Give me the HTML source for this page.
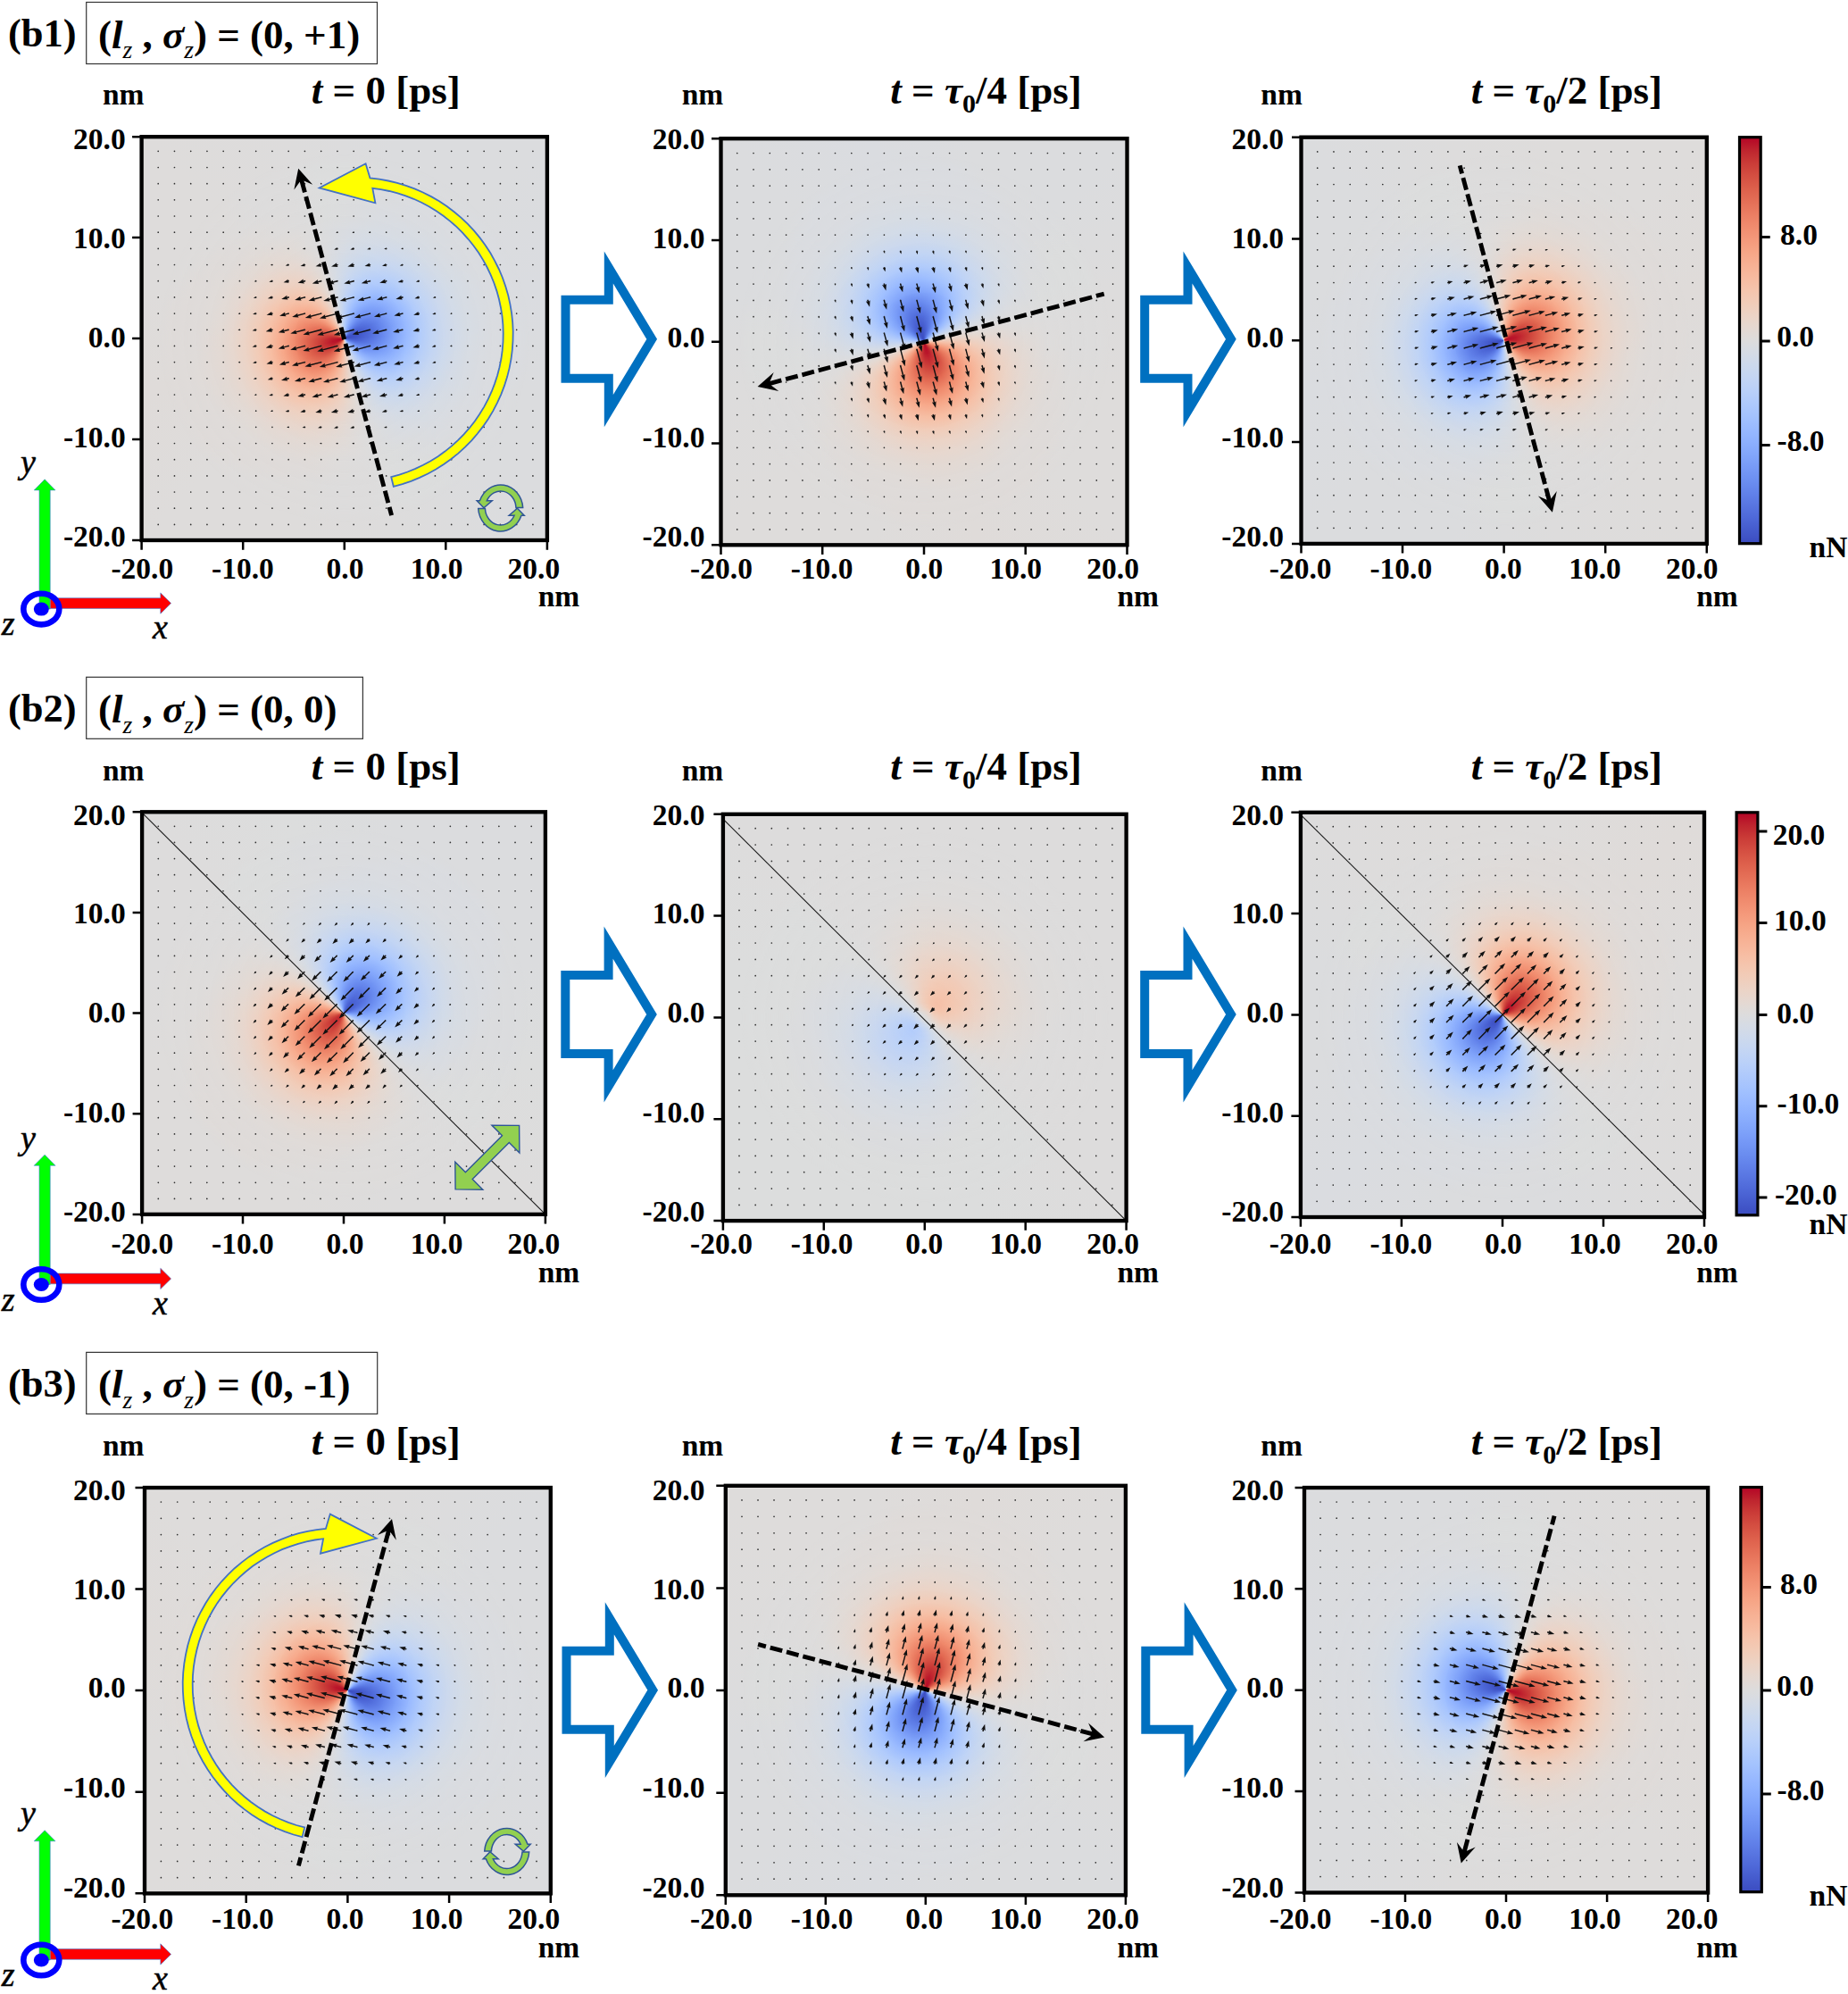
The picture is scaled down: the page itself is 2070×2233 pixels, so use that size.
<!DOCTYPE html>
<html><head><meta charset="utf-8"><title>figure</title>
<style>
html,body{margin:0;padding:0;background:#fff}
body{width:2070px;height:2233px;position:relative;overflow:hidden}
.hm{position:absolute;overflow:hidden;background:#dddcdc}
.hm i{position:absolute;display:block;border-radius:50%}
svg{position:absolute;left:0;top:0}
svg text{font-family:"Liberation Serif", "Times New Roman", serif;font-weight:bold;font-size:33.5px;fill:#000}
</style></head><body>
<div class="hm" style="left:158.6px;top:153.2px;width:454.3px;height:451.8px;background:conic-gradient(from 255deg,#dfdbd9 0deg,#dedcdb 30deg,#dedcdb 60deg,#dddcdc 90deg,#dbdcde 120deg,#dbdcde 150deg,#dadce0 180deg,#dbdcde 210deg,#dbdcde 240deg,#dddcdc 270deg,#dedcdb 300deg,#dedcdb 330deg,#dfdbd9 360deg)"><i style="left:20px;top:19.9px;width:414.4px;height:412.1px;background:conic-gradient(from 255deg,#dfdbd9 0deg,#dfdbd9 12deg,#dfdbd9 24deg,#dedcdb 36deg,#dedcdb 48deg,#dedcdb 60deg,#dddcdc 72deg,#dddcdc 84deg,#dcdddd 96deg,#dcdddd 108deg,#dbdcde 120deg,#dbdcde 132deg,#dbdcde 144deg,#dadce0 156deg,#dadce0 168deg,#dadce0 180deg,#dadce0 192deg,#dadce0 204deg,#dbdcde 216deg,#dbdcde 228deg,#dbdcde 240deg,#dcdddd 252deg,#dcdddd 264deg,#dddcdc 276deg,#dddcdc 288deg,#dedcdb 300deg,#dedcdb 312deg,#dedcdb 324deg,#dfdbd9 336deg,#dfdbd9 348deg,#dfdbd9 360deg);-webkit-mask-image:radial-gradient(closest-side,#000 93.33%,transparent 100%);mask-image:radial-gradient(closest-side,#000 93.33%,transparent 100%)"></i><i style="left:33.8px;top:33.6px;width:386.7px;height:384.6px;background:conic-gradient(from 255deg,#dfdbd9 0deg,#dfdbd9 12deg,#dfdbd9 24deg,#dfdbd9 36deg,#dedcdb 48deg,#dedcdb 60deg,#dddcdc 72deg,#dddcdc 84deg,#dcdddd 96deg,#dcdddd 108deg,#dbdcde 120deg,#dbdcde 132deg,#dadce0 144deg,#dadce0 156deg,#dadce0 168deg,#dadce0 180deg,#dadce0 192deg,#dadce0 204deg,#dadce0 216deg,#dbdcde 228deg,#dbdcde 240deg,#dcdddd 252deg,#dcdddd 264deg,#dddcdc 276deg,#dddcdc 288deg,#dedcdb 300deg,#dedcdb 312deg,#dfdbd9 324deg,#dfdbd9 336deg,#dfdbd9 348deg,#dfdbd9 360deg);-webkit-mask-image:radial-gradient(closest-side,#000 92.86%,transparent 100%);mask-image:radial-gradient(closest-side,#000 92.86%,transparent 100%)"></i><i style="left:47.6px;top:47.3px;width:359.1px;height:357.1px;background:conic-gradient(from 255deg,#e0dbd8 0deg,#dfdbd9 12deg,#dfdbd9 24deg,#dfdbd9 36deg,#dfdbd9 48deg,#dedcdb 60deg,#dddcdc 72deg,#dddcdc 84deg,#dcdddd 96deg,#dcdddd 108deg,#dbdcde 120deg,#dadce0 132deg,#dadce0 144deg,#dadce0 156deg,#dadce0 168deg,#d9dce1 180deg,#dadce0 192deg,#dadce0 204deg,#dadce0 216deg,#dadce0 228deg,#dbdcde 240deg,#dcdddd 252deg,#dcdddd 264deg,#dddcdc 276deg,#dddcdc 288deg,#dedcdb 300deg,#dfdbd9 312deg,#dfdbd9 324deg,#dfdbd9 336deg,#dfdbd9 348deg,#e0dbd8 360deg);-webkit-mask-image:radial-gradient(closest-side,#000 92.31%,transparent 100%);mask-image:radial-gradient(closest-side,#000 92.31%,transparent 100%)"></i><i style="left:61.4px;top:61.1px;width:331.5px;height:329.7px;background:conic-gradient(from 255deg,#e1dad6 0deg,#e1dad6 12deg,#e0dbd8 24deg,#e0dbd8 36deg,#dfdbd9 48deg,#dfdbd9 60deg,#dedcdb 72deg,#dddcdc 84deg,#dcdddd 96deg,#dbdcde 108deg,#dadce0 120deg,#dadce0 132deg,#d9dce1 144deg,#d9dce1 156deg,#d8dce2 168deg,#d8dce2 180deg,#d8dce2 192deg,#d9dce1 204deg,#d9dce1 216deg,#dadce0 228deg,#dadce0 240deg,#dbdcde 252deg,#dcdddd 264deg,#dddcdc 276deg,#dedcdb 288deg,#dfdbd9 300deg,#dfdbd9 312deg,#e0dbd8 324deg,#e0dbd8 336deg,#e1dad6 348deg,#e1dad6 360deg);-webkit-mask-image:radial-gradient(closest-side,#000 91.67%,transparent 100%);mask-image:radial-gradient(closest-side,#000 91.67%,transparent 100%)"></i><i style="left:75.2px;top:74.8px;width:303.9px;height:302.2px;background:conic-gradient(from 255deg,#e3d9d3 0deg,#e3d9d3 12deg,#e2dad5 24deg,#e2dad5 36deg,#e1dad6 48deg,#e0dbd8 60deg,#dedcdb 72deg,#dddcdc 84deg,#dcdddd 96deg,#dbdcde 108deg,#d9dce1 120deg,#d8dce2 132deg,#d7dce3 144deg,#d7dce3 156deg,#d6dce4 168deg,#d6dce4 180deg,#d6dce4 192deg,#d7dce3 204deg,#d7dce3 216deg,#d8dce2 228deg,#d9dce1 240deg,#dbdcde 252deg,#dcdddd 264deg,#dddcdc 276deg,#dedcdb 288deg,#e0dbd8 300deg,#e1dad6 312deg,#e2dad5 324deg,#e2dad5 336deg,#e3d9d3 348deg,#e3d9d3 360deg);-webkit-mask-image:radial-gradient(closest-side,#000 90.91%,transparent 100%);mask-image:radial-gradient(closest-side,#000 90.91%,transparent 100%)"></i><i style="left:89px;top:88.5px;width:276.2px;height:274.7px;background:conic-gradient(from 255deg,#e7d7ce 0deg,#e7d7ce 12deg,#e6d7cf 24deg,#e5d8d1 36deg,#e3d9d3 48deg,#e2dad5 60deg,#e0dbd8 72deg,#dedcdb 84deg,#dbdcde 96deg,#d9dce1 108deg,#d7dce3 120deg,#d6dce4 132deg,#d4dbe6 144deg,#d3dbe7 156deg,#d2dbe8 168deg,#d2dbe8 180deg,#d2dbe8 192deg,#d3dbe7 204deg,#d4dbe6 216deg,#d6dce4 228deg,#d7dce3 240deg,#d9dce1 252deg,#dbdcde 264deg,#dedcdb 276deg,#e0dbd8 288deg,#e2dad5 300deg,#e3d9d3 312deg,#e5d8d1 324deg,#e6d7cf 336deg,#e7d7ce 348deg,#e7d7ce 360deg);-webkit-mask-image:radial-gradient(closest-side,#000 90.00%,transparent 100%);mask-image:radial-gradient(closest-side,#000 90.00%,transparent 100%)"></i><i style="left:102.8px;top:102.3px;width:248.6px;height:247.2px;background:conic-gradient(from 255deg,#ecd3c5 0deg,#ecd3c5 12deg,#ebd3c6 24deg,#ead5c9 36deg,#e8d6cc 48deg,#e5d8d1 60deg,#e2dad5 72deg,#dedcdb 84deg,#dbdcde 96deg,#d7dce3 108deg,#d4dbe6 120deg,#d1dae9 132deg,#cedaeb 144deg,#ccd9ed 156deg,#cbd8ee 168deg,#cbd8ee 180deg,#cbd8ee 192deg,#ccd9ed 204deg,#cedaeb 216deg,#d1dae9 228deg,#d4dbe6 240deg,#d7dce3 252deg,#dbdcde 264deg,#dedcdb 276deg,#e2dad5 288deg,#e5d8d1 300deg,#e8d6cc 312deg,#ead5c9 324deg,#ebd3c6 336deg,#ecd3c5 348deg,#ecd3c5 360deg);-webkit-mask-image:radial-gradient(closest-side,#000 88.89%,transparent 100%);mask-image:radial-gradient(closest-side,#000 88.89%,transparent 100%)"></i><i style="left:116.7px;top:116px;width:221px;height:219.8px;background:conic-gradient(from 255deg,#f2cab5 0deg,#f2cbb7 12deg,#f1ccb8 24deg,#efcebd 36deg,#edd2c3 48deg,#ead5c9 60deg,#e5d8d1 72deg,#dfdbd9 84deg,#dadce0 96deg,#d4dbe6 108deg,#cedaeb 120deg,#cad8ef 132deg,#c5d6f2 144deg,#c1d4f4 156deg,#c0d4f5 168deg,#bfd3f6 180deg,#c0d4f5 192deg,#c1d4f4 204deg,#c5d6f2 216deg,#cad8ef 228deg,#cedaeb 240deg,#d4dbe6 252deg,#dadce0 264deg,#dfdbd9 276deg,#e5d8d1 288deg,#ead5c9 300deg,#edd2c3 312deg,#efcebd 324deg,#f1ccb8 336deg,#f2cbb7 348deg,#f2cab5 360deg);-webkit-mask-image:radial-gradient(closest-side,#000 87.50%,transparent 100%);mask-image:radial-gradient(closest-side,#000 87.50%,transparent 100%)"></i><i style="left:130.5px;top:129.7px;width:193.4px;height:192.3px;background:conic-gradient(from 255deg,#f7bca1 0deg,#f6bda2 12deg,#f6bfa6 24deg,#f5c4ac 36deg,#f2cab5 48deg,#eed0c0 60deg,#e9d5cb 72deg,#e1dad6 84deg,#d8dce2 96deg,#cfdaea 108deg,#c7d7f0 120deg,#bfd3f6 132deg,#b7cff9 144deg,#b2ccfb 156deg,#afcafc 168deg,#aec9fc 180deg,#afcafc 192deg,#b2ccfb 204deg,#b7cff9 216deg,#bfd3f6 228deg,#c7d7f0 240deg,#cfdaea 252deg,#d8dce2 264deg,#e1dad6 276deg,#e9d5cb 288deg,#eed0c0 300deg,#f2cab5 312deg,#f5c4ac 324deg,#f6bfa6 336deg,#f6bda2 348deg,#f7bca1 360deg);-webkit-mask-image:radial-gradient(closest-side,#000 85.71%,transparent 100%);mask-image:radial-gradient(closest-side,#000 85.71%,transparent 100%)"></i><i style="left:144.3px;top:143.5px;width:165.7px;height:164.8px;background:conic-gradient(from 255deg,#f6a586 0deg,#f7a688 12deg,#f7ac8e 24deg,#f7b497 36deg,#f6bea4 48deg,#f3c8b2 60deg,#edd2c3 72deg,#e2dad5 84deg,#d7dce3 96deg,#cad8ef 108deg,#bcd2f7 120deg,#b1cbfc 132deg,#a6c4fe 144deg,#9ebeff 156deg,#98b9ff 168deg,#97b8ff 180deg,#98b9ff 192deg,#9ebeff 204deg,#a6c4fe 216deg,#b1cbfc 228deg,#bcd2f7 240deg,#cad8ef 252deg,#d7dce3 264deg,#e2dad5 276deg,#edd2c3 288deg,#f3c8b2 300deg,#f6bea4 312deg,#f7b497 324deg,#f7ac8e 336deg,#f7a688 348deg,#f6a586 360deg);-webkit-mask-image:radial-gradient(closest-side,#000 83.33%,transparent 100%);mask-image:radial-gradient(closest-side,#000 83.33%,transparent 100%)"></i><i style="left:158.1px;top:157.2px;width:138.1px;height:137.4px;background:conic-gradient(from 255deg,#ee8669 0deg,#f08a6c 12deg,#f29072 24deg,#f59d7e 36deg,#f7ad90 48deg,#f6bea4 60deg,#f1cdba 72deg,#e4d9d2 84deg,#d5dbe5 96deg,#c3d5f4 108deg,#b1cbfc 120deg,#9fbfff 132deg,#90b2fe 144deg,#85a8fc 156deg,#80a3fa 168deg,#7da0f9 180deg,#80a3fa 192deg,#85a8fc 204deg,#90b2fe 216deg,#9fbfff 228deg,#b1cbfc 240deg,#c3d5f4 252deg,#d5dbe5 264deg,#e4d9d2 276deg,#f1cdba 288deg,#f6bea4 300deg,#f7ad90 312deg,#f59d7e 324deg,#f29072 336deg,#f08a6c 348deg,#ee8669 360deg);-webkit-mask-image:radial-gradient(closest-side,#000 80.00%,transparent 100%);mask-image:radial-gradient(closest-side,#000 80.00%,transparent 100%)"></i><i style="left:171.9px;top:171px;width:110.5px;height:109.9px;background:conic-gradient(from 255deg,#de614d 0deg,#e0654f 12deg,#e67259 24deg,#ee8468 36deg,#f49a7b 48deg,#f7b194 60deg,#f3c7b1 72deg,#e6d7cf 84deg,#d3dbe7 96deg,#bbd1f8 108deg,#a3c2fe 120deg,#8db0fe 132deg,#7b9ff9 144deg,#6e90f2 156deg,#6485ec 168deg,#6282ea 180deg,#6485ec 192deg,#6e90f2 204deg,#7b9ff9 216deg,#8db0fe 228deg,#a3c2fe 240deg,#bbd1f8 252deg,#d3dbe7 264deg,#e6d7cf 276deg,#f3c7b1 288deg,#f7b194 300deg,#f49a7b 312deg,#ee8468 324deg,#e67259 336deg,#e0654f 348deg,#de614d 360deg);-webkit-mask-image:radial-gradient(closest-side,#000 75.00%,transparent 100%);mask-image:radial-gradient(closest-side,#000 75.00%,transparent 100%)"></i><i style="left:185.7px;top:184.7px;width:82.9px;height:82.4px;background:conic-gradient(from 255deg,#ca3b37 0deg,#cd423b 12deg,#d65244 24deg,#e36b54 36deg,#ee8669 48deg,#f6a586 60deg,#f5c1a9 72deg,#e8d6cc 84deg,#d1dae9 96deg,#b5cdfa 108deg,#97b8ff 120deg,#7da0f9 132deg,#688aef 144deg,#5977e3 156deg,#506bda 168deg,#4c66d6 180deg,#506bda 192deg,#5977e3 204deg,#688aef 216deg,#7da0f9 228deg,#97b8ff 240deg,#b5cdfa 252deg,#d1dae9 264deg,#e8d6cc 276deg,#f5c1a9 288deg,#f6a586 300deg,#ee8669 312deg,#e36b54 324deg,#d65244 336deg,#cd423b 348deg,#ca3b37 360deg);-webkit-mask-image:radial-gradient(closest-side,#000 66.67%,transparent 100%);mask-image:radial-gradient(closest-side,#000 66.67%,transparent 100%)"></i><i style="left:199.5px;top:198.4px;width:55.2px;height:54.9px;background:conic-gradient(from 255deg,#ba162b 0deg,#bd1f2d 12deg,#c83836 24deg,#d85646 36deg,#e97a5f 48deg,#f59d7e 60deg,#f6bda2 72deg,#e9d5cb 84deg,#cfdaea 96deg,#afcafc 108deg,#90b2fe 120deg,#7396f5 132deg,#5b7ae5 144deg,#4b64d5 156deg,#4257c9 168deg,#3f53c6 180deg,#4257c9 192deg,#4b64d5 204deg,#5b7ae5 216deg,#7396f5 228deg,#90b2fe 240deg,#afcafc 252deg,#cfdaea 264deg,#e9d5cb 276deg,#f6bda2 288deg,#f59d7e 300deg,#e97a5f 312deg,#d85646 324deg,#c83836 336deg,#bd1f2d 348deg,#ba162b 360deg);-webkit-mask-image:radial-gradient(closest-side,#000 50.00%,transparent 100%);mask-image:radial-gradient(closest-side,#000 50.00%,transparent 100%)"></i><i style="left:213.3px;top:212.2px;width:27.6px;height:27.5px;background:conic-gradient(from 255deg,#b40426 0deg,#b70d28 12deg,#c43032 24deg,#d55042 36deg,#e7745b 48deg,#f4987a 60deg,#f7bca1 72deg,#ead5c9 84deg,#cedaeb 96deg,#aec9fc 108deg,#8db0fe 120deg,#6f92f3 132deg,#5875e1 144deg,#485fd1 156deg,#3d50c3 168deg,#3b4cc0 180deg,#3d50c3 192deg,#485fd1 204deg,#5875e1 216deg,#6f92f3 228deg,#8caffe 240deg,#aec9fc 252deg,#cedaeb 264deg,#ead5c9 276deg,#f7bca1 288deg,#f4987a 300deg,#e7745b 312deg,#d55042 324deg,#c43032 336deg,#b70d28 348deg,#b40426 360deg);-webkit-mask-image:radial-gradient(closest-side,#000 0.00%,transparent 100%);mask-image:radial-gradient(closest-side,#000 0.00%,transparent 100%)"></i></div>
<div class="hm" style="left:807.5px;top:155.2px;width:455px;height:455.1px;background:conic-gradient(from 165deg,#dfdbd9 0deg,#dedcdb 30deg,#dedcdb 60deg,#dddcdc 90deg,#dbdcde 120deg,#dbdcde 150deg,#dadce0 180deg,#dbdcde 210deg,#dbdcde 240deg,#dddcdc 270deg,#dedcdb 300deg,#dedcdb 330deg,#dfdbd9 360deg)"><i style="left:20px;top:20px;width:415px;height:415.1px;background:conic-gradient(from 165deg,#dfdbd9 0deg,#dfdbd9 12deg,#dfdbd9 24deg,#dedcdb 36deg,#dedcdb 48deg,#dedcdb 60deg,#dddcdc 72deg,#dddcdc 84deg,#dcdddd 96deg,#dcdddd 108deg,#dbdcde 120deg,#dbdcde 132deg,#dbdcde 144deg,#dadce0 156deg,#dadce0 168deg,#dadce0 180deg,#dadce0 192deg,#dadce0 204deg,#dbdcde 216deg,#dbdcde 228deg,#dbdcde 240deg,#dcdddd 252deg,#dcdddd 264deg,#dddcdc 276deg,#dddcdc 288deg,#dedcdb 300deg,#dedcdb 312deg,#dedcdb 324deg,#dfdbd9 336deg,#dfdbd9 348deg,#dfdbd9 360deg);-webkit-mask-image:radial-gradient(closest-side,#000 93.33%,transparent 100%);mask-image:radial-gradient(closest-side,#000 93.33%,transparent 100%)"></i><i style="left:33.8px;top:33.8px;width:387.3px;height:387.4px;background:conic-gradient(from 165deg,#dfdbd9 0deg,#dfdbd9 12deg,#dfdbd9 24deg,#dfdbd9 36deg,#dedcdb 48deg,#dedcdb 60deg,#dddcdc 72deg,#dddcdc 84deg,#dcdddd 96deg,#dcdddd 108deg,#dbdcde 120deg,#dbdcde 132deg,#dadce0 144deg,#dadce0 156deg,#dadce0 168deg,#dadce0 180deg,#dadce0 192deg,#dadce0 204deg,#dadce0 216deg,#dbdcde 228deg,#dbdcde 240deg,#dcdddd 252deg,#dcdddd 264deg,#dddcdc 276deg,#dddcdc 288deg,#dedcdb 300deg,#dedcdb 312deg,#dfdbd9 324deg,#dfdbd9 336deg,#dfdbd9 348deg,#dfdbd9 360deg);-webkit-mask-image:radial-gradient(closest-side,#000 92.86%,transparent 100%);mask-image:radial-gradient(closest-side,#000 92.86%,transparent 100%)"></i><i style="left:47.7px;top:47.7px;width:359.7px;height:359.7px;background:conic-gradient(from 165deg,#e0dbd8 0deg,#dfdbd9 12deg,#dfdbd9 24deg,#dfdbd9 36deg,#dfdbd9 48deg,#dedcdb 60deg,#dddcdc 72deg,#dddcdc 84deg,#dcdddd 96deg,#dcdddd 108deg,#dbdcde 120deg,#dadce0 132deg,#dadce0 144deg,#dadce0 156deg,#dadce0 168deg,#d9dce1 180deg,#dadce0 192deg,#dadce0 204deg,#dadce0 216deg,#dadce0 228deg,#dbdcde 240deg,#dcdddd 252deg,#dcdddd 264deg,#dddcdc 276deg,#dddcdc 288deg,#dedcdb 300deg,#dfdbd9 312deg,#dfdbd9 324deg,#dfdbd9 336deg,#dfdbd9 348deg,#e0dbd8 360deg);-webkit-mask-image:radial-gradient(closest-side,#000 92.31%,transparent 100%);mask-image:radial-gradient(closest-side,#000 92.31%,transparent 100%)"></i><i style="left:61.5px;top:61.5px;width:332px;height:332.1px;background:conic-gradient(from 165deg,#e1dad6 0deg,#e1dad6 12deg,#e0dbd8 24deg,#e0dbd8 36deg,#dfdbd9 48deg,#dfdbd9 60deg,#dedcdb 72deg,#dddcdc 84deg,#dcdddd 96deg,#dbdcde 108deg,#dadce0 120deg,#dadce0 132deg,#d9dce1 144deg,#d9dce1 156deg,#d8dce2 168deg,#d8dce2 180deg,#d8dce2 192deg,#d9dce1 204deg,#d9dce1 216deg,#dadce0 228deg,#dadce0 240deg,#dbdcde 252deg,#dcdddd 264deg,#dddcdc 276deg,#dedcdb 288deg,#dfdbd9 300deg,#dfdbd9 312deg,#e0dbd8 324deg,#e0dbd8 336deg,#e1dad6 348deg,#e1dad6 360deg);-webkit-mask-image:radial-gradient(closest-side,#000 91.67%,transparent 100%);mask-image:radial-gradient(closest-side,#000 91.67%,transparent 100%)"></i><i style="left:75.3px;top:75.4px;width:304.3px;height:304.4px;background:conic-gradient(from 165deg,#e3d9d3 0deg,#e3d9d3 12deg,#e2dad5 24deg,#e2dad5 36deg,#e1dad6 48deg,#e0dbd8 60deg,#dedcdb 72deg,#dddcdc 84deg,#dcdddd 96deg,#dbdcde 108deg,#d9dce1 120deg,#d8dce2 132deg,#d7dce3 144deg,#d7dce3 156deg,#d6dce4 168deg,#d6dce4 180deg,#d6dce4 192deg,#d7dce3 204deg,#d7dce3 216deg,#d8dce2 228deg,#d9dce1 240deg,#dbdcde 252deg,#dcdddd 264deg,#dddcdc 276deg,#dedcdb 288deg,#e0dbd8 300deg,#e1dad6 312deg,#e2dad5 324deg,#e2dad5 336deg,#e3d9d3 348deg,#e3d9d3 360deg);-webkit-mask-image:radial-gradient(closest-side,#000 90.91%,transparent 100%);mask-image:radial-gradient(closest-side,#000 90.91%,transparent 100%)"></i><i style="left:89.2px;top:89.2px;width:276.7px;height:276.7px;background:conic-gradient(from 165deg,#e7d7ce 0deg,#e7d7ce 12deg,#e6d7cf 24deg,#e5d8d1 36deg,#e3d9d3 48deg,#e2dad5 60deg,#e0dbd8 72deg,#dedcdb 84deg,#dbdcde 96deg,#d9dce1 108deg,#d7dce3 120deg,#d6dce4 132deg,#d4dbe6 144deg,#d3dbe7 156deg,#d2dbe8 168deg,#d2dbe8 180deg,#d2dbe8 192deg,#d3dbe7 204deg,#d4dbe6 216deg,#d6dce4 228deg,#d7dce3 240deg,#d9dce1 252deg,#dbdcde 264deg,#dedcdb 276deg,#e0dbd8 288deg,#e2dad5 300deg,#e3d9d3 312deg,#e5d8d1 324deg,#e6d7cf 336deg,#e7d7ce 348deg,#e7d7ce 360deg);-webkit-mask-image:radial-gradient(closest-side,#000 90.00%,transparent 100%);mask-image:radial-gradient(closest-side,#000 90.00%,transparent 100%)"></i><i style="left:103px;top:103px;width:249px;height:249.1px;background:conic-gradient(from 165deg,#ecd3c5 0deg,#ecd3c5 12deg,#ebd3c6 24deg,#ead5c9 36deg,#e8d6cc 48deg,#e5d8d1 60deg,#e2dad5 72deg,#dedcdb 84deg,#dbdcde 96deg,#d7dce3 108deg,#d4dbe6 120deg,#d1dae9 132deg,#cedaeb 144deg,#ccd9ed 156deg,#cbd8ee 168deg,#cbd8ee 180deg,#cbd8ee 192deg,#ccd9ed 204deg,#cedaeb 216deg,#d1dae9 228deg,#d4dbe6 240deg,#d7dce3 252deg,#dbdcde 264deg,#dedcdb 276deg,#e2dad5 288deg,#e5d8d1 300deg,#e8d6cc 312deg,#ead5c9 324deg,#ebd3c6 336deg,#ecd3c5 348deg,#ecd3c5 360deg);-webkit-mask-image:radial-gradient(closest-side,#000 88.89%,transparent 100%);mask-image:radial-gradient(closest-side,#000 88.89%,transparent 100%)"></i><i style="left:116.8px;top:116.9px;width:221.3px;height:221.4px;background:conic-gradient(from 165deg,#f2cab5 0deg,#f2cbb7 12deg,#f1ccb8 24deg,#efcebd 36deg,#edd2c3 48deg,#ead5c9 60deg,#e5d8d1 72deg,#dfdbd9 84deg,#dadce0 96deg,#d4dbe6 108deg,#cedaeb 120deg,#cad8ef 132deg,#c5d6f2 144deg,#c1d4f4 156deg,#c0d4f5 168deg,#bfd3f6 180deg,#c0d4f5 192deg,#c1d4f4 204deg,#c5d6f2 216deg,#cad8ef 228deg,#cedaeb 240deg,#d4dbe6 252deg,#dadce0 264deg,#dfdbd9 276deg,#e5d8d1 288deg,#ead5c9 300deg,#edd2c3 312deg,#efcebd 324deg,#f1ccb8 336deg,#f2cbb7 348deg,#f2cab5 360deg);-webkit-mask-image:radial-gradient(closest-side,#000 87.50%,transparent 100%);mask-image:radial-gradient(closest-side,#000 87.50%,transparent 100%)"></i><i style="left:130.7px;top:130.7px;width:193.7px;height:193.7px;background:conic-gradient(from 165deg,#f7bca1 0deg,#f6bda2 12deg,#f6bfa6 24deg,#f5c4ac 36deg,#f2cab5 48deg,#eed0c0 60deg,#e9d5cb 72deg,#e1dad6 84deg,#d8dce2 96deg,#cfdaea 108deg,#c7d7f0 120deg,#bfd3f6 132deg,#b7cff9 144deg,#b2ccfb 156deg,#afcafc 168deg,#aec9fc 180deg,#afcafc 192deg,#b2ccfb 204deg,#b7cff9 216deg,#bfd3f6 228deg,#c7d7f0 240deg,#cfdaea 252deg,#d8dce2 264deg,#e1dad6 276deg,#e9d5cb 288deg,#eed0c0 300deg,#f2cab5 312deg,#f5c4ac 324deg,#f6bfa6 336deg,#f6bda2 348deg,#f7bca1 360deg);-webkit-mask-image:radial-gradient(closest-side,#000 85.71%,transparent 100%);mask-image:radial-gradient(closest-side,#000 85.71%,transparent 100%)"></i><i style="left:144.5px;top:144.5px;width:166px;height:166px;background:conic-gradient(from 165deg,#f6a586 0deg,#f7a688 12deg,#f7ac8e 24deg,#f7b497 36deg,#f6bea4 48deg,#f3c8b2 60deg,#edd2c3 72deg,#e2dad5 84deg,#d7dce3 96deg,#cad8ef 108deg,#bcd2f7 120deg,#b1cbfc 132deg,#a6c4fe 144deg,#9ebeff 156deg,#98b9ff 168deg,#97b8ff 180deg,#98b9ff 192deg,#9ebeff 204deg,#a6c4fe 216deg,#b1cbfc 228deg,#bcd2f7 240deg,#cad8ef 252deg,#d7dce3 264deg,#e2dad5 276deg,#edd2c3 288deg,#f3c8b2 300deg,#f6bea4 312deg,#f7b497 324deg,#f7ac8e 336deg,#f7a688 348deg,#f6a586 360deg);-webkit-mask-image:radial-gradient(closest-side,#000 83.33%,transparent 100%);mask-image:radial-gradient(closest-side,#000 83.33%,transparent 100%)"></i><i style="left:158.3px;top:158.4px;width:138.3px;height:138.4px;background:conic-gradient(from 165deg,#ee8669 0deg,#f08a6c 12deg,#f29072 24deg,#f59d7e 36deg,#f7ad90 48deg,#f6bea4 60deg,#f1cdba 72deg,#e4d9d2 84deg,#d5dbe5 96deg,#c3d5f4 108deg,#b1cbfc 120deg,#9fbfff 132deg,#90b2fe 144deg,#85a8fc 156deg,#80a3fa 168deg,#7da0f9 180deg,#80a3fa 192deg,#85a8fc 204deg,#90b2fe 216deg,#9fbfff 228deg,#b1cbfc 240deg,#c3d5f4 252deg,#d5dbe5 264deg,#e4d9d2 276deg,#f1cdba 288deg,#f6bea4 300deg,#f7ad90 312deg,#f59d7e 324deg,#f29072 336deg,#f08a6c 348deg,#ee8669 360deg);-webkit-mask-image:radial-gradient(closest-side,#000 80.00%,transparent 100%);mask-image:radial-gradient(closest-side,#000 80.00%,transparent 100%)"></i><i style="left:172.2px;top:172.2px;width:110.7px;height:110.7px;background:conic-gradient(from 165deg,#de614d 0deg,#e0654f 12deg,#e67259 24deg,#ee8468 36deg,#f49a7b 48deg,#f7b194 60deg,#f3c7b1 72deg,#e6d7cf 84deg,#d3dbe7 96deg,#bbd1f8 108deg,#a3c2fe 120deg,#8db0fe 132deg,#7b9ff9 144deg,#6e90f2 156deg,#6485ec 168deg,#6282ea 180deg,#6485ec 192deg,#6e90f2 204deg,#7b9ff9 216deg,#8db0fe 228deg,#a3c2fe 240deg,#bbd1f8 252deg,#d3dbe7 264deg,#e6d7cf 276deg,#f3c7b1 288deg,#f7b194 300deg,#f49a7b 312deg,#ee8468 324deg,#e67259 336deg,#e0654f 348deg,#de614d 360deg);-webkit-mask-image:radial-gradient(closest-side,#000 75.00%,transparent 100%);mask-image:radial-gradient(closest-side,#000 75.00%,transparent 100%)"></i><i style="left:186px;top:186px;width:83px;height:83px;background:conic-gradient(from 165deg,#ca3b37 0deg,#cd423b 12deg,#d65244 24deg,#e36b54 36deg,#ee8669 48deg,#f6a586 60deg,#f5c1a9 72deg,#e8d6cc 84deg,#d1dae9 96deg,#b5cdfa 108deg,#97b8ff 120deg,#7da0f9 132deg,#688aef 144deg,#5977e3 156deg,#506bda 168deg,#4c66d6 180deg,#506bda 192deg,#5977e3 204deg,#688aef 216deg,#7da0f9 228deg,#97b8ff 240deg,#b5cdfa 252deg,#d1dae9 264deg,#e8d6cc 276deg,#f5c1a9 288deg,#f6a586 300deg,#ee8669 312deg,#e36b54 324deg,#d65244 336deg,#cd423b 348deg,#ca3b37 360deg);-webkit-mask-image:radial-gradient(closest-side,#000 66.67%,transparent 100%);mask-image:radial-gradient(closest-side,#000 66.67%,transparent 100%)"></i><i style="left:199.8px;top:199.9px;width:55.3px;height:55.3px;background:conic-gradient(from 165deg,#ba162b 0deg,#bd1f2d 12deg,#c83836 24deg,#d85646 36deg,#e97a5f 48deg,#f59d7e 60deg,#f6bda2 72deg,#e9d5cb 84deg,#cfdaea 96deg,#afcafc 108deg,#90b2fe 120deg,#7396f5 132deg,#5b7ae5 144deg,#4b64d5 156deg,#4257c9 168deg,#3f53c6 180deg,#4257c9 192deg,#4b64d5 204deg,#5b7ae5 216deg,#7396f5 228deg,#90b2fe 240deg,#afcafc 252deg,#cfdaea 264deg,#e9d5cb 276deg,#f6bda2 288deg,#f59d7e 300deg,#e97a5f 312deg,#d85646 324deg,#c83836 336deg,#bd1f2d 348deg,#ba162b 360deg);-webkit-mask-image:radial-gradient(closest-side,#000 50.00%,transparent 100%);mask-image:radial-gradient(closest-side,#000 50.00%,transparent 100%)"></i><i style="left:213.7px;top:213.7px;width:27.7px;height:27.7px;background:conic-gradient(from 165deg,#b40426 0deg,#b70d28 12deg,#c43032 24deg,#d55042 36deg,#e7745b 48deg,#f4987a 60deg,#f7bca1 72deg,#ead5c9 84deg,#cedaeb 96deg,#aec9fc 108deg,#8db0fe 120deg,#6f92f3 132deg,#5875e1 144deg,#485fd1 156deg,#3d50c3 168deg,#3b4cc0 180deg,#3d50c3 192deg,#485fd1 204deg,#5875e1 216deg,#6f92f3 228deg,#8caffe 240deg,#aec9fc 252deg,#cedaeb 264deg,#ead5c9 276deg,#f7bca1 288deg,#f4987a 300deg,#e7745b 312deg,#d55042 324deg,#c43032 336deg,#b70d28 348deg,#b40426 360deg);-webkit-mask-image:radial-gradient(closest-side,#000 0.00%,transparent 100%);mask-image:radial-gradient(closest-side,#000 0.00%,transparent 100%)"></i></div>
<div class="hm" style="left:1457.5px;top:153.7px;width:454.3px;height:455.2px;background:conic-gradient(from 75deg,#dfdbd9 0deg,#dedcdb 30deg,#dedcdb 60deg,#dddcdc 90deg,#dbdcde 120deg,#dbdcde 150deg,#dadce0 180deg,#dbdcde 210deg,#dbdcde 240deg,#dddcdc 270deg,#dedcdb 300deg,#dedcdb 330deg,#dfdbd9 360deg)"><i style="left:20px;top:20px;width:414.4px;height:415.2px;background:conic-gradient(from 75deg,#dfdbd9 0deg,#dfdbd9 12deg,#dfdbd9 24deg,#dedcdb 36deg,#dedcdb 48deg,#dedcdb 60deg,#dddcdc 72deg,#dddcdc 84deg,#dcdddd 96deg,#dcdddd 108deg,#dbdcde 120deg,#dbdcde 132deg,#dbdcde 144deg,#dadce0 156deg,#dadce0 168deg,#dadce0 180deg,#dadce0 192deg,#dadce0 204deg,#dbdcde 216deg,#dbdcde 228deg,#dbdcde 240deg,#dcdddd 252deg,#dcdddd 264deg,#dddcdc 276deg,#dddcdc 288deg,#dedcdb 300deg,#dedcdb 312deg,#dedcdb 324deg,#dfdbd9 336deg,#dfdbd9 348deg,#dfdbd9 360deg);-webkit-mask-image:radial-gradient(closest-side,#000 93.33%,transparent 100%);mask-image:radial-gradient(closest-side,#000 93.33%,transparent 100%)"></i><i style="left:33.8px;top:33.9px;width:386.8px;height:387.5px;background:conic-gradient(from 75deg,#dfdbd9 0deg,#dfdbd9 12deg,#dfdbd9 24deg,#dfdbd9 36deg,#dedcdb 48deg,#dedcdb 60deg,#dddcdc 72deg,#dddcdc 84deg,#dcdddd 96deg,#dcdddd 108deg,#dbdcde 120deg,#dbdcde 132deg,#dadce0 144deg,#dadce0 156deg,#dadce0 168deg,#dadce0 180deg,#dadce0 192deg,#dadce0 204deg,#dadce0 216deg,#dbdcde 228deg,#dbdcde 240deg,#dcdddd 252deg,#dcdddd 264deg,#dddcdc 276deg,#dddcdc 288deg,#dedcdb 300deg,#dedcdb 312deg,#dfdbd9 324deg,#dfdbd9 336deg,#dfdbd9 348deg,#dfdbd9 360deg);-webkit-mask-image:radial-gradient(closest-side,#000 92.86%,transparent 100%);mask-image:radial-gradient(closest-side,#000 92.86%,transparent 100%)"></i><i style="left:47.6px;top:47.7px;width:359.1px;height:359.8px;background:conic-gradient(from 75deg,#e0dbd8 0deg,#dfdbd9 12deg,#dfdbd9 24deg,#dfdbd9 36deg,#dfdbd9 48deg,#dedcdb 60deg,#dddcdc 72deg,#dddcdc 84deg,#dcdddd 96deg,#dcdddd 108deg,#dbdcde 120deg,#dadce0 132deg,#dadce0 144deg,#dadce0 156deg,#dadce0 168deg,#d9dce1 180deg,#dadce0 192deg,#dadce0 204deg,#dadce0 216deg,#dadce0 228deg,#dbdcde 240deg,#dcdddd 252deg,#dcdddd 264deg,#dddcdc 276deg,#dddcdc 288deg,#dedcdb 300deg,#dfdbd9 312deg,#dfdbd9 324deg,#dfdbd9 336deg,#dfdbd9 348deg,#e0dbd8 360deg);-webkit-mask-image:radial-gradient(closest-side,#000 92.31%,transparent 100%);mask-image:radial-gradient(closest-side,#000 92.31%,transparent 100%)"></i><i style="left:61.4px;top:61.5px;width:331.5px;height:332.1px;background:conic-gradient(from 75deg,#e1dad6 0deg,#e1dad6 12deg,#e0dbd8 24deg,#e0dbd8 36deg,#dfdbd9 48deg,#dfdbd9 60deg,#dedcdb 72deg,#dddcdc 84deg,#dcdddd 96deg,#dbdcde 108deg,#dadce0 120deg,#dadce0 132deg,#d9dce1 144deg,#d9dce1 156deg,#d8dce2 168deg,#d8dce2 180deg,#d8dce2 192deg,#d9dce1 204deg,#d9dce1 216deg,#dadce0 228deg,#dadce0 240deg,#dbdcde 252deg,#dcdddd 264deg,#dddcdc 276deg,#dedcdb 288deg,#dfdbd9 300deg,#dfdbd9 312deg,#e0dbd8 324deg,#e0dbd8 336deg,#e1dad6 348deg,#e1dad6 360deg);-webkit-mask-image:radial-gradient(closest-side,#000 91.67%,transparent 100%);mask-image:radial-gradient(closest-side,#000 91.67%,transparent 100%)"></i><i style="left:75.2px;top:75.4px;width:303.9px;height:304.5px;background:conic-gradient(from 75deg,#e3d9d3 0deg,#e3d9d3 12deg,#e2dad5 24deg,#e2dad5 36deg,#e1dad6 48deg,#e0dbd8 60deg,#dedcdb 72deg,#dddcdc 84deg,#dcdddd 96deg,#dbdcde 108deg,#d9dce1 120deg,#d8dce2 132deg,#d7dce3 144deg,#d7dce3 156deg,#d6dce4 168deg,#d6dce4 180deg,#d6dce4 192deg,#d7dce3 204deg,#d7dce3 216deg,#d8dce2 228deg,#d9dce1 240deg,#dbdcde 252deg,#dcdddd 264deg,#dddcdc 276deg,#dedcdb 288deg,#e0dbd8 300deg,#e1dad6 312deg,#e2dad5 324deg,#e2dad5 336deg,#e3d9d3 348deg,#e3d9d3 360deg);-webkit-mask-image:radial-gradient(closest-side,#000 90.91%,transparent 100%);mask-image:radial-gradient(closest-side,#000 90.91%,transparent 100%)"></i><i style="left:89px;top:89.2px;width:276.3px;height:276.8px;background:conic-gradient(from 75deg,#e7d7ce 0deg,#e7d7ce 12deg,#e6d7cf 24deg,#e5d8d1 36deg,#e3d9d3 48deg,#e2dad5 60deg,#e0dbd8 72deg,#dedcdb 84deg,#dbdcde 96deg,#d9dce1 108deg,#d7dce3 120deg,#d6dce4 132deg,#d4dbe6 144deg,#d3dbe7 156deg,#d2dbe8 168deg,#d2dbe8 180deg,#d2dbe8 192deg,#d3dbe7 204deg,#d4dbe6 216deg,#d6dce4 228deg,#d7dce3 240deg,#d9dce1 252deg,#dbdcde 264deg,#dedcdb 276deg,#e0dbd8 288deg,#e2dad5 300deg,#e3d9d3 312deg,#e5d8d1 324deg,#e6d7cf 336deg,#e7d7ce 348deg,#e7d7ce 360deg);-webkit-mask-image:radial-gradient(closest-side,#000 90.00%,transparent 100%);mask-image:radial-gradient(closest-side,#000 90.00%,transparent 100%)"></i><i style="left:102.9px;top:103px;width:248.6px;height:249.1px;background:conic-gradient(from 75deg,#ecd3c5 0deg,#ecd3c5 12deg,#ebd3c6 24deg,#ead5c9 36deg,#e8d6cc 48deg,#e5d8d1 60deg,#e2dad5 72deg,#dedcdb 84deg,#dbdcde 96deg,#d7dce3 108deg,#d4dbe6 120deg,#d1dae9 132deg,#cedaeb 144deg,#ccd9ed 156deg,#cbd8ee 168deg,#cbd8ee 180deg,#cbd8ee 192deg,#ccd9ed 204deg,#cedaeb 216deg,#d1dae9 228deg,#d4dbe6 240deg,#d7dce3 252deg,#dbdcde 264deg,#dedcdb 276deg,#e2dad5 288deg,#e5d8d1 300deg,#e8d6cc 312deg,#ead5c9 324deg,#ebd3c6 336deg,#ecd3c5 348deg,#ecd3c5 360deg);-webkit-mask-image:radial-gradient(closest-side,#000 88.89%,transparent 100%);mask-image:radial-gradient(closest-side,#000 88.89%,transparent 100%)"></i><i style="left:116.7px;top:116.9px;width:221px;height:221.4px;background:conic-gradient(from 75deg,#f2cab5 0deg,#f2cbb7 12deg,#f1ccb8 24deg,#efcebd 36deg,#edd2c3 48deg,#ead5c9 60deg,#e5d8d1 72deg,#dfdbd9 84deg,#dadce0 96deg,#d4dbe6 108deg,#cedaeb 120deg,#cad8ef 132deg,#c5d6f2 144deg,#c1d4f4 156deg,#c0d4f5 168deg,#bfd3f6 180deg,#c0d4f5 192deg,#c1d4f4 204deg,#c5d6f2 216deg,#cad8ef 228deg,#cedaeb 240deg,#d4dbe6 252deg,#dadce0 264deg,#dfdbd9 276deg,#e5d8d1 288deg,#ead5c9 300deg,#edd2c3 312deg,#efcebd 324deg,#f1ccb8 336deg,#f2cbb7 348deg,#f2cab5 360deg);-webkit-mask-image:radial-gradient(closest-side,#000 87.50%,transparent 100%);mask-image:radial-gradient(closest-side,#000 87.50%,transparent 100%)"></i><i style="left:130.5px;top:130.7px;width:193.4px;height:193.7px;background:conic-gradient(from 75deg,#f7bca1 0deg,#f6bda2 12deg,#f6bfa6 24deg,#f5c4ac 36deg,#f2cab5 48deg,#eed0c0 60deg,#e9d5cb 72deg,#e1dad6 84deg,#d8dce2 96deg,#cfdaea 108deg,#c7d7f0 120deg,#bfd3f6 132deg,#b7cff9 144deg,#b2ccfb 156deg,#afcafc 168deg,#aec9fc 180deg,#afcafc 192deg,#b2ccfb 204deg,#b7cff9 216deg,#bfd3f6 228deg,#c7d7f0 240deg,#cfdaea 252deg,#d8dce2 264deg,#e1dad6 276deg,#e9d5cb 288deg,#eed0c0 300deg,#f2cab5 312deg,#f5c4ac 324deg,#f6bfa6 336deg,#f6bda2 348deg,#f7bca1 360deg);-webkit-mask-image:radial-gradient(closest-side,#000 85.71%,transparent 100%);mask-image:radial-gradient(closest-side,#000 85.71%,transparent 100%)"></i><i style="left:144.3px;top:144.6px;width:165.8px;height:166.1px;background:conic-gradient(from 75deg,#f6a586 0deg,#f7a688 12deg,#f7ac8e 24deg,#f7b497 36deg,#f6bea4 48deg,#f3c8b2 60deg,#edd2c3 72deg,#e2dad5 84deg,#d7dce3 96deg,#cad8ef 108deg,#bcd2f7 120deg,#b1cbfc 132deg,#a6c4fe 144deg,#9ebeff 156deg,#98b9ff 168deg,#97b8ff 180deg,#98b9ff 192deg,#9ebeff 204deg,#a6c4fe 216deg,#b1cbfc 228deg,#bcd2f7 240deg,#cad8ef 252deg,#d7dce3 264deg,#e2dad5 276deg,#edd2c3 288deg,#f3c8b2 300deg,#f6bea4 312deg,#f7b497 324deg,#f7ac8e 336deg,#f7a688 348deg,#f6a586 360deg);-webkit-mask-image:radial-gradient(closest-side,#000 83.33%,transparent 100%);mask-image:radial-gradient(closest-side,#000 83.33%,transparent 100%)"></i><i style="left:158.1px;top:158.4px;width:138.1px;height:138.4px;background:conic-gradient(from 75deg,#ee8669 0deg,#f08a6c 12deg,#f29072 24deg,#f59d7e 36deg,#f7ad90 48deg,#f6bea4 60deg,#f1cdba 72deg,#e4d9d2 84deg,#d5dbe5 96deg,#c3d5f4 108deg,#b1cbfc 120deg,#9fbfff 132deg,#90b2fe 144deg,#85a8fc 156deg,#80a3fa 168deg,#7da0f9 180deg,#80a3fa 192deg,#85a8fc 204deg,#90b2fe 216deg,#9fbfff 228deg,#b1cbfc 240deg,#c3d5f4 252deg,#d5dbe5 264deg,#e4d9d2 276deg,#f1cdba 288deg,#f6bea4 300deg,#f7ad90 312deg,#f59d7e 324deg,#f29072 336deg,#f08a6c 348deg,#ee8669 360deg);-webkit-mask-image:radial-gradient(closest-side,#000 80.00%,transparent 100%);mask-image:radial-gradient(closest-side,#000 80.00%,transparent 100%)"></i><i style="left:171.9px;top:172.2px;width:110.5px;height:110.7px;background:conic-gradient(from 75deg,#de614d 0deg,#e0654f 12deg,#e67259 24deg,#ee8468 36deg,#f49a7b 48deg,#f7b194 60deg,#f3c7b1 72deg,#e6d7cf 84deg,#d3dbe7 96deg,#bbd1f8 108deg,#a3c2fe 120deg,#8db0fe 132deg,#7b9ff9 144deg,#6e90f2 156deg,#6485ec 168deg,#6282ea 180deg,#6485ec 192deg,#6e90f2 204deg,#7b9ff9 216deg,#8db0fe 228deg,#a3c2fe 240deg,#bbd1f8 252deg,#d3dbe7 264deg,#e6d7cf 276deg,#f3c7b1 288deg,#f7b194 300deg,#f49a7b 312deg,#ee8468 324deg,#e67259 336deg,#e0654f 348deg,#de614d 360deg);-webkit-mask-image:radial-gradient(closest-side,#000 75.00%,transparent 100%);mask-image:radial-gradient(closest-side,#000 75.00%,transparent 100%)"></i><i style="left:185.7px;top:186.1px;width:82.9px;height:83px;background:conic-gradient(from 75deg,#ca3b37 0deg,#cd423b 12deg,#d65244 24deg,#e36b54 36deg,#ee8669 48deg,#f6a586 60deg,#f5c1a9 72deg,#e8d6cc 84deg,#d1dae9 96deg,#b5cdfa 108deg,#97b8ff 120deg,#7da0f9 132deg,#688aef 144deg,#5977e3 156deg,#506bda 168deg,#4c66d6 180deg,#506bda 192deg,#5977e3 204deg,#688aef 216deg,#7da0f9 228deg,#97b8ff 240deg,#b5cdfa 252deg,#d1dae9 264deg,#e8d6cc 276deg,#f5c1a9 288deg,#f6a586 300deg,#ee8669 312deg,#e36b54 324deg,#d65244 336deg,#cd423b 348deg,#ca3b37 360deg);-webkit-mask-image:radial-gradient(closest-side,#000 66.67%,transparent 100%);mask-image:radial-gradient(closest-side,#000 66.67%,transparent 100%)"></i><i style="left:199.5px;top:199.9px;width:55.3px;height:55.4px;background:conic-gradient(from 75deg,#ba162b 0deg,#bd1f2d 12deg,#c83836 24deg,#d85646 36deg,#e97a5f 48deg,#f59d7e 60deg,#f6bda2 72deg,#e9d5cb 84deg,#cfdaea 96deg,#afcafc 108deg,#90b2fe 120deg,#7396f5 132deg,#5b7ae5 144deg,#4b64d5 156deg,#4257c9 168deg,#3f53c6 180deg,#4257c9 192deg,#4b64d5 204deg,#5b7ae5 216deg,#7396f5 228deg,#90b2fe 240deg,#afcafc 252deg,#cfdaea 264deg,#e9d5cb 276deg,#f6bda2 288deg,#f59d7e 300deg,#e97a5f 312deg,#d85646 324deg,#c83836 336deg,#bd1f2d 348deg,#ba162b 360deg);-webkit-mask-image:radial-gradient(closest-side,#000 50.00%,transparent 100%);mask-image:radial-gradient(closest-side,#000 50.00%,transparent 100%)"></i><i style="left:213.4px;top:213.8px;width:27.6px;height:27.7px;background:conic-gradient(from 75deg,#b40426 0deg,#b70d28 12deg,#c43032 24deg,#d55042 36deg,#e7745b 48deg,#f4987a 60deg,#f7bca1 72deg,#ead5c9 84deg,#cedaeb 96deg,#aec9fc 108deg,#8db0fe 120deg,#6f92f3 132deg,#5875e1 144deg,#485fd1 156deg,#3d50c3 168deg,#3b4cc0 180deg,#3d50c3 192deg,#485fd1 204deg,#5875e1 216deg,#6f92f3 228deg,#8caffe 240deg,#aec9fc 252deg,#cedaeb 264deg,#ead5c9 276deg,#f7bca1 288deg,#f4987a 300deg,#e7745b 312deg,#d55042 324deg,#c43032 336deg,#b70d28 348deg,#b40426 360deg);-webkit-mask-image:radial-gradient(closest-side,#000 0.00%,transparent 100%);mask-image:radial-gradient(closest-side,#000 0.00%,transparent 100%)"></i></div>
<div class="hm" style="left:159.1px;top:909.3px;width:451.8px;height:450.6px;background:conic-gradient(from 225deg,#dedcdb 0deg,#dedcdb 30deg,#dddcdc 60deg,#dddcdc 90deg,#dcdddd 120deg,#dbdcde 150deg,#dbdcde 180deg,#dbdcde 210deg,#dcdddd 240deg,#dddcdc 270deg,#dddcdc 300deg,#dedcdb 330deg,#dedcdb 360deg)"><i style="left:19.9px;top:19.8px;width:412.1px;height:411px;background:conic-gradient(from 225deg,#dfdbd9 0deg,#dfdbd9 12deg,#dedcdb 24deg,#dedcdb 36deg,#dedcdb 48deg,#dedcdb 60deg,#dddcdc 72deg,#dddcdc 84deg,#dcdddd 96deg,#dcdddd 108deg,#dbdcde 120deg,#dbdcde 132deg,#dbdcde 144deg,#dbdcde 156deg,#dadce0 168deg,#dadce0 180deg,#dadce0 192deg,#dbdcde 204deg,#dbdcde 216deg,#dbdcde 228deg,#dbdcde 240deg,#dcdddd 252deg,#dcdddd 264deg,#dddcdc 276deg,#dddcdc 288deg,#dedcdb 300deg,#dedcdb 312deg,#dedcdb 324deg,#dedcdb 336deg,#dfdbd9 348deg,#dfdbd9 360deg);-webkit-mask-image:radial-gradient(closest-side,#000 93.33%,transparent 100%);mask-image:radial-gradient(closest-side,#000 93.33%,transparent 100%)"></i><i style="left:33.6px;top:33.5px;width:384.6px;height:383.6px;background:conic-gradient(from 225deg,#dfdbd9 0deg,#dfdbd9 12deg,#dfdbd9 24deg,#dedcdb 36deg,#dedcdb 48deg,#dedcdb 60deg,#dddcdc 72deg,#dddcdc 84deg,#dcdddd 96deg,#dcdddd 108deg,#dbdcde 120deg,#dbdcde 132deg,#dbdcde 144deg,#dadce0 156deg,#dadce0 168deg,#dadce0 180deg,#dadce0 192deg,#dadce0 204deg,#dbdcde 216deg,#dbdcde 228deg,#dbdcde 240deg,#dcdddd 252deg,#dcdddd 264deg,#dddcdc 276deg,#dddcdc 288deg,#dedcdb 300deg,#dedcdb 312deg,#dedcdb 324deg,#dfdbd9 336deg,#dfdbd9 348deg,#dfdbd9 360deg);-webkit-mask-image:radial-gradient(closest-side,#000 92.86%,transparent 100%);mask-image:radial-gradient(closest-side,#000 92.86%,transparent 100%)"></i><i style="left:47.3px;top:47.2px;width:357.1px;height:356.2px;background:conic-gradient(from 225deg,#dfdbd9 0deg,#dfdbd9 12deg,#dfdbd9 24deg,#dfdbd9 36deg,#dedcdb 48deg,#dedcdb 60deg,#dddcdc 72deg,#dddcdc 84deg,#dcdddd 96deg,#dcdddd 108deg,#dbdcde 120deg,#dbdcde 132deg,#dadce0 144deg,#dadce0 156deg,#dadce0 168deg,#dadce0 180deg,#dadce0 192deg,#dadce0 204deg,#dadce0 216deg,#dbdcde 228deg,#dbdcde 240deg,#dcdddd 252deg,#dcdddd 264deg,#dddcdc 276deg,#dddcdc 288deg,#dedcdb 300deg,#dedcdb 312deg,#dfdbd9 324deg,#dfdbd9 336deg,#dfdbd9 348deg,#dfdbd9 360deg);-webkit-mask-image:radial-gradient(closest-side,#000 92.31%,transparent 100%);mask-image:radial-gradient(closest-side,#000 92.31%,transparent 100%)"></i><i style="left:61.1px;top:60.9px;width:329.7px;height:328.8px;background:conic-gradient(from 225deg,#e0dbd8 0deg,#e0dbd8 12deg,#e0dbd8 24deg,#e0dbd8 36deg,#dfdbd9 48deg,#dedcdb 60deg,#dedcdb 72deg,#dddcdc 84deg,#dcdddd 96deg,#dbdcde 108deg,#dbdcde 120deg,#dadce0 132deg,#d9dce1 144deg,#d9dce1 156deg,#d9dce1 168deg,#d9dce1 180deg,#d9dce1 192deg,#d9dce1 204deg,#d9dce1 216deg,#dadce0 228deg,#dbdcde 240deg,#dbdcde 252deg,#dcdddd 264deg,#dddcdc 276deg,#dedcdb 288deg,#dedcdb 300deg,#dfdbd9 312deg,#e0dbd8 324deg,#e0dbd8 336deg,#e0dbd8 348deg,#e0dbd8 360deg);-webkit-mask-image:radial-gradient(closest-side,#000 91.67%,transparent 100%);mask-image:radial-gradient(closest-side,#000 91.67%,transparent 100%)"></i><i style="left:74.8px;top:74.6px;width:302.2px;height:301.4px;background:conic-gradient(from 225deg,#e3d9d3 0deg,#e2dad5 12deg,#e2dad5 24deg,#e1dad6 36deg,#e1dad6 48deg,#e0dbd8 60deg,#dedcdb 72deg,#dddcdc 84deg,#dcdddd 96deg,#dbdcde 108deg,#d9dce1 120deg,#d8dce2 132deg,#d8dce2 144deg,#d7dce3 156deg,#d7dce3 168deg,#d6dce4 180deg,#d7dce3 192deg,#d7dce3 204deg,#d8dce2 216deg,#d8dce2 228deg,#d9dce1 240deg,#dbdcde 252deg,#dcdddd 264deg,#dddcdc 276deg,#dedcdb 288deg,#e0dbd8 300deg,#e1dad6 312deg,#e1dad6 324deg,#e2dad5 336deg,#e2dad5 348deg,#e3d9d3 360deg);-webkit-mask-image:radial-gradient(closest-side,#000 90.91%,transparent 100%);mask-image:radial-gradient(closest-side,#000 90.91%,transparent 100%)"></i><i style="left:88.5px;top:88.3px;width:274.7px;height:274px;background:conic-gradient(from 225deg,#e6d7cf 0deg,#e6d7cf 12deg,#e5d8d1 24deg,#e4d9d2 36deg,#e3d9d3 48deg,#e1dad6 60deg,#e0dbd8 72deg,#dedcdb 84deg,#dbdcde 96deg,#d9dce1 108deg,#d8dce2 120deg,#d6dce4 132deg,#d5dbe5 144deg,#d4dbe6 156deg,#d3dbe7 168deg,#d3dbe7 180deg,#d3dbe7 192deg,#d4dbe6 204deg,#d5dbe5 216deg,#d6dce4 228deg,#d8dce2 240deg,#d9dce1 252deg,#dbdcde 264deg,#dedcdb 276deg,#e0dbd8 288deg,#e1dad6 300deg,#e3d9d3 312deg,#e4d9d2 324deg,#e5d8d1 336deg,#e6d7cf 348deg,#e6d7cf 360deg);-webkit-mask-image:radial-gradient(closest-side,#000 90.00%,transparent 100%);mask-image:radial-gradient(closest-side,#000 90.00%,transparent 100%)"></i><i style="left:102.3px;top:102px;width:247.2px;height:246.6px;background:conic-gradient(from 225deg,#ebd3c6 0deg,#ebd3c6 12deg,#ead4c8 24deg,#e9d5cb 36deg,#e7d7ce 48deg,#e4d9d2 60deg,#e1dad6 72deg,#dedcdb 84deg,#dbdcde 96deg,#d8dce2 108deg,#d5dbe5 120deg,#d2dbe8 132deg,#cfdaea 144deg,#cdd9ec 156deg,#ccd9ed 168deg,#ccd9ed 180deg,#ccd9ed 192deg,#cdd9ec 204deg,#cfdaea 216deg,#d2dbe8 228deg,#d5dbe5 240deg,#d8dce2 252deg,#dbdcde 264deg,#dedcdb 276deg,#e1dad6 288deg,#e4d9d2 300deg,#e7d7ce 312deg,#e9d5cb 324deg,#ead4c8 336deg,#ebd3c6 348deg,#ebd3c6 360deg);-webkit-mask-image:radial-gradient(closest-side,#000 88.89%,transparent 100%);mask-image:radial-gradient(closest-side,#000 88.89%,transparent 100%)"></i><i style="left:116px;top:115.7px;width:219.8px;height:219.2px;background:conic-gradient(from 225deg,#f1ccb8 0deg,#f1ccb8 12deg,#f0cdbb 24deg,#efcfbf 36deg,#ecd3c5 48deg,#e9d5cb 60deg,#e4d9d2 72deg,#dfdbd9 84deg,#dadce0 96deg,#d5dbe5 108deg,#cfdaea 120deg,#cbd8ee 132deg,#c6d6f1 144deg,#c4d5f3 156deg,#c1d4f4 168deg,#c1d4f4 180deg,#c1d4f4 192deg,#c4d5f3 204deg,#c6d6f1 216deg,#cbd8ee 228deg,#cfdaea 240deg,#d5dbe5 252deg,#dadce0 264deg,#dfdbd9 276deg,#e4d9d2 288deg,#e9d5cb 300deg,#ecd3c5 312deg,#efcfbf 324deg,#f0cdbb 336deg,#f1ccb8 348deg,#f1ccb8 360deg);-webkit-mask-image:radial-gradient(closest-side,#000 87.50%,transparent 100%);mask-image:radial-gradient(closest-side,#000 87.50%,transparent 100%)"></i><i style="left:129.7px;top:129.4px;width:192.3px;height:191.8px;background:conic-gradient(from 225deg,#f6bea4 0deg,#f6bfa6 12deg,#f5c1a9 24deg,#f4c6af 36deg,#f2cbb7 48deg,#edd1c2 60deg,#e8d6cc 72deg,#e0dbd8 84deg,#d9dce1 96deg,#d1dae9 108deg,#c9d7f0 120deg,#c0d4f5 132deg,#bad0f8 144deg,#b5cdfa 156deg,#b2ccfb 168deg,#b1cbfc 180deg,#b2ccfb 192deg,#b5cdfa 204deg,#bad0f8 216deg,#c0d4f5 228deg,#c9d7f0 240deg,#d1dae9 252deg,#d9dce1 264deg,#e0dbd8 276deg,#e8d6cc 288deg,#edd1c2 300deg,#f2cbb7 312deg,#f4c6af 324deg,#f5c1a9 336deg,#f6bfa6 348deg,#f6bea4 360deg);-webkit-mask-image:radial-gradient(closest-side,#000 85.71%,transparent 100%);mask-image:radial-gradient(closest-side,#000 85.71%,transparent 100%)"></i><i style="left:143.5px;top:143.1px;width:164.8px;height:164.4px;background:conic-gradient(from 225deg,#f7a98b 0deg,#f7aa8c 12deg,#f7b093 24deg,#f7b79b 36deg,#f5c0a7 48deg,#f2cab5 60deg,#ecd3c5 72deg,#e2dad5 84deg,#d7dce3 96deg,#cbd8ee 108deg,#bfd3f6 120deg,#b3cdfb 132deg,#a9c6fd 144deg,#a2c1ff 156deg,#9dbdff 168deg,#9bbcff 180deg,#9dbdff 192deg,#a2c1ff 204deg,#a9c6fd 216deg,#b3cdfb 228deg,#bfd3f6 240deg,#cbd8ee 252deg,#d7dce3 264deg,#e2dad5 276deg,#ecd3c5 288deg,#f2cab5 300deg,#f5c0a7 312deg,#f7b79b 324deg,#f7b093 336deg,#f7aa8c 348deg,#f7a98b 360deg);-webkit-mask-image:radial-gradient(closest-side,#000 83.33%,transparent 100%);mask-image:radial-gradient(closest-side,#000 83.33%,transparent 100%)"></i><i style="left:157.2px;top:156.8px;width:137.4px;height:137px;background:conic-gradient(from 225deg,#f18d6f 0deg,#f18f71 12deg,#f39778 24deg,#f6a283 36deg,#f7b093 48deg,#f5c0a7 60deg,#f0cdbb 72deg,#e4d9d2 84deg,#d5dbe5 96deg,#c4d5f3 108deg,#b3cdfb 120deg,#a2c1ff 132deg,#94b6ff 144deg,#8badfd 156deg,#84a7fc 168deg,#82a6fb 180deg,#84a7fc 192deg,#8badfd 204deg,#94b6ff 216deg,#a2c1ff 228deg,#b3cdfb 240deg,#c4d5f3 252deg,#d5dbe5 264deg,#e4d9d2 276deg,#f0cdbb 288deg,#f5c0a7 300deg,#f7b093 312deg,#f6a283 324deg,#f39778 336deg,#f18f71 348deg,#f18d6f 360deg);-webkit-mask-image:radial-gradient(closest-side,#000 80.00%,transparent 100%);mask-image:radial-gradient(closest-side,#000 80.00%,transparent 100%)"></i><i style="left:171px;top:170.5px;width:109.9px;height:109.6px;background:conic-gradient(from 225deg,#e36b54 0deg,#e46e56 12deg,#e97a5f 24deg,#f08a6c 36deg,#f59f80 48deg,#f7b497 60deg,#f2c9b4 72deg,#e6d7cf 84deg,#d3dbe7 96deg,#bed2f6 108deg,#a6c4fe 120deg,#92b4fe 132deg,#80a3fa 144deg,#7396f5 156deg,#6b8df0 168deg,#688aef 180deg,#6b8df0 192deg,#7396f5 204deg,#80a3fa 216deg,#92b4fe 228deg,#a6c4fe 240deg,#bed2f6 252deg,#d3dbe7 264deg,#e6d7cf 276deg,#f2c9b4 288deg,#f7b497 300deg,#f59f80 312deg,#f08a6c 324deg,#e97a5f 336deg,#e46e56 348deg,#e36b54 360deg);-webkit-mask-image:radial-gradient(closest-side,#000 75.00%,transparent 100%);mask-image:radial-gradient(closest-side,#000 75.00%,transparent 100%)"></i><i style="left:184.7px;top:184.2px;width:82.4px;height:82.2px;background:conic-gradient(from 225deg,#d1493f 0deg,#d44e41 12deg,#dc5d4a 24deg,#e67259 36deg,#f18d6f 48deg,#f7a98b 60deg,#f5c4ac 72deg,#e8d6cc 84deg,#d1dae9 96deg,#b7cff9 108deg,#9bbcff 120deg,#82a6fb 132deg,#6e90f2 144deg,#5f7fe8 156deg,#5673e0 168deg,#5470de 180deg,#5673e0 192deg,#5f7fe8 204deg,#6e90f2 216deg,#82a6fb 228deg,#9bbcff 240deg,#b7cff9 252deg,#d1dae9 264deg,#e8d6cc 276deg,#f5c4ac 288deg,#f7a98b 300deg,#f18d6f 312deg,#e67259 324deg,#dc5d4a 336deg,#d44e41 348deg,#d1493f 360deg);-webkit-mask-image:radial-gradient(closest-side,#000 66.67%,transparent 100%);mask-image:radial-gradient(closest-side,#000 66.67%,transparent 100%)"></i><i style="left:198.4px;top:197.9px;width:54.9px;height:54.8px;background:conic-gradient(from 225deg,#c32e31 0deg,#c53334 12deg,#d0473d 24deg,#de614d 36deg,#ec8165 48deg,#f6a283 60deg,#f6bfa6 72deg,#e9d5cb 84deg,#cfdaea 96deg,#b2ccfb 108deg,#94b6ff 120deg,#799cf8 132deg,#6282ea 144deg,#536edd 156deg,#4961d2 168deg,#465ecf 180deg,#4961d2 192deg,#536edd 204deg,#6282ea 216deg,#799cf8 228deg,#94b6ff 240deg,#b2ccfb 252deg,#cfdaea 264deg,#e9d5cb 276deg,#f6bfa6 288deg,#f6a283 300deg,#ec8165 312deg,#de614d 324deg,#d0473d 336deg,#c53334 348deg,#c32e31 360deg);-webkit-mask-image:radial-gradient(closest-side,#000 50.00%,transparent 100%);mask-image:radial-gradient(closest-side,#000 50.00%,transparent 100%)"></i><i style="left:212.2px;top:211.6px;width:27.5px;height:27.4px;background:conic-gradient(from 225deg,#bd1f2d 0deg,#c12b30 12deg,#cb3e38 24deg,#da5a49 36deg,#ea7b60 48deg,#f59f80 60deg,#f6bea4 72deg,#e9d5cb 84deg,#cfdaea 96deg,#b1cbfc 108deg,#92b4fe 120deg,#7597f6 132deg,#5e7de7 144deg,#4e68d8 156deg,#455cce 168deg,#4257c9 180deg,#455cce 192deg,#4e68d8 204deg,#5e7de7 216deg,#7597f6 228deg,#92b4fe 240deg,#b1cbfc 252deg,#cfdaea 264deg,#e9d5cb 276deg,#f6bea4 288deg,#f59f80 300deg,#ea7b60 312deg,#da5a49 324deg,#cb3e38 336deg,#c12b30 348deg,#bd1f2d 360deg);-webkit-mask-image:radial-gradient(closest-side,#000 0.00%,transparent 100%);mask-image:radial-gradient(closest-side,#000 0.00%,transparent 100%)"></i></div>
<div class="hm" style="left:809.9px;top:911.8px;width:451.7px;height:455.3px;background:conic-gradient(from 45deg,#dddcdc 0deg,#dddcdc 30deg,#dddcdc 60deg,#dddcdc 90deg,#dcdddd 120deg,#dcdddd 150deg,#dcdddd 180deg,#dcdddd 210deg,#dcdddd 240deg,#dddcdc 270deg,#dddcdc 300deg,#dddcdc 330deg,#dddcdc 360deg)"><i style="left:19.9px;top:20px;width:412px;height:415.3px;background:conic-gradient(from 45deg,#dddcdc 0deg,#dddcdc 12deg,#dddcdc 24deg,#dddcdc 36deg,#dddcdc 48deg,#dddcdc 60deg,#dddcdc 72deg,#dddcdc 84deg,#dcdddd 96deg,#dcdddd 108deg,#dcdddd 120deg,#dcdddd 132deg,#dcdddd 144deg,#dcdddd 156deg,#dcdddd 168deg,#dcdddd 180deg,#dcdddd 192deg,#dcdddd 204deg,#dcdddd 216deg,#dcdddd 228deg,#dcdddd 240deg,#dcdddd 252deg,#dcdddd 264deg,#dddcdc 276deg,#dddcdc 288deg,#dddcdc 300deg,#dddcdc 312deg,#dddcdc 324deg,#dddcdc 336deg,#dddcdc 348deg,#dddcdc 360deg);-webkit-mask-image:radial-gradient(closest-side,#000 93.33%,transparent 100%);mask-image:radial-gradient(closest-side,#000 93.33%,transparent 100%)"></i><i style="left:33.6px;top:33.9px;width:384.5px;height:387.6px;background:conic-gradient(from 45deg,#dddcdc 0deg,#dddcdc 12deg,#dddcdc 24deg,#dddcdc 36deg,#dddcdc 48deg,#dddcdc 60deg,#dddcdc 72deg,#dddcdc 84deg,#dcdddd 96deg,#dcdddd 108deg,#dcdddd 120deg,#dcdddd 132deg,#dcdddd 144deg,#dcdddd 156deg,#dcdddd 168deg,#dcdddd 180deg,#dcdddd 192deg,#dcdddd 204deg,#dcdddd 216deg,#dcdddd 228deg,#dcdddd 240deg,#dcdddd 252deg,#dcdddd 264deg,#dddcdc 276deg,#dddcdc 288deg,#dddcdc 300deg,#dddcdc 312deg,#dddcdc 324deg,#dddcdc 336deg,#dddcdc 348deg,#dddcdc 360deg);-webkit-mask-image:radial-gradient(closest-side,#000 92.86%,transparent 100%);mask-image:radial-gradient(closest-side,#000 92.86%,transparent 100%)"></i><i style="left:47.3px;top:47.7px;width:357.1px;height:359.9px;background:conic-gradient(from 45deg,#dddcdc 0deg,#dddcdc 12deg,#dddcdc 24deg,#dddcdc 36deg,#dddcdc 48deg,#dddcdc 60deg,#dddcdc 72deg,#dddcdc 84deg,#dcdddd 96deg,#dcdddd 108deg,#dcdddd 120deg,#dcdddd 132deg,#dcdddd 144deg,#dcdddd 156deg,#dcdddd 168deg,#dcdddd 180deg,#dcdddd 192deg,#dcdddd 204deg,#dcdddd 216deg,#dcdddd 228deg,#dcdddd 240deg,#dcdddd 252deg,#dcdddd 264deg,#dddcdc 276deg,#dddcdc 288deg,#dddcdc 300deg,#dddcdc 312deg,#dddcdc 324deg,#dddcdc 336deg,#dddcdc 348deg,#dddcdc 360deg);-webkit-mask-image:radial-gradient(closest-side,#000 92.31%,transparent 100%);mask-image:radial-gradient(closest-side,#000 92.31%,transparent 100%)"></i><i style="left:61.1px;top:61.5px;width:329.6px;height:332.2px;background:conic-gradient(from 45deg,#dedcdb 0deg,#dedcdb 12deg,#dedcdb 24deg,#dedcdb 36deg,#dddcdc 48deg,#dddcdc 60deg,#dddcdc 72deg,#dddcdc 84deg,#dcdddd 96deg,#dcdddd 108deg,#dcdddd 120deg,#dcdddd 132deg,#dbdcde 144deg,#dbdcde 156deg,#dbdcde 168deg,#dbdcde 180deg,#dbdcde 192deg,#dbdcde 204deg,#dbdcde 216deg,#dcdddd 228deg,#dcdddd 240deg,#dcdddd 252deg,#dcdddd 264deg,#dddcdc 276deg,#dddcdc 288deg,#dddcdc 300deg,#dddcdc 312deg,#dedcdb 324deg,#dedcdb 336deg,#dedcdb 348deg,#dedcdb 360deg);-webkit-mask-image:radial-gradient(closest-side,#000 91.67%,transparent 100%);mask-image:radial-gradient(closest-side,#000 91.67%,transparent 100%)"></i><i style="left:74.8px;top:75.4px;width:302.1px;height:304.5px;background:conic-gradient(from 45deg,#dedcdb 0deg,#dedcdb 12deg,#dedcdb 24deg,#dedcdb 36deg,#dedcdb 48deg,#dddcdc 60deg,#dddcdc 72deg,#dddcdc 84deg,#dcdddd 96deg,#dcdddd 108deg,#dcdddd 120deg,#dbdcde 132deg,#dbdcde 144deg,#dbdcde 156deg,#dbdcde 168deg,#dbdcde 180deg,#dbdcde 192deg,#dbdcde 204deg,#dbdcde 216deg,#dbdcde 228deg,#dcdddd 240deg,#dcdddd 252deg,#dcdddd 264deg,#dddcdc 276deg,#dddcdc 288deg,#dddcdc 300deg,#dedcdb 312deg,#dedcdb 324deg,#dedcdb 336deg,#dedcdb 348deg,#dedcdb 360deg);-webkit-mask-image:radial-gradient(closest-side,#000 90.91%,transparent 100%);mask-image:radial-gradient(closest-side,#000 90.91%,transparent 100%)"></i><i style="left:88.5px;top:89.2px;width:274.7px;height:276.8px;background:conic-gradient(from 45deg,#e0dbd8 0deg,#e0dbd8 12deg,#dfdbd9 24deg,#dfdbd9 36deg,#dfdbd9 48deg,#dedcdb 60deg,#dddcdc 72deg,#dddcdc 84deg,#dcdddd 96deg,#dcdddd 108deg,#dbdcde 120deg,#dadce0 132deg,#dadce0 144deg,#dadce0 156deg,#d9dce1 168deg,#d9dce1 180deg,#d9dce1 192deg,#dadce0 204deg,#dadce0 216deg,#dadce0 228deg,#dbdcde 240deg,#dcdddd 252deg,#dcdddd 264deg,#dddcdc 276deg,#dddcdc 288deg,#dedcdb 300deg,#dfdbd9 312deg,#dfdbd9 324deg,#dfdbd9 336deg,#e0dbd8 348deg,#e0dbd8 360deg);-webkit-mask-image:radial-gradient(closest-side,#000 90.00%,transparent 100%);mask-image:radial-gradient(closest-side,#000 90.00%,transparent 100%)"></i><i style="left:102.3px;top:103.1px;width:247.2px;height:249.2px;background:conic-gradient(from 45deg,#e2dad5 0deg,#e1dad6 12deg,#e1dad6 24deg,#e1dad6 36deg,#e0dbd8 48deg,#dfdbd9 60deg,#dedcdb 72deg,#dddcdc 84deg,#dcdddd 96deg,#dbdcde 108deg,#dadce0 120deg,#d9dce1 132deg,#d8dce2 144deg,#d8dce2 156deg,#d8dce2 168deg,#d7dce3 180deg,#d8dce2 192deg,#d8dce2 204deg,#d8dce2 216deg,#d9dce1 228deg,#dadce0 240deg,#dbdcde 252deg,#dcdddd 264deg,#dddcdc 276deg,#dedcdb 288deg,#dfdbd9 300deg,#e0dbd8 312deg,#e1dad6 324deg,#e1dad6 336deg,#e1dad6 348deg,#e2dad5 360deg);-webkit-mask-image:radial-gradient(closest-side,#000 88.89%,transparent 100%);mask-image:radial-gradient(closest-side,#000 88.89%,transparent 100%)"></i><i style="left:116px;top:116.9px;width:219.7px;height:221.5px;background:conic-gradient(from 45deg,#e4d9d2 0deg,#e4d9d2 12deg,#e4d9d2 24deg,#e3d9d3 36deg,#e2dad5 48deg,#e0dbd8 60deg,#dfdbd9 72deg,#dddcdc 84deg,#dcdddd 96deg,#dadce0 108deg,#d9dce1 120deg,#d7dce3 132deg,#d6dce4 144deg,#d5dbe5 156deg,#d5dbe5 168deg,#d5dbe5 180deg,#d5dbe5 192deg,#d5dbe5 204deg,#d6dce4 216deg,#d7dce3 228deg,#d9dce1 240deg,#dadce0 252deg,#dcdddd 264deg,#dddcdc 276deg,#dfdbd9 288deg,#e0dbd8 300deg,#e2dad5 312deg,#e3d9d3 324deg,#e4d9d2 336deg,#e4d9d2 348deg,#e4d9d2 360deg);-webkit-mask-image:radial-gradient(closest-side,#000 87.50%,transparent 100%);mask-image:radial-gradient(closest-side,#000 87.50%,transparent 100%)"></i><i style="left:129.7px;top:130.8px;width:192.3px;height:193.8px;background:conic-gradient(from 45deg,#e8d6cc 0deg,#e8d6cc 12deg,#e7d7ce 24deg,#e6d7cf 36deg,#e4d9d2 48deg,#e2dad5 60deg,#e0dbd8 72deg,#dedcdb 84deg,#dbdcde 96deg,#d9dce1 108deg,#d7dce3 120deg,#d5dbe5 132deg,#d3dbe7 144deg,#d2dbe8 156deg,#d1dae9 168deg,#d1dae9 180deg,#d1dae9 192deg,#d2dbe8 204deg,#d3dbe7 216deg,#d5dbe5 228deg,#d7dce3 240deg,#d9dce1 252deg,#dbdcde 264deg,#dedcdb 276deg,#e0dbd8 288deg,#e2dad5 300deg,#e4d9d2 312deg,#e6d7cf 324deg,#e7d7ce 336deg,#e8d6cc 348deg,#e8d6cc 360deg);-webkit-mask-image:radial-gradient(closest-side,#000 85.71%,transparent 100%);mask-image:radial-gradient(closest-side,#000 85.71%,transparent 100%)"></i><i style="left:143.5px;top:144.6px;width:164.8px;height:166.1px;background:conic-gradient(from 45deg,#ecd3c5 0deg,#ecd3c5 12deg,#ebd3c6 24deg,#ead5c9 36deg,#e8d6cc 48deg,#e5d8d1 60deg,#e2dad5 72deg,#dedcdb 84deg,#dbdcde 96deg,#d7dce3 108deg,#d4dbe6 120deg,#d1dae9 132deg,#cedaeb 144deg,#ccd9ed 156deg,#cbd8ee 168deg,#cbd8ee 180deg,#cbd8ee 192deg,#ccd9ed 204deg,#cedaeb 216deg,#d1dae9 228deg,#d4dbe6 240deg,#d7dce3 252deg,#dbdcde 264deg,#dedcdb 276deg,#e2dad5 288deg,#e5d8d1 300deg,#e8d6cc 312deg,#ead5c9 324deg,#ebd3c6 336deg,#ecd3c5 348deg,#ecd3c5 360deg);-webkit-mask-image:radial-gradient(closest-side,#000 83.33%,transparent 100%);mask-image:radial-gradient(closest-side,#000 83.33%,transparent 100%)"></i><i style="left:157.2px;top:158.4px;width:137.3px;height:138.4px;background:conic-gradient(from 45deg,#f0cdbb 0deg,#f0cdbb 12deg,#efcfbf 24deg,#edd1c2 36deg,#ebd3c6 48deg,#e8d6cc 60deg,#e4d9d2 72deg,#dfdbd9 84deg,#dadce0 96deg,#d5dbe5 108deg,#d1dae9 120deg,#ccd9ed 132deg,#c9d7f0 144deg,#c6d6f1 156deg,#c4d5f3 168deg,#c4d5f3 180deg,#c4d5f3 192deg,#c6d6f1 204deg,#c9d7f0 216deg,#ccd9ed 228deg,#d1dae9 240deg,#d5dbe5 252deg,#dadce0 264deg,#dfdbd9 276deg,#e4d9d2 288deg,#e8d6cc 300deg,#ebd3c6 312deg,#edd1c2 324deg,#efcfbf 336deg,#f0cdbb 348deg,#f0cdbb 360deg);-webkit-mask-image:radial-gradient(closest-side,#000 80.00%,transparent 100%);mask-image:radial-gradient(closest-side,#000 80.00%,transparent 100%)"></i><i style="left:170.9px;top:172.3px;width:109.9px;height:110.7px;background:conic-gradient(from 45deg,#f3c8b2 0deg,#f2c9b4 12deg,#f2cab5 24deg,#f1cdba 36deg,#eed0c0 48deg,#ead4c8 60deg,#e5d8d1 72deg,#dfdbd9 84deg,#dadce0 96deg,#d4dbe6 108deg,#cdd9ec 120deg,#c7d7f0 132deg,#c3d5f4 144deg,#bfd3f6 156deg,#bed2f6 168deg,#bcd2f7 180deg,#bed2f6 192deg,#bfd3f6 204deg,#c3d5f4 216deg,#c7d7f0 228deg,#cdd9ec 240deg,#d4dbe6 252deg,#dadce0 264deg,#dfdbd9 276deg,#e5d8d1 288deg,#ead4c8 300deg,#eed0c0 312deg,#f1cdba 324deg,#f2cab5 336deg,#f2c9b4 348deg,#f3c8b2 360deg);-webkit-mask-image:radial-gradient(closest-side,#000 75.00%,transparent 100%);mask-image:radial-gradient(closest-side,#000 75.00%,transparent 100%)"></i><i style="left:184.7px;top:186.1px;width:82.4px;height:83.1px;background:conic-gradient(from 45deg,#f4c5ad 0deg,#f4c6af 12deg,#f3c8b2 24deg,#f2cbb7 36deg,#efcebd 48deg,#ebd3c6 60deg,#e6d7cf 72deg,#e0dbd8 84deg,#d9dce1 96deg,#d3dbe7 108deg,#ccd9ed 120deg,#c5d6f2 132deg,#c0d4f5 144deg,#bcd2f7 156deg,#bad0f8 168deg,#b9d0f9 180deg,#bad0f8 192deg,#bcd2f7 204deg,#c0d4f5 216deg,#c5d6f2 228deg,#ccd9ed 240deg,#d3dbe7 252deg,#d9dce1 264deg,#e0dbd8 276deg,#e6d7cf 288deg,#ebd3c6 300deg,#efcebd 312deg,#f2cbb7 324deg,#f3c8b2 336deg,#f4c6af 348deg,#f4c5ad 360deg);-webkit-mask-image:radial-gradient(closest-side,#000 82.23%,transparent 100%);mask-image:radial-gradient(closest-side,#000 82.23%,transparent 100%)"></i><i style="left:192px;top:193.5px;width:67.8px;height:68.3px;background:conic-gradient(from 45deg,#f5c2aa 0deg,#f5c4ac 12deg,#f4c6af 24deg,#f2c9b4 36deg,#f0cdbb 48deg,#ecd3c5 60deg,#e7d7ce 72deg,#e0dbd8 84deg,#d9dce1 96deg,#d2dbe8 108deg,#cbd8ee 120deg,#c4d5f3 132deg,#bed2f6 144deg,#bad0f8 156deg,#b7cff9 168deg,#b6cefa 180deg,#b7cff9 192deg,#bad0f8 204deg,#bed2f6 216deg,#c4d5f3 228deg,#cbd8ee 240deg,#d2dbe8 252deg,#d9dce1 264deg,#e0dbd8 276deg,#e7d7ce 288deg,#ecd3c5 300deg,#f0cdbb 312deg,#f2c9b4 324deg,#f4c6af 336deg,#f5c4ac 348deg,#f5c2aa 360deg);-webkit-mask-image:radial-gradient(closest-side,#000 80.00%,transparent 100%);mask-image:radial-gradient(closest-side,#000 80.00%,transparent 100%)"></i><i style="left:198.7px;top:200.3px;width:54.2px;height:54.6px;background:conic-gradient(from 45deg,#f5c0a7 0deg,#f5c1a9 12deg,#f4c5ad 24deg,#f3c8b2 36deg,#f1cdba 48deg,#edd2c3 60deg,#e7d7ce 72deg,#e0dbd8 84deg,#d9dce1 96deg,#d2dbe8 108deg,#cad8ef 120deg,#c3d5f4 132deg,#bcd2f7 144deg,#b9d0f9 156deg,#b5cdfa 168deg,#b3cdfb 180deg,#b5cdfa 192deg,#b9d0f9 204deg,#bcd2f7 216deg,#c3d5f4 228deg,#cad8ef 240deg,#d2dbe8 252deg,#d9dce1 264deg,#e0dbd8 276deg,#e7d7ce 288deg,#edd2c3 300deg,#f1cdba 312deg,#f3c8b2 324deg,#f4c5ad 336deg,#f5c1a9 348deg,#f5c0a7 360deg);-webkit-mask-image:radial-gradient(closest-side,#000 79.17%,transparent 100%);mask-image:radial-gradient(closest-side,#000 79.17%,transparent 100%)"></i><i style="left:204.4px;top:206px;width:42.9px;height:43.3px;background:conic-gradient(from 45deg,#f5c1a9 0deg,#f5c2aa 12deg,#f4c5ad 24deg,#f2c9b4 36deg,#f0cdbb 48deg,#edd2c3 60deg,#e7d7ce 72deg,#e0dbd8 84deg,#d9dce1 96deg,#d2dbe8 108deg,#cad8ef 120deg,#c4d5f3 132deg,#bed2f6 144deg,#b9d0f9 156deg,#b6cefa 168deg,#b5cdfa 180deg,#b6cefa 192deg,#b9d0f9 204deg,#bed2f6 216deg,#c4d5f3 228deg,#cad8ef 240deg,#d2dbe8 252deg,#d9dce1 264deg,#e0dbd8 276deg,#e7d7ce 288deg,#edd2c3 300deg,#f0cdbb 312deg,#f2c9b4 324deg,#f4c5ad 336deg,#f5c2aa 348deg,#f5c1a9 360deg);-webkit-mask-image:radial-gradient(closest-side,#000 78.95%,transparent 100%);mask-image:radial-gradient(closest-side,#000 78.95%,transparent 100%)"></i><i style="left:208.9px;top:210.6px;width:33.9px;height:34.1px;background:conic-gradient(from 45deg,#f3c8b2 0deg,#f3c8b2 12deg,#f2cab5 24deg,#f1cdba 36deg,#eed0c0 48deg,#ead4c8 60deg,#e5d8d1 72deg,#e0dbd8 84deg,#d9dce1 96deg,#d4dbe6 108deg,#cdd9ec 120deg,#c7d7f0 132deg,#c3d5f4 144deg,#bfd3f6 156deg,#bcd2f7 168deg,#bcd2f7 180deg,#bcd2f7 192deg,#bfd3f6 204deg,#c3d5f4 216deg,#c7d7f0 228deg,#cdd9ec 240deg,#d4dbe6 252deg,#d9dce1 264deg,#e0dbd8 276deg,#e5d8d1 288deg,#ead4c8 300deg,#eed0c0 312deg,#f1cdba 324deg,#f2cab5 336deg,#f3c8b2 348deg,#f3c8b2 360deg);-webkit-mask-image:radial-gradient(closest-side,#000 73.33%,transparent 100%);mask-image:radial-gradient(closest-side,#000 73.33%,transparent 100%)"></i><i style="left:213.4px;top:215.1px;width:24.8px;height:25px;background:conic-gradient(from 45deg,#efcfbf 0deg,#efcfbf 12deg,#edd1c2 24deg,#ecd3c5 36deg,#ead5c9 48deg,#e7d7ce 60deg,#e3d9d3 72deg,#dfdbd9 84deg,#dadce0 96deg,#d6dce4 108deg,#d2dbe8 120deg,#cedaeb 132deg,#cbd8ee 144deg,#c9d7f0 156deg,#c6d6f1 168deg,#c6d6f1 180deg,#c6d6f1 192deg,#c9d7f0 204deg,#cbd8ee 216deg,#cedaeb 228deg,#d2dbe8 240deg,#d6dce4 252deg,#dadce0 264deg,#dfdbd9 276deg,#e3d9d3 288deg,#e7d7ce 300deg,#ead5c9 312deg,#ecd3c5 324deg,#edd1c2 336deg,#efcfbf 348deg,#efcfbf 360deg);-webkit-mask-image:radial-gradient(closest-side,#000 72.73%,transparent 100%);mask-image:radial-gradient(closest-side,#000 72.73%,transparent 100%)"></i><i style="left:216.8px;top:218.5px;width:18.1px;height:18.2px;background:conic-gradient(from 45deg,#e7d7ce 0deg,#e6d7cf 12deg,#e6d7cf 24deg,#e5d8d1 36deg,#e3d9d3 48deg,#e2dad5 60deg,#e0dbd8 72deg,#dedcdb 84deg,#dbdcde 96deg,#d9dce1 108deg,#d7dce3 120deg,#d6dce4 132deg,#d4dbe6 144deg,#d3dbe7 156deg,#d3dbe7 168deg,#d2dbe8 180deg,#d3dbe7 192deg,#d3dbe7 204deg,#d4dbe6 216deg,#d6dce4 228deg,#d7dce3 240deg,#d9dce1 252deg,#dbdcde 264deg,#dedcdb 276deg,#e0dbd8 288deg,#e2dad5 300deg,#e3d9d3 312deg,#e5d8d1 324deg,#e6d7cf 336deg,#e6d7cf 348deg,#e7d7ce 360deg);-webkit-mask-image:radial-gradient(closest-side,#000 62.50%,transparent 100%);mask-image:radial-gradient(closest-side,#000 62.50%,transparent 100%)"></i><i style="left:220.2px;top:222px;width:11.3px;height:11.4px;background:conic-gradient(from 45deg,#dfdbd9 0deg,#dfdbd9 12deg,#dfdbd9 24deg,#dfdbd9 36deg,#dedcdb 48deg,#dedcdb 60deg,#dddcdc 72deg,#dddcdc 84deg,#dcdddd 96deg,#dcdddd 108deg,#dbdcde 120deg,#dbdcde 132deg,#dadce0 144deg,#dadce0 156deg,#dadce0 168deg,#dadce0 180deg,#dadce0 192deg,#dadce0 204deg,#dadce0 216deg,#dbdcde 228deg,#dbdcde 240deg,#dcdddd 252deg,#dcdddd 264deg,#dddcdc 276deg,#dddcdc 288deg,#dedcdb 300deg,#dedcdb 312deg,#dfdbd9 324deg,#dfdbd9 336deg,#dfdbd9 348deg,#dfdbd9 360deg);-webkit-mask-image:radial-gradient(closest-side,#000 50.00%,transparent 100%);mask-image:radial-gradient(closest-side,#000 50.00%,transparent 100%)"></i><i style="left:223px;top:224.8px;width:5.6px;height:5.7px;background:conic-gradient(from 45deg,#dddcdc 0deg,#dddcdc 12deg,#dddcdc 24deg,#dddcdc 36deg,#dddcdc 48deg,#dddcdc 60deg,#dddcdc 72deg,#dddcdc 84deg,#dddcdc 96deg,#dddcdc 108deg,#dddcdc 120deg,#dddcdc 132deg,#dddcdc 144deg,#dddcdc 156deg,#dddcdc 168deg,#dddcdc 180deg,#dddcdc 192deg,#dddcdc 204deg,#dddcdc 216deg,#dddcdc 228deg,#dddcdc 240deg,#dddcdc 252deg,#dddcdc 264deg,#dddcdc 276deg,#dddcdc 288deg,#dddcdc 300deg,#dddcdc 312deg,#dddcdc 324deg,#dddcdc 336deg,#dddcdc 348deg,#dddcdc 360deg);-webkit-mask-image:radial-gradient(closest-side,#000 0.00%,transparent 100%);mask-image:radial-gradient(closest-side,#000 0.00%,transparent 100%)"></i></div>
<div class="hm" style="left:1456.9px;top:909.8px;width:452.1px;height:453.2px;background:conic-gradient(from 45deg,#dfdbd9 0deg,#dedcdb 30deg,#dedcdb 60deg,#dddcdc 90deg,#dbdcde 120deg,#dbdcde 150deg,#dadce0 180deg,#dbdcde 210deg,#dbdcde 240deg,#dddcdc 270deg,#dedcdb 300deg,#dedcdb 330deg,#dfdbd9 360deg)"><i style="left:19.9px;top:19.9px;width:412.3px;height:413.4px;background:conic-gradient(from 45deg,#dfdbd9 0deg,#dfdbd9 12deg,#dfdbd9 24deg,#dedcdb 36deg,#dedcdb 48deg,#dedcdb 60deg,#dddcdc 72deg,#dddcdc 84deg,#dcdddd 96deg,#dcdddd 108deg,#dbdcde 120deg,#dbdcde 132deg,#dbdcde 144deg,#dadce0 156deg,#dadce0 168deg,#dadce0 180deg,#dadce0 192deg,#dadce0 204deg,#dbdcde 216deg,#dbdcde 228deg,#dbdcde 240deg,#dcdddd 252deg,#dcdddd 264deg,#dddcdc 276deg,#dddcdc 288deg,#dedcdb 300deg,#dedcdb 312deg,#dedcdb 324deg,#dfdbd9 336deg,#dfdbd9 348deg,#dfdbd9 360deg);-webkit-mask-image:radial-gradient(closest-side,#000 93.33%,transparent 100%);mask-image:radial-gradient(closest-side,#000 93.33%,transparent 100%)"></i><i style="left:33.6px;top:33.7px;width:384.9px;height:385.8px;background:conic-gradient(from 45deg,#dfdbd9 0deg,#dfdbd9 12deg,#dfdbd9 24deg,#dfdbd9 36deg,#dedcdb 48deg,#dedcdb 60deg,#dddcdc 72deg,#dddcdc 84deg,#dcdddd 96deg,#dcdddd 108deg,#dbdcde 120deg,#dbdcde 132deg,#dadce0 144deg,#dadce0 156deg,#dadce0 168deg,#dadce0 180deg,#dadce0 192deg,#dadce0 204deg,#dadce0 216deg,#dbdcde 228deg,#dbdcde 240deg,#dcdddd 252deg,#dcdddd 264deg,#dddcdc 276deg,#dddcdc 288deg,#dedcdb 300deg,#dedcdb 312deg,#dfdbd9 324deg,#dfdbd9 336deg,#dfdbd9 348deg,#dfdbd9 360deg);-webkit-mask-image:radial-gradient(closest-side,#000 92.86%,transparent 100%);mask-image:radial-gradient(closest-side,#000 92.86%,transparent 100%)"></i><i style="left:47.4px;top:47.5px;width:357.4px;height:358.2px;background:conic-gradient(from 45deg,#e0dbd8 0deg,#dfdbd9 12deg,#dfdbd9 24deg,#dfdbd9 36deg,#dfdbd9 48deg,#dedcdb 60deg,#dddcdc 72deg,#dddcdc 84deg,#dcdddd 96deg,#dcdddd 108deg,#dbdcde 120deg,#dadce0 132deg,#dadce0 144deg,#dadce0 156deg,#dadce0 168deg,#d9dce1 180deg,#dadce0 192deg,#dadce0 204deg,#dadce0 216deg,#dadce0 228deg,#dbdcde 240deg,#dcdddd 252deg,#dcdddd 264deg,#dddcdc 276deg,#dddcdc 288deg,#dedcdb 300deg,#dfdbd9 312deg,#dfdbd9 324deg,#dfdbd9 336deg,#dfdbd9 348deg,#e0dbd8 360deg);-webkit-mask-image:radial-gradient(closest-side,#000 92.31%,transparent 100%);mask-image:radial-gradient(closest-side,#000 92.31%,transparent 100%)"></i><i style="left:61.1px;top:61.3px;width:329.9px;height:330.7px;background:conic-gradient(from 45deg,#e1dad6 0deg,#e1dad6 12deg,#e0dbd8 24deg,#e0dbd8 36deg,#dfdbd9 48deg,#dfdbd9 60deg,#dedcdb 72deg,#dddcdc 84deg,#dcdddd 96deg,#dbdcde 108deg,#dadce0 120deg,#dadce0 132deg,#d9dce1 144deg,#d9dce1 156deg,#d8dce2 168deg,#d8dce2 180deg,#d8dce2 192deg,#d9dce1 204deg,#d9dce1 216deg,#dadce0 228deg,#dadce0 240deg,#dbdcde 252deg,#dcdddd 264deg,#dddcdc 276deg,#dedcdb 288deg,#dfdbd9 300deg,#dfdbd9 312deg,#e0dbd8 324deg,#e0dbd8 336deg,#e1dad6 348deg,#e1dad6 360deg);-webkit-mask-image:radial-gradient(closest-side,#000 91.67%,transparent 100%);mask-image:radial-gradient(closest-side,#000 91.67%,transparent 100%)"></i><i style="left:74.9px;top:75px;width:302.4px;height:303.1px;background:conic-gradient(from 45deg,#e3d9d3 0deg,#e3d9d3 12deg,#e2dad5 24deg,#e2dad5 36deg,#e1dad6 48deg,#e0dbd8 60deg,#dedcdb 72deg,#dddcdc 84deg,#dcdddd 96deg,#dbdcde 108deg,#d9dce1 120deg,#d8dce2 132deg,#d7dce3 144deg,#d7dce3 156deg,#d6dce4 168deg,#d6dce4 180deg,#d6dce4 192deg,#d7dce3 204deg,#d7dce3 216deg,#d8dce2 228deg,#d9dce1 240deg,#dbdcde 252deg,#dcdddd 264deg,#dddcdc 276deg,#dedcdb 288deg,#e0dbd8 300deg,#e1dad6 312deg,#e2dad5 324deg,#e2dad5 336deg,#e3d9d3 348deg,#e3d9d3 360deg);-webkit-mask-image:radial-gradient(closest-side,#000 90.91%,transparent 100%);mask-image:radial-gradient(closest-side,#000 90.91%,transparent 100%)"></i><i style="left:88.6px;top:88.8px;width:274.9px;height:275.6px;background:conic-gradient(from 45deg,#e7d7ce 0deg,#e7d7ce 12deg,#e6d7cf 24deg,#e5d8d1 36deg,#e3d9d3 48deg,#e2dad5 60deg,#e0dbd8 72deg,#dedcdb 84deg,#dbdcde 96deg,#d9dce1 108deg,#d7dce3 120deg,#d6dce4 132deg,#d4dbe6 144deg,#d3dbe7 156deg,#d2dbe8 168deg,#d2dbe8 180deg,#d2dbe8 192deg,#d3dbe7 204deg,#d4dbe6 216deg,#d6dce4 228deg,#d7dce3 240deg,#d9dce1 252deg,#dbdcde 264deg,#dedcdb 276deg,#e0dbd8 288deg,#e2dad5 300deg,#e3d9d3 312deg,#e5d8d1 324deg,#e6d7cf 336deg,#e7d7ce 348deg,#e7d7ce 360deg);-webkit-mask-image:radial-gradient(closest-side,#000 90.00%,transparent 100%);mask-image:radial-gradient(closest-side,#000 90.00%,transparent 100%)"></i><i style="left:102.3px;top:102.6px;width:247.4px;height:248px;background:conic-gradient(from 45deg,#ecd3c5 0deg,#ecd3c5 12deg,#ebd3c6 24deg,#ead5c9 36deg,#e8d6cc 48deg,#e5d8d1 60deg,#e2dad5 72deg,#dedcdb 84deg,#dbdcde 96deg,#d7dce3 108deg,#d4dbe6 120deg,#d1dae9 132deg,#cedaeb 144deg,#ccd9ed 156deg,#cbd8ee 168deg,#cbd8ee 180deg,#cbd8ee 192deg,#ccd9ed 204deg,#cedaeb 216deg,#d1dae9 228deg,#d4dbe6 240deg,#d7dce3 252deg,#dbdcde 264deg,#dedcdb 276deg,#e2dad5 288deg,#e5d8d1 300deg,#e8d6cc 312deg,#ead5c9 324deg,#ebd3c6 336deg,#ecd3c5 348deg,#ecd3c5 360deg);-webkit-mask-image:radial-gradient(closest-side,#000 88.89%,transparent 100%);mask-image:radial-gradient(closest-side,#000 88.89%,transparent 100%)"></i><i style="left:116.1px;top:116.4px;width:219.9px;height:220.5px;background:conic-gradient(from 45deg,#f2cab5 0deg,#f2cbb7 12deg,#f1ccb8 24deg,#efcebd 36deg,#edd2c3 48deg,#ead5c9 60deg,#e5d8d1 72deg,#dfdbd9 84deg,#dadce0 96deg,#d4dbe6 108deg,#cedaeb 120deg,#cad8ef 132deg,#c5d6f2 144deg,#c1d4f4 156deg,#c0d4f5 168deg,#bfd3f6 180deg,#c0d4f5 192deg,#c1d4f4 204deg,#c5d6f2 216deg,#cad8ef 228deg,#cedaeb 240deg,#d4dbe6 252deg,#dadce0 264deg,#dfdbd9 276deg,#e5d8d1 288deg,#ead5c9 300deg,#edd2c3 312deg,#efcebd 324deg,#f1ccb8 336deg,#f2cbb7 348deg,#f2cab5 360deg);-webkit-mask-image:radial-gradient(closest-side,#000 87.50%,transparent 100%);mask-image:radial-gradient(closest-side,#000 87.50%,transparent 100%)"></i><i style="left:129.8px;top:130.2px;width:192.4px;height:192.9px;background:conic-gradient(from 45deg,#f7bca1 0deg,#f6bda2 12deg,#f6bfa6 24deg,#f5c4ac 36deg,#f2cab5 48deg,#eed0c0 60deg,#e9d5cb 72deg,#e1dad6 84deg,#d8dce2 96deg,#cfdaea 108deg,#c7d7f0 120deg,#bfd3f6 132deg,#b7cff9 144deg,#b2ccfb 156deg,#afcafc 168deg,#aec9fc 180deg,#afcafc 192deg,#b2ccfb 204deg,#b7cff9 216deg,#bfd3f6 228deg,#c7d7f0 240deg,#cfdaea 252deg,#d8dce2 264deg,#e1dad6 276deg,#e9d5cb 288deg,#eed0c0 300deg,#f2cab5 312deg,#f5c4ac 324deg,#f6bfa6 336deg,#f6bda2 348deg,#f7bca1 360deg);-webkit-mask-image:radial-gradient(closest-side,#000 85.71%,transparent 100%);mask-image:radial-gradient(closest-side,#000 85.71%,transparent 100%)"></i><i style="left:143.6px;top:143.9px;width:164.9px;height:165.3px;background:conic-gradient(from 45deg,#f6a586 0deg,#f7a688 12deg,#f7ac8e 24deg,#f7b497 36deg,#f6bea4 48deg,#f3c8b2 60deg,#edd2c3 72deg,#e2dad5 84deg,#d7dce3 96deg,#cad8ef 108deg,#bcd2f7 120deg,#b1cbfc 132deg,#a6c4fe 144deg,#9ebeff 156deg,#98b9ff 168deg,#97b8ff 180deg,#98b9ff 192deg,#9ebeff 204deg,#a6c4fe 216deg,#b1cbfc 228deg,#bcd2f7 240deg,#cad8ef 252deg,#d7dce3 264deg,#e2dad5 276deg,#edd2c3 288deg,#f3c8b2 300deg,#f6bea4 312deg,#f7b497 324deg,#f7ac8e 336deg,#f7a688 348deg,#f6a586 360deg);-webkit-mask-image:radial-gradient(closest-side,#000 83.33%,transparent 100%);mask-image:radial-gradient(closest-side,#000 83.33%,transparent 100%)"></i><i style="left:157.3px;top:157.7px;width:137.4px;height:137.8px;background:conic-gradient(from 45deg,#ee8669 0deg,#f08a6c 12deg,#f29072 24deg,#f59d7e 36deg,#f7ad90 48deg,#f6bea4 60deg,#f1cdba 72deg,#e4d9d2 84deg,#d5dbe5 96deg,#c3d5f4 108deg,#b1cbfc 120deg,#9fbfff 132deg,#90b2fe 144deg,#85a8fc 156deg,#80a3fa 168deg,#7da0f9 180deg,#80a3fa 192deg,#85a8fc 204deg,#90b2fe 216deg,#9fbfff 228deg,#b1cbfc 240deg,#c3d5f4 252deg,#d5dbe5 264deg,#e4d9d2 276deg,#f1cdba 288deg,#f6bea4 300deg,#f7ad90 312deg,#f59d7e 324deg,#f29072 336deg,#f08a6c 348deg,#ee8669 360deg);-webkit-mask-image:radial-gradient(closest-side,#000 80.00%,transparent 100%);mask-image:radial-gradient(closest-side,#000 80.00%,transparent 100%)"></i><i style="left:171.1px;top:171.5px;width:110px;height:110.2px;background:conic-gradient(from 45deg,#de614d 0deg,#e0654f 12deg,#e67259 24deg,#ee8468 36deg,#f49a7b 48deg,#f7b194 60deg,#f3c7b1 72deg,#e6d7cf 84deg,#d3dbe7 96deg,#bbd1f8 108deg,#a3c2fe 120deg,#8db0fe 132deg,#7b9ff9 144deg,#6e90f2 156deg,#6485ec 168deg,#6282ea 180deg,#6485ec 192deg,#6e90f2 204deg,#7b9ff9 216deg,#8db0fe 228deg,#a3c2fe 240deg,#bbd1f8 252deg,#d3dbe7 264deg,#e6d7cf 276deg,#f3c7b1 288deg,#f7b194 300deg,#f49a7b 312deg,#ee8468 324deg,#e67259 336deg,#e0654f 348deg,#de614d 360deg);-webkit-mask-image:radial-gradient(closest-side,#000 75.00%,transparent 100%);mask-image:radial-gradient(closest-side,#000 75.00%,transparent 100%)"></i><i style="left:184.8px;top:185.3px;width:82.5px;height:82.7px;background:conic-gradient(from 45deg,#ca3b37 0deg,#cd423b 12deg,#d65244 24deg,#e36b54 36deg,#ee8669 48deg,#f6a586 60deg,#f5c1a9 72deg,#e8d6cc 84deg,#d1dae9 96deg,#b5cdfa 108deg,#97b8ff 120deg,#7da0f9 132deg,#688aef 144deg,#5977e3 156deg,#506bda 168deg,#4c66d6 180deg,#506bda 192deg,#5977e3 204deg,#688aef 216deg,#7da0f9 228deg,#97b8ff 240deg,#b5cdfa 252deg,#d1dae9 264deg,#e8d6cc 276deg,#f5c1a9 288deg,#f6a586 300deg,#ee8669 312deg,#e36b54 324deg,#d65244 336deg,#cd423b 348deg,#ca3b37 360deg);-webkit-mask-image:radial-gradient(closest-side,#000 66.67%,transparent 100%);mask-image:radial-gradient(closest-side,#000 66.67%,transparent 100%)"></i><i style="left:198.6px;top:199px;width:55px;height:55.1px;background:conic-gradient(from 45deg,#ba162b 0deg,#bd1f2d 12deg,#c83836 24deg,#d85646 36deg,#e97a5f 48deg,#f59d7e 60deg,#f6bda2 72deg,#e9d5cb 84deg,#cfdaea 96deg,#afcafc 108deg,#90b2fe 120deg,#7396f5 132deg,#5b7ae5 144deg,#4b64d5 156deg,#4257c9 168deg,#3f53c6 180deg,#4257c9 192deg,#4b64d5 204deg,#5b7ae5 216deg,#7396f5 228deg,#90b2fe 240deg,#afcafc 252deg,#cfdaea 264deg,#e9d5cb 276deg,#f6bda2 288deg,#f59d7e 300deg,#e97a5f 312deg,#d85646 324deg,#c83836 336deg,#bd1f2d 348deg,#ba162b 360deg);-webkit-mask-image:radial-gradient(closest-side,#000 50.00%,transparent 100%);mask-image:radial-gradient(closest-side,#000 50.00%,transparent 100%)"></i><i style="left:212.3px;top:212.8px;width:27.5px;height:27.6px;background:conic-gradient(from 45deg,#b40426 0deg,#b70d28 12deg,#c43032 24deg,#d55042 36deg,#e7745b 48deg,#f4987a 60deg,#f7bca1 72deg,#ead5c9 84deg,#cedaeb 96deg,#aec9fc 108deg,#8db0fe 120deg,#6f92f3 132deg,#5875e1 144deg,#485fd1 156deg,#3d50c3 168deg,#3b4cc0 180deg,#3d50c3 192deg,#485fd1 204deg,#5875e1 216deg,#6f92f3 228deg,#8caffe 240deg,#aec9fc 252deg,#cedaeb 264deg,#ead5c9 276deg,#f7bca1 288deg,#f4987a 300deg,#e7745b 312deg,#d55042 324deg,#c43032 336deg,#b70d28 348deg,#b40426 360deg);-webkit-mask-image:radial-gradient(closest-side,#000 0.00%,transparent 100%);mask-image:radial-gradient(closest-side,#000 0.00%,transparent 100%)"></i></div>
<div class="hm" style="left:162px;top:1666px;width:454.8px;height:454.4px;background:conic-gradient(from 285deg,#dfdbd9 0deg,#dedcdb 30deg,#dedcdb 60deg,#dddcdc 90deg,#dbdcde 120deg,#dbdcde 150deg,#dadce0 180deg,#dbdcde 210deg,#dbdcde 240deg,#dddcdc 270deg,#dedcdb 300deg,#dedcdb 330deg,#dfdbd9 360deg)"><i style="left:20px;top:20px;width:414.8px;height:414.4px;background:conic-gradient(from 285deg,#dfdbd9 0deg,#dfdbd9 12deg,#dfdbd9 24deg,#dedcdb 36deg,#dedcdb 48deg,#dedcdb 60deg,#dddcdc 72deg,#dddcdc 84deg,#dcdddd 96deg,#dcdddd 108deg,#dbdcde 120deg,#dbdcde 132deg,#dbdcde 144deg,#dadce0 156deg,#dadce0 168deg,#dadce0 180deg,#dadce0 192deg,#dadce0 204deg,#dbdcde 216deg,#dbdcde 228deg,#dbdcde 240deg,#dcdddd 252deg,#dcdddd 264deg,#dddcdc 276deg,#dddcdc 288deg,#dedcdb 300deg,#dedcdb 312deg,#dedcdb 324deg,#dfdbd9 336deg,#dfdbd9 348deg,#dfdbd9 360deg);-webkit-mask-image:radial-gradient(closest-side,#000 93.33%,transparent 100%);mask-image:radial-gradient(closest-side,#000 93.33%,transparent 100%)"></i><i style="left:33.8px;top:33.8px;width:387.2px;height:386.8px;background:conic-gradient(from 285deg,#dfdbd9 0deg,#dfdbd9 12deg,#dfdbd9 24deg,#dfdbd9 36deg,#dedcdb 48deg,#dedcdb 60deg,#dddcdc 72deg,#dddcdc 84deg,#dcdddd 96deg,#dcdddd 108deg,#dbdcde 120deg,#dbdcde 132deg,#dadce0 144deg,#dadce0 156deg,#dadce0 168deg,#dadce0 180deg,#dadce0 192deg,#dadce0 204deg,#dadce0 216deg,#dbdcde 228deg,#dbdcde 240deg,#dcdddd 252deg,#dcdddd 264deg,#dddcdc 276deg,#dddcdc 288deg,#dedcdb 300deg,#dedcdb 312deg,#dfdbd9 324deg,#dfdbd9 336deg,#dfdbd9 348deg,#dfdbd9 360deg);-webkit-mask-image:radial-gradient(closest-side,#000 92.86%,transparent 100%);mask-image:radial-gradient(closest-side,#000 92.86%,transparent 100%)"></i><i style="left:47.6px;top:47.6px;width:359.5px;height:359.1px;background:conic-gradient(from 285deg,#e0dbd8 0deg,#dfdbd9 12deg,#dfdbd9 24deg,#dfdbd9 36deg,#dfdbd9 48deg,#dedcdb 60deg,#dddcdc 72deg,#dddcdc 84deg,#dcdddd 96deg,#dcdddd 108deg,#dbdcde 120deg,#dadce0 132deg,#dadce0 144deg,#dadce0 156deg,#dadce0 168deg,#d9dce1 180deg,#dadce0 192deg,#dadce0 204deg,#dadce0 216deg,#dadce0 228deg,#dbdcde 240deg,#dcdddd 252deg,#dcdddd 264deg,#dddcdc 276deg,#dddcdc 288deg,#dedcdb 300deg,#dfdbd9 312deg,#dfdbd9 324deg,#dfdbd9 336deg,#dfdbd9 348deg,#e0dbd8 360deg);-webkit-mask-image:radial-gradient(closest-side,#000 92.31%,transparent 100%);mask-image:radial-gradient(closest-side,#000 92.31%,transparent 100%)"></i><i style="left:61.5px;top:61.4px;width:331.8px;height:331.5px;background:conic-gradient(from 285deg,#e1dad6 0deg,#e1dad6 12deg,#e0dbd8 24deg,#e0dbd8 36deg,#dfdbd9 48deg,#dfdbd9 60deg,#dedcdb 72deg,#dddcdc 84deg,#dcdddd 96deg,#dbdcde 108deg,#dadce0 120deg,#dadce0 132deg,#d9dce1 144deg,#d9dce1 156deg,#d8dce2 168deg,#d8dce2 180deg,#d8dce2 192deg,#d9dce1 204deg,#d9dce1 216deg,#dadce0 228deg,#dadce0 240deg,#dbdcde 252deg,#dcdddd 264deg,#dddcdc 276deg,#dedcdb 288deg,#dfdbd9 300deg,#dfdbd9 312deg,#e0dbd8 324deg,#e0dbd8 336deg,#e1dad6 348deg,#e1dad6 360deg);-webkit-mask-image:radial-gradient(closest-side,#000 91.67%,transparent 100%);mask-image:radial-gradient(closest-side,#000 91.67%,transparent 100%)"></i><i style="left:75.3px;top:75.2px;width:304.2px;height:303.9px;background:conic-gradient(from 285deg,#e3d9d3 0deg,#e3d9d3 12deg,#e2dad5 24deg,#e2dad5 36deg,#e1dad6 48deg,#e0dbd8 60deg,#dedcdb 72deg,#dddcdc 84deg,#dcdddd 96deg,#dbdcde 108deg,#d9dce1 120deg,#d8dce2 132deg,#d7dce3 144deg,#d7dce3 156deg,#d6dce4 168deg,#d6dce4 180deg,#d6dce4 192deg,#d7dce3 204deg,#d7dce3 216deg,#d8dce2 228deg,#d9dce1 240deg,#dbdcde 252deg,#dcdddd 264deg,#dddcdc 276deg,#dedcdb 288deg,#e0dbd8 300deg,#e1dad6 312deg,#e2dad5 324deg,#e2dad5 336deg,#e3d9d3 348deg,#e3d9d3 360deg);-webkit-mask-image:radial-gradient(closest-side,#000 90.91%,transparent 100%);mask-image:radial-gradient(closest-side,#000 90.91%,transparent 100%)"></i><i style="left:89.1px;top:89px;width:276.5px;height:276.3px;background:conic-gradient(from 285deg,#e7d7ce 0deg,#e7d7ce 12deg,#e6d7cf 24deg,#e5d8d1 36deg,#e3d9d3 48deg,#e2dad5 60deg,#e0dbd8 72deg,#dedcdb 84deg,#dbdcde 96deg,#d9dce1 108deg,#d7dce3 120deg,#d6dce4 132deg,#d4dbe6 144deg,#d3dbe7 156deg,#d2dbe8 168deg,#d2dbe8 180deg,#d2dbe8 192deg,#d3dbe7 204deg,#d4dbe6 216deg,#d6dce4 228deg,#d7dce3 240deg,#d9dce1 252deg,#dbdcde 264deg,#dedcdb 276deg,#e0dbd8 288deg,#e2dad5 300deg,#e3d9d3 312deg,#e5d8d1 324deg,#e6d7cf 336deg,#e7d7ce 348deg,#e7d7ce 360deg);-webkit-mask-image:radial-gradient(closest-side,#000 90.00%,transparent 100%);mask-image:radial-gradient(closest-side,#000 90.00%,transparent 100%)"></i><i style="left:103px;top:102.9px;width:248.9px;height:248.6px;background:conic-gradient(from 285deg,#ecd3c5 0deg,#ecd3c5 12deg,#ebd3c6 24deg,#ead5c9 36deg,#e8d6cc 48deg,#e5d8d1 60deg,#e2dad5 72deg,#dedcdb 84deg,#dbdcde 96deg,#d7dce3 108deg,#d4dbe6 120deg,#d1dae9 132deg,#cedaeb 144deg,#ccd9ed 156deg,#cbd8ee 168deg,#cbd8ee 180deg,#cbd8ee 192deg,#ccd9ed 204deg,#cedaeb 216deg,#d1dae9 228deg,#d4dbe6 240deg,#d7dce3 252deg,#dbdcde 264deg,#dedcdb 276deg,#e2dad5 288deg,#e5d8d1 300deg,#e8d6cc 312deg,#ead5c9 324deg,#ebd3c6 336deg,#ecd3c5 348deg,#ecd3c5 360deg);-webkit-mask-image:radial-gradient(closest-side,#000 88.89%,transparent 100%);mask-image:radial-gradient(closest-side,#000 88.89%,transparent 100%)"></i><i style="left:116.8px;top:116.7px;width:221.2px;height:221px;background:conic-gradient(from 285deg,#f2cab5 0deg,#f2cbb7 12deg,#f1ccb8 24deg,#efcebd 36deg,#edd2c3 48deg,#ead5c9 60deg,#e5d8d1 72deg,#dfdbd9 84deg,#dadce0 96deg,#d4dbe6 108deg,#cedaeb 120deg,#cad8ef 132deg,#c5d6f2 144deg,#c1d4f4 156deg,#c0d4f5 168deg,#bfd3f6 180deg,#c0d4f5 192deg,#c1d4f4 204deg,#c5d6f2 216deg,#cad8ef 228deg,#cedaeb 240deg,#d4dbe6 252deg,#dadce0 264deg,#dfdbd9 276deg,#e5d8d1 288deg,#ead5c9 300deg,#edd2c3 312deg,#efcebd 324deg,#f1ccb8 336deg,#f2cbb7 348deg,#f2cab5 360deg);-webkit-mask-image:radial-gradient(closest-side,#000 87.50%,transparent 100%);mask-image:radial-gradient(closest-side,#000 87.50%,transparent 100%)"></i><i style="left:130.6px;top:130.5px;width:193.6px;height:193.4px;background:conic-gradient(from 285deg,#f7bca1 0deg,#f6bda2 12deg,#f6bfa6 24deg,#f5c4ac 36deg,#f2cab5 48deg,#eed0c0 60deg,#e9d5cb 72deg,#e1dad6 84deg,#d8dce2 96deg,#cfdaea 108deg,#c7d7f0 120deg,#bfd3f6 132deg,#b7cff9 144deg,#b2ccfb 156deg,#afcafc 168deg,#aec9fc 180deg,#afcafc 192deg,#b2ccfb 204deg,#b7cff9 216deg,#bfd3f6 228deg,#c7d7f0 240deg,#cfdaea 252deg,#d8dce2 264deg,#e1dad6 276deg,#e9d5cb 288deg,#eed0c0 300deg,#f2cab5 312deg,#f5c4ac 324deg,#f6bfa6 336deg,#f6bda2 348deg,#f7bca1 360deg);-webkit-mask-image:radial-gradient(closest-side,#000 85.71%,transparent 100%);mask-image:radial-gradient(closest-side,#000 85.71%,transparent 100%)"></i><i style="left:144.4px;top:144.3px;width:165.9px;height:165.8px;background:conic-gradient(from 285deg,#f6a586 0deg,#f7a688 12deg,#f7ac8e 24deg,#f7b497 36deg,#f6bea4 48deg,#f3c8b2 60deg,#edd2c3 72deg,#e2dad5 84deg,#d7dce3 96deg,#cad8ef 108deg,#bcd2f7 120deg,#b1cbfc 132deg,#a6c4fe 144deg,#9ebeff 156deg,#98b9ff 168deg,#97b8ff 180deg,#98b9ff 192deg,#9ebeff 204deg,#a6c4fe 216deg,#b1cbfc 228deg,#bcd2f7 240deg,#cad8ef 252deg,#d7dce3 264deg,#e2dad5 276deg,#edd2c3 288deg,#f3c8b2 300deg,#f6bea4 312deg,#f7b497 324deg,#f7ac8e 336deg,#f7a688 348deg,#f6a586 360deg);-webkit-mask-image:radial-gradient(closest-side,#000 83.33%,transparent 100%);mask-image:radial-gradient(closest-side,#000 83.33%,transparent 100%)"></i><i style="left:158.3px;top:158.1px;width:138.3px;height:138.1px;background:conic-gradient(from 285deg,#ee8669 0deg,#f08a6c 12deg,#f29072 24deg,#f59d7e 36deg,#f7ad90 48deg,#f6bea4 60deg,#f1cdba 72deg,#e4d9d2 84deg,#d5dbe5 96deg,#c3d5f4 108deg,#b1cbfc 120deg,#9fbfff 132deg,#90b2fe 144deg,#85a8fc 156deg,#80a3fa 168deg,#7da0f9 180deg,#80a3fa 192deg,#85a8fc 204deg,#90b2fe 216deg,#9fbfff 228deg,#b1cbfc 240deg,#c3d5f4 252deg,#d5dbe5 264deg,#e4d9d2 276deg,#f1cdba 288deg,#f6bea4 300deg,#f7ad90 312deg,#f59d7e 324deg,#f29072 336deg,#f08a6c 348deg,#ee8669 360deg);-webkit-mask-image:radial-gradient(closest-side,#000 80.00%,transparent 100%);mask-image:radial-gradient(closest-side,#000 80.00%,transparent 100%)"></i><i style="left:172.1px;top:171.9px;width:110.6px;height:110.5px;background:conic-gradient(from 285deg,#de614d 0deg,#e0654f 12deg,#e67259 24deg,#ee8468 36deg,#f49a7b 48deg,#f7b194 60deg,#f3c7b1 72deg,#e6d7cf 84deg,#d3dbe7 96deg,#bbd1f8 108deg,#a3c2fe 120deg,#8db0fe 132deg,#7b9ff9 144deg,#6e90f2 156deg,#6485ec 168deg,#6282ea 180deg,#6485ec 192deg,#6e90f2 204deg,#7b9ff9 216deg,#8db0fe 228deg,#a3c2fe 240deg,#bbd1f8 252deg,#d3dbe7 264deg,#e6d7cf 276deg,#f3c7b1 288deg,#f7b194 300deg,#f49a7b 312deg,#ee8468 324deg,#e67259 336deg,#e0654f 348deg,#de614d 360deg);-webkit-mask-image:radial-gradient(closest-side,#000 75.00%,transparent 100%);mask-image:radial-gradient(closest-side,#000 75.00%,transparent 100%)"></i><i style="left:185.9px;top:185.7px;width:83px;height:82.9px;background:conic-gradient(from 285deg,#ca3b37 0deg,#cd423b 12deg,#d65244 24deg,#e36b54 36deg,#ee8669 48deg,#f6a586 60deg,#f5c1a9 72deg,#e8d6cc 84deg,#d1dae9 96deg,#b5cdfa 108deg,#97b8ff 120deg,#7da0f9 132deg,#688aef 144deg,#5977e3 156deg,#506bda 168deg,#4c66d6 180deg,#506bda 192deg,#5977e3 204deg,#688aef 216deg,#7da0f9 228deg,#97b8ff 240deg,#b5cdfa 252deg,#d1dae9 264deg,#e8d6cc 276deg,#f5c1a9 288deg,#f6a586 300deg,#ee8669 312deg,#e36b54 324deg,#d65244 336deg,#cd423b 348deg,#ca3b37 360deg);-webkit-mask-image:radial-gradient(closest-side,#000 66.67%,transparent 100%);mask-image:radial-gradient(closest-side,#000 66.67%,transparent 100%)"></i><i style="left:199.7px;top:199.5px;width:55.3px;height:55.3px;background:conic-gradient(from 285deg,#ba162b 0deg,#bd1f2d 12deg,#c83836 24deg,#d85646 36deg,#e97a5f 48deg,#f59d7e 60deg,#f6bda2 72deg,#e9d5cb 84deg,#cfdaea 96deg,#afcafc 108deg,#90b2fe 120deg,#7396f5 132deg,#5b7ae5 144deg,#4b64d5 156deg,#4257c9 168deg,#3f53c6 180deg,#4257c9 192deg,#4b64d5 204deg,#5b7ae5 216deg,#7396f5 228deg,#90b2fe 240deg,#afcafc 252deg,#cfdaea 264deg,#e9d5cb 276deg,#f6bda2 288deg,#f59d7e 300deg,#e97a5f 312deg,#d85646 324deg,#c83836 336deg,#bd1f2d 348deg,#ba162b 360deg);-webkit-mask-image:radial-gradient(closest-side,#000 50.00%,transparent 100%);mask-image:radial-gradient(closest-side,#000 50.00%,transparent 100%)"></i><i style="left:213.6px;top:213.4px;width:27.7px;height:27.6px;background:conic-gradient(from 285deg,#b40426 0deg,#b70d28 12deg,#c43032 24deg,#d55042 36deg,#e7745b 48deg,#f4987a 60deg,#f7bca1 72deg,#ead5c9 84deg,#cedaeb 96deg,#aec9fc 108deg,#8db0fe 120deg,#6f92f3 132deg,#5875e1 144deg,#485fd1 156deg,#3d50c3 168deg,#3b4cc0 180deg,#3d50c3 192deg,#485fd1 204deg,#5875e1 216deg,#6f92f3 228deg,#8caffe 240deg,#aec9fc 252deg,#cedaeb 264deg,#ead5c9 276deg,#f7bca1 288deg,#f4987a 300deg,#e7745b 312deg,#d55042 324deg,#c43032 336deg,#b70d28 348deg,#b40426 360deg);-webkit-mask-image:radial-gradient(closest-side,#000 0.00%,transparent 100%);mask-image:radial-gradient(closest-side,#000 0.00%,transparent 100%)"></i></div>
<div class="hm" style="left:812.8px;top:1663.8px;width:448.1px;height:458.5px;background:conic-gradient(from 15deg,#dfdbd9 0deg,#dedcdb 30deg,#dedcdb 60deg,#dddcdc 90deg,#dbdcde 120deg,#dbdcde 150deg,#dadce0 180deg,#dbdcde 210deg,#dbdcde 240deg,#dddcdc 270deg,#dedcdb 300deg,#dedcdb 330deg,#dfdbd9 360deg)"><i style="left:19.7px;top:20.2px;width:408.7px;height:418.2px;background:conic-gradient(from 15deg,#dfdbd9 0deg,#dfdbd9 12deg,#dfdbd9 24deg,#dedcdb 36deg,#dedcdb 48deg,#dedcdb 60deg,#dddcdc 72deg,#dddcdc 84deg,#dcdddd 96deg,#dcdddd 108deg,#dbdcde 120deg,#dbdcde 132deg,#dbdcde 144deg,#dadce0 156deg,#dadce0 168deg,#dadce0 180deg,#dadce0 192deg,#dadce0 204deg,#dbdcde 216deg,#dbdcde 228deg,#dbdcde 240deg,#dcdddd 252deg,#dcdddd 264deg,#dddcdc 276deg,#dddcdc 288deg,#dedcdb 300deg,#dedcdb 312deg,#dedcdb 324deg,#dfdbd9 336deg,#dfdbd9 348deg,#dfdbd9 360deg);-webkit-mask-image:radial-gradient(closest-side,#000 93.33%,transparent 100%);mask-image:radial-gradient(closest-side,#000 93.33%,transparent 100%)"></i><i style="left:33.3px;top:34.1px;width:381.5px;height:390.3px;background:conic-gradient(from 15deg,#dfdbd9 0deg,#dfdbd9 12deg,#dfdbd9 24deg,#dfdbd9 36deg,#dedcdb 48deg,#dedcdb 60deg,#dddcdc 72deg,#dddcdc 84deg,#dcdddd 96deg,#dcdddd 108deg,#dbdcde 120deg,#dbdcde 132deg,#dadce0 144deg,#dadce0 156deg,#dadce0 168deg,#dadce0 180deg,#dadce0 192deg,#dadce0 204deg,#dadce0 216deg,#dbdcde 228deg,#dbdcde 240deg,#dcdddd 252deg,#dcdddd 264deg,#dddcdc 276deg,#dddcdc 288deg,#dedcdb 300deg,#dedcdb 312deg,#dfdbd9 324deg,#dfdbd9 336deg,#dfdbd9 348deg,#dfdbd9 360deg);-webkit-mask-image:radial-gradient(closest-side,#000 92.86%,transparent 100%);mask-image:radial-gradient(closest-side,#000 92.86%,transparent 100%)"></i><i style="left:46.9px;top:48px;width:354.2px;height:362.4px;background:conic-gradient(from 15deg,#e0dbd8 0deg,#dfdbd9 12deg,#dfdbd9 24deg,#dfdbd9 36deg,#dfdbd9 48deg,#dedcdb 60deg,#dddcdc 72deg,#dddcdc 84deg,#dcdddd 96deg,#dcdddd 108deg,#dbdcde 120deg,#dadce0 132deg,#dadce0 144deg,#dadce0 156deg,#dadce0 168deg,#d9dce1 180deg,#dadce0 192deg,#dadce0 204deg,#dadce0 216deg,#dadce0 228deg,#dbdcde 240deg,#dcdddd 252deg,#dcdddd 264deg,#dddcdc 276deg,#dddcdc 288deg,#dedcdb 300deg,#dfdbd9 312deg,#dfdbd9 324deg,#dfdbd9 336deg,#dfdbd9 348deg,#e0dbd8 360deg);-webkit-mask-image:radial-gradient(closest-side,#000 92.31%,transparent 100%);mask-image:radial-gradient(closest-side,#000 92.31%,transparent 100%)"></i><i style="left:60.6px;top:62px;width:327px;height:334.5px;background:conic-gradient(from 15deg,#e1dad6 0deg,#e1dad6 12deg,#e0dbd8 24deg,#e0dbd8 36deg,#dfdbd9 48deg,#dfdbd9 60deg,#dedcdb 72deg,#dddcdc 84deg,#dcdddd 96deg,#dbdcde 108deg,#dadce0 120deg,#dadce0 132deg,#d9dce1 144deg,#d9dce1 156deg,#d8dce2 168deg,#d8dce2 180deg,#d8dce2 192deg,#d9dce1 204deg,#d9dce1 216deg,#dadce0 228deg,#dadce0 240deg,#dbdcde 252deg,#dcdddd 264deg,#dddcdc 276deg,#dedcdb 288deg,#dfdbd9 300deg,#dfdbd9 312deg,#e0dbd8 324deg,#e0dbd8 336deg,#e1dad6 348deg,#e1dad6 360deg);-webkit-mask-image:radial-gradient(closest-side,#000 91.67%,transparent 100%);mask-image:radial-gradient(closest-side,#000 91.67%,transparent 100%)"></i><i style="left:74.2px;top:75.9px;width:299.7px;height:306.7px;background:conic-gradient(from 15deg,#e3d9d3 0deg,#e3d9d3 12deg,#e2dad5 24deg,#e2dad5 36deg,#e1dad6 48deg,#e0dbd8 60deg,#dedcdb 72deg,#dddcdc 84deg,#dcdddd 96deg,#dbdcde 108deg,#d9dce1 120deg,#d8dce2 132deg,#d7dce3 144deg,#d7dce3 156deg,#d6dce4 168deg,#d6dce4 180deg,#d6dce4 192deg,#d7dce3 204deg,#d7dce3 216deg,#d8dce2 228deg,#d9dce1 240deg,#dbdcde 252deg,#dcdddd 264deg,#dddcdc 276deg,#dedcdb 288deg,#e0dbd8 300deg,#e1dad6 312deg,#e2dad5 324deg,#e2dad5 336deg,#e3d9d3 348deg,#e3d9d3 360deg);-webkit-mask-image:radial-gradient(closest-side,#000 90.91%,transparent 100%);mask-image:radial-gradient(closest-side,#000 90.91%,transparent 100%)"></i><i style="left:87.8px;top:89.9px;width:272.5px;height:278.8px;background:conic-gradient(from 15deg,#e7d7ce 0deg,#e7d7ce 12deg,#e6d7cf 24deg,#e5d8d1 36deg,#e3d9d3 48deg,#e2dad5 60deg,#e0dbd8 72deg,#dedcdb 84deg,#dbdcde 96deg,#d9dce1 108deg,#d7dce3 120deg,#d6dce4 132deg,#d4dbe6 144deg,#d3dbe7 156deg,#d2dbe8 168deg,#d2dbe8 180deg,#d2dbe8 192deg,#d3dbe7 204deg,#d4dbe6 216deg,#d6dce4 228deg,#d7dce3 240deg,#d9dce1 252deg,#dbdcde 264deg,#dedcdb 276deg,#e0dbd8 288deg,#e2dad5 300deg,#e3d9d3 312deg,#e5d8d1 324deg,#e6d7cf 336deg,#e7d7ce 348deg,#e7d7ce 360deg);-webkit-mask-image:radial-gradient(closest-side,#000 90.00%,transparent 100%);mask-image:radial-gradient(closest-side,#000 90.00%,transparent 100%)"></i><i style="left:101.4px;top:103.8px;width:245.2px;height:250.9px;background:conic-gradient(from 15deg,#ecd3c5 0deg,#ecd3c5 12deg,#ebd3c6 24deg,#ead5c9 36deg,#e8d6cc 48deg,#e5d8d1 60deg,#e2dad5 72deg,#dedcdb 84deg,#dbdcde 96deg,#d7dce3 108deg,#d4dbe6 120deg,#d1dae9 132deg,#cedaeb 144deg,#ccd9ed 156deg,#cbd8ee 168deg,#cbd8ee 180deg,#cbd8ee 192deg,#ccd9ed 204deg,#cedaeb 216deg,#d1dae9 228deg,#d4dbe6 240deg,#d7dce3 252deg,#dbdcde 264deg,#dedcdb 276deg,#e2dad5 288deg,#e5d8d1 300deg,#e8d6cc 312deg,#ead5c9 324deg,#ebd3c6 336deg,#ecd3c5 348deg,#ecd3c5 360deg);-webkit-mask-image:radial-gradient(closest-side,#000 88.89%,transparent 100%);mask-image:radial-gradient(closest-side,#000 88.89%,transparent 100%)"></i><i style="left:115.1px;top:117.7px;width:218px;height:223px;background:conic-gradient(from 15deg,#f2cab5 0deg,#f2cbb7 12deg,#f1ccb8 24deg,#efcebd 36deg,#edd2c3 48deg,#ead5c9 60deg,#e5d8d1 72deg,#dfdbd9 84deg,#dadce0 96deg,#d4dbe6 108deg,#cedaeb 120deg,#cad8ef 132deg,#c5d6f2 144deg,#c1d4f4 156deg,#c0d4f5 168deg,#bfd3f6 180deg,#c0d4f5 192deg,#c1d4f4 204deg,#c5d6f2 216deg,#cad8ef 228deg,#cedaeb 240deg,#d4dbe6 252deg,#dadce0 264deg,#dfdbd9 276deg,#e5d8d1 288deg,#ead5c9 300deg,#edd2c3 312deg,#efcebd 324deg,#f1ccb8 336deg,#f2cbb7 348deg,#f2cab5 360deg);-webkit-mask-image:radial-gradient(closest-side,#000 87.50%,transparent 100%);mask-image:radial-gradient(closest-side,#000 87.50%,transparent 100%)"></i><i style="left:128.7px;top:131.7px;width:190.7px;height:195.2px;background:conic-gradient(from 15deg,#f7bca1 0deg,#f6bda2 12deg,#f6bfa6 24deg,#f5c4ac 36deg,#f2cab5 48deg,#eed0c0 60deg,#e9d5cb 72deg,#e1dad6 84deg,#d8dce2 96deg,#cfdaea 108deg,#c7d7f0 120deg,#bfd3f6 132deg,#b7cff9 144deg,#b2ccfb 156deg,#afcafc 168deg,#aec9fc 180deg,#afcafc 192deg,#b2ccfb 204deg,#b7cff9 216deg,#bfd3f6 228deg,#c7d7f0 240deg,#cfdaea 252deg,#d8dce2 264deg,#e1dad6 276deg,#e9d5cb 288deg,#eed0c0 300deg,#f2cab5 312deg,#f5c4ac 324deg,#f6bfa6 336deg,#f6bda2 348deg,#f7bca1 360deg);-webkit-mask-image:radial-gradient(closest-side,#000 85.71%,transparent 100%);mask-image:radial-gradient(closest-side,#000 85.71%,transparent 100%)"></i><i style="left:142.3px;top:145.6px;width:163.5px;height:167.3px;background:conic-gradient(from 15deg,#f6a586 0deg,#f7a688 12deg,#f7ac8e 24deg,#f7b497 36deg,#f6bea4 48deg,#f3c8b2 60deg,#edd2c3 72deg,#e2dad5 84deg,#d7dce3 96deg,#cad8ef 108deg,#bcd2f7 120deg,#b1cbfc 132deg,#a6c4fe 144deg,#9ebeff 156deg,#98b9ff 168deg,#97b8ff 180deg,#98b9ff 192deg,#9ebeff 204deg,#a6c4fe 216deg,#b1cbfc 228deg,#bcd2f7 240deg,#cad8ef 252deg,#d7dce3 264deg,#e2dad5 276deg,#edd2c3 288deg,#f3c8b2 300deg,#f6bea4 312deg,#f7b497 324deg,#f7ac8e 336deg,#f7a688 348deg,#f6a586 360deg);-webkit-mask-image:radial-gradient(closest-side,#000 83.33%,transparent 100%);mask-image:radial-gradient(closest-side,#000 83.33%,transparent 100%)"></i><i style="left:155.9px;top:159.6px;width:136.2px;height:139.4px;background:conic-gradient(from 15deg,#ee8669 0deg,#f08a6c 12deg,#f29072 24deg,#f59d7e 36deg,#f7ad90 48deg,#f6bea4 60deg,#f1cdba 72deg,#e4d9d2 84deg,#d5dbe5 96deg,#c3d5f4 108deg,#b1cbfc 120deg,#9fbfff 132deg,#90b2fe 144deg,#85a8fc 156deg,#80a3fa 168deg,#7da0f9 180deg,#80a3fa 192deg,#85a8fc 204deg,#90b2fe 216deg,#9fbfff 228deg,#b1cbfc 240deg,#c3d5f4 252deg,#d5dbe5 264deg,#e4d9d2 276deg,#f1cdba 288deg,#f6bea4 300deg,#f7ad90 312deg,#f59d7e 324deg,#f29072 336deg,#f08a6c 348deg,#ee8669 360deg);-webkit-mask-image:radial-gradient(closest-side,#000 80.00%,transparent 100%);mask-image:radial-gradient(closest-side,#000 80.00%,transparent 100%)"></i><i style="left:169.6px;top:173.5px;width:109px;height:111.5px;background:conic-gradient(from 15deg,#de614d 0deg,#e0654f 12deg,#e67259 24deg,#ee8468 36deg,#f49a7b 48deg,#f7b194 60deg,#f3c7b1 72deg,#e6d7cf 84deg,#d3dbe7 96deg,#bbd1f8 108deg,#a3c2fe 120deg,#8db0fe 132deg,#7b9ff9 144deg,#6e90f2 156deg,#6485ec 168deg,#6282ea 180deg,#6485ec 192deg,#6e90f2 204deg,#7b9ff9 216deg,#8db0fe 228deg,#a3c2fe 240deg,#bbd1f8 252deg,#d3dbe7 264deg,#e6d7cf 276deg,#f3c7b1 288deg,#f7b194 300deg,#f49a7b 312deg,#ee8468 324deg,#e67259 336deg,#e0654f 348deg,#de614d 360deg);-webkit-mask-image:radial-gradient(closest-side,#000 75.00%,transparent 100%);mask-image:radial-gradient(closest-side,#000 75.00%,transparent 100%)"></i><i style="left:183.2px;top:187.4px;width:81.7px;height:83.6px;background:conic-gradient(from 15deg,#ca3b37 0deg,#cd423b 12deg,#d65244 24deg,#e36b54 36deg,#ee8669 48deg,#f6a586 60deg,#f5c1a9 72deg,#e8d6cc 84deg,#d1dae9 96deg,#b5cdfa 108deg,#97b8ff 120deg,#7da0f9 132deg,#688aef 144deg,#5977e3 156deg,#506bda 168deg,#4c66d6 180deg,#506bda 192deg,#5977e3 204deg,#688aef 216deg,#7da0f9 228deg,#97b8ff 240deg,#b5cdfa 252deg,#d1dae9 264deg,#e8d6cc 276deg,#f5c1a9 288deg,#f6a586 300deg,#ee8669 312deg,#e36b54 324deg,#d65244 336deg,#cd423b 348deg,#ca3b37 360deg);-webkit-mask-image:radial-gradient(closest-side,#000 66.67%,transparent 100%);mask-image:radial-gradient(closest-side,#000 66.67%,transparent 100%)"></i><i style="left:196.8px;top:201.4px;width:54.5px;height:55.8px;background:conic-gradient(from 15deg,#ba162b 0deg,#bd1f2d 12deg,#c83836 24deg,#d85646 36deg,#e97a5f 48deg,#f59d7e 60deg,#f6bda2 72deg,#e9d5cb 84deg,#cfdaea 96deg,#afcafc 108deg,#90b2fe 120deg,#7396f5 132deg,#5b7ae5 144deg,#4b64d5 156deg,#4257c9 168deg,#3f53c6 180deg,#4257c9 192deg,#4b64d5 204deg,#5b7ae5 216deg,#7396f5 228deg,#90b2fe 240deg,#afcafc 252deg,#cfdaea 264deg,#e9d5cb 276deg,#f6bda2 288deg,#f59d7e 300deg,#e97a5f 312deg,#d85646 324deg,#c83836 336deg,#bd1f2d 348deg,#ba162b 360deg);-webkit-mask-image:radial-gradient(closest-side,#000 50.00%,transparent 100%);mask-image:radial-gradient(closest-side,#000 50.00%,transparent 100%)"></i><i style="left:210.4px;top:215.3px;width:27.2px;height:27.9px;background:conic-gradient(from 15deg,#b40426 0deg,#b70d28 12deg,#c43032 24deg,#d55042 36deg,#e7745b 48deg,#f4987a 60deg,#f7bca1 72deg,#ead5c9 84deg,#cedaeb 96deg,#aec9fc 108deg,#8db0fe 120deg,#6f92f3 132deg,#5875e1 144deg,#485fd1 156deg,#3d50c3 168deg,#3b4cc0 180deg,#3d50c3 192deg,#485fd1 204deg,#5875e1 216deg,#6f92f3 228deg,#8caffe 240deg,#aec9fc 252deg,#cedaeb 264deg,#ead5c9 276deg,#f7bca1 288deg,#f4987a 300deg,#e7745b 312deg,#d55042 324deg,#c43032 336deg,#b70d28 348deg,#b40426 360deg);-webkit-mask-image:radial-gradient(closest-side,#000 0.00%,transparent 100%);mask-image:radial-gradient(closest-side,#000 0.00%,transparent 100%)"></i></div>
<div class="hm" style="left:1461px;top:1666px;width:452.1px;height:453.5px;background:conic-gradient(from 105deg,#dfdbd9 0deg,#dedcdb 30deg,#dedcdb 60deg,#dddcdc 90deg,#dbdcde 120deg,#dbdcde 150deg,#dadce0 180deg,#dbdcde 210deg,#dbdcde 240deg,#dddcdc 270deg,#dedcdb 300deg,#dedcdb 330deg,#dfdbd9 360deg)"><i style="left:19.9px;top:19.9px;width:412.4px;height:413.6px;background:conic-gradient(from 105deg,#dfdbd9 0deg,#dfdbd9 12deg,#dfdbd9 24deg,#dedcdb 36deg,#dedcdb 48deg,#dedcdb 60deg,#dddcdc 72deg,#dddcdc 84deg,#dcdddd 96deg,#dcdddd 108deg,#dbdcde 120deg,#dbdcde 132deg,#dbdcde 144deg,#dadce0 156deg,#dadce0 168deg,#dadce0 180deg,#dadce0 192deg,#dadce0 204deg,#dbdcde 216deg,#dbdcde 228deg,#dbdcde 240deg,#dcdddd 252deg,#dcdddd 264deg,#dddcdc 276deg,#dddcdc 288deg,#dedcdb 300deg,#dedcdb 312deg,#dedcdb 324deg,#dfdbd9 336deg,#dfdbd9 348deg,#dfdbd9 360deg);-webkit-mask-image:radial-gradient(closest-side,#000 93.33%,transparent 100%);mask-image:radial-gradient(closest-side,#000 93.33%,transparent 100%)"></i><i style="left:33.6px;top:33.7px;width:384.9px;height:386px;background:conic-gradient(from 105deg,#dfdbd9 0deg,#dfdbd9 12deg,#dfdbd9 24deg,#dfdbd9 36deg,#dedcdb 48deg,#dedcdb 60deg,#dddcdc 72deg,#dddcdc 84deg,#dcdddd 96deg,#dcdddd 108deg,#dbdcde 120deg,#dbdcde 132deg,#dadce0 144deg,#dadce0 156deg,#dadce0 168deg,#dadce0 180deg,#dadce0 192deg,#dadce0 204deg,#dadce0 216deg,#dbdcde 228deg,#dbdcde 240deg,#dcdddd 252deg,#dcdddd 264deg,#dddcdc 276deg,#dddcdc 288deg,#dedcdb 300deg,#dedcdb 312deg,#dfdbd9 324deg,#dfdbd9 336deg,#dfdbd9 348deg,#dfdbd9 360deg);-webkit-mask-image:radial-gradient(closest-side,#000 92.86%,transparent 100%);mask-image:radial-gradient(closest-side,#000 92.86%,transparent 100%)"></i><i style="left:47.4px;top:47.5px;width:357.4px;height:358.4px;background:conic-gradient(from 105deg,#e0dbd8 0deg,#dfdbd9 12deg,#dfdbd9 24deg,#dfdbd9 36deg,#dfdbd9 48deg,#dedcdb 60deg,#dddcdc 72deg,#dddcdc 84deg,#dcdddd 96deg,#dcdddd 108deg,#dbdcde 120deg,#dadce0 132deg,#dadce0 144deg,#dadce0 156deg,#dadce0 168deg,#d9dce1 180deg,#dadce0 192deg,#dadce0 204deg,#dadce0 216deg,#dadce0 228deg,#dbdcde 240deg,#dcdddd 252deg,#dcdddd 264deg,#dddcdc 276deg,#dddcdc 288deg,#dedcdb 300deg,#dfdbd9 312deg,#dfdbd9 324deg,#dfdbd9 336deg,#dfdbd9 348deg,#e0dbd8 360deg);-webkit-mask-image:radial-gradient(closest-side,#000 92.31%,transparent 100%);mask-image:radial-gradient(closest-side,#000 92.31%,transparent 100%)"></i><i style="left:61.1px;top:61.3px;width:329.9px;height:330.9px;background:conic-gradient(from 105deg,#e1dad6 0deg,#e1dad6 12deg,#e0dbd8 24deg,#e0dbd8 36deg,#dfdbd9 48deg,#dfdbd9 60deg,#dedcdb 72deg,#dddcdc 84deg,#dcdddd 96deg,#dbdcde 108deg,#dadce0 120deg,#dadce0 132deg,#d9dce1 144deg,#d9dce1 156deg,#d8dce2 168deg,#d8dce2 180deg,#d8dce2 192deg,#d9dce1 204deg,#d9dce1 216deg,#dadce0 228deg,#dadce0 240deg,#dbdcde 252deg,#dcdddd 264deg,#dddcdc 276deg,#dedcdb 288deg,#dfdbd9 300deg,#dfdbd9 312deg,#e0dbd8 324deg,#e0dbd8 336deg,#e1dad6 348deg,#e1dad6 360deg);-webkit-mask-image:radial-gradient(closest-side,#000 91.67%,transparent 100%);mask-image:radial-gradient(closest-side,#000 91.67%,transparent 100%)"></i><i style="left:74.9px;top:75.1px;width:302.4px;height:303.3px;background:conic-gradient(from 105deg,#e3d9d3 0deg,#e3d9d3 12deg,#e2dad5 24deg,#e2dad5 36deg,#e1dad6 48deg,#e0dbd8 60deg,#dedcdb 72deg,#dddcdc 84deg,#dcdddd 96deg,#dbdcde 108deg,#d9dce1 120deg,#d8dce2 132deg,#d7dce3 144deg,#d7dce3 156deg,#d6dce4 168deg,#d6dce4 180deg,#d6dce4 192deg,#d7dce3 204deg,#d7dce3 216deg,#d8dce2 228deg,#d9dce1 240deg,#dbdcde 252deg,#dcdddd 264deg,#dddcdc 276deg,#dedcdb 288deg,#e0dbd8 300deg,#e1dad6 312deg,#e2dad5 324deg,#e2dad5 336deg,#e3d9d3 348deg,#e3d9d3 360deg);-webkit-mask-image:radial-gradient(closest-side,#000 90.91%,transparent 100%);mask-image:radial-gradient(closest-side,#000 90.91%,transparent 100%)"></i><i style="left:88.6px;top:88.9px;width:274.9px;height:275.7px;background:conic-gradient(from 105deg,#e7d7ce 0deg,#e7d7ce 12deg,#e6d7cf 24deg,#e5d8d1 36deg,#e3d9d3 48deg,#e2dad5 60deg,#e0dbd8 72deg,#dedcdb 84deg,#dbdcde 96deg,#d9dce1 108deg,#d7dce3 120deg,#d6dce4 132deg,#d4dbe6 144deg,#d3dbe7 156deg,#d2dbe8 168deg,#d2dbe8 180deg,#d2dbe8 192deg,#d3dbe7 204deg,#d4dbe6 216deg,#d6dce4 228deg,#d7dce3 240deg,#d9dce1 252deg,#dbdcde 264deg,#dedcdb 276deg,#e0dbd8 288deg,#e2dad5 300deg,#e3d9d3 312deg,#e5d8d1 324deg,#e6d7cf 336deg,#e7d7ce 348deg,#e7d7ce 360deg);-webkit-mask-image:radial-gradient(closest-side,#000 90.00%,transparent 100%);mask-image:radial-gradient(closest-side,#000 90.00%,transparent 100%)"></i><i style="left:102.4px;top:102.7px;width:247.4px;height:248.1px;background:conic-gradient(from 105deg,#ecd3c5 0deg,#ecd3c5 12deg,#ebd3c6 24deg,#ead5c9 36deg,#e8d6cc 48deg,#e5d8d1 60deg,#e2dad5 72deg,#dedcdb 84deg,#dbdcde 96deg,#d7dce3 108deg,#d4dbe6 120deg,#d1dae9 132deg,#cedaeb 144deg,#ccd9ed 156deg,#cbd8ee 168deg,#cbd8ee 180deg,#cbd8ee 192deg,#ccd9ed 204deg,#cedaeb 216deg,#d1dae9 228deg,#d4dbe6 240deg,#d7dce3 252deg,#dbdcde 264deg,#dedcdb 276deg,#e2dad5 288deg,#e5d8d1 300deg,#e8d6cc 312deg,#ead5c9 324deg,#ebd3c6 336deg,#ecd3c5 348deg,#ecd3c5 360deg);-webkit-mask-image:radial-gradient(closest-side,#000 88.89%,transparent 100%);mask-image:radial-gradient(closest-side,#000 88.89%,transparent 100%)"></i><i style="left:116.1px;top:116.4px;width:219.9px;height:220.6px;background:conic-gradient(from 105deg,#f2cab5 0deg,#f2cbb7 12deg,#f1ccb8 24deg,#efcebd 36deg,#edd2c3 48deg,#ead5c9 60deg,#e5d8d1 72deg,#dfdbd9 84deg,#dadce0 96deg,#d4dbe6 108deg,#cedaeb 120deg,#cad8ef 132deg,#c5d6f2 144deg,#c1d4f4 156deg,#c0d4f5 168deg,#bfd3f6 180deg,#c0d4f5 192deg,#c1d4f4 204deg,#c5d6f2 216deg,#cad8ef 228deg,#cedaeb 240deg,#d4dbe6 252deg,#dadce0 264deg,#dfdbd9 276deg,#e5d8d1 288deg,#ead5c9 300deg,#edd2c3 312deg,#efcebd 324deg,#f1ccb8 336deg,#f2cbb7 348deg,#f2cab5 360deg);-webkit-mask-image:radial-gradient(closest-side,#000 87.50%,transparent 100%);mask-image:radial-gradient(closest-side,#000 87.50%,transparent 100%)"></i><i style="left:129.8px;top:130.2px;width:192.5px;height:193px;background:conic-gradient(from 105deg,#f7bca1 0deg,#f6bda2 12deg,#f6bfa6 24deg,#f5c4ac 36deg,#f2cab5 48deg,#eed0c0 60deg,#e9d5cb 72deg,#e1dad6 84deg,#d8dce2 96deg,#cfdaea 108deg,#c7d7f0 120deg,#bfd3f6 132deg,#b7cff9 144deg,#b2ccfb 156deg,#afcafc 168deg,#aec9fc 180deg,#afcafc 192deg,#b2ccfb 204deg,#b7cff9 216deg,#bfd3f6 228deg,#c7d7f0 240deg,#cfdaea 252deg,#d8dce2 264deg,#e1dad6 276deg,#e9d5cb 288deg,#eed0c0 300deg,#f2cab5 312deg,#f5c4ac 324deg,#f6bfa6 336deg,#f6bda2 348deg,#f7bca1 360deg);-webkit-mask-image:radial-gradient(closest-side,#000 85.71%,transparent 100%);mask-image:radial-gradient(closest-side,#000 85.71%,transparent 100%)"></i><i style="left:143.6px;top:144px;width:165px;height:165.4px;background:conic-gradient(from 105deg,#f6a586 0deg,#f7a688 12deg,#f7ac8e 24deg,#f7b497 36deg,#f6bea4 48deg,#f3c8b2 60deg,#edd2c3 72deg,#e2dad5 84deg,#d7dce3 96deg,#cad8ef 108deg,#bcd2f7 120deg,#b1cbfc 132deg,#a6c4fe 144deg,#9ebeff 156deg,#98b9ff 168deg,#97b8ff 180deg,#98b9ff 192deg,#9ebeff 204deg,#a6c4fe 216deg,#b1cbfc 228deg,#bcd2f7 240deg,#cad8ef 252deg,#d7dce3 264deg,#e2dad5 276deg,#edd2c3 288deg,#f3c8b2 300deg,#f6bea4 312deg,#f7b497 324deg,#f7ac8e 336deg,#f7a688 348deg,#f6a586 360deg);-webkit-mask-image:radial-gradient(closest-side,#000 83.33%,transparent 100%);mask-image:radial-gradient(closest-side,#000 83.33%,transparent 100%)"></i><i style="left:157.3px;top:157.8px;width:137.5px;height:137.9px;background:conic-gradient(from 105deg,#ee8669 0deg,#f08a6c 12deg,#f29072 24deg,#f59d7e 36deg,#f7ad90 48deg,#f6bea4 60deg,#f1cdba 72deg,#e4d9d2 84deg,#d5dbe5 96deg,#c3d5f4 108deg,#b1cbfc 120deg,#9fbfff 132deg,#90b2fe 144deg,#85a8fc 156deg,#80a3fa 168deg,#7da0f9 180deg,#80a3fa 192deg,#85a8fc 204deg,#90b2fe 216deg,#9fbfff 228deg,#b1cbfc 240deg,#c3d5f4 252deg,#d5dbe5 264deg,#e4d9d2 276deg,#f1cdba 288deg,#f6bea4 300deg,#f7ad90 312deg,#f59d7e 324deg,#f29072 336deg,#f08a6c 348deg,#ee8669 360deg);-webkit-mask-image:radial-gradient(closest-side,#000 80.00%,transparent 100%);mask-image:radial-gradient(closest-side,#000 80.00%,transparent 100%)"></i><i style="left:171.1px;top:171.6px;width:110px;height:110.3px;background:conic-gradient(from 105deg,#de614d 0deg,#e0654f 12deg,#e67259 24deg,#ee8468 36deg,#f49a7b 48deg,#f7b194 60deg,#f3c7b1 72deg,#e6d7cf 84deg,#d3dbe7 96deg,#bbd1f8 108deg,#a3c2fe 120deg,#8db0fe 132deg,#7b9ff9 144deg,#6e90f2 156deg,#6485ec 168deg,#6282ea 180deg,#6485ec 192deg,#6e90f2 204deg,#7b9ff9 216deg,#8db0fe 228deg,#a3c2fe 240deg,#bbd1f8 252deg,#d3dbe7 264deg,#e6d7cf 276deg,#f3c7b1 288deg,#f7b194 300deg,#f49a7b 312deg,#ee8468 324deg,#e67259 336deg,#e0654f 348deg,#de614d 360deg);-webkit-mask-image:radial-gradient(closest-side,#000 75.00%,transparent 100%);mask-image:radial-gradient(closest-side,#000 75.00%,transparent 100%)"></i><i style="left:184.8px;top:185.4px;width:82.5px;height:82.7px;background:conic-gradient(from 105deg,#ca3b37 0deg,#cd423b 12deg,#d65244 24deg,#e36b54 36deg,#ee8669 48deg,#f6a586 60deg,#f5c1a9 72deg,#e8d6cc 84deg,#d1dae9 96deg,#b5cdfa 108deg,#97b8ff 120deg,#7da0f9 132deg,#688aef 144deg,#5977e3 156deg,#506bda 168deg,#4c66d6 180deg,#506bda 192deg,#5977e3 204deg,#688aef 216deg,#7da0f9 228deg,#97b8ff 240deg,#b5cdfa 252deg,#d1dae9 264deg,#e8d6cc 276deg,#f5c1a9 288deg,#f6a586 300deg,#ee8669 312deg,#e36b54 324deg,#d65244 336deg,#cd423b 348deg,#ca3b37 360deg);-webkit-mask-image:radial-gradient(closest-side,#000 66.67%,transparent 100%);mask-image:radial-gradient(closest-side,#000 66.67%,transparent 100%)"></i><i style="left:198.6px;top:199.2px;width:55px;height:55.1px;background:conic-gradient(from 105deg,#ba162b 0deg,#bd1f2d 12deg,#c83836 24deg,#d85646 36deg,#e97a5f 48deg,#f59d7e 60deg,#f6bda2 72deg,#e9d5cb 84deg,#cfdaea 96deg,#afcafc 108deg,#90b2fe 120deg,#7396f5 132deg,#5b7ae5 144deg,#4b64d5 156deg,#4257c9 168deg,#3f53c6 180deg,#4257c9 192deg,#4b64d5 204deg,#5b7ae5 216deg,#7396f5 228deg,#90b2fe 240deg,#afcafc 252deg,#cfdaea 264deg,#e9d5cb 276deg,#f6bda2 288deg,#f59d7e 300deg,#e97a5f 312deg,#d85646 324deg,#c83836 336deg,#bd1f2d 348deg,#ba162b 360deg);-webkit-mask-image:radial-gradient(closest-side,#000 50.00%,transparent 100%);mask-image:radial-gradient(closest-side,#000 50.00%,transparent 100%)"></i><i style="left:212.3px;top:212.9px;width:27.5px;height:27.6px;background:conic-gradient(from 105deg,#b40426 0deg,#b70d28 12deg,#c43032 24deg,#d55042 36deg,#e7745b 48deg,#f4987a 60deg,#f7bca1 72deg,#ead5c9 84deg,#cedaeb 96deg,#aec9fc 108deg,#8db0fe 120deg,#6f92f3 132deg,#5875e1 144deg,#485fd1 156deg,#3d50c3 168deg,#3b4cc0 180deg,#3d50c3 192deg,#485fd1 204deg,#5875e1 216deg,#6f92f3 228deg,#8caffe 240deg,#aec9fc 252deg,#cedaeb 264deg,#ead5c9 276deg,#f7bca1 288deg,#f4987a 300deg,#e7745b 312deg,#d55042 324deg,#c43032 336deg,#b70d28 348deg,#b40426 360deg);-webkit-mask-image:radial-gradient(closest-side,#000 0.00%,transparent 100%);mask-image:radial-gradient(closest-side,#000 0.00%,transparent 100%)"></i></div>
<svg width="2070" height="2233" viewBox="0 0 2070 2233">
<defs></defs>
<path d="M177.2 169.3h420.2M177.2 187.5h420.2M177.2 205.7h420.2M177.2 223.8h420.2M177.2 242.0h420.2M177.2 260.2h420.2M177.2 278.4h420.2M177.2 296.5h420.2M177.2 314.7h420.2M177.2 332.9h420.2M177.2 351.1h420.2M177.2 369.3h420.2M177.2 387.4h420.2M177.2 405.6h420.2M177.2 423.8h420.2M177.2 442.0h420.2M177.2 460.2h420.2M177.2 478.3h420.2M177.2 496.5h420.2M177.2 514.7h420.2M177.2 532.9h420.2M177.2 551.0h420.2M177.2 569.2h420.2M177.2 587.4h420.2" stroke="#303030" stroke-width="1.7" stroke-linecap="round" stroke-dasharray="0 18.248" fill="none"/><path d="M359.7 260.4L359.6 260.4L359.8 260.8L358.0 260.6L359.5 259.6L359.5 260.1L359.6 260.0ZM378.0 260.4L377.8 260.4L378.1 260.8L376.1 260.7L377.8 259.6L377.7 260.1L377.9 260.0ZM396.2 260.4L396.0 260.4L396.3 260.8L394.3 260.7L396.0 259.6L395.9 260.1L396.1 260.0ZM414.5 260.4L414.3 260.4L414.6 260.8L412.8 260.6L414.3 259.6L414.2 260.1L414.4 260.0ZM323.2 278.6L323.0 278.6L323.4 279.0L321.3 278.9L323.0 277.7L322.9 278.2L323.1 278.2ZM341.5 278.6L341.2 278.7L341.7 279.3L338.7 279.1L341.2 277.4L341.1 278.2L341.4 278.1ZM359.8 278.7L359.4 278.8L360.0 279.5L356.3 279.3L359.4 277.2L359.2 278.1L359.6 278.0ZM378.0 278.8L377.6 278.9L378.3 279.7L374.2 279.4L377.6 277.1L377.4 278.1L377.8 278.0ZM396.3 278.8L395.9 278.9L396.5 279.7L392.4 279.4L395.8 277.1L395.7 278.1L396.1 278.0ZM414.5 278.7L414.2 278.8L414.7 279.5L411.1 279.3L414.1 277.2L414.0 278.1L414.3 278.0ZM432.7 278.6L432.5 278.7L432.9 279.3L430.1 279.1L432.4 277.5L432.3 278.2L432.6 278.1ZM451.0 278.6L450.8 278.6L451.1 279.0L449.1 278.9L450.8 277.7L450.7 278.2L450.9 278.2ZM305.0 296.8L304.8 296.8L305.1 297.3L302.8 297.1L304.7 295.8L304.7 296.4L304.9 296.3ZM323.3 296.9L322.9 297.0L323.5 297.7L319.7 297.5L322.9 295.3L322.7 296.3L323.1 296.2ZM341.6 297.0L341.1 297.2L341.9 298.2L336.6 297.9L341.0 294.9L340.8 296.2L341.3 296.1ZM359.8 297.2L359.2 297.3L360.2 298.7L353.6 298.2L359.1 294.4L358.9 296.1L359.5 295.9ZM378.1 297.2L377.4 297.4L378.6 298.9L371.1 298.4L377.3 294.2L377.0 296.0L377.7 295.9ZM396.4 297.2L395.7 297.4L396.8 298.9L389.4 298.4L395.5 294.2L395.3 296.0L396.0 295.9ZM414.6 297.2L414.0 297.3L415.0 298.6L408.5 298.1L413.9 294.5L413.7 296.1L414.3 295.9ZM432.8 297.0L432.3 297.2L433.1 298.2L428.0 297.8L432.2 294.9L432.1 296.2L432.5 296.1ZM451.0 296.9L450.7 297.0L451.2 297.7L447.7 297.4L450.6 295.4L450.5 296.3L450.8 296.2ZM469.2 296.8L469.0 296.8L469.4 297.2L467.1 297.1L469.0 295.8L468.9 296.4L469.1 296.3ZM286.7 314.9L286.5 315.0L286.9 315.4L284.7 315.3L286.5 314.0L286.4 314.6L286.6 314.5ZM305.0 315.1L304.7 315.2L305.3 315.9L301.4 315.7L304.6 313.5L304.5 314.5L304.8 314.4ZM323.3 315.3L322.8 315.4L323.7 316.7L317.6 316.2L322.7 312.8L322.5 314.3L323.0 314.2ZM341.6 315.4L339.9 315.9L341.1 317.4L333.6 316.8L339.8 312.6L339.6 314.5L341.2 314.0ZM359.9 315.4L356.2 316.4L357.3 317.9L349.8 317.4L356.1 313.1L355.8 315.0L359.5 314.0ZM378.1 315.4L373.3 316.7L374.5 318.2L367.0 317.7L373.2 313.4L372.9 315.3L377.7 314.0ZM396.4 315.4L391.7 316.7L392.8 318.2L385.3 317.6L391.5 313.4L391.3 315.3L396.0 314.0ZM414.6 315.4L411.2 316.3L412.3 317.8L404.8 317.3L411.1 313.1L410.8 314.9L414.2 314.0ZM432.9 315.4L431.5 315.8L432.7 317.3L425.2 316.7L431.4 312.5L431.1 314.4L432.5 314.0ZM451.1 315.3L450.5 315.4L451.4 316.5L445.7 316.1L450.4 312.9L450.2 314.3L450.8 314.2ZM469.3 315.1L468.9 315.1L469.5 315.9L465.9 315.6L468.9 313.6L468.7 314.5L469.1 314.4ZM487.5 314.9L487.3 315.0L487.6 315.3L485.6 315.2L487.2 314.1L487.2 314.6L487.4 314.5ZM268.5 333.0L268.3 333.1L268.6 333.4L267.0 333.3L268.3 332.4L268.3 332.8L268.4 332.8ZM286.8 333.2L286.5 333.3L286.9 333.9L283.9 333.7L286.4 331.9L286.3 332.7L286.6 332.6ZM305.1 333.4L304.6 333.6L305.4 334.6L299.9 334.2L304.5 331.2L304.3 332.5L304.8 332.4ZM323.4 333.6L321.6 334.1L322.7 335.6L315.2 335.0L321.5 330.8L321.2 332.7L323.0 332.2ZM341.6 333.6L336.6 335.0L337.7 336.5L330.2 335.9L336.4 331.7L336.2 333.6L341.2 332.2ZM359.9 333.6L352.0 335.7L353.1 337.2L345.6 336.7L351.8 332.5L351.6 334.3L359.5 332.2ZM378.1 333.6L368.6 336.2L369.7 337.6L362.2 337.1L368.5 332.9L368.2 334.8L377.7 332.2ZM396.4 333.6L387.0 336.1L388.1 337.6L380.6 337.1L386.8 332.9L386.6 334.7L396.0 332.2ZM414.6 333.6L407.1 335.6L408.2 337.1L400.7 336.6L406.9 332.4L406.7 334.2L414.2 332.2ZM432.9 333.6L428.3 334.8L429.4 336.3L421.9 335.8L428.1 331.6L427.9 333.4L432.5 332.2ZM451.1 333.6L449.8 334.0L450.9 335.5L443.4 334.9L449.6 330.7L449.4 332.6L450.7 332.2ZM469.3 333.4L468.8 333.5L469.6 334.5L464.5 334.2L468.7 331.3L468.6 332.6L469.0 332.4ZM487.5 333.2L487.2 333.2L487.7 333.8L484.8 333.6L487.2 332.0L487.1 332.7L487.3 332.6ZM268.5 351.3L268.3 351.3L268.6 351.7L266.7 351.6L268.3 350.5L268.2 350.9L268.4 350.9ZM286.8 351.4L286.4 351.5L287.0 352.3L283.1 352.0L286.4 349.8L286.2 350.8L286.6 350.7ZM305.1 351.7L304.5 351.9L305.5 353.3L298.6 352.8L304.3 348.9L304.1 350.6L304.8 350.4ZM323.4 351.8L319.4 352.8L320.6 354.3L313.1 353.8L319.3 349.6L319.0 351.4L323.0 350.4ZM341.6 351.8L333.5 354.0L334.7 355.4L327.2 354.9L333.4 350.7L333.1 352.6L341.2 350.4ZM359.9 351.8L348.1 354.9L349.3 356.4L341.8 355.9L348.0 351.7L347.8 353.5L359.5 350.4ZM378.1 351.8L364.3 355.5L365.5 357.0L358.0 356.4L364.2 352.2L364.0 354.1L377.7 350.4ZM396.4 351.8L382.7 355.4L383.9 356.9L376.4 356.4L382.6 352.2L382.4 354.0L396.0 350.4ZM414.6 351.8L403.3 354.8L404.5 356.3L397.0 355.8L403.2 351.5L403.0 353.4L414.2 350.4ZM432.9 351.8L425.3 353.8L426.5 355.3L419.0 354.7L425.2 350.5L425.0 352.4L432.5 350.4ZM451.1 351.8L447.7 352.7L448.9 354.2L441.4 353.6L447.6 349.4L447.4 351.3L450.7 350.4ZM469.3 351.7L468.7 351.8L469.7 353.1L463.2 352.7L468.6 349.0L468.4 350.6L469.0 350.5ZM487.5 351.4L487.2 351.5L487.7 352.2L484.2 352.0L487.1 350.0L487.0 350.8L487.3 350.7ZM505.7 351.2L505.5 351.3L505.8 351.6L504.1 351.5L505.5 350.5L505.5 351.0L505.6 350.9ZM268.5 369.5L268.3 369.5L268.6 370.0L266.4 369.8L268.3 368.6L268.2 369.1L268.4 369.1ZM286.8 369.7L286.4 369.8L287.1 370.7L282.6 370.3L286.3 367.9L286.2 369.0L286.6 368.8ZM305.1 370.0L304.1 370.2L305.2 371.7L297.7 371.2L304.0 367.0L303.7 368.8L304.7 368.6ZM323.4 370.0L318.1 371.4L319.3 372.9L311.8 372.3L318.0 368.1L317.7 370.0L323.0 368.6ZM341.6 370.0L331.7 372.6L332.8 374.1L325.3 373.6L331.5 369.4L331.3 371.2L341.2 368.6ZM359.9 370.0L345.8 373.7L347.0 375.2L339.5 374.7L345.7 370.5L345.4 372.3L359.5 368.6ZM378.1 370.0L361.7 374.3L362.9 375.8L355.4 375.3L361.6 371.1L361.4 372.9L377.7 368.6ZM396.4 370.0L380.2 374.3L381.3 375.8L373.8 375.3L380.0 371.0L379.8 372.9L396.0 368.6ZM414.6 370.0L401.1 373.6L402.2 375.1L394.7 374.5L400.9 370.3L400.7 372.2L414.2 368.6ZM432.9 370.0L423.6 372.5L424.7 373.9L417.2 373.4L423.4 369.2L423.2 371.1L432.5 368.6ZM451.1 370.0L446.5 371.2L447.6 372.7L440.1 372.1L446.4 367.9L446.1 369.8L450.7 368.6ZM469.3 369.9L468.7 370.1L469.8 371.6L462.5 371.1L468.5 366.9L468.3 368.8L469.0 368.6ZM487.5 369.6L487.1 369.7L487.8 370.5L483.7 370.2L487.1 368.0L486.9 369.0L487.3 368.9ZM505.7 369.4L505.5 369.5L505.8 369.9L503.9 369.7L505.5 368.6L505.4 369.1L505.6 369.1ZM268.5 387.6L268.3 387.7L268.6 388.1L266.4 388.0L268.3 386.7L268.2 387.3L268.4 387.2ZM286.8 387.9L286.4 388.0L287.1 388.8L282.6 388.5L286.3 386.0L286.2 387.1L286.6 387.0ZM305.1 388.1L304.0 388.4L305.2 389.9L297.7 389.4L303.9 385.2L303.7 387.0L304.7 386.7ZM323.4 388.1L318.0 389.6L319.2 391.1L311.7 390.5L317.9 386.3L317.7 388.2L323.0 386.7ZM341.6 388.1L331.6 390.8L332.7 392.3L325.2 391.8L331.5 387.6L331.2 389.4L341.2 386.7ZM359.9 388.1L345.7 391.9L346.9 393.4L339.4 392.9L345.6 388.7L345.3 390.5L359.5 386.7ZM378.1 388.1L361.6 392.6L362.8 394.1L355.3 393.5L361.5 389.3L361.2 391.2L377.7 386.7ZM396.4 388.1L380.1 392.5L381.2 394.0L373.7 393.5L379.9 389.2L379.7 391.1L396.0 386.7ZM414.6 388.1L401.0 391.8L402.1 393.3L394.6 392.7L400.8 388.5L400.6 390.4L414.2 386.7ZM432.9 388.1L423.5 390.7L424.6 392.1L417.1 391.6L423.4 387.4L423.1 389.3L432.5 386.7ZM451.1 388.1L446.4 389.4L447.6 390.9L440.1 390.3L446.3 386.1L446.1 388.0L450.7 386.7ZM469.3 388.1L468.7 388.3L469.8 389.8L462.4 389.2L468.5 385.1L468.3 386.9L469.0 386.8ZM487.5 387.8L487.1 387.9L487.8 388.7L483.7 388.4L487.1 386.2L486.9 387.2L487.3 387.1ZM505.7 387.6L505.5 387.7L505.8 388.1L503.8 387.9L505.5 386.8L505.4 387.3L505.6 387.3ZM268.5 405.8L268.3 405.9L268.6 406.2L266.6 406.1L268.3 405.0L268.2 405.5L268.4 405.4ZM286.8 406.0L286.4 406.1L287.0 406.9L283.1 406.6L286.3 404.4L286.2 405.3L286.6 405.2ZM305.1 406.3L304.5 406.5L305.5 407.9L298.5 407.4L304.3 403.4L304.1 405.1L304.8 405.0ZM323.4 406.3L319.3 407.4L320.4 408.9L312.9 408.4L319.1 404.1L318.9 406.0L323.0 404.9ZM341.6 406.3L333.3 408.5L334.5 410.0L327.0 409.5L333.2 405.3L332.9 407.1L341.2 404.9ZM359.9 406.3L347.9 409.5L349.0 411.0L341.5 410.5L347.8 406.3L347.5 408.1L359.5 404.9ZM378.1 406.3L364.0 410.1L365.2 411.6L357.7 411.0L363.9 406.8L363.7 408.7L377.7 404.9ZM396.4 406.3L382.5 410.0L383.6 411.5L376.1 411.0L382.3 406.8L382.1 408.6L396.0 404.9ZM414.6 406.3L403.1 409.4L404.2 410.9L396.7 410.4L403.0 406.1L402.7 408.0L414.2 404.9ZM432.9 406.3L425.1 408.4L426.3 409.9L418.8 409.3L425.0 405.1L424.8 407.0L432.5 404.9ZM451.1 406.3L447.6 407.3L448.7 408.8L441.2 408.2L447.5 404.0L447.2 405.9L450.7 404.9ZM469.3 406.2L468.7 406.4L469.7 407.7L463.2 407.2L468.6 403.5L468.4 405.2L469.0 405.0ZM487.5 406.0L487.2 406.0L487.7 406.8L484.1 406.5L487.1 404.5L487.0 405.4L487.3 405.3ZM505.7 405.8L505.5 405.8L505.8 406.2L504.0 406.1L505.5 405.1L505.5 405.5L505.6 405.5ZM268.5 423.9L268.3 424.0L268.6 424.3L267.0 424.2L268.3 423.3L268.3 423.7L268.4 423.6ZM286.8 424.1L286.5 424.2L287.0 424.8L283.8 424.6L286.4 422.8L286.3 423.6L286.6 423.5ZM305.1 424.3L304.6 424.5L305.4 425.6L299.8 425.2L304.5 422.0L304.3 423.4L304.8 423.3ZM323.4 424.5L321.4 425.0L322.5 426.5L315.0 426.0L321.3 421.8L321.0 423.6L323.0 423.1ZM341.6 424.5L336.3 425.9L337.4 427.4L329.9 426.9L336.2 422.7L335.9 424.5L341.2 423.1ZM359.9 424.5L351.6 426.7L352.8 428.2L345.3 427.7L351.5 423.4L351.2 425.3L359.5 423.1ZM378.1 424.5L368.2 427.1L369.4 428.6L361.9 428.1L368.1 423.9L367.8 425.7L377.7 423.1ZM396.4 424.5L386.6 427.1L387.7 428.6L380.2 428.1L386.5 423.8L386.2 425.7L396.0 423.1ZM414.6 424.5L406.7 426.6L407.9 428.1L400.4 427.6L406.6 423.3L406.3 425.2L414.2 423.1ZM432.9 424.5L428.0 425.8L429.2 427.3L421.7 426.7L427.9 422.5L427.6 424.4L432.5 423.1ZM451.1 424.5L449.6 424.9L450.7 426.4L443.2 425.9L449.5 421.6L449.2 423.5L450.7 423.1ZM469.3 424.3L468.8 424.4L469.6 425.4L464.4 425.1L468.7 422.1L468.5 423.4L469.0 423.3ZM487.5 424.1L487.2 424.1L487.7 424.7L484.8 424.5L487.2 422.9L487.1 423.6L487.3 423.5ZM286.7 442.2L286.5 442.2L286.9 442.7L284.7 442.5L286.5 441.3L286.4 441.8L286.6 441.8ZM305.0 442.3L304.7 442.4L305.3 443.2L301.3 442.9L304.6 440.7L304.5 441.7L304.8 441.6ZM323.3 442.6L322.8 442.7L323.7 444.0L317.4 443.5L322.6 440.0L322.4 441.5L323.0 441.4ZM341.6 442.7L339.7 443.2L340.8 444.7L333.3 444.1L339.5 439.9L339.3 441.8L341.2 441.3ZM359.9 442.7L355.9 443.7L357.0 445.2L349.5 444.7L355.7 440.5L355.5 442.3L359.5 441.3ZM378.1 442.7L372.9 444.1L374.1 445.6L366.6 445.0L372.8 440.8L372.6 442.7L377.7 441.3ZM396.4 442.7L391.3 444.0L392.4 445.5L384.9 445.0L391.2 440.8L390.9 442.6L396.0 441.3ZM414.6 442.7L410.9 443.7L412.0 445.2L404.5 444.6L410.7 440.4L410.5 442.3L414.2 441.3ZM432.9 442.7L431.2 443.1L432.4 444.6L424.9 444.1L431.1 439.8L430.9 441.7L432.5 441.3ZM451.1 442.5L450.5 442.7L451.4 443.9L445.5 443.4L450.4 440.1L450.2 441.6L450.8 441.4ZM469.3 442.3L468.9 442.4L469.5 443.1L465.8 442.9L468.9 440.8L468.7 441.7L469.1 441.6ZM487.5 442.2L487.3 442.2L487.6 442.6L485.6 442.5L487.2 441.3L487.2 441.8L487.4 441.8ZM305.0 460.4L304.8 460.4L305.1 460.9L302.7 460.8L304.7 459.4L304.6 460.0L304.9 459.9ZM323.3 460.5L322.9 460.6L323.5 461.4L319.6 461.1L322.8 458.9L322.7 459.9L323.1 459.8ZM341.6 460.7L341.1 460.8L341.9 461.9L336.3 461.5L341.0 458.4L340.8 459.8L341.3 459.6ZM359.9 460.8L359.2 461.0L360.3 462.4L353.3 461.9L359.1 457.9L358.9 459.7L359.5 459.5ZM378.1 460.9L377.2 461.1L378.3 462.6L370.8 462.1L377.0 457.8L376.8 459.7L377.7 459.5ZM396.4 460.9L395.5 461.1L396.6 462.6L389.1 462.0L395.3 457.8L395.1 459.7L396.0 459.5ZM414.6 460.8L414.0 461.0L415.0 462.3L408.2 461.8L413.8 458.0L413.6 459.7L414.3 459.5ZM432.8 460.7L432.3 460.8L433.1 461.8L427.8 461.5L432.2 458.5L432.0 459.8L432.5 459.7ZM451.0 460.5L450.7 460.6L451.2 461.3L447.5 461.1L450.6 459.0L450.5 459.9L450.8 459.8ZM469.2 460.4L469.0 460.4L469.4 460.9L467.1 460.7L469.0 459.4L468.9 460.0L469.1 459.9ZM323.2 478.5L323.0 478.6L323.4 479.0L321.2 478.9L323.0 477.6L322.9 478.2L323.1 478.1ZM341.5 478.6L341.2 478.7L341.7 479.3L338.6 479.1L341.2 477.3L341.1 478.1L341.4 478.0ZM359.8 478.7L359.4 478.8L360.0 479.6L356.1 479.3L359.3 477.1L359.2 478.1L359.6 478.0ZM378.0 478.7L377.6 478.8L378.3 479.7L374.0 479.4L377.6 477.0L377.4 478.0L377.8 477.9ZM396.3 478.7L395.9 478.8L396.5 479.7L392.2 479.4L395.8 477.0L395.7 478.0L396.1 477.9ZM414.5 478.7L414.2 478.8L414.7 479.5L411.0 479.3L414.1 477.1L414.0 478.1L414.3 478.0ZM432.7 478.6L432.5 478.7L432.9 479.3L429.9 479.1L432.4 477.4L432.3 478.1L432.6 478.1ZM451.0 478.5L450.8 478.6L451.1 479.0L449.0 478.8L450.7 477.7L450.7 478.2L450.9 478.1ZM341.5 496.7L341.3 496.7L341.6 497.0L340.0 496.9L341.3 496.0L341.2 496.4L341.4 496.4ZM359.7 496.7L359.5 496.7L359.8 497.1L357.9 497.0L359.5 495.9L359.4 496.4L359.6 496.3ZM378.0 496.7L377.8 496.8L378.1 497.2L376.0 497.0L377.7 495.8L377.7 496.4L377.9 496.3ZM396.2 496.7L396.0 496.8L396.4 497.2L394.2 497.0L396.0 495.8L395.9 496.4L396.1 496.3ZM414.5 496.7L414.3 496.7L414.6 497.1L412.7 497.0L414.3 495.9L414.2 496.4L414.4 496.3Z" fill="#111"/>
<path d="M825.7 171.5h421.4M825.7 189.8h421.4M825.7 208.1h421.4M825.7 226.5h421.4M825.7 244.8h421.4M825.7 263.1h421.4M825.7 281.4h421.4M825.7 299.8h421.4M825.7 318.1h421.4M825.7 336.4h421.4M825.7 354.7h421.4M825.7 373.0h421.4M825.7 391.4h421.4M825.7 409.7h421.4M825.7 428.0h421.4M825.7 446.3h421.4M825.7 464.6h421.4M825.7 483.0h421.4M825.7 501.3h421.4M825.7 519.6h421.4M825.7 537.9h421.4M825.7 556.3h421.4M825.7 574.6h421.4M825.7 592.9h421.4" stroke="#303030" stroke-width="1.7" stroke-linecap="round" stroke-dasharray="0 18.300" fill="none"/><path d="M1008.9 263.1L1008.9 263.2L1009.2 263.0L1009.1 264.7L1008.2 263.3L1008.6 263.3L1008.5 263.2ZM1027.2 263.1L1027.2 263.2L1027.6 262.9L1027.5 264.8L1026.4 263.3L1026.9 263.3L1026.8 263.2ZM1045.5 263.1L1045.5 263.2L1045.9 262.9L1045.8 264.8L1044.7 263.3L1045.2 263.3L1045.1 263.2ZM1063.8 263.1L1063.8 263.2L1064.1 263.0L1064.0 264.6L1063.1 263.2L1063.5 263.3L1063.4 263.2ZM972.3 281.4L972.3 281.6L972.7 281.3L972.6 283.2L971.5 281.6L972.0 281.7L971.9 281.5ZM990.7 281.4L990.7 281.6L991.3 281.2L991.1 283.9L989.5 281.7L990.2 281.8L990.1 281.5ZM1009.0 281.3L1009.1 281.7L1009.8 281.1L1009.5 284.6L1007.6 281.7L1008.5 281.8L1008.4 281.5ZM1027.4 281.3L1027.5 281.7L1028.2 281.1L1027.9 284.9L1025.8 281.8L1026.7 281.9L1026.6 281.5ZM1045.7 281.3L1045.8 281.7L1046.5 281.1L1046.2 284.9L1044.1 281.8L1045.0 281.9L1044.9 281.5ZM1063.9 281.3L1064.0 281.7L1064.7 281.1L1064.4 284.5L1062.5 281.7L1063.4 281.8L1063.3 281.5ZM1082.1 281.4L1082.2 281.6L1082.7 281.2L1082.5 283.8L1081.1 281.7L1081.7 281.7L1081.7 281.5ZM1100.4 281.4L1100.4 281.6L1100.8 281.3L1100.7 283.1L1099.6 281.6L1100.1 281.6L1100.0 281.5ZM954.0 299.7L954.1 299.9L954.5 299.6L954.3 301.8L953.1 299.9L953.6 300.0L953.6 299.8ZM972.4 299.7L972.5 300.0L973.2 299.5L973.0 303.0L971.0 300.1L971.9 300.2L971.8 299.8ZM990.9 299.6L991.0 300.1L992.0 299.3L991.6 304.3L988.8 300.2L990.1 300.3L989.9 299.9ZM1009.3 299.6L1009.4 300.2L1010.7 299.2L1010.2 305.4L1006.7 300.3L1008.3 300.5L1008.1 299.9ZM1027.6 299.6L1027.8 300.2L1029.2 299.2L1028.7 306.1L1024.8 300.3L1026.5 300.6L1026.4 299.9ZM1045.9 299.6L1046.1 300.2L1047.5 299.2L1047.0 306.1L1043.1 300.3L1044.8 300.6L1044.7 299.9ZM1064.2 299.6L1064.3 300.2L1065.5 299.2L1065.1 305.3L1061.7 300.3L1063.2 300.5L1063.0 299.9ZM1082.3 299.6L1082.5 300.1L1083.4 299.3L1083.1 304.1L1080.4 300.2L1081.6 300.3L1081.5 299.9ZM1100.5 299.7L1100.6 300.0L1101.3 299.5L1101.0 302.8L1099.1 300.0L1100.0 300.1L1099.9 299.8ZM1118.7 299.7L1118.7 299.9L1119.2 299.6L1119.0 301.6L1117.8 299.9L1118.4 300.0L1118.3 299.8ZM935.7 318.0L935.7 318.2L936.1 317.9L936.0 319.9L934.9 318.2L935.4 318.3L935.3 318.1ZM954.1 318.0L954.2 318.3L954.9 317.8L954.7 321.3L952.7 318.4L953.6 318.5L953.5 318.2ZM972.6 317.9L972.8 318.5L973.9 317.6L973.5 323.2L970.3 318.6L971.7 318.7L971.6 318.2ZM991.1 317.9L991.4 319.0L992.9 317.9L992.4 325.4L988.1 319.1L990.0 319.4L989.7 318.3ZM1009.4 317.9L1010.2 320.9L1011.7 319.7L1011.2 327.2L1006.9 321.0L1008.8 321.3L1008.0 318.3ZM1027.7 317.9L1028.8 321.9L1030.3 320.8L1029.7 328.3L1025.5 322.1L1027.4 322.3L1026.3 318.3ZM1046.0 317.9L1047.1 321.9L1048.6 320.7L1048.0 328.2L1043.8 322.0L1045.7 322.2L1044.6 318.3ZM1064.3 317.9L1065.0 320.7L1066.5 319.5L1066.0 327.0L1061.8 320.8L1063.6 321.0L1062.9 318.3ZM1082.6 317.9L1082.8 318.7L1084.3 317.6L1083.8 325.1L1079.6 318.9L1081.4 319.1L1081.2 318.3ZM1100.7 317.9L1100.8 318.4L1101.9 317.6L1101.5 323.0L1098.5 318.5L1099.8 318.7L1099.7 318.2ZM1118.8 318.0L1118.9 318.3L1119.6 317.8L1119.3 321.1L1117.4 318.4L1118.3 318.5L1118.2 318.2ZM1137.0 318.0L1137.0 318.2L1137.4 317.9L1137.2 319.7L1136.2 318.2L1136.7 318.3L1136.6 318.1ZM935.8 336.3L935.8 336.6L936.4 336.2L936.2 339.0L934.6 336.6L935.3 336.7L935.2 336.5ZM954.3 336.3L954.4 336.7L955.4 336.0L955.0 341.0L952.2 336.8L953.5 337.0L953.3 336.5ZM972.8 336.2L973.1 337.4L974.6 336.3L974.1 343.8L969.9 337.6L971.7 337.8L971.4 336.6ZM991.1 336.2L992.2 340.5L993.7 339.3L993.2 346.8L989.0 340.6L990.8 340.8L989.7 336.6ZM1009.4 336.2L1011.3 343.1L1012.7 342.0L1012.2 349.5L1008.0 343.3L1009.9 343.5L1008.0 336.6ZM1027.7 336.2L1030.0 344.7L1031.5 343.5L1030.9 351.0L1026.7 344.8L1028.6 345.0L1026.3 336.6ZM1046.0 336.2L1048.2 344.5L1049.7 343.4L1049.2 350.9L1045.0 344.7L1046.8 344.9L1044.6 336.6ZM1064.3 336.2L1066.1 342.8L1067.6 341.7L1067.0 349.2L1062.8 343.0L1064.7 343.2L1062.9 336.6ZM1082.6 336.2L1083.6 340.1L1085.1 338.9L1084.6 346.4L1080.4 340.2L1082.2 340.4L1081.2 336.6ZM1100.9 336.2L1101.1 337.0L1102.6 335.9L1102.1 343.4L1097.9 337.2L1099.7 337.4L1099.5 336.6ZM1118.9 336.3L1119.1 336.7L1120.0 336.0L1119.7 340.7L1117.0 336.8L1118.2 337.0L1118.1 336.5ZM1137.0 336.3L1137.1 336.6L1137.6 336.2L1137.4 338.8L1136.0 336.6L1136.6 336.7L1136.6 336.5ZM917.4 354.7L917.4 354.8L917.8 354.6L917.6 356.4L916.6 354.9L917.1 354.9L917.0 354.8ZM935.8 354.6L935.9 355.0L936.6 354.4L936.4 358.0L934.4 355.0L935.3 355.1L935.2 354.8ZM954.4 354.6L954.6 355.2L955.8 354.2L955.4 360.6L951.8 355.3L953.4 355.5L953.2 354.9ZM972.8 354.5L973.7 357.7L975.2 356.6L974.6 364.1L970.4 357.9L972.3 358.1L971.4 354.9ZM991.1 354.5L993.0 361.6L994.5 360.5L993.9 368.0L989.7 361.7L991.6 362.0L989.7 354.9ZM1009.4 354.5L1012.2 365.0L1013.7 363.8L1013.2 371.3L1008.9 365.1L1010.8 365.4L1008.0 354.9ZM1027.7 354.5L1031.0 366.9L1032.5 365.8L1032.0 373.3L1027.8 367.0L1029.6 367.3L1026.3 354.9ZM1046.0 354.5L1049.3 366.8L1050.8 365.6L1050.2 373.1L1046.0 366.9L1047.9 367.2L1044.6 354.9ZM1064.3 354.5L1067.0 364.6L1068.5 363.5L1068.0 371.0L1063.7 364.7L1065.6 365.0L1062.9 354.9ZM1082.6 354.5L1084.4 361.1L1085.9 360.0L1085.3 367.5L1081.1 361.2L1083.0 361.5L1081.2 354.9ZM1100.9 354.5L1101.6 357.2L1103.1 356.1L1102.6 363.6L1098.4 357.4L1100.2 357.6L1099.5 354.9ZM1119.1 354.6L1119.2 355.1L1120.4 354.2L1120.0 360.2L1116.6 355.2L1118.1 355.4L1117.9 354.9ZM1137.1 354.6L1137.2 354.9L1137.9 354.4L1137.6 357.8L1135.7 355.0L1136.6 355.1L1136.5 354.8ZM1155.3 354.7L1155.3 354.8L1155.6 354.6L1155.5 356.2L1154.6 354.9L1155.0 354.9L1154.9 354.8ZM917.4 373.0L917.4 373.2L917.8 372.9L917.7 374.9L916.6 373.2L917.1 373.3L917.0 373.1ZM935.9 372.9L936.0 373.3L936.8 372.7L936.5 376.8L934.2 373.4L935.2 373.5L935.1 373.1ZM954.5 372.9L954.7 373.5L956.1 372.4L955.6 379.7L951.5 373.7L953.3 373.9L953.1 373.2ZM972.8 372.9L974.0 377.3L975.5 376.1L974.9 383.6L970.7 377.4L972.6 377.7L971.4 373.2ZM991.1 372.9L993.5 381.6L994.9 380.5L994.4 388.0L990.2 381.8L992.1 382.0L989.7 373.2ZM1009.4 372.9L1012.8 385.5L1014.3 384.3L1013.7 391.8L1009.5 385.6L1011.4 385.8L1008.0 373.2ZM1027.7 372.9L1031.7 387.6L1033.2 386.5L1032.6 394.0L1028.4 387.8L1030.3 388.0L1026.3 373.2ZM1046.0 372.9L1049.9 387.5L1051.4 386.3L1050.9 393.8L1046.7 387.6L1048.5 387.9L1044.6 373.2ZM1064.3 372.9L1067.6 385.0L1069.1 383.9L1068.5 391.4L1064.3 385.2L1066.2 385.4L1062.9 373.2ZM1082.6 372.9L1084.8 381.1L1086.3 379.9L1085.8 387.4L1081.5 381.2L1083.4 381.4L1081.2 373.2ZM1100.9 372.9L1101.9 376.7L1103.4 375.6L1102.9 383.1L1098.7 376.8L1100.5 377.1L1099.5 373.2ZM1119.1 372.9L1119.3 373.5L1120.7 372.5L1120.2 379.3L1116.3 373.6L1118.0 373.8L1117.9 373.2ZM1137.1 372.9L1137.2 373.3L1138.0 372.7L1137.7 376.5L1135.6 373.4L1136.5 373.5L1136.5 373.1ZM1155.3 373.0L1155.3 373.2L1155.7 372.9L1155.5 374.7L1154.5 373.2L1155.0 373.3L1154.9 373.1ZM917.4 391.3L917.4 391.5L917.8 391.2L917.7 393.2L916.6 391.5L917.1 391.6L917.0 391.4ZM935.9 391.3L936.0 391.6L936.8 391.0L936.5 395.1L934.2 391.7L935.2 391.8L935.1 391.5ZM954.5 391.2L954.7 391.9L956.1 390.7L955.6 398.0L951.5 392.0L953.3 392.2L953.1 391.5ZM972.8 391.2L974.0 395.6L975.5 394.5L974.9 402.0L970.7 395.8L972.6 396.0L971.4 391.5ZM991.1 391.2L993.5 400.0L995.0 398.9L994.4 406.4L990.2 400.1L992.1 400.4L989.7 391.5ZM1009.4 391.2L1012.8 403.8L1014.3 402.7L1013.7 410.2L1009.5 404.0L1011.4 404.2L1008.0 391.5ZM1027.7 391.2L1031.7 406.0L1033.2 404.9L1032.6 412.4L1028.4 406.2L1030.3 406.4L1026.3 391.5ZM1046.0 391.2L1049.9 405.9L1051.4 404.7L1050.9 412.2L1046.7 406.0L1048.5 406.3L1044.6 391.5ZM1064.3 391.2L1067.6 403.4L1069.1 402.3L1068.5 409.8L1064.3 403.5L1066.2 403.8L1062.9 391.5ZM1082.6 391.2L1084.8 399.4L1086.3 398.3L1085.8 405.8L1081.5 399.6L1083.4 399.8L1081.2 391.5ZM1100.9 391.2L1101.9 395.1L1103.4 393.9L1102.9 401.4L1098.7 395.2L1100.5 395.5L1099.5 391.5ZM1119.1 391.2L1119.3 391.8L1120.7 390.8L1120.2 397.6L1116.3 391.9L1118.0 392.2L1117.9 391.5ZM1137.2 391.3L1137.2 391.6L1138.0 391.0L1137.7 394.8L1135.6 391.7L1136.5 391.8L1136.4 391.5ZM1155.3 391.3L1155.3 391.5L1155.7 391.2L1155.6 393.0L1154.5 391.5L1155.0 391.6L1154.9 391.4ZM917.4 409.6L917.4 409.8L917.8 409.5L917.6 411.3L916.6 409.8L917.1 409.9L917.0 409.7ZM935.8 409.6L935.9 409.9L936.7 409.4L936.4 413.0L934.3 410.0L935.3 410.1L935.2 409.8ZM954.4 409.5L954.6 410.1L955.9 409.1L955.4 415.6L951.7 410.2L953.4 410.5L953.2 409.8ZM972.8 409.5L973.7 412.8L975.2 411.7L974.6 419.2L970.4 412.9L972.3 413.2L971.4 409.9ZM991.1 409.5L993.0 416.7L994.5 415.6L994.0 423.1L989.8 416.8L991.6 417.1L989.7 409.9ZM1009.4 409.5L1012.3 420.1L1013.7 419.0L1013.2 426.5L1009.0 420.3L1010.9 420.5L1008.0 409.9ZM1027.7 409.5L1031.1 422.1L1032.6 420.9L1032.0 428.4L1027.8 422.2L1029.7 422.5L1026.3 409.9ZM1046.0 409.5L1049.3 421.9L1050.8 420.8L1050.3 428.3L1046.1 422.1L1047.9 422.3L1044.6 409.9ZM1064.3 409.5L1067.0 419.8L1068.5 418.6L1068.0 426.1L1063.8 419.9L1065.6 420.1L1062.9 409.9ZM1082.6 409.5L1084.4 416.2L1085.9 415.1L1085.4 422.6L1081.1 416.3L1083.0 416.6L1081.2 409.9ZM1100.9 409.5L1101.7 412.3L1103.1 411.2L1102.6 418.7L1098.4 412.4L1100.3 412.7L1099.5 409.9ZM1119.1 409.5L1119.2 410.1L1120.4 409.2L1120.0 415.2L1116.6 410.2L1118.1 410.4L1117.9 409.8ZM1137.1 409.6L1137.2 409.9L1137.9 409.4L1137.6 412.7L1135.7 410.0L1136.6 410.1L1136.5 409.8ZM1155.3 409.6L1155.3 409.8L1155.6 409.5L1155.5 411.2L1154.6 409.8L1155.0 409.9L1154.9 409.7ZM935.8 427.9L935.8 428.2L936.4 427.8L936.2 430.7L934.6 428.3L935.3 428.3L935.2 428.1ZM954.3 427.9L954.4 428.4L955.4 427.6L955.1 432.7L952.2 428.4L953.4 428.6L953.3 428.1ZM972.8 427.8L973.2 429.2L974.7 428.0L974.1 435.5L969.9 429.3L971.8 429.5L971.4 428.2ZM991.1 427.8L992.3 432.3L993.8 431.1L993.2 438.6L989.0 432.4L990.9 432.6L989.7 428.2ZM1009.4 427.8L1011.3 435.0L1012.8 433.8L1012.3 441.3L1008.0 435.1L1009.9 435.4L1008.0 428.2ZM1027.7 427.8L1030.0 436.5L1031.5 435.4L1031.0 442.9L1026.8 436.6L1028.6 436.9L1026.3 428.2ZM1046.0 427.8L1048.3 436.4L1049.8 435.3L1049.3 442.8L1045.0 436.5L1046.9 436.8L1044.6 428.2ZM1064.3 427.8L1066.1 434.7L1067.6 433.5L1067.1 441.0L1062.9 434.8L1064.7 435.0L1062.9 428.2ZM1082.6 427.8L1083.7 431.9L1085.2 430.7L1084.6 438.2L1080.4 432.0L1082.3 432.2L1081.2 428.2ZM1100.9 427.8L1101.2 428.8L1102.6 427.6L1102.1 435.1L1097.9 428.9L1099.8 429.1L1099.5 428.2ZM1119.0 427.9L1119.1 428.3L1120.0 427.6L1119.7 432.4L1117.0 428.4L1118.2 428.6L1118.0 428.1ZM1137.0 427.9L1137.1 428.2L1137.6 427.8L1137.5 430.4L1136.0 428.2L1136.6 428.3L1136.6 428.1ZM935.7 446.3L935.7 446.5L936.1 446.2L936.0 448.2L934.9 446.5L935.4 446.6L935.3 446.4ZM954.1 446.2L954.2 446.6L955.0 446.0L954.7 449.7L952.6 446.6L953.6 446.8L953.5 446.4ZM972.6 446.2L972.8 446.7L973.9 445.8L973.5 451.6L970.3 446.8L971.7 447.0L971.6 446.5ZM991.1 446.1L991.5 447.5L992.9 446.3L992.4 453.8L988.2 447.6L990.1 447.8L989.7 446.5ZM1009.4 446.1L1010.3 449.4L1011.8 448.2L1011.2 455.7L1007.0 449.5L1008.9 449.7L1008.0 446.5ZM1027.7 446.1L1028.9 450.5L1030.3 449.3L1029.8 456.8L1025.6 450.6L1027.5 450.8L1026.3 446.5ZM1046.0 446.1L1047.1 450.4L1048.6 449.2L1048.1 456.7L1043.9 450.5L1045.7 450.7L1044.6 446.5ZM1064.3 446.1L1065.1 449.1L1066.6 448.0L1066.1 455.5L1061.8 449.3L1063.7 449.5L1062.9 446.5ZM1082.6 446.1L1082.9 447.2L1084.4 446.0L1083.8 453.5L1079.6 447.3L1081.5 447.5L1081.2 446.5ZM1100.7 446.2L1100.8 446.7L1101.9 445.9L1101.5 451.3L1098.5 446.8L1099.8 447.0L1099.7 446.5ZM1118.8 446.2L1118.9 446.6L1119.6 446.0L1119.3 449.4L1117.4 446.6L1118.3 446.7L1118.2 446.4ZM1137.0 446.3L1137.0 446.5L1137.4 446.2L1137.3 448.0L1136.2 446.5L1136.7 446.5L1136.6 446.4ZM954.0 464.6L954.1 464.8L954.5 464.5L954.4 466.7L953.1 464.8L953.6 464.9L953.6 464.7ZM972.4 464.6L972.5 464.9L973.3 464.3L973.0 468.0L970.9 465.0L971.9 465.1L971.8 464.7ZM990.9 464.5L991.0 465.0L992.0 464.2L991.7 469.3L988.8 465.1L990.1 465.3L989.9 464.8ZM1009.3 464.5L1009.5 465.1L1010.7 464.1L1010.3 470.5L1006.7 465.2L1008.3 465.4L1008.1 464.8ZM1027.7 464.5L1027.8 465.1L1029.3 464.0L1028.8 471.2L1024.7 465.3L1026.5 465.5L1026.3 464.8ZM1046.0 464.5L1046.1 465.1L1047.6 464.0L1047.0 471.2L1043.0 465.3L1044.8 465.5L1044.6 464.8ZM1064.2 464.5L1064.3 465.1L1065.6 464.1L1065.1 470.4L1061.6 465.2L1063.2 465.4L1063.0 464.8ZM1082.4 464.5L1082.5 465.0L1083.5 464.2L1083.1 469.2L1080.3 465.1L1081.6 465.2L1081.4 464.8ZM1100.5 464.6L1100.6 464.9L1101.3 464.4L1101.0 467.8L1099.1 464.9L1100.0 465.1L1099.9 464.7ZM1118.7 464.6L1118.8 464.8L1119.2 464.5L1119.0 466.6L1117.8 464.8L1118.4 464.9L1118.3 464.7ZM972.3 482.9L972.3 483.1L972.7 482.8L972.6 484.8L971.5 483.1L972.0 483.2L971.9 483.0ZM990.7 482.9L990.7 483.2L991.3 482.7L991.1 485.6L989.5 483.2L990.2 483.3L990.1 483.0ZM1009.0 482.9L1009.1 483.2L1009.8 482.7L1009.6 486.2L1007.6 483.3L1008.5 483.4L1008.4 483.1ZM1027.4 482.9L1027.5 483.2L1028.3 482.6L1028.0 486.6L1025.7 483.3L1026.7 483.4L1026.6 483.1ZM1045.7 482.9L1045.8 483.2L1046.6 482.6L1046.3 486.6L1044.0 483.3L1045.0 483.4L1044.9 483.1ZM1063.9 482.9L1064.0 483.2L1064.7 482.7L1064.5 486.2L1062.5 483.3L1063.4 483.4L1063.3 483.1ZM1082.2 482.9L1082.2 483.2L1082.8 482.7L1082.6 485.5L1081.0 483.2L1081.7 483.3L1081.6 483.0ZM1100.4 482.9L1100.4 483.1L1100.8 482.8L1100.7 484.7L1099.6 483.1L1100.1 483.2L1100.0 483.0ZM1008.9 501.2L1008.9 501.4L1009.3 501.1L1009.1 502.9L1008.1 501.4L1008.6 501.5L1008.5 501.3ZM1027.2 501.2L1027.2 501.4L1027.6 501.1L1027.5 503.1L1026.4 501.5L1026.9 501.5L1026.8 501.3ZM1045.5 501.2L1045.5 501.4L1045.9 501.1L1045.8 503.1L1044.7 501.5L1045.2 501.5L1045.1 501.3ZM1063.8 501.2L1063.8 501.4L1064.1 501.1L1064.0 502.9L1063.1 501.4L1063.5 501.5L1063.4 501.3Z" fill="#111"/>
<path d="M1475.7 169.9h420.8M1475.7 188.2h420.8M1475.7 206.5h420.8M1475.7 224.9h420.8M1475.7 243.2h420.8M1475.7 261.5h420.8M1475.7 279.8h420.8M1475.7 298.2h420.8M1475.7 316.5h420.8M1475.7 334.8h420.8M1475.7 353.1h420.8M1475.7 371.4h420.8M1475.7 389.8h420.8M1475.7 408.1h420.8M1475.7 426.4h420.8M1475.7 444.7h420.8M1475.7 463.0h420.8M1475.7 481.4h420.8M1475.7 499.7h420.8M1475.7 518.0h420.8M1475.7 536.3h420.8M1475.7 554.7h420.8M1475.7 573.0h420.8M1475.7 591.3h420.8" stroke="#303030" stroke-width="1.7" stroke-linecap="round" stroke-dasharray="0 18.274" fill="none"/><path d="M1658.4 261.3L1658.6 261.3L1658.3 260.9L1660.1 261.1L1658.6 262.1L1658.7 261.6L1658.5 261.7ZM1676.7 261.3L1676.9 261.3L1676.5 260.9L1678.6 261.0L1676.9 262.1L1677.0 261.6L1676.8 261.7ZM1694.9 261.3L1695.1 261.3L1694.8 260.9L1696.8 261.0L1695.2 262.1L1695.2 261.6L1695.0 261.7ZM1713.2 261.3L1713.4 261.3L1713.1 260.9L1714.9 261.1L1713.4 262.1L1713.5 261.6L1713.3 261.7ZM1621.8 279.6L1622.0 279.6L1621.7 279.2L1623.8 279.3L1622.1 280.5L1622.1 280.0L1621.9 280.0ZM1640.1 279.6L1640.4 279.5L1639.9 278.9L1642.9 279.1L1640.4 280.8L1640.5 280.0L1640.2 280.1ZM1658.3 279.5L1658.7 279.4L1658.1 278.7L1661.8 278.9L1658.8 281.0L1658.9 280.1L1658.5 280.2ZM1676.6 279.4L1677.0 279.3L1676.4 278.5L1680.5 278.8L1677.1 281.1L1677.2 280.1L1676.8 280.2ZM1694.9 279.4L1695.3 279.3L1694.6 278.5L1698.7 278.8L1695.3 281.1L1695.5 280.1L1695.1 280.2ZM1713.2 279.5L1713.5 279.4L1713.0 278.7L1716.6 278.9L1713.6 281.0L1713.7 280.1L1713.4 280.2ZM1731.5 279.6L1731.7 279.5L1731.3 278.9L1734.1 279.1L1731.8 280.7L1731.9 280.0L1731.6 280.1ZM1749.8 279.6L1749.9 279.6L1749.6 279.2L1751.6 279.3L1750.0 280.5L1750.0 280.0L1749.9 280.0ZM1603.6 297.9L1603.8 297.9L1603.4 297.4L1605.8 297.6L1603.8 298.9L1603.9 298.3L1603.7 298.4ZM1621.8 297.8L1622.1 297.7L1621.6 297.0L1625.3 297.2L1622.2 299.3L1622.3 298.4L1622.0 298.5ZM1640.0 297.7L1640.5 297.5L1639.7 296.5L1645.0 296.8L1640.6 299.8L1640.8 298.5L1640.3 298.6ZM1658.3 297.5L1658.9 297.4L1657.9 296.0L1664.5 296.5L1659.0 300.3L1659.2 298.6L1658.6 298.8ZM1676.5 297.5L1677.2 297.3L1676.1 295.8L1683.5 296.3L1677.3 300.5L1677.6 298.7L1676.9 298.8ZM1694.8 297.5L1695.5 297.3L1694.4 295.8L1701.7 296.3L1695.6 300.5L1695.9 298.7L1695.2 298.8ZM1713.1 297.5L1713.7 297.4L1712.7 296.1L1719.2 296.6L1713.8 300.2L1714.0 298.6L1713.4 298.8ZM1731.4 297.7L1731.9 297.5L1731.1 296.5L1736.2 296.9L1732.0 299.8L1732.1 298.5L1731.7 298.6ZM1749.7 297.8L1750.1 297.7L1749.5 297.0L1753.1 297.3L1750.1 299.3L1750.2 298.4L1749.9 298.5ZM1768.0 297.9L1768.2 297.9L1767.9 297.5L1770.1 297.6L1768.3 298.9L1768.3 298.3L1768.1 298.4ZM1585.3 316.3L1585.5 316.2L1585.2 315.8L1587.3 316.0L1585.5 317.2L1585.6 316.6L1585.4 316.7ZM1603.5 316.1L1603.9 316.0L1603.3 315.3L1607.1 315.5L1603.9 317.7L1604.1 316.7L1603.7 316.8ZM1621.7 315.9L1622.3 315.8L1621.4 314.6L1627.4 315.0L1622.4 318.4L1622.6 316.9L1622.0 317.0ZM1640.0 315.8L1641.6 315.3L1640.5 313.8L1648.0 314.4L1641.8 318.6L1642.0 316.7L1640.4 317.2ZM1658.3 315.8L1661.9 314.8L1660.8 313.3L1668.3 313.8L1662.0 318.1L1662.3 316.2L1658.6 317.2ZM1676.5 315.8L1681.3 314.5L1680.2 313.0L1687.7 313.5L1681.5 317.8L1681.7 315.9L1676.9 317.2ZM1694.8 315.8L1699.5 314.5L1698.4 313.0L1705.9 313.6L1699.6 317.8L1699.9 315.9L1695.2 317.2ZM1713.1 315.8L1716.5 314.9L1715.4 313.4L1722.9 313.9L1716.6 318.1L1716.9 316.3L1713.4 317.2ZM1731.3 315.8L1732.7 315.4L1731.6 313.9L1739.1 314.5L1732.8 318.7L1733.1 316.8L1731.7 317.2ZM1749.7 315.9L1750.2 315.8L1749.3 314.7L1755.1 315.1L1750.3 318.3L1750.5 316.9L1750.0 317.0ZM1768.0 316.1L1768.3 316.1L1767.8 315.3L1771.3 315.6L1768.4 317.6L1768.5 316.7L1768.2 316.8ZM1786.3 316.3L1786.5 316.2L1786.2 315.9L1788.1 316.0L1786.5 317.1L1786.6 316.6L1786.4 316.7ZM1585.3 334.5L1585.6 334.4L1585.1 333.8L1588.1 334.0L1585.6 335.8L1585.7 335.0L1585.4 335.1ZM1603.5 334.3L1604.0 334.1L1603.2 333.1L1608.6 333.5L1604.1 336.5L1604.3 335.2L1603.8 335.3ZM1621.7 334.1L1623.5 333.6L1622.3 332.1L1629.8 332.7L1623.6 336.9L1623.8 335.0L1622.1 335.5ZM1640.0 334.1L1645.0 332.7L1643.9 331.3L1651.4 331.8L1645.1 336.0L1645.4 334.1L1640.4 335.5ZM1658.3 334.1L1666.1 332.0L1665.0 330.5L1672.5 331.0L1666.3 335.2L1666.5 333.4L1658.6 335.5ZM1676.5 334.1L1686.0 331.5L1684.9 330.1L1692.4 330.6L1686.2 334.8L1686.4 332.9L1676.9 335.5ZM1694.8 334.1L1704.2 331.6L1703.0 330.1L1710.6 330.6L1704.3 334.8L1704.6 333.0L1695.2 335.5ZM1713.1 334.1L1720.6 332.1L1719.5 330.6L1727.0 331.1L1720.8 335.3L1721.0 333.5L1713.4 335.5ZM1731.3 334.1L1735.9 332.9L1734.8 331.4L1742.3 331.9L1736.1 336.1L1736.3 334.3L1731.7 335.5ZM1749.6 334.1L1751.0 333.7L1749.8 332.2L1757.3 332.8L1751.1 337.0L1751.3 335.1L1750.0 335.5ZM1768.0 334.3L1768.4 334.2L1767.7 333.2L1772.7 333.5L1768.5 336.4L1768.7 335.1L1768.2 335.3ZM1786.3 334.5L1786.5 334.5L1786.1 333.9L1788.9 334.1L1786.6 335.7L1786.7 335.0L1786.4 335.1ZM1567.0 352.9L1567.2 352.9L1566.9 352.5L1568.8 352.6L1567.2 353.7L1567.3 353.2L1567.1 353.3ZM1585.2 352.8L1585.6 352.7L1585.0 351.9L1588.9 352.2L1585.7 354.3L1585.8 353.4L1585.4 353.5ZM1603.4 352.5L1604.1 352.3L1603.0 350.9L1610.0 351.4L1604.2 355.3L1604.4 353.6L1603.8 353.8ZM1621.7 352.4L1625.6 351.4L1624.5 349.9L1632.0 350.4L1625.7 354.6L1626.0 352.8L1622.1 353.8ZM1640.0 352.4L1648.1 350.3L1646.9 348.8L1654.4 349.3L1648.2 353.5L1648.4 351.7L1640.4 353.8ZM1658.3 352.4L1670.0 349.3L1668.8 347.8L1676.3 348.3L1670.1 352.5L1670.3 350.7L1658.6 353.8ZM1676.5 352.4L1690.3 348.7L1689.2 347.2L1696.7 347.8L1690.4 352.0L1690.7 350.1L1676.9 353.8ZM1694.8 352.4L1708.4 348.8L1707.3 347.3L1714.8 347.8L1708.6 352.0L1708.8 350.2L1695.2 353.8ZM1713.1 352.4L1724.4 349.4L1723.2 347.9L1730.7 348.4L1724.5 352.7L1724.7 350.8L1713.4 353.8ZM1731.3 352.4L1738.9 350.4L1737.7 348.9L1745.2 349.5L1739.0 353.7L1739.2 351.8L1731.7 353.8ZM1749.6 352.4L1753.0 351.5L1751.8 350.0L1759.3 350.6L1753.1 354.8L1753.4 352.9L1750.0 353.8ZM1767.9 352.5L1768.5 352.4L1767.5 351.1L1774.0 351.5L1768.6 355.2L1768.8 353.6L1768.2 353.7ZM1786.3 352.8L1786.6 352.7L1786.1 352.0L1789.6 352.2L1786.7 354.2L1786.8 353.4L1786.4 353.4ZM1804.6 353.0L1804.7 352.9L1804.5 352.6L1806.2 352.7L1804.8 353.7L1804.8 353.2L1804.7 353.3ZM1567.0 371.2L1567.2 371.2L1566.9 370.7L1569.1 370.9L1567.3 372.1L1567.3 371.6L1567.1 371.6ZM1585.2 371.0L1585.6 370.9L1585.0 370.0L1589.4 370.4L1585.7 372.8L1585.9 371.7L1585.5 371.8ZM1603.4 370.7L1604.4 370.5L1603.3 369.0L1610.8 369.5L1604.6 373.7L1604.8 371.9L1603.8 372.1ZM1621.7 370.7L1626.9 369.3L1625.8 367.8L1633.3 368.4L1627.1 372.6L1627.3 370.7L1622.1 372.1ZM1640.0 370.7L1649.9 368.1L1648.8 366.6L1656.3 367.1L1650.0 371.3L1650.3 369.5L1640.4 372.1ZM1658.3 370.7L1672.3 367.0L1671.1 365.5L1678.6 366.0L1672.4 370.2L1672.7 368.4L1658.6 372.1ZM1676.5 370.7L1692.9 366.4L1691.8 364.9L1699.3 365.4L1693.0 369.6L1693.3 367.8L1676.9 372.1ZM1694.8 370.7L1711.0 366.4L1709.8 364.9L1717.3 365.4L1711.1 369.7L1711.4 367.8L1695.2 372.1ZM1713.1 370.7L1726.6 367.1L1725.5 365.6L1733.0 366.2L1726.8 370.4L1727.0 368.5L1713.4 372.1ZM1731.3 370.7L1740.7 368.2L1739.5 366.8L1747.0 367.3L1740.8 371.5L1741.0 369.6L1731.7 372.1ZM1749.6 370.7L1754.2 369.5L1753.1 368.0L1760.6 368.6L1754.4 372.8L1754.6 370.9L1750.0 372.1ZM1767.9 370.8L1768.6 370.6L1767.5 369.1L1774.8 369.6L1768.7 373.8L1768.9 371.9L1768.3 372.1ZM1786.3 371.1L1786.6 371.0L1786.0 370.2L1790.0 370.5L1786.7 372.7L1786.8 371.7L1786.5 371.8ZM1804.6 371.3L1804.8 371.2L1804.5 370.8L1806.4 371.0L1804.8 372.1L1804.9 371.6L1804.7 371.6ZM1567.0 389.6L1567.2 389.5L1566.9 389.1L1569.1 389.2L1567.3 390.5L1567.3 389.9L1567.1 390.0ZM1585.2 389.3L1585.6 389.2L1585.0 388.4L1589.4 388.7L1585.7 391.2L1585.9 390.1L1585.5 390.2ZM1603.4 389.1L1604.5 388.8L1603.3 387.3L1610.8 387.8L1604.6 392.1L1604.8 390.2L1603.8 390.5ZM1621.7 389.1L1627.0 387.6L1625.8 386.2L1633.3 386.7L1627.1 390.9L1627.4 389.0L1622.1 390.5ZM1640.0 389.1L1650.0 386.4L1648.8 384.9L1656.3 385.4L1650.1 389.7L1650.4 387.8L1640.4 390.5ZM1658.3 389.1L1672.4 385.3L1671.2 383.8L1678.7 384.3L1672.5 388.5L1672.8 386.7L1658.6 390.5ZM1676.5 389.1L1693.0 384.6L1691.9 383.2L1699.4 383.7L1693.1 387.9L1693.4 386.0L1676.9 390.5ZM1694.8 389.1L1711.1 384.7L1709.9 383.2L1717.5 383.7L1711.2 388.0L1711.5 386.1L1695.2 390.5ZM1713.1 389.1L1726.7 385.4L1725.6 383.9L1733.1 384.5L1726.8 388.7L1727.1 386.8L1713.4 390.5ZM1731.3 389.1L1740.7 386.5L1739.6 385.1L1747.1 385.6L1740.8 389.8L1741.1 387.9L1731.7 390.5ZM1749.6 389.1L1754.3 387.8L1753.1 386.3L1760.6 386.9L1754.4 391.1L1754.7 389.2L1750.0 390.5ZM1767.9 389.1L1768.6 388.9L1767.5 387.4L1774.8 388.0L1768.7 392.1L1769.0 390.3L1768.3 390.4ZM1786.3 389.4L1786.6 389.3L1786.0 388.5L1790.1 388.8L1786.7 391.0L1786.8 390.0L1786.5 390.1ZM1804.6 389.6L1804.8 389.5L1804.5 389.1L1806.4 389.3L1804.8 390.4L1804.9 389.9L1804.7 389.9ZM1567.0 407.9L1567.2 407.9L1566.9 407.5L1568.9 407.6L1567.2 408.7L1567.3 408.2L1567.1 408.3ZM1585.2 407.7L1585.6 407.6L1585.0 406.8L1588.9 407.1L1585.7 409.3L1585.8 408.4L1585.4 408.5ZM1603.4 407.4L1604.1 407.3L1603.0 405.9L1610.1 406.4L1604.2 410.3L1604.4 408.6L1603.8 408.7ZM1621.7 407.4L1625.8 406.3L1624.6 404.8L1632.1 405.3L1625.9 409.6L1626.1 407.7L1622.1 408.8ZM1640.0 407.4L1648.2 405.2L1647.1 403.7L1654.6 404.2L1648.4 408.4L1648.6 406.6L1640.4 408.8ZM1658.3 407.4L1670.2 404.2L1669.1 402.7L1676.6 403.2L1670.3 407.4L1670.6 405.6L1658.6 408.8ZM1676.5 407.4L1690.6 403.6L1689.4 402.1L1696.9 402.7L1690.7 406.9L1691.0 405.0L1676.9 408.8ZM1694.8 407.4L1708.7 403.7L1707.5 402.2L1715.0 402.7L1708.8 406.9L1709.1 405.1L1695.2 408.8ZM1713.1 407.4L1724.6 404.3L1723.5 402.8L1731.0 403.3L1724.7 407.6L1725.0 405.7L1713.4 408.8ZM1731.3 407.4L1739.1 405.3L1737.9 403.8L1745.4 404.4L1739.2 408.6L1739.4 406.7L1731.7 408.8ZM1749.6 407.4L1753.1 406.4L1752.0 404.9L1759.5 405.5L1753.3 409.7L1753.5 407.8L1750.0 408.8ZM1767.9 407.5L1768.5 407.3L1767.5 406.0L1774.1 406.5L1768.6 410.2L1768.9 408.5L1768.2 408.7ZM1786.3 407.7L1786.6 407.7L1786.0 406.9L1789.7 407.2L1786.7 409.2L1786.8 408.3L1786.4 408.4ZM1804.6 407.9L1804.8 407.9L1804.5 407.5L1806.2 407.6L1804.8 408.6L1804.8 408.2L1804.7 408.2ZM1567.0 426.3L1567.2 426.2L1566.9 425.9L1568.5 426.0L1567.2 426.9L1567.3 426.5L1567.1 426.5ZM1585.3 426.1L1585.6 426.0L1585.1 425.4L1588.2 425.6L1585.6 427.4L1585.7 426.6L1585.4 426.7ZM1603.5 425.9L1604.0 425.7L1603.1 424.6L1608.7 425.0L1604.1 428.2L1604.3 426.8L1603.8 426.9ZM1621.7 425.7L1623.7 425.2L1622.5 423.7L1630.0 424.2L1623.8 428.5L1624.0 426.6L1622.1 427.1ZM1640.0 425.7L1645.3 424.3L1644.1 422.8L1651.6 423.3L1645.4 427.6L1645.6 425.7L1640.4 427.1ZM1658.3 425.7L1666.5 423.5L1665.3 422.0L1672.8 422.6L1666.6 426.8L1666.8 424.9L1658.6 427.1ZM1676.5 425.7L1686.4 423.1L1685.3 421.6L1692.8 422.1L1686.5 426.3L1686.8 424.5L1676.9 427.1ZM1694.8 425.7L1704.6 423.1L1703.4 421.6L1710.9 422.1L1704.7 426.4L1704.9 424.5L1695.2 427.1ZM1713.1 425.7L1721.0 423.6L1719.8 422.1L1727.3 422.6L1721.1 426.9L1721.3 425.0L1713.4 427.1ZM1731.3 425.7L1736.2 424.4L1735.0 422.9L1742.5 423.5L1736.3 427.7L1736.6 425.8L1731.7 427.1ZM1749.6 425.7L1751.1 425.3L1750.0 423.8L1757.5 424.3L1751.3 428.6L1751.5 426.7L1750.0 427.1ZM1768.0 425.9L1768.4 425.8L1767.6 424.8L1772.8 425.1L1768.5 428.1L1768.7 426.8L1768.2 426.9ZM1786.3 426.1L1786.6 426.1L1786.1 425.5L1789.0 425.7L1786.6 427.3L1786.7 426.6L1786.4 426.7ZM1585.3 444.5L1585.5 444.5L1585.2 444.0L1587.4 444.2L1585.5 445.4L1585.6 444.9L1585.4 444.9ZM1603.5 444.4L1603.9 444.3L1603.3 443.5L1607.2 443.8L1604.0 446.0L1604.1 445.0L1603.7 445.1ZM1621.7 444.1L1622.3 444.0L1621.4 442.7L1627.6 443.2L1622.4 446.7L1622.6 445.2L1622.0 445.3ZM1640.0 444.0L1641.9 443.5L1640.7 442.0L1648.2 442.6L1642.0 446.8L1642.3 444.9L1640.4 445.4ZM1658.3 444.0L1662.2 443.0L1661.1 441.5L1668.6 442.0L1662.4 446.2L1662.6 444.4L1658.6 445.4ZM1676.5 444.0L1681.7 442.6L1680.5 441.2L1688.0 441.7L1681.8 445.9L1682.1 444.0L1676.9 445.4ZM1694.8 444.0L1699.9 442.7L1698.7 441.2L1706.2 441.7L1700.0 445.9L1700.2 444.1L1695.2 445.4ZM1713.1 444.0L1716.8 443.0L1715.7 441.5L1723.2 442.1L1716.9 446.3L1717.2 444.4L1713.4 445.4ZM1731.3 444.0L1733.0 443.6L1731.8 442.1L1739.3 442.6L1733.1 446.9L1733.3 445.0L1731.7 445.4ZM1749.7 444.2L1750.2 444.0L1749.3 442.8L1755.2 443.3L1750.3 446.6L1750.5 445.1L1750.0 445.3ZM1768.0 444.4L1768.3 444.3L1767.8 443.6L1771.4 443.8L1768.4 445.9L1768.5 445.0L1768.2 445.1ZM1786.3 444.5L1786.5 444.5L1786.2 444.1L1788.2 444.2L1786.5 445.4L1786.6 444.9L1786.4 444.9ZM1603.6 462.8L1603.8 462.8L1603.4 462.3L1605.9 462.4L1603.8 463.8L1603.9 463.2L1603.7 463.3ZM1621.8 462.7L1622.2 462.6L1621.6 461.8L1625.5 462.1L1622.2 464.3L1622.4 463.3L1622.0 463.4ZM1640.0 462.5L1640.5 462.4L1639.7 461.3L1645.2 461.7L1640.6 464.8L1640.8 463.4L1640.3 463.6ZM1658.3 462.4L1658.9 462.2L1657.8 460.8L1664.8 461.3L1659.0 465.3L1659.3 463.5L1658.6 463.7ZM1676.5 462.3L1677.5 462.1L1676.3 460.6L1683.8 461.1L1677.6 465.4L1677.8 463.5L1676.9 463.7ZM1694.8 462.3L1695.7 462.1L1694.5 460.6L1702.0 461.2L1695.8 465.4L1696.1 463.5L1695.2 463.7ZM1713.1 462.4L1713.7 462.2L1712.7 460.9L1719.5 461.4L1713.8 465.2L1714.1 463.5L1713.4 463.7ZM1731.4 462.6L1731.9 462.4L1731.1 461.4L1736.4 461.7L1732.0 464.7L1732.2 463.4L1731.7 463.5ZM1749.7 462.7L1750.1 462.6L1749.5 461.9L1753.2 462.1L1750.1 464.2L1750.2 463.3L1749.9 463.4ZM1768.0 462.8L1768.2 462.8L1767.9 462.3L1770.2 462.5L1768.3 463.8L1768.4 463.2L1768.1 463.3ZM1621.8 481.2L1622.0 481.1L1621.7 480.7L1623.9 480.8L1622.1 482.1L1622.1 481.5L1621.9 481.6ZM1640.1 481.1L1640.4 481.0L1639.9 480.4L1643.0 480.6L1640.4 482.3L1640.5 481.6L1640.2 481.7ZM1658.3 481.0L1658.7 480.9L1658.1 480.1L1662.0 480.4L1658.8 482.6L1658.9 481.6L1658.5 481.7ZM1676.6 481.0L1677.0 480.9L1676.3 480.0L1680.7 480.3L1677.1 482.7L1677.2 481.7L1676.8 481.8ZM1694.9 481.0L1695.3 480.9L1694.6 480.0L1698.9 480.3L1695.4 482.7L1695.5 481.7L1695.1 481.8ZM1713.2 481.0L1713.5 480.9L1712.9 480.2L1716.7 480.4L1713.6 482.6L1713.7 481.6L1713.4 481.7ZM1731.5 481.1L1731.7 481.0L1731.3 480.4L1734.2 480.6L1731.8 482.3L1731.9 481.6L1731.6 481.6ZM1749.8 481.2L1750.0 481.1L1749.6 480.7L1751.7 480.9L1750.0 482.0L1750.1 481.5L1749.9 481.6ZM1658.4 499.5L1658.6 499.5L1658.3 499.1L1660.2 499.2L1658.6 500.3L1658.7 499.8L1658.5 499.9ZM1676.7 499.5L1676.9 499.4L1676.5 499.0L1678.7 499.2L1676.9 500.4L1677.0 499.8L1676.8 499.9ZM1694.9 499.5L1695.1 499.4L1694.8 499.0L1696.9 499.2L1695.2 500.4L1695.2 499.8L1695.0 499.9ZM1713.2 499.5L1713.4 499.5L1713.1 499.1L1715.0 499.2L1713.4 500.3L1713.5 499.8L1713.3 499.9Z" fill="#111"/>
<path d="M177.3 925.3h418.4M177.3 943.4h418.4M177.3 961.6h418.4M177.3 979.7h418.4M177.3 997.8h418.4M177.3 1016.0h418.4M177.3 1034.1h418.4M177.3 1052.2h418.4M177.3 1070.4h418.4M177.3 1088.5h418.4M177.3 1106.6h418.4M177.3 1124.8h418.4M177.3 1142.9h418.4M177.3 1161.1h418.4M177.3 1179.2h418.4M177.3 1197.3h418.4M177.3 1215.5h418.4M177.3 1233.6h418.4M177.3 1251.7h418.4M177.3 1269.9h418.4M177.3 1288.0h418.4M177.3 1306.1h418.4M177.3 1324.3h418.4M177.3 1342.4h418.4" stroke="#303030" stroke-width="1.7" stroke-linecap="round" stroke-dasharray="0 18.170" fill="none"/><path d="M359.1 1016.1L359.0 1016.2L359.4 1016.4L357.8 1017.1L358.6 1015.6L358.8 1016.0L358.9 1015.9ZM377.3 1016.1L377.2 1016.2L377.6 1016.4L375.9 1017.3L376.7 1015.5L376.9 1016.0L377.0 1015.8ZM395.5 1016.1L395.3 1016.2L395.8 1016.4L394.1 1017.3L394.9 1015.5L395.1 1016.0L395.2 1015.8ZM413.6 1016.1L413.5 1016.2L413.9 1016.4L412.4 1017.1L413.1 1015.6L413.3 1016.0L413.4 1015.9ZM322.8 1034.2L322.7 1034.4L323.1 1034.6L321.3 1035.4L322.2 1033.6L322.4 1034.1L322.5 1034.0ZM341.0 1034.3L340.8 1034.5L341.5 1034.8L338.9 1036.0L340.2 1033.5L340.4 1034.1L340.6 1033.9ZM359.2 1034.3L359.0 1034.6L359.8 1034.9L356.6 1036.5L358.2 1033.3L358.5 1034.1L358.8 1033.9ZM377.4 1034.4L377.2 1034.6L378.1 1035.0L374.5 1036.7L376.3 1033.2L376.6 1034.1L376.9 1033.8ZM395.6 1034.4L395.3 1034.6L396.2 1035.0L392.7 1036.7L394.4 1033.2L394.8 1034.1L395.1 1033.8ZM413.7 1034.3L413.5 1034.6L414.3 1034.9L411.2 1036.4L412.7 1033.3L413.0 1034.1L413.3 1033.9ZM431.9 1034.3L431.7 1034.5L432.3 1034.7L429.9 1035.9L431.0 1033.5L431.3 1034.1L431.5 1033.9ZM450.0 1034.2L449.8 1034.4L450.3 1034.5L448.6 1035.4L449.4 1033.7L449.6 1034.1L449.7 1034.0ZM304.6 1052.4L304.5 1052.6L305.0 1052.8L303.0 1053.8L304.0 1051.7L304.2 1052.2L304.3 1052.1ZM322.9 1052.5L322.7 1052.7L323.5 1053.1L320.2 1054.7L321.8 1051.4L322.2 1052.2L322.4 1052.0ZM341.2 1052.6L340.8 1052.9L342.0 1053.4L337.4 1055.7L339.6 1051.1L340.1 1052.2L340.5 1051.9ZM359.4 1052.7L359.0 1053.1L360.5 1053.7L354.7 1056.5L357.5 1050.8L358.1 1052.2L358.6 1051.8ZM377.7 1052.7L377.2 1053.2L378.8 1053.9L372.4 1057.0L375.5 1050.6L376.2 1052.2L376.7 1051.8ZM395.8 1052.7L395.3 1053.2L397.0 1053.9L390.6 1057.0L393.7 1050.6L394.4 1052.2L394.9 1051.8ZM413.9 1052.7L413.5 1053.1L415.0 1053.7L409.3 1056.4L412.1 1050.8L412.7 1052.2L413.1 1051.8ZM432.0 1052.6L431.7 1052.9L432.8 1053.4L428.4 1055.5L430.5 1051.1L431.0 1052.2L431.3 1051.9ZM450.1 1052.5L449.8 1052.7L450.6 1053.0L447.6 1054.5L449.1 1051.5L449.4 1052.2L449.6 1052.0ZM468.2 1052.4L468.0 1052.5L468.5 1052.7L466.6 1053.7L467.5 1051.8L467.7 1052.2L467.9 1052.1ZM286.5 1070.5L286.3 1070.7L286.8 1070.9L284.9 1071.7L285.8 1069.9L286.0 1070.4L286.2 1070.2ZM304.7 1070.6L304.5 1070.9L305.3 1071.2L302.0 1072.8L303.6 1069.5L304.0 1070.4L304.2 1070.1ZM323.1 1070.8L322.7 1071.2L324.0 1071.7L318.8 1074.3L321.3 1069.0L321.9 1070.4L322.3 1070.0ZM341.3 1070.9L340.4 1071.9L342.1 1072.6L335.3 1075.9L338.6 1069.1L339.3 1070.8L340.3 1069.9ZM359.5 1070.9L357.1 1073.3L358.9 1074.0L352.1 1077.3L355.4 1070.5L356.1 1072.2L358.5 1069.9ZM377.7 1070.9L374.5 1074.1L376.2 1074.8L369.5 1078.1L372.8 1071.3L373.5 1073.0L376.7 1069.9ZM395.8 1070.9L392.7 1074.0L394.5 1074.7L387.7 1078.0L391.0 1071.2L391.7 1073.0L394.8 1069.9ZM414.0 1070.9L411.8 1073.1L413.5 1073.8L406.8 1077.1L410.1 1070.3L410.8 1072.1L413.0 1069.9ZM432.2 1070.9L431.4 1071.7L433.2 1072.4L426.4 1075.6L429.7 1068.9L430.4 1070.6L431.2 1069.9ZM450.2 1070.8L449.8 1071.1L451.1 1071.7L446.2 1074.1L448.6 1069.1L449.1 1070.4L449.5 1070.0ZM468.2 1070.6L468.0 1070.8L468.8 1071.2L465.7 1072.7L467.2 1069.6L467.5 1070.4L467.8 1070.1ZM486.3 1070.5L486.2 1070.6L486.6 1070.8L484.9 1071.6L485.7 1069.9L485.9 1070.4L486.1 1070.3ZM286.5 1088.7L286.3 1088.9L287.0 1089.2L284.4 1090.5L285.6 1087.8L285.9 1088.5L286.1 1088.3ZM304.8 1088.9L304.5 1089.2L305.7 1089.7L301.0 1092.0L303.3 1087.3L303.8 1088.5L304.1 1088.2ZM323.2 1089.0L322.1 1090.1L323.9 1090.8L317.1 1094.1L320.4 1087.3L321.1 1089.1L322.1 1088.0ZM341.3 1089.0L338.0 1092.4L339.7 1093.1L333.0 1096.4L336.3 1089.6L337.0 1091.3L340.3 1088.0ZM359.5 1089.0L354.2 1094.4L355.9 1095.1L349.1 1098.4L352.4 1091.6L353.1 1093.3L358.5 1088.0ZM377.7 1089.0L371.2 1095.5L372.9 1096.2L366.2 1099.5L369.4 1092.7L370.2 1094.5L376.7 1088.0ZM395.8 1089.0L389.5 1095.4L391.2 1096.1L384.4 1099.4L387.7 1092.7L388.4 1094.4L394.8 1088.0ZM414.0 1089.0L408.9 1094.1L410.7 1094.9L403.9 1098.1L407.2 1091.4L407.9 1093.1L413.0 1088.0ZM432.2 1089.0L429.2 1092.1L430.9 1092.8L424.1 1096.1L427.4 1089.3L428.1 1091.0L431.2 1088.0ZM450.4 1089.0L449.6 1089.8L451.4 1090.5L444.6 1093.8L447.9 1087.0L448.6 1088.7L449.3 1088.0ZM468.3 1088.8L468.0 1089.2L469.1 1089.6L464.8 1091.8L466.9 1087.4L467.3 1088.5L467.7 1088.2ZM486.4 1088.7L486.2 1088.9L486.8 1089.1L484.4 1090.3L485.6 1087.9L485.8 1088.5L486.0 1088.3ZM268.3 1106.8L268.1 1106.9L268.6 1107.1L266.9 1107.9L267.7 1106.2L267.9 1106.6L268.0 1106.5ZM286.6 1106.9L286.3 1107.2L287.2 1107.5L283.8 1109.1L285.5 1105.8L285.8 1106.6L286.1 1106.4ZM304.9 1107.1L304.5 1107.6L306.0 1108.2L300.0 1111.1L302.9 1105.1L303.6 1106.6L304.0 1106.2ZM323.2 1107.2L320.6 1109.7L322.3 1110.4L315.6 1113.7L318.9 1107.0L319.6 1108.7L322.1 1106.1ZM341.3 1107.2L335.9 1112.6L337.6 1113.4L330.8 1116.6L334.1 1109.9L334.8 1111.6L340.3 1106.1ZM359.5 1107.2L351.5 1115.2L353.2 1115.9L346.5 1119.2L349.7 1112.4L350.5 1114.2L358.5 1106.1ZM377.7 1107.2L368.2 1116.6L369.9 1117.4L363.2 1120.6L366.5 1113.9L367.2 1115.6L376.7 1106.1ZM395.8 1107.2L386.5 1116.5L388.2 1117.2L381.5 1120.5L384.7 1113.8L385.5 1115.5L394.8 1106.1ZM414.0 1107.2L406.3 1114.9L408.0 1115.6L401.3 1118.9L404.6 1112.1L405.3 1113.9L413.0 1106.1ZM432.2 1107.2L427.1 1112.2L428.8 1113.0L422.1 1116.2L425.4 1109.5L426.1 1111.2L431.2 1106.1ZM450.4 1107.2L448.2 1109.3L449.9 1110.1L443.2 1113.3L446.4 1106.6L447.2 1108.3L449.3 1106.1ZM468.4 1107.1L468.0 1107.5L469.5 1108.1L463.9 1110.8L466.6 1105.2L467.2 1106.6L467.6 1106.2ZM486.4 1106.9L486.2 1107.1L487.0 1107.4L483.9 1108.9L485.4 1105.9L485.7 1106.6L485.9 1106.4ZM504.5 1106.8L504.4 1106.9L504.7 1107.0L503.2 1107.8L504.0 1106.3L504.1 1106.6L504.2 1106.5ZM268.3 1124.9L268.1 1125.1L268.6 1125.3L266.7 1126.2L267.7 1124.3L267.9 1124.8L268.0 1124.6ZM286.6 1125.1L286.3 1125.4L287.3 1125.8L283.5 1127.6L285.3 1123.8L285.7 1124.8L286.0 1124.5ZM305.0 1125.3L304.5 1125.8L306.2 1126.5L299.4 1129.8L302.7 1123.1L303.4 1124.8L304.0 1124.3ZM323.2 1125.3L319.7 1128.8L321.4 1129.5L314.7 1132.8L317.9 1126.0L318.7 1127.8L322.1 1124.3ZM341.3 1125.3L334.6 1132.1L336.3 1132.8L329.5 1136.1L332.8 1129.3L333.5 1131.0L340.3 1124.3ZM359.5 1125.3L349.8 1135.0L351.6 1135.7L344.8 1139.0L348.1 1132.2L348.8 1133.9L358.5 1124.3ZM377.7 1125.3L366.4 1136.6L368.1 1137.3L361.4 1140.6L364.6 1133.8L365.4 1135.6L376.7 1124.3ZM395.8 1125.3L384.7 1136.5L386.4 1137.2L379.7 1140.5L382.9 1133.7L383.6 1135.4L394.8 1124.3ZM414.0 1125.3L404.7 1134.6L406.4 1135.3L399.7 1138.6L403.0 1131.8L403.7 1133.6L413.0 1124.3ZM432.2 1125.3L425.9 1131.6L427.6 1132.3L420.8 1135.6L424.1 1128.9L424.8 1130.6L431.2 1124.3ZM450.4 1125.3L447.3 1128.3L449.1 1129.1L442.3 1132.3L445.6 1125.6L446.3 1127.3L449.3 1124.3ZM468.5 1125.3L468.0 1125.7L469.6 1126.4L463.3 1129.5L466.4 1123.2L467.1 1124.8L467.5 1124.3ZM486.4 1125.0L486.2 1125.3L487.1 1125.7L483.6 1127.4L485.3 1123.9L485.7 1124.8L485.9 1124.5ZM504.5 1124.9L504.4 1125.0L504.8 1125.2L503.1 1126.0L503.9 1124.3L504.1 1124.8L504.2 1124.7ZM268.3 1143.1L268.1 1143.2L268.6 1143.4L266.7 1144.3L267.7 1142.4L267.9 1142.9L268.0 1142.8ZM286.6 1143.2L286.3 1143.5L287.3 1143.9L283.5 1145.8L285.3 1141.9L285.7 1142.9L286.0 1142.6ZM305.0 1143.4L304.4 1144.0L306.2 1144.7L299.4 1148.0L302.7 1141.2L303.4 1143.0L304.0 1142.4ZM323.2 1143.4L319.6 1147.0L321.4 1147.7L314.6 1151.0L317.9 1144.2L318.6 1145.9L322.1 1142.4ZM341.3 1143.4L334.5 1150.3L336.2 1151.0L329.5 1154.3L332.8 1147.5L333.5 1149.2L340.3 1142.4ZM359.5 1143.4L349.8 1153.2L351.5 1153.9L344.8 1157.2L348.0 1150.4L348.8 1152.1L358.5 1142.4ZM377.7 1143.4L366.3 1154.8L368.0 1155.5L361.3 1158.8L364.6 1152.0L365.3 1153.8L376.7 1142.4ZM395.8 1143.4L384.6 1154.7L386.3 1155.4L379.6 1158.7L382.9 1151.9L383.6 1153.7L394.8 1142.4ZM414.0 1143.4L404.6 1152.8L406.4 1153.5L399.6 1156.8L402.9 1150.0L403.6 1151.8L413.0 1142.4ZM432.2 1143.4L425.8 1149.8L427.5 1150.5L420.8 1153.8L424.1 1147.0L424.8 1148.8L431.2 1142.4ZM450.4 1143.4L447.3 1146.5L449.0 1147.2L442.2 1150.5L445.5 1143.7L446.2 1145.5L449.3 1142.4ZM468.5 1143.4L468.0 1143.9L469.6 1144.6L463.3 1147.6L466.4 1141.3L467.1 1142.9L467.5 1142.4ZM486.4 1143.2L486.2 1143.4L487.1 1143.8L483.6 1145.5L485.3 1142.0L485.7 1142.9L485.9 1142.7ZM504.5 1143.0L504.4 1143.2L504.8 1143.4L503.1 1144.2L503.9 1142.5L504.1 1142.9L504.2 1142.8ZM268.3 1161.2L268.1 1161.3L268.6 1161.5L266.9 1162.3L267.7 1160.6L267.9 1161.1L268.0 1160.9ZM286.6 1161.3L286.3 1161.6L287.2 1161.9L283.8 1163.6L285.4 1160.2L285.8 1161.1L286.1 1160.8ZM304.9 1161.5L304.5 1162.0L306.1 1162.6L300.0 1165.6L302.9 1159.5L303.6 1161.1L304.0 1160.6ZM323.2 1161.6L320.5 1164.2L322.2 1165.0L315.5 1168.2L318.8 1161.5L319.5 1163.2L322.1 1160.5ZM341.3 1161.6L335.7 1167.2L337.5 1167.9L330.7 1171.2L334.0 1164.4L334.7 1166.2L340.3 1160.5ZM359.5 1161.6L351.3 1169.8L353.0 1170.5L346.3 1173.8L349.6 1167.0L350.3 1168.7L358.5 1160.5ZM377.7 1161.6L368.0 1171.2L369.7 1172.0L363.0 1175.2L366.3 1168.5L367.0 1170.2L376.7 1160.5ZM395.8 1161.6L386.3 1171.1L388.0 1171.8L381.3 1175.1L384.5 1168.4L385.3 1170.1L394.8 1160.5ZM414.0 1161.6L406.1 1169.5L407.9 1170.2L401.1 1173.5L404.4 1166.7L405.1 1168.4L413.0 1160.5ZM432.2 1161.6L427.0 1166.8L428.7 1167.5L421.9 1170.8L425.2 1164.0L425.9 1165.8L431.2 1160.5ZM450.4 1161.6L448.1 1163.8L449.8 1164.6L443.1 1167.8L446.3 1161.1L447.1 1162.8L449.3 1160.5ZM468.4 1161.5L468.0 1161.9L469.5 1162.5L463.8 1165.3L466.6 1159.6L467.2 1161.1L467.6 1160.6ZM486.4 1161.3L486.2 1161.5L487.0 1161.9L483.9 1163.4L485.4 1160.2L485.7 1161.1L485.9 1160.8ZM504.5 1161.2L504.4 1161.3L504.7 1161.4L503.2 1162.2L504.0 1160.7L504.1 1161.1L504.2 1160.9ZM286.5 1179.4L286.3 1179.6L287.0 1179.9L284.3 1181.2L285.6 1178.5L285.9 1179.2L286.1 1179.0ZM304.9 1179.6L304.5 1179.9L305.7 1180.4L300.9 1182.8L303.2 1177.9L303.8 1179.2L304.1 1178.8ZM323.2 1179.7L322.0 1180.9L323.7 1181.6L317.0 1184.9L320.2 1178.1L321.0 1179.9L322.1 1178.7ZM341.3 1179.7L337.8 1183.2L339.5 1184.0L332.8 1187.2L336.1 1180.5L336.8 1182.2L340.3 1178.7ZM359.5 1179.7L353.9 1185.3L355.7 1186.0L348.9 1189.3L352.2 1182.5L352.9 1184.3L358.5 1178.7ZM377.7 1179.7L370.9 1186.5L372.7 1187.2L365.9 1190.5L369.2 1183.7L369.9 1185.4L376.7 1178.7ZM395.8 1179.7L389.2 1186.4L390.9 1187.1L384.2 1190.4L387.4 1183.6L388.2 1185.3L394.8 1178.7ZM414.0 1179.7L408.7 1185.0L410.4 1185.8L403.6 1189.0L406.9 1182.3L407.6 1184.0L413.0 1178.7ZM432.2 1179.7L429.0 1182.9L430.7 1183.6L423.9 1186.9L427.2 1180.1L427.9 1181.9L431.2 1178.7ZM450.4 1179.7L449.5 1180.6L451.2 1181.3L444.5 1184.6L447.7 1177.8L448.5 1179.5L449.3 1178.7ZM468.4 1179.5L468.0 1179.9L469.2 1180.3L464.7 1182.5L466.9 1178.0L467.3 1179.2L467.7 1178.8ZM486.4 1179.4L486.2 1179.6L486.8 1179.8L484.3 1181.0L485.5 1178.5L485.8 1179.2L486.0 1179.0ZM286.5 1197.5L286.3 1197.6L286.8 1197.8L284.9 1198.7L285.8 1196.8L286.0 1197.3L286.2 1197.2ZM304.7 1197.6L304.5 1197.8L305.4 1198.2L302.0 1199.9L303.6 1196.4L304.0 1197.3L304.2 1197.1ZM323.1 1197.7L322.7 1198.1L324.1 1198.7L318.6 1201.3L321.3 1195.9L321.8 1197.3L322.2 1196.9ZM341.3 1197.8L340.2 1199.0L341.9 1199.7L335.1 1203.0L338.4 1196.2L339.1 1198.0L340.3 1196.8ZM359.5 1197.8L356.9 1200.5L358.6 1201.2L351.9 1204.4L355.1 1197.7L355.9 1199.4L358.5 1196.8ZM377.7 1197.8L374.2 1201.3L376.0 1202.0L369.2 1205.3L372.5 1198.5L373.2 1200.2L376.7 1196.8ZM395.8 1197.8L392.5 1201.2L394.2 1201.9L387.4 1205.2L390.7 1198.4L391.4 1200.2L394.8 1196.8ZM414.0 1197.8L411.6 1200.3L413.3 1201.0L406.5 1204.3L409.8 1197.5L410.5 1199.3L413.0 1196.8ZM432.2 1197.8L431.2 1198.8L433.0 1199.5L426.2 1202.8L429.5 1196.0L430.2 1197.8L431.2 1196.8ZM450.2 1197.7L449.8 1198.1L451.2 1198.6L446.0 1201.1L448.5 1196.0L449.1 1197.3L449.5 1196.9ZM468.3 1197.6L468.0 1197.8L468.8 1198.1L465.7 1199.7L467.2 1196.5L467.5 1197.3L467.8 1197.1ZM486.3 1197.5L486.2 1197.6L486.6 1197.8L484.9 1198.6L485.7 1196.9L485.9 1197.3L486.1 1197.2ZM304.6 1215.6L304.5 1215.8L305.0 1216.0L302.9 1217.0L303.9 1214.9L304.2 1215.5L304.3 1215.3ZM322.9 1215.7L322.7 1216.0L323.5 1216.3L320.1 1218.0L321.8 1214.6L322.1 1215.5L322.4 1215.2ZM341.2 1215.8L340.8 1216.2L342.1 1216.7L337.3 1219.0L339.6 1214.2L340.1 1215.5L340.5 1215.1ZM359.5 1215.9L359.0 1216.4L360.5 1217.0L354.5 1219.9L357.4 1213.9L358.1 1215.5L358.5 1215.0ZM377.7 1216.0L377.2 1216.5L378.9 1217.2L372.2 1220.4L375.4 1213.7L376.1 1215.5L376.7 1214.9ZM395.8 1216.0L395.3 1216.5L397.1 1217.2L390.4 1220.4L393.6 1213.7L394.3 1215.5L394.8 1215.0ZM413.9 1215.9L413.5 1216.3L415.0 1217.0L409.1 1219.8L412.0 1213.9L412.6 1215.5L413.1 1215.0ZM432.0 1215.8L431.7 1216.2L432.9 1216.6L428.3 1218.9L430.5 1214.3L431.0 1215.5L431.3 1215.1ZM450.1 1215.7L449.8 1215.9L450.7 1216.3L447.5 1217.8L449.0 1214.6L449.4 1215.5L449.6 1215.2ZM468.2 1215.6L468.0 1215.8L468.5 1216.0L466.5 1216.9L467.5 1214.9L467.7 1215.5L467.9 1215.3ZM322.8 1233.7L322.7 1233.9L323.1 1234.1L321.2 1235.0L322.2 1233.1L322.4 1233.6L322.5 1233.4ZM341.0 1233.8L340.8 1234.0L341.5 1234.3L338.8 1235.6L340.1 1232.9L340.4 1233.6L340.6 1233.4ZM359.3 1233.8L359.0 1234.1L359.9 1234.5L356.5 1236.1L358.1 1232.7L358.5 1233.6L358.7 1233.3ZM377.4 1233.9L377.2 1234.2L378.1 1234.6L374.4 1236.4L376.2 1232.6L376.6 1233.6L376.9 1233.3ZM395.6 1233.9L395.3 1234.2L396.3 1234.5L392.6 1236.4L394.4 1232.6L394.8 1233.6L395.1 1233.3ZM413.8 1233.8L413.5 1234.1L414.3 1234.4L411.1 1236.0L412.7 1232.7L413.0 1233.6L413.3 1233.3ZM431.9 1233.8L431.7 1234.0L432.3 1234.3L429.8 1235.5L431.0 1232.9L431.3 1233.6L431.5 1233.4ZM450.0 1233.7L449.8 1233.9L450.3 1234.1L448.5 1234.9L449.4 1233.1L449.6 1233.6L449.7 1233.5ZM359.1 1251.9L359.0 1252.0L359.4 1252.2L357.8 1253.0L358.6 1251.3L358.7 1251.7L358.9 1251.6ZM377.3 1251.9L377.2 1252.0L377.6 1252.2L375.8 1253.1L376.7 1251.2L376.9 1251.7L377.0 1251.6ZM395.5 1251.9L395.3 1252.0L395.8 1252.2L394.0 1253.1L394.9 1251.3L395.1 1251.7L395.2 1251.6ZM413.6 1251.8L413.5 1252.0L413.9 1252.1L412.3 1252.9L413.1 1251.3L413.3 1251.7L413.4 1251.6Z" fill="#111"/>
<path d="M828.0 927.7h418.4M828.0 946.0h418.4M828.0 964.4h418.4M828.0 982.7h418.4M828.0 1001.0h418.4M828.0 1019.4h418.4M828.0 1037.7h418.4M828.0 1056.0h418.4M828.0 1074.4h418.4M828.0 1092.7h418.4M828.0 1111.0h418.4M828.0 1129.4h418.4M828.0 1147.7h418.4M828.0 1166.1h418.4M828.0 1184.4h418.4M828.0 1202.7h418.4M828.0 1221.1h418.4M828.0 1239.4h418.4M828.0 1257.7h418.4M828.0 1276.1h418.4M828.0 1294.4h418.4M828.0 1312.7h418.4M828.0 1331.1h418.4M828.0 1349.4h418.4" stroke="#303030" stroke-width="1.7" stroke-linecap="round" stroke-dasharray="0 18.170" fill="none"/><path d="M1009.8 1056.2L1009.7 1056.3L1010.1 1056.5L1008.4 1057.3L1009.3 1055.6L1009.4 1056.0L1009.6 1055.9ZM1028.0 1056.2L1027.9 1056.3L1028.4 1056.5L1026.5 1057.4L1027.4 1055.6L1027.6 1056.0L1027.7 1055.9ZM1046.2 1056.2L1046.0 1056.3L1046.5 1056.5L1044.6 1057.4L1045.6 1055.6L1045.8 1056.0L1045.9 1055.9ZM1064.3 1056.2L1064.2 1056.3L1064.6 1056.5L1063.0 1057.3L1063.8 1055.6L1064.0 1056.0L1064.1 1055.9ZM973.5 1074.5L973.4 1074.6L973.8 1074.8L972.2 1075.5L973.0 1074.0L973.1 1074.4L973.2 1074.3ZM991.7 1074.5L991.5 1074.7L992.1 1074.9L989.9 1076.0L991.0 1073.8L991.2 1074.4L991.4 1074.2ZM1009.9 1074.6L1009.7 1074.8L1010.4 1075.1L1007.7 1076.4L1009.0 1073.7L1009.3 1074.4L1009.5 1074.2ZM1028.1 1074.6L1027.9 1074.8L1028.7 1075.2L1025.6 1076.6L1027.1 1073.6L1027.4 1074.4L1027.6 1074.1ZM1046.3 1074.6L1046.0 1074.8L1046.8 1075.2L1043.8 1076.6L1045.3 1073.6L1045.6 1074.4L1045.8 1074.1ZM1064.4 1074.6L1064.2 1074.8L1064.9 1075.1L1062.2 1076.4L1063.5 1073.7L1063.8 1074.4L1064.0 1074.2ZM1082.5 1074.5L1082.4 1074.7L1082.9 1074.9L1080.8 1075.9L1081.8 1073.8L1082.1 1074.4L1082.2 1074.2ZM1100.7 1074.5L1100.5 1074.6L1100.9 1074.8L1099.5 1075.5L1100.2 1074.0L1100.3 1074.4L1100.4 1074.3ZM955.3 1092.8L955.2 1092.9L955.5 1093.1L954.2 1093.7L954.8 1092.4L955.0 1092.7L955.1 1092.6ZM973.5 1092.9L973.4 1093.0L973.9 1093.3L971.7 1094.4L972.8 1092.1L973.0 1092.7L973.2 1092.5ZM991.8 1092.9L991.5 1093.2L992.3 1093.5L989.2 1095.0L990.7 1091.9L991.1 1092.7L991.3 1092.5ZM1010.0 1093.0L1009.7 1093.3L1010.7 1093.7L1006.8 1095.6L1008.7 1091.7L1009.1 1092.7L1009.4 1092.4ZM1028.2 1093.0L1027.9 1093.4L1029.0 1093.8L1024.6 1096.0L1026.7 1091.6L1027.2 1092.7L1027.5 1092.4ZM1046.4 1093.0L1046.0 1093.4L1047.2 1093.8L1042.8 1095.9L1044.9 1091.6L1045.4 1092.7L1045.7 1092.4ZM1064.5 1093.0L1064.2 1093.3L1065.2 1093.7L1061.4 1095.6L1063.2 1091.7L1063.6 1092.7L1063.9 1092.4ZM1082.6 1092.9L1082.4 1093.2L1083.1 1093.5L1080.1 1094.9L1081.6 1091.9L1081.9 1092.7L1082.1 1092.5ZM1100.7 1092.9L1100.5 1093.0L1101.1 1093.3L1099.0 1094.3L1100.0 1092.2L1100.2 1092.7L1100.4 1092.6ZM955.3 1111.2L955.2 1111.3L955.6 1111.5L953.9 1112.4L954.7 1110.6L954.9 1111.0L955.1 1110.9ZM973.6 1111.3L973.4 1111.5L974.1 1111.8L971.3 1113.1L972.6 1110.3L972.9 1111.0L973.1 1110.8ZM991.8 1111.3L991.5 1111.6L992.5 1112.1L988.6 1114.0L990.5 1110.0L990.9 1111.0L991.2 1110.7ZM1010.1 1111.4L1009.7 1111.8L1011.0 1112.3L1006.0 1114.7L1008.4 1109.8L1008.9 1111.0L1009.3 1110.7ZM1028.3 1111.5L1027.9 1111.9L1029.3 1112.5L1023.7 1115.2L1026.4 1109.6L1027.0 1111.0L1027.4 1110.6ZM1046.5 1111.5L1046.0 1111.9L1047.5 1112.5L1041.9 1115.1L1044.6 1109.6L1045.2 1111.0L1045.6 1110.6ZM1064.6 1111.4L1064.2 1111.8L1065.5 1112.3L1060.6 1114.7L1063.0 1109.8L1063.5 1111.0L1063.8 1110.7ZM1082.7 1111.3L1082.4 1111.6L1083.4 1112.0L1079.5 1113.9L1081.4 1110.1L1081.8 1111.0L1082.1 1110.8ZM1100.7 1111.2L1100.5 1111.5L1101.2 1111.7L1098.6 1113.0L1099.9 1110.4L1100.1 1111.0L1100.3 1110.8ZM1118.8 1111.2L1118.7 1111.3L1119.1 1111.5L1117.5 1112.3L1118.3 1110.6L1118.5 1111.0L1118.6 1110.9ZM955.3 1129.5L955.2 1129.7L955.7 1129.9L953.7 1130.9L954.7 1128.9L954.9 1129.4L955.0 1129.2ZM973.6 1129.6L973.4 1129.9L974.2 1130.2L971.0 1131.7L972.5 1128.6L972.9 1129.4L973.1 1129.1ZM991.9 1129.7L991.5 1130.1L992.7 1130.5L988.2 1132.7L990.4 1128.2L990.8 1129.4L991.2 1129.0ZM1010.1 1129.8L1009.7 1130.2L1011.1 1130.8L1005.5 1133.6L1008.2 1127.9L1008.8 1129.4L1009.3 1129.0ZM1028.3 1129.9L1027.9 1130.3L1029.5 1131.0L1023.2 1134.1L1026.2 1127.8L1026.9 1129.4L1027.4 1128.9ZM1046.5 1129.9L1046.0 1130.3L1047.6 1131.0L1041.4 1134.0L1044.4 1127.8L1045.1 1129.4L1045.6 1128.9ZM1064.6 1129.8L1064.2 1130.2L1065.6 1130.8L1060.1 1133.5L1062.8 1128.0L1063.4 1129.4L1063.8 1129.0ZM1082.7 1129.7L1082.4 1130.0L1083.5 1130.5L1079.2 1132.6L1081.3 1128.3L1081.7 1129.4L1082.0 1129.1ZM1100.8 1129.6L1100.5 1129.8L1101.3 1130.2L1098.3 1131.6L1099.8 1128.6L1100.1 1129.4L1100.3 1129.2ZM1118.9 1129.5L1118.7 1129.7L1119.2 1129.9L1117.3 1130.8L1118.2 1128.9L1118.4 1129.4L1118.6 1129.2ZM955.3 1147.9L955.2 1148.0L955.7 1148.2L953.7 1149.2L954.7 1147.2L954.9 1147.7L955.0 1147.6ZM973.6 1148.0L973.4 1148.2L974.2 1148.5L971.0 1150.1L972.5 1146.9L972.9 1147.7L973.1 1147.5ZM991.9 1148.1L991.5 1148.4L992.7 1148.9L988.2 1151.1L990.4 1146.6L990.8 1147.7L991.2 1147.4ZM1010.1 1148.1L1009.7 1148.6L1011.2 1149.2L1005.5 1151.9L1008.2 1146.3L1008.8 1147.7L1009.3 1147.3ZM1028.3 1148.2L1027.9 1148.7L1029.5 1149.3L1023.2 1152.4L1026.2 1146.1L1026.9 1147.7L1027.4 1147.2ZM1046.5 1148.2L1046.0 1148.7L1047.7 1149.3L1041.4 1152.4L1044.4 1146.1L1045.1 1147.7L1045.6 1147.2ZM1064.6 1148.1L1064.2 1148.6L1065.6 1149.1L1060.1 1151.8L1062.8 1146.3L1063.4 1147.7L1063.8 1147.3ZM1082.7 1148.0L1082.4 1148.4L1083.5 1148.8L1079.1 1150.9L1081.3 1146.6L1081.7 1147.7L1082.0 1147.4ZM1100.8 1147.9L1100.5 1148.2L1101.3 1148.5L1098.3 1150.0L1099.8 1146.9L1100.1 1147.7L1100.3 1147.5ZM1118.9 1147.9L1118.7 1148.0L1119.2 1148.2L1117.3 1149.1L1118.2 1147.2L1118.4 1147.7L1118.6 1147.6ZM955.3 1166.2L955.2 1166.3L955.7 1166.5L953.9 1167.4L954.7 1165.6L954.9 1166.1L955.1 1165.9ZM973.6 1166.3L973.4 1166.5L974.1 1166.8L971.2 1168.2L972.6 1165.3L972.9 1166.1L973.1 1165.8ZM991.8 1166.4L991.5 1166.7L992.6 1167.1L988.5 1169.0L990.5 1165.0L990.9 1166.1L991.2 1165.7ZM1010.1 1166.4L1009.7 1166.8L1011.0 1167.4L1005.9 1169.8L1008.4 1164.7L1008.9 1166.1L1009.3 1165.7ZM1028.3 1166.5L1027.9 1166.9L1029.3 1167.5L1023.7 1170.3L1026.4 1164.6L1027.0 1166.1L1027.4 1165.6ZM1046.5 1166.5L1046.0 1166.9L1047.5 1167.5L1041.9 1170.2L1044.6 1164.6L1045.2 1166.1L1045.6 1165.6ZM1064.6 1166.4L1064.2 1166.8L1065.5 1167.3L1060.5 1169.7L1062.9 1164.8L1063.5 1166.1L1063.8 1165.7ZM1082.7 1166.3L1082.4 1166.6L1083.4 1167.1L1079.5 1168.9L1081.4 1165.1L1081.8 1166.1L1082.1 1165.8ZM1100.7 1166.3L1100.5 1166.5L1101.2 1166.7L1098.5 1168.1L1099.8 1165.4L1100.1 1166.1L1100.3 1165.8ZM1118.8 1166.2L1118.7 1166.3L1119.1 1166.5L1117.5 1167.3L1118.3 1165.6L1118.5 1166.1L1118.6 1165.9ZM955.3 1184.5L955.2 1184.6L955.6 1184.8L954.1 1185.4L954.8 1184.0L955.0 1184.4L955.1 1184.3ZM973.5 1184.6L973.4 1184.7L973.9 1185.0L971.7 1186.1L972.8 1183.8L973.0 1184.4L973.2 1184.2ZM991.8 1184.6L991.5 1184.9L992.4 1185.2L989.1 1186.8L990.7 1183.6L991.0 1184.4L991.3 1184.1ZM1010.0 1184.7L1009.7 1185.0L1010.7 1185.4L1006.7 1187.4L1008.7 1183.3L1009.1 1184.4L1009.4 1184.1ZM1028.2 1184.7L1027.9 1185.1L1029.0 1185.5L1024.5 1187.7L1026.7 1183.2L1027.2 1184.4L1027.5 1184.0ZM1046.4 1184.7L1046.0 1185.1L1047.2 1185.5L1042.7 1187.7L1044.9 1183.2L1045.4 1184.4L1045.7 1184.0ZM1064.5 1184.7L1064.2 1185.0L1065.2 1185.4L1061.3 1187.3L1063.2 1183.4L1063.6 1184.4L1063.9 1184.1ZM1082.6 1184.6L1082.4 1184.9L1083.2 1185.2L1080.1 1186.7L1081.6 1183.6L1081.9 1184.4L1082.1 1184.2ZM1100.7 1184.5L1100.5 1184.7L1101.1 1184.9L1098.9 1186.0L1100.0 1183.8L1100.2 1184.4L1100.4 1184.2ZM973.5 1202.8L973.4 1203.0L973.8 1203.1L972.2 1203.9L972.9 1202.3L973.1 1202.7L973.2 1202.6ZM991.7 1202.9L991.5 1203.1L992.1 1203.3L989.8 1204.4L990.9 1202.1L991.2 1202.7L991.4 1202.6ZM1009.9 1202.9L1009.7 1203.2L1010.4 1203.5L1007.6 1204.8L1009.0 1202.0L1009.3 1202.7L1009.5 1202.5ZM1028.1 1203.0L1027.9 1203.2L1028.7 1203.5L1025.5 1205.1L1027.0 1201.9L1027.4 1202.7L1027.6 1202.5ZM1046.3 1203.0L1046.0 1203.2L1046.8 1203.5L1043.7 1205.1L1045.2 1201.9L1045.6 1202.7L1045.8 1202.5ZM1064.4 1202.9L1064.2 1203.1L1064.9 1203.4L1062.1 1204.8L1063.5 1202.0L1063.8 1202.7L1064.0 1202.5ZM1082.5 1202.9L1082.4 1203.1L1082.9 1203.3L1080.8 1204.3L1081.8 1202.2L1082.0 1202.7L1082.2 1202.6ZM1100.7 1202.8L1100.5 1203.0L1100.9 1203.1L1099.4 1203.8L1100.2 1202.3L1100.3 1202.7L1100.4 1202.6ZM991.6 1221.2L991.5 1221.3L991.9 1221.4L990.5 1222.1L991.2 1220.7L991.3 1221.1L991.4 1220.9ZM1009.8 1221.2L1009.7 1221.3L1010.2 1221.5L1008.4 1222.4L1009.2 1220.6L1009.4 1221.1L1009.6 1220.9ZM1028.0 1221.2L1027.9 1221.4L1028.4 1221.6L1026.4 1222.5L1027.4 1220.5L1027.6 1221.1L1027.7 1220.9ZM1046.2 1221.2L1046.0 1221.4L1046.5 1221.6L1044.6 1222.5L1045.5 1220.5L1045.7 1221.1L1045.9 1220.9ZM1064.3 1221.2L1064.2 1221.3L1064.7 1221.5L1062.9 1222.4L1063.8 1220.6L1063.9 1221.1L1064.1 1220.9Z" fill="#111"/>
<path d="M1475.1 925.7h418.6M1475.1 943.9h418.6M1475.1 962.2h418.6M1475.1 980.4h418.6M1475.1 998.7h418.6M1475.1 1016.9h418.6M1475.1 1035.2h418.6M1475.1 1053.4h418.6M1475.1 1071.6h418.6M1475.1 1089.9h418.6M1475.1 1108.1h418.6M1475.1 1126.4h418.6M1475.1 1144.6h418.6M1475.1 1162.9h418.6M1475.1 1181.1h418.6M1475.1 1199.4h418.6M1475.1 1217.6h418.6M1475.1 1235.8h418.6M1475.1 1254.1h418.6M1475.1 1272.3h418.6M1475.1 1290.6h418.6M1475.1 1308.8h418.6M1475.1 1327.1h418.6M1475.1 1345.3h418.6" stroke="#303030" stroke-width="1.7" stroke-linecap="round" stroke-dasharray="0 18.178" fill="none"/><path d="M1656.8 1016.8L1656.9 1016.7L1656.5 1016.5L1658.0 1015.8L1657.3 1017.3L1657.1 1016.9L1657.0 1017.0ZM1674.9 1016.8L1675.1 1016.7L1674.6 1016.5L1676.4 1015.6L1675.5 1017.4L1675.3 1016.9L1675.2 1017.0ZM1693.1 1016.8L1693.2 1016.7L1692.8 1016.5L1694.5 1015.6L1693.7 1017.4L1693.5 1016.9L1693.4 1017.0ZM1711.3 1016.8L1711.4 1016.7L1711.0 1016.5L1712.6 1015.8L1711.8 1017.3L1711.6 1016.9L1711.5 1017.0ZM1620.4 1035.0L1620.5 1034.9L1620.1 1034.7L1621.9 1033.8L1621.0 1035.6L1620.8 1035.2L1620.7 1035.3ZM1638.5 1035.0L1638.7 1034.8L1638.0 1034.5L1640.6 1033.3L1639.4 1035.8L1639.1 1035.2L1638.9 1035.4ZM1656.6 1034.9L1656.9 1034.7L1656.1 1034.3L1659.3 1032.8L1657.7 1036.0L1657.4 1035.2L1657.1 1035.4ZM1674.8 1034.9L1675.1 1034.6L1674.1 1034.2L1677.7 1032.5L1676.0 1036.1L1675.6 1035.2L1675.3 1035.4ZM1693.0 1034.9L1693.2 1034.6L1692.3 1034.3L1695.9 1032.5L1694.1 1036.1L1693.8 1035.2L1693.5 1035.4ZM1711.2 1034.9L1711.4 1034.7L1710.6 1034.4L1713.7 1032.8L1712.2 1036.0L1711.9 1035.2L1711.7 1035.4ZM1729.4 1035.0L1729.6 1034.8L1729.0 1034.5L1731.4 1033.3L1730.2 1035.8L1730.0 1035.2L1729.8 1035.3ZM1747.6 1035.0L1747.8 1034.9L1747.3 1034.7L1749.0 1033.9L1748.2 1035.6L1748.0 1035.2L1747.9 1035.3ZM1602.2 1053.2L1602.3 1053.1L1601.8 1052.9L1603.9 1051.9L1602.9 1053.9L1602.7 1053.4L1602.5 1053.6ZM1620.3 1053.2L1620.5 1052.9L1619.7 1052.6L1622.9 1051.0L1621.4 1054.2L1621.0 1053.4L1620.8 1053.7ZM1638.4 1053.1L1638.7 1052.7L1637.5 1052.2L1642.1 1050.0L1639.9 1054.6L1639.4 1053.4L1639.1 1053.8ZM1656.4 1053.0L1656.9 1052.5L1655.4 1051.9L1661.2 1049.1L1658.4 1054.9L1657.8 1053.4L1657.3 1053.8ZM1674.6 1052.9L1675.1 1052.4L1673.4 1051.7L1679.9 1048.6L1676.7 1055.1L1676.0 1053.4L1675.5 1053.9ZM1692.8 1052.9L1693.2 1052.4L1691.6 1051.8L1698.0 1048.6L1694.9 1055.1L1694.2 1053.4L1693.7 1053.9ZM1711.0 1053.0L1711.4 1052.5L1710.0 1051.9L1715.6 1049.2L1712.9 1054.9L1712.3 1053.4L1711.8 1053.8ZM1729.3 1053.1L1729.6 1052.7L1728.5 1052.3L1732.9 1050.1L1730.7 1054.5L1730.3 1053.4L1729.9 1053.7ZM1747.5 1053.2L1747.8 1052.9L1747.0 1052.6L1750.1 1051.1L1748.6 1054.2L1748.2 1053.4L1748.0 1053.6ZM1765.8 1053.3L1766.0 1053.1L1765.5 1052.9L1767.4 1052.0L1766.4 1053.9L1766.2 1053.4L1766.1 1053.5ZM1584.0 1071.5L1584.2 1071.4L1583.7 1071.2L1585.5 1070.3L1584.6 1072.1L1584.5 1071.6L1584.3 1071.8ZM1602.1 1071.4L1602.3 1071.1L1601.5 1070.8L1604.8 1069.2L1603.2 1072.5L1602.8 1071.6L1602.6 1071.9ZM1620.1 1071.2L1620.5 1070.9L1619.2 1070.3L1624.4 1067.7L1621.9 1073.0L1621.3 1071.6L1620.9 1072.0ZM1638.2 1071.1L1639.2 1070.1L1637.4 1069.4L1644.2 1066.1L1640.9 1072.9L1640.2 1071.2L1639.2 1072.2ZM1656.4 1071.1L1658.8 1068.7L1657.0 1068.0L1663.8 1064.7L1660.5 1071.5L1659.8 1069.8L1657.4 1072.2ZM1674.5 1071.1L1677.8 1067.9L1676.0 1067.2L1682.8 1063.9L1679.5 1070.7L1678.8 1068.9L1675.6 1072.2ZM1692.7 1071.1L1695.9 1068.0L1694.1 1067.3L1700.9 1064.0L1697.6 1070.8L1696.9 1069.0L1693.8 1072.2ZM1710.9 1071.1L1713.2 1068.9L1711.4 1068.2L1718.2 1064.9L1714.9 1071.7L1714.2 1069.9L1711.9 1072.2ZM1729.1 1071.1L1729.9 1070.3L1728.1 1069.6L1734.9 1066.3L1731.6 1073.1L1730.9 1071.4L1730.1 1072.2ZM1747.4 1071.3L1747.8 1070.9L1746.5 1070.4L1751.5 1068.0L1749.1 1072.9L1748.5 1071.6L1748.2 1072.0ZM1765.7 1071.4L1766.0 1071.2L1765.2 1070.9L1768.2 1069.4L1766.7 1072.4L1766.4 1071.6L1766.2 1071.9ZM1784.0 1071.5L1784.1 1071.4L1783.7 1071.2L1785.4 1070.4L1784.6 1072.1L1784.4 1071.6L1784.3 1071.8ZM1584.0 1089.7L1584.2 1089.5L1583.5 1089.2L1586.1 1087.9L1584.9 1090.6L1584.6 1089.9L1584.4 1090.1ZM1602.0 1089.5L1602.3 1089.2L1601.1 1088.7L1605.9 1086.4L1603.6 1091.1L1603.1 1089.9L1602.7 1090.3ZM1620.0 1089.4L1621.1 1088.3L1619.4 1087.6L1626.1 1084.3L1622.8 1091.1L1622.1 1089.3L1621.0 1090.4ZM1638.2 1089.4L1641.6 1086.0L1639.8 1085.3L1646.6 1082.0L1643.3 1088.8L1642.6 1087.0L1639.2 1090.4ZM1656.4 1089.4L1661.8 1084.0L1660.0 1083.3L1666.8 1080.0L1663.5 1086.7L1662.8 1085.0L1657.4 1090.4ZM1674.5 1089.4L1681.1 1082.8L1679.4 1082.1L1686.1 1078.8L1682.8 1085.6L1682.1 1083.9L1675.6 1090.4ZM1692.7 1089.4L1699.2 1082.9L1697.4 1082.2L1704.2 1078.9L1700.9 1085.7L1700.2 1083.9L1693.8 1090.4ZM1710.9 1089.4L1716.1 1084.2L1714.3 1083.5L1721.1 1080.2L1717.8 1087.0L1717.1 1085.2L1711.9 1090.4ZM1729.1 1089.4L1732.2 1086.3L1730.4 1085.6L1737.2 1082.3L1733.9 1089.1L1733.2 1087.3L1730.1 1090.4ZM1747.3 1089.4L1748.0 1088.6L1746.3 1087.9L1753.1 1084.6L1749.8 1091.4L1749.1 1089.6L1748.3 1090.4ZM1765.6 1089.6L1766.0 1089.2L1764.8 1088.8L1769.2 1086.6L1767.1 1091.0L1766.6 1089.9L1766.3 1090.2ZM1783.9 1089.7L1784.1 1089.5L1783.5 1089.3L1785.9 1088.1L1784.8 1090.5L1784.5 1089.9L1784.3 1090.1ZM1565.9 1108.0L1566.0 1107.9L1565.6 1107.7L1567.2 1106.9L1566.4 1108.6L1566.2 1108.1L1566.1 1108.3ZM1583.9 1107.9L1584.2 1107.6L1583.3 1107.3L1586.7 1105.6L1585.0 1109.0L1584.7 1108.1L1584.4 1108.4ZM1601.9 1107.7L1602.3 1107.2L1600.8 1106.6L1606.8 1103.7L1603.9 1109.7L1603.3 1108.1L1602.8 1108.6ZM1620.0 1107.6L1622.6 1105.0L1620.9 1104.3L1627.6 1101.0L1624.4 1107.8L1623.6 1106.0L1621.0 1108.6ZM1638.2 1107.6L1643.7 1102.1L1642.0 1101.4L1648.8 1098.1L1645.5 1104.8L1644.8 1103.1L1639.2 1108.6ZM1656.4 1107.6L1664.5 1099.5L1662.7 1098.8L1669.5 1095.5L1666.2 1102.3L1665.5 1100.5L1657.4 1108.6ZM1674.5 1107.6L1684.1 1098.0L1682.4 1097.3L1689.1 1094.1L1685.9 1100.8L1685.1 1099.1L1675.6 1108.6ZM1692.7 1107.6L1702.2 1098.2L1700.4 1097.4L1707.2 1094.2L1703.9 1100.9L1703.2 1099.2L1693.8 1108.6ZM1710.9 1107.6L1718.7 1099.8L1717.0 1099.1L1723.7 1095.8L1720.5 1102.6L1719.7 1100.8L1711.9 1108.6ZM1729.1 1107.6L1734.2 1102.5L1732.5 1101.7L1739.3 1098.5L1736.0 1105.2L1735.3 1103.5L1730.1 1108.6ZM1747.3 1107.6L1749.5 1105.4L1747.8 1104.7L1754.5 1101.4L1751.2 1108.2L1750.5 1106.4L1748.3 1108.6ZM1765.5 1107.7L1766.0 1107.3L1764.5 1106.7L1770.1 1104.0L1767.4 1109.6L1766.8 1108.1L1766.4 1108.6ZM1783.9 1107.9L1784.1 1107.7L1783.3 1107.3L1786.4 1105.8L1784.9 1108.9L1784.6 1108.1L1784.4 1108.4ZM1802.2 1108.0L1802.3 1107.9L1801.9 1107.7L1803.4 1107.0L1802.7 1108.5L1802.5 1108.1L1802.4 1108.3ZM1565.8 1126.2L1566.0 1126.1L1565.5 1125.9L1567.4 1125.0L1566.5 1126.9L1566.3 1126.4L1566.1 1126.5ZM1583.9 1126.1L1584.2 1125.8L1583.2 1125.4L1587.0 1123.5L1585.2 1127.4L1584.7 1126.4L1584.5 1126.7ZM1601.8 1125.9L1602.4 1125.3L1600.7 1124.6L1607.4 1121.3L1604.1 1128.1L1603.4 1126.3L1602.9 1126.9ZM1620.0 1125.9L1623.6 1122.3L1621.8 1121.6L1628.6 1118.3L1625.3 1125.1L1624.6 1123.3L1621.0 1126.9ZM1638.2 1125.9L1645.1 1119.0L1643.3 1118.3L1650.1 1115.0L1646.8 1121.8L1646.1 1120.0L1639.2 1126.9ZM1656.4 1125.9L1666.1 1116.1L1664.4 1115.4L1671.2 1112.1L1667.9 1118.9L1667.2 1117.1L1657.4 1126.9ZM1674.5 1125.9L1686.0 1114.4L1684.2 1113.7L1691.0 1110.4L1687.7 1117.2L1687.0 1115.5L1675.6 1126.9ZM1692.7 1125.9L1704.0 1114.6L1702.3 1113.8L1709.1 1110.6L1705.8 1117.3L1705.1 1115.6L1693.8 1126.9ZM1710.9 1125.9L1720.3 1116.4L1718.6 1115.7L1725.4 1112.4L1722.1 1119.2L1721.4 1117.5L1711.9 1126.9ZM1729.1 1125.9L1735.5 1119.4L1733.8 1118.7L1740.5 1115.4L1737.3 1122.2L1736.5 1120.5L1730.1 1126.9ZM1747.3 1125.9L1750.4 1122.7L1748.6 1122.0L1755.4 1118.7L1752.1 1125.5L1751.4 1123.8L1748.3 1126.9ZM1765.5 1125.9L1766.0 1125.4L1764.3 1124.7L1770.7 1121.6L1767.6 1128.0L1766.9 1126.4L1766.4 1126.9ZM1783.9 1126.1L1784.1 1125.8L1783.2 1125.5L1786.7 1123.8L1785.0 1127.3L1784.7 1126.4L1784.4 1126.6ZM1802.2 1126.2L1802.3 1126.1L1801.9 1125.9L1803.6 1125.1L1802.8 1126.8L1802.6 1126.4L1802.4 1126.5ZM1565.8 1144.5L1566.0 1144.3L1565.5 1144.1L1567.4 1143.2L1566.5 1145.1L1566.3 1144.6L1566.1 1144.8ZM1583.9 1144.3L1584.2 1144.0L1583.2 1143.6L1587.0 1141.8L1585.2 1145.6L1584.8 1144.6L1584.5 1144.9ZM1601.8 1144.1L1602.4 1143.5L1600.7 1142.8L1607.5 1139.5L1604.2 1146.3L1603.5 1144.5L1602.9 1145.1ZM1620.0 1144.1L1623.6 1140.5L1621.9 1139.8L1628.6 1136.5L1625.3 1143.3L1624.6 1141.5L1621.0 1145.1ZM1638.2 1144.1L1645.1 1137.2L1643.4 1136.5L1650.1 1133.2L1646.9 1139.9L1646.1 1138.2L1639.2 1145.1ZM1656.4 1144.1L1666.2 1134.3L1664.5 1133.5L1671.2 1130.3L1668.0 1137.0L1667.2 1135.3L1657.4 1145.1ZM1674.5 1144.1L1686.1 1132.6L1684.3 1131.9L1691.1 1128.6L1687.8 1135.4L1687.1 1133.6L1675.6 1145.1ZM1692.7 1144.1L1704.1 1132.7L1702.4 1132.0L1709.1 1128.7L1705.9 1135.5L1705.1 1133.7L1693.8 1145.1ZM1710.9 1144.1L1720.4 1134.6L1718.7 1133.9L1725.5 1130.6L1722.2 1137.4L1721.5 1135.6L1711.9 1145.1ZM1729.1 1144.1L1735.6 1137.6L1733.8 1136.9L1740.6 1133.6L1737.3 1140.4L1736.6 1138.6L1730.1 1145.1ZM1747.3 1144.1L1750.4 1140.9L1748.7 1140.2L1755.4 1136.9L1752.2 1143.7L1751.5 1142.0L1748.3 1145.1ZM1765.5 1144.1L1766.0 1143.7L1764.3 1143.0L1770.7 1139.9L1767.6 1146.3L1766.9 1144.6L1766.4 1145.1ZM1783.9 1144.4L1784.1 1144.1L1783.2 1143.7L1786.8 1142.0L1785.0 1145.5L1784.7 1144.6L1784.4 1144.9ZM1802.2 1144.5L1802.3 1144.4L1801.9 1144.2L1803.6 1143.3L1802.8 1145.1L1802.6 1144.6L1802.4 1144.8ZM1565.9 1162.7L1566.0 1162.6L1565.6 1162.4L1567.3 1161.6L1566.4 1163.3L1566.3 1162.9L1566.1 1163.0ZM1583.9 1162.6L1584.2 1162.3L1583.3 1162.0L1586.7 1160.3L1585.1 1163.8L1584.7 1162.9L1584.4 1163.1ZM1601.9 1162.4L1602.3 1161.9L1600.8 1161.3L1606.9 1158.3L1603.9 1164.4L1603.3 1162.9L1602.8 1163.3ZM1620.0 1162.4L1622.7 1159.6L1621.0 1158.9L1627.8 1155.6L1624.5 1162.4L1623.8 1160.6L1621.0 1163.4ZM1638.2 1162.4L1643.9 1156.6L1642.2 1155.9L1648.9 1152.6L1645.7 1159.4L1644.9 1157.7L1639.2 1163.4ZM1656.4 1162.4L1664.7 1154.0L1663.0 1153.3L1669.7 1150.0L1666.4 1156.8L1665.7 1155.0L1657.4 1163.4ZM1674.5 1162.4L1684.4 1152.5L1682.6 1151.8L1689.4 1148.5L1686.1 1155.3L1685.4 1153.6L1675.6 1163.4ZM1692.7 1162.4L1702.4 1152.6L1700.7 1151.9L1707.5 1148.6L1704.2 1155.4L1703.5 1153.7L1693.8 1163.4ZM1710.9 1162.4L1718.9 1154.3L1717.2 1153.6L1724.0 1150.3L1720.7 1157.1L1720.0 1155.3L1711.9 1163.4ZM1729.1 1162.4L1734.4 1157.0L1732.7 1156.3L1739.4 1153.0L1736.2 1159.8L1735.4 1158.0L1730.1 1163.4ZM1747.3 1162.4L1749.6 1160.0L1747.9 1159.3L1754.6 1156.0L1751.4 1162.8L1750.6 1161.0L1748.3 1163.4ZM1765.5 1162.4L1766.0 1162.0L1764.5 1161.4L1770.2 1158.6L1767.4 1164.3L1766.8 1162.9L1766.4 1163.3ZM1783.9 1162.6L1784.1 1162.4L1783.3 1162.1L1786.5 1160.5L1784.9 1163.7L1784.6 1162.9L1784.4 1163.1ZM1802.2 1162.7L1802.3 1162.6L1801.9 1162.5L1803.5 1161.7L1802.7 1163.3L1802.5 1162.9L1802.4 1163.0ZM1584.0 1180.9L1584.2 1180.7L1583.5 1180.4L1586.2 1179.1L1584.9 1181.8L1584.6 1181.1L1584.4 1181.3ZM1602.0 1180.7L1602.3 1180.4L1601.1 1179.9L1606.0 1177.5L1603.6 1182.4L1603.1 1181.1L1602.7 1181.5ZM1620.0 1180.6L1621.3 1179.4L1619.5 1178.6L1626.3 1175.4L1623.0 1182.1L1622.3 1180.4L1621.0 1181.6ZM1638.2 1180.6L1641.8 1177.0L1640.1 1176.3L1646.8 1173.0L1643.6 1179.7L1642.8 1178.0L1639.2 1181.6ZM1656.4 1180.6L1662.1 1174.9L1660.3 1174.2L1667.1 1170.9L1663.8 1177.7L1663.1 1175.9L1657.4 1181.6ZM1674.5 1180.6L1681.4 1173.7L1679.7 1173.0L1686.4 1169.7L1683.2 1176.5L1682.5 1174.7L1675.6 1181.6ZM1692.7 1180.6L1699.5 1173.8L1697.8 1173.1L1704.5 1169.8L1701.3 1176.6L1700.5 1174.8L1693.8 1181.6ZM1710.9 1180.6L1716.4 1175.1L1714.6 1174.4L1721.4 1171.1L1718.1 1177.9L1717.4 1176.2L1711.9 1181.6ZM1729.1 1180.6L1732.4 1177.3L1730.6 1176.6L1737.4 1173.3L1734.1 1180.1L1733.4 1178.3L1730.1 1181.6ZM1747.3 1180.6L1748.2 1179.7L1746.5 1178.9L1753.2 1175.7L1749.9 1182.4L1749.2 1180.7L1748.3 1181.6ZM1765.6 1180.8L1766.0 1180.4L1764.8 1179.9L1769.3 1177.7L1767.1 1182.3L1766.6 1181.1L1766.3 1181.5ZM1783.9 1180.9L1784.1 1180.7L1783.5 1180.5L1786.0 1179.2L1784.8 1181.8L1784.5 1181.1L1784.3 1181.3ZM1584.0 1199.2L1584.2 1199.1L1583.7 1198.9L1585.6 1197.9L1584.7 1199.8L1584.5 1199.4L1584.3 1199.5ZM1602.1 1199.1L1602.3 1198.8L1601.5 1198.5L1604.9 1196.8L1603.2 1200.2L1602.9 1199.4L1602.6 1199.6ZM1620.1 1198.9L1620.5 1198.5L1619.1 1197.9L1624.6 1195.3L1621.9 1200.8L1621.4 1199.4L1620.9 1199.8ZM1638.2 1198.8L1639.4 1197.6L1637.7 1196.9L1644.4 1193.6L1641.2 1200.4L1640.4 1198.6L1639.2 1199.9ZM1656.4 1198.8L1659.1 1196.1L1657.3 1195.4L1664.1 1192.1L1660.8 1198.9L1660.1 1197.2L1657.4 1199.9ZM1674.5 1198.8L1678.1 1195.3L1676.3 1194.6L1683.1 1191.3L1679.8 1198.1L1679.1 1196.3L1675.6 1199.9ZM1692.7 1198.8L1696.2 1195.4L1694.5 1194.7L1701.2 1191.4L1697.9 1198.1L1697.2 1196.4L1693.8 1199.9ZM1710.9 1198.8L1713.4 1196.3L1711.7 1195.6L1718.5 1192.3L1715.2 1199.1L1714.5 1197.3L1711.9 1199.9ZM1729.1 1198.8L1730.1 1197.8L1728.4 1197.1L1735.1 1193.8L1731.8 1200.6L1731.1 1198.9L1730.1 1199.9ZM1747.4 1199.0L1747.8 1198.6L1746.4 1198.0L1751.6 1195.5L1749.1 1200.7L1748.6 1199.4L1748.2 1199.7ZM1765.7 1199.1L1766.0 1198.9L1765.1 1198.5L1768.3 1197.0L1766.8 1200.2L1766.4 1199.4L1766.2 1199.6ZM1784.0 1199.2L1784.1 1199.1L1783.7 1198.9L1785.4 1198.0L1784.6 1199.8L1784.4 1199.4L1784.3 1199.5ZM1602.2 1217.4L1602.3 1217.3L1601.8 1217.0L1604.0 1216.0L1602.9 1218.2L1602.7 1217.6L1602.5 1217.8ZM1620.3 1217.3L1620.5 1217.1L1619.6 1216.7L1623.1 1215.0L1621.4 1218.5L1621.0 1217.6L1620.8 1217.9ZM1638.3 1217.2L1638.7 1216.9L1637.5 1216.3L1642.3 1214.0L1640.0 1218.8L1639.4 1217.6L1639.1 1218.0ZM1656.4 1217.1L1656.9 1216.7L1655.3 1216.0L1661.4 1213.1L1658.5 1219.2L1657.8 1217.6L1657.3 1218.1ZM1674.5 1217.1L1675.1 1216.5L1673.3 1215.8L1680.1 1212.5L1676.8 1219.3L1676.1 1217.6L1675.6 1218.1ZM1692.7 1217.1L1693.2 1216.6L1691.5 1215.9L1698.2 1212.6L1695.0 1219.3L1694.3 1217.6L1693.8 1218.1ZM1711.0 1217.1L1711.4 1216.7L1709.9 1216.1L1715.8 1213.2L1713.0 1219.1L1712.3 1217.6L1711.9 1218.0ZM1729.2 1217.2L1729.6 1216.9L1728.4 1216.4L1733.1 1214.1L1730.8 1218.8L1730.3 1217.6L1729.9 1217.9ZM1747.5 1217.3L1747.8 1217.1L1746.9 1216.8L1750.2 1215.2L1748.6 1218.4L1748.3 1217.6L1748.0 1217.8ZM1765.8 1217.4L1766.0 1217.3L1765.4 1217.1L1767.5 1216.1L1766.5 1218.1L1766.3 1217.6L1766.1 1217.7ZM1620.4 1235.7L1620.5 1235.5L1620.0 1235.3L1622.0 1234.4L1621.0 1236.3L1620.8 1235.8L1620.7 1236.0ZM1638.5 1235.6L1638.7 1235.4L1638.0 1235.1L1640.7 1233.8L1639.4 1236.5L1639.1 1235.8L1638.9 1236.0ZM1656.6 1235.6L1656.9 1235.3L1656.0 1235.0L1659.4 1233.3L1657.8 1236.7L1657.4 1235.8L1657.1 1236.1ZM1674.8 1235.6L1675.1 1235.3L1674.1 1234.9L1677.9 1233.0L1676.0 1236.8L1675.6 1235.8L1675.3 1236.1ZM1693.0 1235.6L1693.2 1235.3L1692.3 1234.9L1696.0 1233.0L1694.2 1236.8L1693.8 1235.8L1693.5 1236.1ZM1711.2 1235.6L1711.4 1235.3L1710.6 1235.0L1713.9 1233.4L1712.3 1236.7L1711.9 1235.8L1711.7 1236.1ZM1729.4 1235.6L1729.6 1235.4L1728.9 1235.2L1731.5 1233.9L1730.3 1236.5L1730.0 1235.8L1729.8 1236.0ZM1747.6 1235.7L1747.8 1235.6L1747.3 1235.4L1749.1 1234.5L1748.2 1236.3L1748.0 1235.8L1747.9 1236.0ZM1656.8 1254.0L1656.9 1253.8L1656.4 1253.6L1658.1 1252.8L1657.3 1254.5L1657.1 1254.1L1657.0 1254.2ZM1674.9 1253.9L1675.1 1253.8L1674.6 1253.6L1676.5 1252.7L1675.5 1254.6L1675.3 1254.1L1675.2 1254.2ZM1693.1 1253.9L1693.2 1253.8L1692.8 1253.6L1694.6 1252.7L1693.7 1254.6L1693.5 1254.1L1693.4 1254.2ZM1711.3 1254.0L1711.4 1253.8L1711.0 1253.7L1712.6 1252.9L1711.8 1254.5L1711.7 1254.1L1711.5 1254.2Z" fill="#111"/>
<path d="M180.4 1682.0h421.1M180.4 1700.3h421.1M180.4 1718.6h421.1M180.4 1736.9h421.1M180.4 1755.2h421.1M180.4 1773.5h421.1M180.4 1791.7h421.1M180.4 1810.0h421.1M180.4 1828.3h421.1M180.4 1846.6h421.1M180.4 1864.9h421.1M180.4 1883.2h421.1M180.4 1901.5h421.1M180.4 1919.8h421.1M180.4 1938.1h421.1M180.4 1956.4h421.1M180.4 1974.7h421.1M180.4 1993.0h421.1M180.4 2011.2h421.1M180.4 2029.5h421.1M180.4 2047.8h421.1M180.4 2066.1h421.1M180.4 2084.4h421.1M180.4 2102.7h421.1" stroke="#303030" stroke-width="1.7" stroke-linecap="round" stroke-dasharray="0 18.287" fill="none"/><path d="M363.2 1773.6L363.1 1773.6L363.1 1774.0L361.6 1773.0L363.4 1772.9L363.1 1773.2L363.3 1773.3ZM381.5 1773.6L381.3 1773.6L381.4 1774.1L379.7 1773.0L381.7 1772.8L381.4 1773.2L381.6 1773.3ZM399.8 1773.6L399.6 1773.6L399.7 1774.1L398.0 1773.0L400.0 1772.8L399.7 1773.2L399.9 1773.3ZM418.1 1773.6L417.9 1773.6L418.0 1774.0L416.5 1773.0L418.3 1772.9L418.0 1773.2L418.2 1773.3ZM326.6 1791.9L326.4 1791.9L326.5 1792.4L324.8 1791.2L326.9 1791.1L326.6 1791.5L326.7 1791.6ZM344.9 1792.0L344.6 1791.9L344.7 1792.7L342.3 1791.0L345.2 1790.8L344.8 1791.4L345.1 1791.5ZM363.2 1792.1L362.8 1792.0L363.0 1792.9L359.9 1790.8L363.6 1790.6L363.0 1791.3L363.4 1791.4ZM381.5 1792.1L381.1 1792.0L381.2 1793.0L377.8 1790.7L381.9 1790.4L381.3 1791.3L381.7 1791.4ZM399.7 1792.1L399.4 1792.0L399.5 1793.0L396.1 1790.8L400.2 1790.5L399.6 1791.3L399.9 1791.4ZM418.0 1792.1L417.7 1792.0L417.8 1792.9L414.9 1790.9L418.4 1790.6L417.9 1791.3L418.2 1791.4ZM436.3 1792.0L436.1 1791.9L436.2 1792.6L433.8 1791.1L436.7 1790.9L436.2 1791.4L436.5 1791.5ZM454.7 1791.9L454.5 1791.9L454.5 1792.4L452.9 1791.3L454.9 1791.1L454.6 1791.5L454.8 1791.6ZM308.3 1810.3L308.1 1810.2L308.2 1810.8L306.2 1809.5L308.6 1809.3L308.2 1809.8L308.5 1809.8ZM326.6 1810.4L326.3 1810.3L326.4 1811.2L323.3 1809.1L327.0 1808.8L326.4 1809.6L326.8 1809.7ZM344.8 1810.5L344.4 1810.4L344.5 1811.7L340.1 1808.7L345.4 1808.4L344.6 1809.4L345.1 1809.5ZM363.1 1810.7L362.5 1810.5L362.7 1812.2L357.2 1808.4L363.8 1807.9L362.8 1809.3L363.4 1809.4ZM381.4 1810.7L380.7 1810.5L380.9 1812.4L374.8 1808.2L382.2 1807.7L381.0 1809.2L381.7 1809.3ZM399.7 1810.7L399.0 1810.5L399.2 1812.4L393.1 1808.2L400.5 1807.7L399.3 1809.2L400.0 1809.4ZM418.0 1810.6L417.4 1810.5L417.6 1812.1L412.2 1808.4L418.7 1808.0L417.7 1809.3L418.3 1809.4ZM436.3 1810.5L435.8 1810.4L436.0 1811.7L431.8 1808.8L436.9 1808.4L436.1 1809.4L436.5 1809.6ZM454.6 1810.4L454.3 1810.3L454.4 1811.2L451.5 1809.2L455.0 1808.9L454.5 1809.6L454.8 1809.7ZM472.9 1810.2L472.7 1810.2L472.8 1810.7L471.0 1809.5L473.2 1809.3L472.8 1809.8L473.0 1809.8ZM290.1 1828.5L289.9 1828.5L289.9 1829.0L288.2 1827.8L290.3 1827.7L290.0 1828.1L290.2 1828.1ZM308.3 1828.7L308.0 1828.6L308.1 1829.5L304.9 1827.4L308.7 1827.1L308.1 1827.9L308.5 1828.0ZM326.5 1828.9L326.0 1828.7L326.2 1830.3L321.2 1826.8L327.2 1826.4L326.3 1827.6L326.8 1827.8ZM344.8 1829.0L343.1 1828.6L343.4 1830.5L337.2 1826.2L344.7 1825.7L343.5 1827.2L345.2 1827.6ZM363.1 1829.0L359.4 1828.1L359.7 1829.9L353.5 1825.7L361.0 1825.2L359.8 1826.7L363.5 1827.6ZM381.4 1829.0L376.6 1827.7L376.8 1829.6L370.6 1825.4L378.1 1824.9L377.0 1826.3L381.7 1827.6ZM399.7 1829.0L395.0 1827.8L395.2 1829.6L389.0 1825.4L396.5 1824.9L395.3 1826.4L400.0 1827.6ZM417.9 1829.0L414.5 1828.1L414.8 1830.0L408.6 1825.8L416.1 1825.2L414.9 1826.7L418.3 1827.6ZM436.2 1829.0L434.9 1828.7L435.1 1830.5L428.9 1826.3L436.4 1825.8L435.3 1827.3L436.6 1827.6ZM454.6 1828.9L454.0 1828.7L454.2 1830.1L449.5 1826.9L455.2 1826.5L454.3 1827.7L454.8 1827.8ZM472.9 1828.7L472.6 1828.6L472.7 1829.5L469.8 1827.5L473.3 1827.2L472.7 1827.9L473.1 1828.0ZM491.2 1828.5L491.0 1828.5L491.1 1828.9L489.5 1827.9L491.4 1827.7L491.1 1828.1L491.3 1828.1ZM290.0 1846.9L289.8 1846.8L289.9 1847.6L287.3 1845.9L290.4 1845.7L289.9 1846.3L290.2 1846.3ZM308.3 1847.1L307.8 1847.0L307.9 1848.4L303.4 1845.3L308.9 1844.9L308.0 1846.0L308.5 1846.1ZM326.5 1847.3L324.7 1846.8L325.0 1848.7L318.8 1844.5L326.3 1844.0L325.1 1845.4L326.9 1845.9ZM344.8 1847.3L339.8 1846.0L340.0 1847.8L333.8 1843.6L341.3 1843.1L340.1 1844.6L345.2 1845.9ZM363.1 1847.3L355.2 1845.2L355.4 1847.1L349.2 1842.9L356.7 1842.3L355.6 1843.8L363.5 1845.9ZM381.4 1847.3L371.9 1844.8L372.1 1846.6L365.9 1842.4L373.4 1841.9L372.2 1843.4L381.7 1845.9ZM399.7 1847.3L390.3 1844.8L390.5 1846.7L384.3 1842.5L391.8 1841.9L390.7 1843.4L400.0 1845.9ZM417.9 1847.3L410.4 1845.3L410.7 1847.2L404.4 1843.0L411.9 1842.4L410.8 1843.9L418.3 1845.9ZM436.2 1847.3L431.7 1846.1L431.9 1848.0L425.7 1843.7L433.2 1843.2L432.0 1844.7L436.6 1845.9ZM454.5 1847.3L453.2 1847.0L453.4 1848.8L447.2 1844.6L454.7 1844.1L453.6 1845.6L454.9 1845.9ZM472.9 1847.1L472.4 1847.0L472.6 1848.2L468.4 1845.4L473.4 1845.0L472.6 1846.0L473.1 1846.1ZM491.2 1846.9L490.9 1846.8L491.0 1847.5L488.7 1845.9L491.5 1845.7L491.1 1846.3L491.3 1846.4ZM271.8 1865.1L271.6 1865.0L271.7 1865.5L270.1 1864.4L272.0 1864.3L271.7 1864.7L271.9 1864.7ZM290.0 1865.3L289.7 1865.2L289.8 1866.1L286.6 1864.0L290.5 1863.7L289.9 1864.5L290.2 1864.5ZM308.2 1865.6L307.6 1865.4L307.8 1867.1L302.0 1863.2L309.0 1862.7L307.9 1864.1L308.6 1864.3ZM326.5 1865.6L322.6 1864.6L322.8 1866.4L316.6 1862.2L324.1 1861.7L323.0 1863.2L326.9 1864.2ZM344.8 1865.6L336.7 1863.4L337.0 1865.3L330.7 1861.1L338.2 1860.6L337.1 1862.0L345.2 1864.2ZM363.1 1865.6L351.4 1862.5L351.6 1864.3L345.4 1860.1L352.9 1859.6L351.7 1861.1L363.5 1864.2ZM381.4 1865.6L367.6 1861.9L367.8 1863.8L361.6 1859.6L369.1 1859.0L368.0 1860.5L381.7 1864.2ZM399.7 1865.6L386.1 1862.0L386.3 1863.8L380.1 1859.6L387.6 1859.1L386.4 1860.6L400.0 1864.2ZM417.9 1865.6L406.7 1862.6L406.9 1864.5L400.7 1860.2L408.2 1859.7L407.1 1861.2L418.3 1864.2ZM436.2 1865.6L428.7 1863.6L429.0 1865.5L422.8 1861.3L430.3 1860.7L429.1 1862.2L436.6 1864.2ZM454.5 1865.6L451.2 1864.7L451.4 1866.6L445.2 1862.4L452.7 1861.8L451.5 1863.3L454.9 1864.2ZM472.8 1865.5L472.2 1865.4L472.4 1867.0L467.1 1863.3L473.5 1862.9L472.6 1864.1L473.2 1864.3ZM491.2 1865.2L490.9 1865.2L491.0 1866.0L488.0 1864.0L491.6 1863.8L491.0 1864.5L491.4 1864.6ZM509.5 1865.1L509.4 1865.0L509.4 1865.5L508.0 1864.5L509.7 1864.4L509.4 1864.7L509.6 1864.8ZM271.8 1883.4L271.6 1883.4L271.6 1883.9L269.8 1882.7L272.0 1882.5L271.7 1882.9L271.9 1883.0ZM290.0 1883.6L289.6 1883.5L289.7 1884.6L286.1 1882.1L290.5 1881.8L289.8 1882.7L290.2 1882.8ZM308.2 1883.9L307.2 1883.6L307.4 1885.5L301.2 1881.3L308.7 1880.7L307.6 1882.2L308.6 1882.5ZM326.5 1883.9L321.3 1882.5L321.5 1884.4L315.3 1880.1L322.8 1879.6L321.6 1881.1L326.9 1882.5ZM344.8 1883.9L334.9 1881.2L335.1 1883.1L328.9 1878.9L336.4 1878.3L335.2 1879.8L345.2 1882.5ZM363.1 1883.9L349.0 1880.1L349.3 1882.0L343.1 1877.8L350.6 1877.2L349.4 1878.7L363.5 1882.5ZM381.4 1883.9L365.0 1879.5L365.2 1881.4L359.0 1877.2L366.5 1876.6L365.4 1878.1L381.7 1882.5ZM399.7 1883.9L383.5 1879.6L383.7 1881.4L377.5 1877.2L385.0 1876.7L383.8 1878.2L400.0 1882.5ZM417.9 1883.9L404.4 1880.3L404.6 1882.1L398.4 1877.9L405.9 1877.4L404.8 1878.9L418.3 1882.5ZM436.2 1883.9L426.9 1881.4L427.2 1883.3L421.0 1879.1L428.5 1878.5L427.3 1880.0L436.6 1882.5ZM454.5 1883.9L449.9 1882.7L450.2 1884.5L443.9 1880.3L451.4 1879.8L450.3 1881.3L454.9 1882.5ZM472.8 1883.9L472.1 1883.7L472.4 1885.5L466.3 1881.4L473.6 1880.9L472.5 1882.3L473.2 1882.5ZM491.2 1883.6L490.8 1883.5L490.9 1884.5L487.6 1882.2L491.6 1881.9L491.0 1882.7L491.4 1882.8ZM509.5 1883.4L509.3 1883.3L509.4 1883.8L507.8 1882.7L509.7 1882.6L509.4 1883.0L509.6 1883.0ZM271.8 1901.7L271.6 1901.6L271.6 1902.2L269.8 1901.0L272.0 1900.8L271.7 1901.2L271.9 1901.3ZM290.0 1901.9L289.6 1901.8L289.7 1902.9L286.1 1900.4L290.5 1900.1L289.8 1901.0L290.2 1901.1ZM308.2 1902.2L307.2 1901.9L307.4 1903.8L301.2 1899.6L308.7 1899.0L307.5 1900.5L308.6 1900.8ZM326.5 1902.2L321.2 1900.8L321.4 1902.6L315.2 1898.4L322.7 1897.9L321.6 1899.4L326.9 1900.8ZM344.8 1902.2L334.8 1899.5L335.0 1901.4L328.8 1897.2L336.3 1896.6L335.1 1898.1L345.2 1900.8ZM363.1 1902.2L348.9 1898.4L349.2 1900.3L343.0 1896.1L350.5 1895.5L349.3 1897.0L363.5 1900.8ZM381.4 1902.2L364.9 1897.8L365.1 1899.6L358.9 1895.4L366.4 1894.9L365.3 1896.4L381.7 1900.8ZM399.7 1902.2L383.4 1897.8L383.6 1899.7L377.4 1895.5L384.9 1894.9L383.7 1896.4L400.0 1900.8ZM417.9 1902.2L404.3 1898.5L404.6 1900.4L398.3 1896.2L405.8 1895.6L404.7 1897.1L418.3 1900.8ZM436.2 1902.2L426.9 1899.7L427.1 1901.6L420.9 1897.3L428.4 1896.8L427.2 1898.3L436.6 1900.8ZM454.5 1902.2L449.9 1900.9L450.1 1902.8L443.9 1898.6L451.4 1898.1L450.2 1899.5L454.9 1900.8ZM472.8 1902.2L472.1 1902.0L472.4 1903.8L466.3 1899.7L473.6 1899.2L472.5 1900.6L473.2 1900.8ZM491.2 1901.9L490.8 1901.8L490.9 1902.8L487.6 1900.5L491.6 1900.2L491.0 1901.0L491.4 1901.1ZM509.5 1901.7L509.3 1901.6L509.4 1902.1L507.8 1901.0L509.7 1900.9L509.4 1901.3L509.6 1901.3ZM271.8 1920.0L271.6 1919.9L271.7 1920.4L270.0 1919.3L272.0 1919.2L271.7 1919.6L271.9 1919.6ZM290.0 1920.2L289.7 1920.1L289.8 1921.0L286.5 1918.8L290.5 1918.5L289.9 1919.3L290.2 1919.4ZM308.2 1920.4L307.6 1920.3L307.8 1922.0L302.0 1918.1L309.0 1917.5L307.9 1919.0L308.6 1919.1ZM326.5 1920.5L322.4 1919.4L322.7 1921.3L316.4 1917.0L324.0 1916.5L322.8 1918.0L326.9 1919.1ZM344.8 1920.5L336.5 1918.3L336.7 1920.1L330.5 1915.9L338.0 1915.4L336.9 1916.9L345.2 1919.1ZM363.1 1920.5L351.1 1917.3L351.4 1919.1L345.1 1914.9L352.6 1914.4L351.5 1915.9L363.5 1919.1ZM381.4 1920.5L367.3 1916.7L367.5 1918.6L361.3 1914.4L368.8 1913.8L367.7 1915.3L381.7 1919.1ZM399.7 1920.5L385.8 1916.8L386.0 1918.6L379.8 1914.4L387.3 1913.9L386.1 1915.4L400.0 1919.1ZM417.9 1920.5L406.4 1917.4L406.7 1919.3L400.4 1915.0L407.9 1914.5L406.8 1916.0L418.3 1919.1ZM436.2 1920.5L428.5 1918.4L428.8 1920.3L422.6 1916.1L430.1 1915.5L428.9 1917.0L436.6 1919.1ZM454.5 1920.5L451.0 1919.5L451.3 1921.4L445.0 1917.2L452.5 1916.7L451.4 1918.1L454.9 1919.1ZM472.8 1920.4L472.2 1920.2L472.4 1921.9L467.0 1918.2L473.5 1917.7L472.5 1919.0L473.2 1919.2ZM491.2 1920.1L490.9 1920.0L491.0 1920.9L488.0 1918.9L491.6 1918.6L491.0 1919.4L491.4 1919.5ZM509.5 1920.0L509.4 1919.9L509.4 1920.3L507.9 1919.4L509.7 1919.2L509.4 1919.6L509.6 1919.6ZM271.8 1938.2L271.6 1938.2L271.7 1938.6L270.4 1937.7L272.0 1937.6L271.7 1937.9L271.9 1937.9ZM290.0 1938.4L289.8 1938.3L289.9 1939.1L287.3 1937.3L290.4 1937.1L289.9 1937.7L290.2 1937.8ZM308.3 1938.6L307.7 1938.5L307.9 1939.9L303.3 1936.7L308.9 1936.3L308.0 1937.4L308.5 1937.6ZM326.5 1938.8L324.5 1938.3L324.8 1940.1L318.6 1935.9L326.1 1935.4L324.9 1936.8L326.9 1937.4ZM344.8 1938.8L339.5 1937.4L339.7 1939.2L333.5 1935.0L341.0 1934.5L339.9 1936.0L345.2 1937.4ZM363.1 1938.8L354.8 1936.6L355.1 1938.4L348.9 1934.2L356.4 1933.7L355.2 1935.2L363.5 1937.4ZM381.4 1938.8L371.5 1936.1L371.7 1938.0L365.5 1933.8L373.0 1933.2L371.8 1934.7L381.7 1937.4ZM399.7 1938.8L389.9 1936.2L390.1 1938.0L383.9 1933.8L391.4 1933.3L390.3 1934.8L400.0 1937.4ZM417.9 1938.8L410.1 1936.7L410.3 1938.5L404.1 1934.3L411.6 1933.8L410.4 1935.3L418.3 1937.4ZM436.2 1938.8L431.4 1937.5L431.6 1939.3L425.4 1935.1L432.9 1934.6L431.8 1936.1L436.6 1937.4ZM454.5 1938.8L453.0 1938.4L453.3 1940.2L447.0 1936.0L454.5 1935.5L453.4 1937.0L454.9 1937.4ZM472.9 1938.6L472.4 1938.4L472.5 1939.7L468.2 1936.8L473.4 1936.4L472.6 1937.5L473.1 1937.6ZM491.2 1938.3L490.9 1938.3L491.0 1939.0L488.7 1937.4L491.5 1937.2L491.1 1937.7L491.3 1937.8ZM290.1 1956.6L289.9 1956.5L289.9 1957.1L288.1 1955.8L290.3 1955.7L290.0 1956.1L290.2 1956.2ZM308.3 1956.7L307.9 1956.6L308.1 1957.6L304.8 1955.4L308.7 1955.1L308.1 1955.9L308.5 1956.0ZM326.5 1957.0L326.0 1956.8L326.2 1958.4L321.0 1954.8L327.2 1954.4L326.3 1955.6L326.9 1955.8ZM344.8 1957.1L342.9 1956.6L343.1 1958.4L336.9 1954.2L344.4 1953.7L343.2 1955.1L345.2 1955.7ZM363.1 1957.1L359.1 1956.0L359.3 1957.9L353.1 1953.6L360.6 1953.1L359.5 1954.6L363.5 1955.7ZM381.4 1957.1L376.2 1955.7L376.4 1957.6L370.2 1953.3L377.7 1952.8L376.6 1954.3L381.7 1955.7ZM399.7 1957.1L394.6 1955.7L394.8 1957.6L388.6 1953.4L396.1 1952.8L395.0 1954.3L400.0 1955.7ZM417.9 1957.1L414.2 1956.1L414.4 1957.9L408.2 1953.7L415.7 1953.2L414.6 1954.7L418.3 1955.7ZM436.2 1957.1L434.6 1956.6L434.9 1958.5L428.6 1954.3L436.1 1953.7L435.0 1955.2L436.6 1955.7ZM454.6 1956.9L454.0 1956.8L454.2 1958.2L449.3 1954.9L455.2 1954.5L454.3 1955.7L454.9 1955.8ZM472.9 1956.7L472.6 1956.6L472.7 1957.5L469.6 1955.5L473.3 1955.2L472.7 1955.9L473.1 1956.0ZM491.2 1956.6L491.0 1956.5L491.1 1957.0L489.4 1955.9L491.5 1955.7L491.1 1956.1L491.3 1956.2ZM308.3 1974.9L308.1 1974.8L308.2 1975.4L306.1 1974.1L308.6 1973.9L308.2 1974.4L308.5 1974.4ZM326.6 1975.0L326.2 1974.9L326.4 1975.9L323.1 1973.7L327.0 1973.4L326.4 1974.2L326.8 1974.3ZM344.8 1975.2L344.3 1975.0L344.5 1976.4L339.9 1973.3L345.5 1972.9L344.6 1974.0L345.1 1974.1ZM363.1 1975.3L362.4 1975.1L362.7 1976.9L356.9 1973.0L363.9 1972.4L362.8 1973.8L363.4 1974.0ZM381.4 1975.4L380.4 1975.1L380.7 1977.0L374.4 1972.8L381.9 1972.2L380.8 1973.7L381.7 1974.0ZM399.7 1975.4L398.8 1975.1L399.0 1977.0L392.8 1972.8L400.3 1972.2L399.1 1973.7L400.0 1974.0ZM418.0 1975.3L417.3 1975.1L417.6 1976.8L411.9 1973.0L418.7 1972.5L417.7 1973.9L418.3 1974.0ZM436.3 1975.2L435.8 1975.0L436.0 1976.4L431.5 1973.4L436.9 1973.0L436.1 1974.0L436.6 1974.2ZM454.6 1975.0L454.3 1974.9L454.4 1975.8L451.3 1973.8L455.0 1973.5L454.5 1974.2L454.8 1974.3ZM472.9 1974.9L472.7 1974.8L472.8 1975.4L470.9 1974.1L473.2 1973.9L472.8 1974.4L473.0 1974.4ZM326.6 1993.2L326.4 1993.1L326.5 1993.6L324.7 1992.4L326.9 1992.3L326.5 1992.7L326.8 1992.7ZM344.9 1993.2L344.6 1993.2L344.7 1993.9L342.2 1992.2L345.2 1992.0L344.8 1992.6L345.1 1992.7ZM363.2 1993.3L362.8 1993.2L362.9 1994.2L359.7 1992.0L363.6 1991.7L363.0 1992.5L363.4 1992.6ZM381.4 1993.4L381.0 1993.2L381.2 1994.3L377.6 1991.9L381.9 1991.6L381.3 1992.4L381.7 1992.5ZM399.7 1993.4L399.3 1993.2L399.5 1994.3L395.9 1991.9L400.2 1991.6L399.5 1992.4L400.0 1992.6ZM418.0 1993.3L417.7 1993.2L417.8 1994.2L414.7 1992.0L418.5 1991.7L417.9 1992.5L418.2 1992.6ZM436.3 1993.2L436.1 1993.2L436.2 1993.9L433.7 1992.2L436.7 1992.0L436.2 1992.6L436.5 1992.7ZM454.7 1993.1L454.5 1993.1L454.5 1993.6L452.8 1992.4L454.9 1992.3L454.6 1992.7L454.8 1992.8ZM344.9 2011.4L344.8 2011.3L344.9 2011.7L343.6 2010.9L345.1 2010.8L344.9 2011.1L345.0 2011.1ZM363.2 2011.4L363.0 2011.4L363.1 2011.9L361.5 2010.8L363.4 2010.6L363.1 2011.0L363.3 2011.1ZM381.5 2011.4L381.3 2011.4L381.4 2011.9L379.6 2010.7L381.7 2010.6L381.4 2011.0L381.6 2011.0ZM399.8 2011.4L399.6 2011.4L399.7 2011.9L397.9 2010.7L400.0 2010.6L399.7 2011.0L399.9 2011.0ZM418.1 2011.4L417.9 2011.4L418.0 2011.8L416.4 2010.8L418.3 2010.6L418.0 2011.0L418.2 2011.1Z" fill="#111"/>
<path d="M831.0 1679.9h414.8M831.0 1698.3h414.8M831.0 1716.8h414.8M831.0 1735.2h414.8M831.0 1753.7h414.8M831.0 1772.1h414.8M831.0 1790.6h414.8M831.0 1809.0h414.8M831.0 1827.5h414.8M831.0 1845.9h414.8M831.0 1864.4h414.8M831.0 1882.8h414.8M831.0 1901.3h414.8M831.0 1919.7h414.8M831.0 1938.2h414.8M831.0 1956.6h414.8M831.0 1975.1h414.8M831.0 1993.5h414.8M831.0 2012.0h414.8M831.0 2030.4h414.8M831.0 2048.9h414.8M831.0 2067.3h414.8M831.0 2085.8h414.8M831.0 2104.2h414.8" stroke="#303030" stroke-width="1.7" stroke-linecap="round" stroke-dasharray="0 18.013" fill="none"/><path d="M1011.0 1772.1L1011.0 1771.9L1010.6 1772.0L1011.6 1770.5L1011.7 1772.3L1011.3 1772.0L1011.3 1772.2ZM1029.0 1772.1L1029.0 1771.9L1028.5 1772.0L1029.6 1770.4L1029.8 1772.3L1029.4 1772.0L1029.3 1772.2ZM1047.0 1772.1L1047.0 1771.9L1046.5 1772.0L1047.6 1770.4L1047.8 1772.3L1047.4 1772.0L1047.3 1772.2ZM1065.0 1772.1L1065.1 1771.9L1064.6 1772.0L1065.6 1770.6L1065.7 1772.3L1065.4 1772.0L1065.3 1772.2ZM974.9 1790.5L975.0 1790.3L974.5 1790.4L975.6 1788.7L975.7 1790.8L975.3 1790.4L975.3 1790.6ZM992.9 1790.5L992.9 1790.3L992.2 1790.3L993.8 1788.0L994.0 1790.8L993.5 1790.4L993.4 1790.7ZM1010.8 1790.5L1010.9 1790.2L1010.0 1790.3L1012.0 1787.3L1012.3 1790.9L1011.6 1790.3L1011.5 1790.7ZM1028.8 1790.5L1028.9 1790.1L1027.9 1790.2L1030.1 1786.9L1030.4 1790.9L1029.6 1790.3L1029.5 1790.7ZM1046.8 1790.5L1046.9 1790.1L1045.9 1790.3L1048.1 1787.0L1048.4 1790.9L1047.6 1790.3L1047.5 1790.7ZM1064.8 1790.5L1064.9 1790.2L1064.1 1790.3L1066.0 1787.4L1066.3 1790.9L1065.6 1790.3L1065.5 1790.7ZM1082.9 1790.5L1083.0 1790.3L1082.3 1790.4L1083.9 1788.1L1084.0 1790.8L1083.5 1790.4L1083.4 1790.7ZM1101.0 1790.5L1101.1 1790.4L1100.6 1790.4L1101.7 1788.8L1101.8 1790.7L1101.4 1790.5L1101.4 1790.6ZM956.9 1809.0L956.9 1808.8L956.4 1808.8L957.7 1806.9L957.8 1809.2L957.4 1808.9L957.3 1809.1ZM974.8 1808.9L974.9 1808.6L973.9 1808.7L976.0 1805.7L976.3 1809.3L975.5 1808.8L975.4 1809.1ZM992.6 1808.9L992.8 1808.4L991.5 1808.6L994.4 1804.3L994.8 1809.5L993.7 1808.7L993.6 1809.2ZM1010.5 1808.9L1010.7 1808.3L1009.1 1808.5L1012.7 1803.1L1013.2 1809.6L1011.9 1808.6L1011.7 1809.2ZM1028.5 1808.9L1028.7 1808.2L1026.9 1808.4L1030.9 1802.4L1031.4 1809.6L1030.0 1808.5L1029.8 1809.2ZM1046.5 1808.9L1046.7 1808.2L1044.9 1808.4L1048.9 1802.5L1049.4 1809.6L1048.0 1808.5L1047.8 1809.2ZM1064.6 1808.9L1064.7 1808.3L1063.2 1808.5L1066.7 1803.3L1067.2 1809.6L1065.9 1808.6L1065.8 1809.2ZM1082.7 1808.9L1082.8 1808.5L1081.6 1808.6L1084.4 1804.5L1084.8 1809.5L1083.8 1808.7L1083.6 1809.2ZM1100.9 1808.9L1101.0 1808.6L1100.1 1808.7L1102.0 1805.9L1102.3 1809.3L1101.6 1808.8L1101.5 1809.1ZM1119.0 1809.0L1119.1 1808.8L1118.5 1808.9L1119.7 1807.1L1119.9 1809.2L1119.5 1808.9L1119.4 1809.1ZM938.9 1827.4L938.9 1827.2L938.4 1827.3L939.6 1825.6L939.7 1827.7L939.3 1827.3L939.3 1827.5ZM956.7 1827.4L956.8 1827.0L955.9 1827.2L958.0 1824.1L958.3 1827.8L957.5 1827.2L957.4 1827.6ZM974.6 1827.3L974.7 1826.8L973.2 1827.0L976.5 1822.1L977.0 1828.0L975.8 1827.1L975.7 1827.6ZM992.4 1827.3L992.8 1825.9L990.9 1826.1L995.2 1819.9L995.7 1827.4L994.2 1826.2L993.8 1827.7ZM1010.4 1827.3L1011.3 1823.9L1009.5 1824.2L1013.7 1818.0L1014.2 1825.5L1012.7 1824.3L1011.8 1827.7ZM1028.4 1827.3L1029.6 1822.8L1027.8 1823.1L1032.0 1816.9L1032.5 1824.4L1031.0 1823.2L1029.8 1827.7ZM1046.5 1827.3L1047.6 1822.9L1045.8 1823.2L1050.0 1816.9L1050.5 1824.4L1049.0 1823.3L1047.9 1827.7ZM1064.5 1827.3L1065.3 1824.2L1063.4 1824.4L1067.7 1818.2L1068.2 1825.7L1066.7 1824.5L1065.9 1827.7ZM1082.5 1827.3L1082.8 1826.2L1080.9 1826.4L1085.1 1820.2L1085.7 1827.7L1084.2 1826.5L1083.9 1827.7ZM1100.7 1827.3L1100.8 1826.8L1099.4 1827.0L1102.6 1822.4L1103.0 1828.0L1101.9 1827.1L1101.7 1827.6ZM1118.9 1827.4L1119.0 1827.1L1118.1 1827.2L1120.1 1824.3L1120.3 1827.8L1119.6 1827.2L1119.5 1827.6ZM1137.0 1827.4L1137.1 1827.3L1136.6 1827.3L1137.7 1825.7L1137.8 1827.6L1137.4 1827.4L1137.4 1827.5ZM938.8 1845.9L938.9 1845.6L938.1 1845.7L939.8 1843.2L940.0 1846.2L939.4 1845.7L939.4 1846.0ZM956.6 1845.8L956.7 1845.3L955.4 1845.5L958.4 1841.1L958.8 1846.4L957.7 1845.6L957.6 1846.1ZM974.4 1845.7L974.8 1844.2L973.0 1844.4L977.2 1838.2L977.7 1845.7L976.2 1844.6L975.8 1846.1ZM992.4 1845.7L993.7 1841.0L991.8 1841.3L996.0 1835.0L996.6 1842.5L995.1 1841.4L993.8 1846.1ZM1010.4 1845.7L1012.4 1838.2L1010.6 1838.5L1014.8 1832.3L1015.3 1839.8L1013.8 1838.6L1011.8 1846.1ZM1028.4 1845.7L1030.9 1836.7L1029.0 1836.9L1033.2 1830.7L1033.8 1838.2L1032.3 1837.1L1029.8 1846.1ZM1046.5 1845.7L1048.9 1836.8L1047.0 1837.1L1051.2 1830.8L1051.7 1838.3L1050.3 1837.2L1047.9 1846.1ZM1064.5 1845.7L1066.4 1838.6L1064.5 1838.8L1068.7 1832.6L1069.3 1840.1L1067.8 1839.0L1065.9 1846.1ZM1082.5 1845.7L1083.6 1841.5L1081.8 1841.7L1086.0 1835.5L1086.5 1843.0L1085.0 1841.8L1083.9 1846.1ZM1100.5 1845.7L1100.8 1844.6L1098.9 1844.9L1103.1 1838.7L1103.7 1846.2L1102.2 1845.0L1101.9 1846.1ZM1118.7 1845.8L1118.9 1845.3L1117.6 1845.5L1120.4 1841.4L1120.8 1846.3L1119.8 1845.6L1119.7 1846.1ZM1137.0 1845.9L1137.0 1845.6L1136.4 1845.7L1137.9 1843.4L1138.1 1846.2L1137.5 1845.7L1137.5 1846.0ZM920.9 1864.3L920.9 1864.2L920.5 1864.2L921.5 1862.6L921.7 1864.5L921.3 1864.2L921.2 1864.4ZM938.7 1864.3L938.8 1863.9L937.9 1864.1L940.0 1860.9L940.3 1864.7L939.5 1864.1L939.4 1864.5ZM956.5 1864.2L956.6 1863.6L954.9 1863.8L958.8 1858.2L959.2 1865.0L957.9 1863.9L957.7 1864.5ZM974.4 1864.2L975.4 1860.5L973.5 1860.8L977.7 1854.5L978.3 1862.0L976.8 1860.9L975.8 1864.6ZM992.4 1864.2L994.5 1856.5L992.6 1856.7L996.8 1850.5L997.4 1858.0L995.9 1856.9L993.8 1864.6ZM1010.4 1864.2L1013.4 1853.0L1011.6 1853.2L1015.8 1847.0L1016.3 1854.5L1014.8 1853.3L1011.8 1864.6ZM1028.4 1864.2L1032.0 1851.0L1030.1 1851.2L1034.3 1845.0L1034.9 1852.5L1033.4 1851.3L1029.8 1864.6ZM1046.5 1864.2L1050.0 1851.1L1048.1 1851.4L1052.3 1845.1L1052.9 1852.6L1051.4 1851.5L1047.9 1864.6ZM1064.5 1864.2L1067.4 1853.4L1065.5 1853.6L1069.7 1847.4L1070.3 1854.9L1068.8 1853.8L1065.9 1864.6ZM1082.5 1864.2L1084.4 1857.1L1082.5 1857.3L1086.7 1851.1L1087.3 1858.6L1085.8 1857.4L1083.9 1864.6ZM1100.5 1864.2L1101.3 1861.1L1099.5 1861.3L1103.7 1855.1L1104.2 1862.6L1102.7 1861.5L1101.9 1864.6ZM1118.6 1864.2L1118.8 1863.6L1117.2 1863.8L1120.7 1858.6L1121.2 1864.9L1120.0 1863.9L1119.8 1864.5ZM1136.9 1864.3L1137.0 1864.0L1136.1 1864.1L1138.1 1861.2L1138.3 1864.7L1137.6 1864.1L1137.5 1864.5ZM1155.1 1864.3L1155.1 1864.2L1154.7 1864.2L1155.6 1862.8L1155.8 1864.5L1155.4 1864.3L1155.4 1864.4ZM920.9 1882.8L920.9 1882.6L920.4 1882.6L921.6 1880.9L921.7 1883.0L921.3 1882.7L921.3 1882.9ZM938.7 1882.7L938.8 1882.3L937.7 1882.5L940.1 1878.9L940.4 1883.2L939.6 1882.5L939.5 1882.9ZM956.4 1882.6L956.6 1881.8L954.8 1882.0L959.0 1875.8L959.5 1883.3L958.0 1882.2L957.8 1883.0ZM974.4 1882.6L975.7 1877.7L973.9 1877.9L978.1 1871.7L978.6 1879.2L977.1 1878.0L975.8 1883.0ZM992.4 1882.6L995.0 1873.1L993.1 1873.4L997.3 1867.1L997.9 1874.6L996.4 1873.5L993.8 1883.0ZM1010.4 1882.6L1014.1 1869.1L1012.2 1869.4L1016.4 1863.1L1016.9 1870.6L1015.5 1869.5L1011.8 1883.0ZM1028.4 1882.6L1032.7 1866.8L1030.8 1867.1L1035.0 1860.9L1035.6 1868.4L1034.1 1867.2L1029.8 1883.0ZM1046.5 1882.6L1050.6 1867.0L1048.8 1867.3L1053.0 1861.1L1053.5 1868.6L1052.0 1867.4L1047.9 1883.0ZM1064.5 1882.6L1068.0 1869.6L1066.1 1869.9L1070.3 1863.6L1070.9 1871.1L1069.4 1870.0L1065.9 1883.0ZM1082.5 1882.6L1084.9 1873.8L1083.0 1874.0L1087.2 1867.8L1087.8 1875.3L1086.3 1874.1L1083.9 1883.0ZM1100.5 1882.6L1101.7 1878.3L1099.8 1878.6L1104.0 1872.3L1104.5 1879.8L1103.1 1878.7L1101.9 1883.0ZM1118.5 1882.6L1118.7 1882.0L1117.0 1882.2L1121.0 1876.3L1121.5 1883.4L1120.0 1882.3L1119.9 1883.0ZM1136.9 1882.7L1137.0 1882.4L1136.0 1882.5L1138.2 1879.2L1138.5 1883.2L1137.7 1882.6L1137.6 1882.9ZM1155.1 1882.8L1155.1 1882.6L1154.6 1882.7L1155.7 1881.1L1155.8 1883.0L1155.5 1882.7L1155.4 1882.9ZM920.9 1901.2L920.9 1901.0L920.4 1901.1L921.6 1899.3L921.7 1901.5L921.3 1901.1L921.3 1901.3ZM938.7 1901.2L938.8 1900.8L937.7 1900.9L940.1 1897.3L940.5 1901.6L939.6 1901.0L939.5 1901.4ZM956.4 1901.1L956.6 1900.2L954.8 1900.4L959.0 1894.2L959.5 1901.7L958.0 1900.6L957.8 1901.5ZM974.4 1901.1L975.8 1896.0L973.9 1896.3L978.1 1890.1L978.6 1897.6L977.2 1896.4L975.8 1901.5ZM992.4 1901.1L995.0 1891.4L993.1 1891.7L997.4 1885.5L997.9 1893.0L996.4 1891.8L993.8 1901.5ZM1010.4 1901.1L1014.1 1887.4L1012.2 1887.7L1016.4 1881.5L1017.0 1889.0L1015.5 1887.8L1011.8 1901.5ZM1028.4 1901.1L1032.7 1885.1L1030.8 1885.4L1035.1 1879.2L1035.6 1886.7L1034.1 1885.5L1029.8 1901.5ZM1046.5 1901.1L1050.7 1885.3L1048.8 1885.6L1053.0 1879.4L1053.6 1886.9L1052.1 1885.7L1047.9 1901.5ZM1064.5 1901.1L1068.0 1887.9L1066.1 1888.2L1070.3 1882.0L1070.9 1889.5L1069.4 1888.3L1065.9 1901.5ZM1082.5 1901.1L1084.9 1892.1L1083.0 1892.4L1087.2 1886.1L1087.8 1893.6L1086.3 1892.5L1083.9 1901.5ZM1100.5 1901.1L1101.7 1896.7L1099.8 1896.9L1104.0 1890.7L1104.6 1898.2L1103.1 1897.1L1101.9 1901.5ZM1118.5 1901.1L1118.7 1900.4L1116.9 1900.7L1121.0 1894.7L1121.5 1901.9L1120.1 1900.8L1119.9 1901.5ZM1136.9 1901.2L1137.0 1900.8L1136.0 1900.9L1138.2 1897.7L1138.5 1901.6L1137.7 1901.0L1137.6 1901.4ZM1155.1 1901.2L1155.1 1901.0L1154.6 1901.1L1155.7 1899.5L1155.8 1901.4L1155.5 1901.1L1155.4 1901.3ZM920.9 1919.7L920.9 1919.5L920.5 1919.6L921.5 1918.0L921.7 1919.9L921.3 1919.6L921.2 1919.8ZM938.7 1919.6L938.8 1919.3L937.9 1919.4L940.0 1916.2L940.3 1920.1L939.5 1919.5L939.4 1919.8ZM956.4 1919.5L956.6 1918.9L954.9 1919.1L958.8 1913.4L959.3 1920.3L957.9 1919.2L957.7 1919.9ZM974.4 1919.5L975.4 1915.7L973.6 1915.9L977.8 1909.7L978.3 1917.2L976.8 1916.1L975.8 1919.9ZM992.4 1919.5L994.6 1911.6L992.7 1911.8L996.9 1905.6L997.4 1913.1L996.0 1911.9L993.8 1919.9ZM1010.4 1919.5L1013.5 1908.0L1011.7 1908.2L1015.9 1902.0L1016.4 1909.5L1014.9 1908.3L1011.8 1919.9ZM1028.4 1919.5L1032.1 1905.9L1030.2 1906.2L1034.4 1899.9L1035.0 1907.5L1033.5 1906.3L1029.8 1919.9ZM1046.5 1919.5L1050.1 1906.1L1048.2 1906.3L1052.4 1900.1L1053.0 1907.6L1051.5 1906.5L1047.9 1919.9ZM1064.5 1919.5L1067.4 1908.4L1065.6 1908.7L1069.8 1902.4L1070.3 1909.9L1068.8 1908.8L1065.9 1919.9ZM1082.5 1919.5L1084.5 1912.1L1082.6 1912.4L1086.8 1906.2L1087.4 1913.7L1085.9 1912.5L1083.9 1919.9ZM1100.5 1919.5L1101.4 1916.3L1099.5 1916.5L1103.7 1910.3L1104.3 1917.8L1102.8 1916.6L1101.9 1919.9ZM1118.6 1919.6L1118.8 1919.0L1117.2 1919.2L1120.8 1913.9L1121.2 1920.3L1120.0 1919.3L1119.8 1919.9ZM1136.9 1919.6L1137.0 1919.3L1136.1 1919.4L1138.1 1916.5L1138.3 1920.0L1137.6 1919.5L1137.6 1919.8ZM1155.1 1919.7L1155.1 1919.5L1154.7 1919.6L1155.7 1918.1L1155.8 1919.9L1155.4 1919.6L1155.4 1919.8ZM920.9 1938.1L921.0 1938.0L920.6 1938.0L921.4 1936.8L921.6 1938.3L921.2 1938.1L921.2 1938.2ZM938.8 1938.1L938.9 1937.8L938.1 1937.9L939.8 1935.4L940.1 1938.4L939.4 1938.0L939.4 1938.2ZM956.6 1938.0L956.7 1937.5L955.3 1937.7L958.4 1933.1L958.8 1938.6L957.7 1937.8L957.6 1938.3ZM974.4 1938.0L974.9 1936.2L973.0 1936.4L977.2 1930.2L977.8 1937.7L976.3 1936.6L975.8 1938.4ZM992.4 1938.0L993.8 1932.9L991.9 1933.2L996.1 1926.9L996.7 1934.4L995.2 1933.3L993.8 1938.4ZM1010.4 1938.0L1012.6 1930.0L1010.7 1930.3L1014.9 1924.1L1015.5 1931.6L1014.0 1930.4L1011.8 1938.4ZM1028.4 1938.0L1031.0 1928.4L1029.1 1928.7L1033.4 1922.4L1033.9 1929.9L1032.4 1928.8L1029.8 1938.4ZM1046.5 1938.0L1049.0 1928.6L1047.1 1928.8L1051.3 1922.6L1051.9 1930.1L1050.4 1928.9L1047.9 1938.4ZM1064.5 1938.0L1066.5 1930.4L1064.6 1930.6L1068.9 1924.4L1069.4 1931.9L1067.9 1930.8L1065.9 1938.4ZM1082.5 1938.0L1083.7 1933.4L1081.8 1933.6L1086.1 1927.4L1086.6 1934.9L1085.1 1933.7L1083.9 1938.4ZM1100.5 1938.0L1100.9 1936.6L1099.0 1936.9L1103.2 1930.7L1103.7 1938.2L1102.3 1937.0L1101.9 1938.4ZM1118.7 1938.0L1118.9 1937.6L1117.6 1937.7L1120.5 1933.5L1120.8 1938.6L1119.8 1937.8L1119.7 1938.3ZM1137.0 1938.1L1137.0 1937.8L1136.3 1937.9L1137.9 1935.6L1138.1 1938.4L1137.6 1938.0L1137.5 1938.2ZM938.9 1956.6L938.9 1956.4L938.4 1956.4L939.6 1954.6L939.8 1956.8L939.3 1956.5L939.3 1956.7ZM956.7 1956.5L956.8 1956.2L955.9 1956.3L958.0 1953.1L958.3 1956.9L957.6 1956.4L957.5 1956.7ZM974.5 1956.5L974.7 1955.9L973.2 1956.1L976.6 1951.0L977.1 1957.1L975.8 1956.2L975.7 1956.8ZM992.4 1956.4L992.9 1954.6L991.0 1954.9L995.2 1948.7L995.8 1956.2L994.3 1955.0L993.8 1956.8ZM1010.4 1956.4L1011.4 1952.6L1009.6 1952.9L1013.8 1946.7L1014.3 1954.2L1012.9 1953.0L1011.8 1956.8ZM1028.4 1956.4L1029.8 1951.5L1027.9 1951.7L1032.1 1945.5L1032.7 1953.0L1031.2 1951.9L1029.8 1956.8ZM1046.5 1956.4L1047.8 1951.6L1045.9 1951.8L1050.1 1945.6L1050.7 1953.1L1049.2 1951.9L1047.9 1956.8ZM1064.5 1956.4L1065.4 1952.9L1063.6 1953.1L1067.8 1946.9L1068.3 1954.4L1066.8 1953.3L1065.9 1956.8ZM1082.5 1956.4L1082.9 1955.0L1081.0 1955.2L1085.2 1949.0L1085.8 1956.5L1084.3 1955.4L1083.9 1956.8ZM1100.7 1956.5L1100.8 1955.9L1099.4 1956.1L1102.6 1951.3L1103.0 1957.1L1101.9 1956.2L1101.7 1956.8ZM1118.9 1956.5L1119.0 1956.2L1118.1 1956.3L1120.1 1953.3L1120.3 1956.9L1119.6 1956.4L1119.5 1956.7ZM1137.0 1956.6L1137.1 1956.4L1136.6 1956.4L1137.7 1954.8L1137.9 1956.8L1137.5 1956.5L1137.4 1956.7ZM956.9 1975.0L956.9 1974.8L956.3 1974.9L957.7 1972.8L957.9 1975.3L957.4 1974.9L957.3 1975.1ZM974.7 1975.0L974.8 1974.6L973.9 1974.7L976.1 1971.5L976.3 1975.4L975.6 1974.8L975.5 1975.2ZM992.6 1974.9L992.7 1974.4L991.4 1974.6L994.5 1970.1L994.8 1975.5L993.8 1974.7L993.6 1975.2ZM1010.5 1974.9L1010.7 1974.3L1009.0 1974.5L1012.8 1968.8L1013.3 1975.6L1011.9 1974.6L1011.8 1975.2ZM1028.4 1974.9L1028.7 1974.1L1026.8 1974.3L1031.0 1968.1L1031.6 1975.6L1030.1 1974.4L1029.8 1975.3ZM1046.5 1974.9L1046.7 1974.1L1044.8 1974.4L1049.0 1968.1L1049.6 1975.6L1048.1 1974.5L1047.9 1975.3ZM1064.5 1974.9L1064.7 1974.3L1063.1 1974.5L1066.8 1969.0L1067.3 1975.6L1066.0 1974.6L1065.8 1975.2ZM1082.7 1974.9L1082.8 1974.4L1081.5 1974.6L1084.5 1970.3L1084.8 1975.5L1083.8 1974.7L1083.7 1975.2ZM1100.9 1975.0L1100.9 1974.6L1100.0 1974.8L1102.1 1971.7L1102.4 1975.4L1101.6 1974.8L1101.5 1975.2ZM1119.0 1975.0L1119.1 1974.8L1118.5 1974.9L1119.8 1973.0L1119.9 1975.3L1119.5 1974.9L1119.4 1975.1ZM974.9 1993.5L975.0 1993.3L974.4 1993.3L975.6 1991.5L975.8 1993.7L975.4 1993.4L975.3 1993.6ZM992.8 1993.4L992.9 1993.2L992.1 1993.3L993.9 1990.7L994.1 1993.8L993.5 1993.3L993.4 1993.6ZM1010.8 1993.4L1010.9 1993.1L1009.9 1993.2L1012.1 1990.0L1012.3 1993.8L1011.6 1993.3L1011.5 1993.6ZM1028.7 1993.4L1028.9 1993.0L1027.8 1993.2L1030.2 1989.6L1030.5 1993.9L1029.6 1993.2L1029.5 1993.6ZM1046.8 1993.4L1046.9 1993.0L1045.8 1993.2L1048.2 1989.6L1048.5 1993.9L1047.7 1993.2L1047.6 1993.6ZM1064.8 1993.4L1064.9 1993.1L1064.0 1993.2L1066.1 1990.1L1066.4 1993.8L1065.6 1993.3L1065.5 1993.6ZM1082.9 1993.4L1083.0 1993.2L1082.3 1993.3L1083.9 1990.8L1084.1 1993.8L1083.5 1993.3L1083.5 1993.6ZM1101.0 1993.5L1101.1 1993.3L1100.5 1993.3L1101.7 1991.6L1101.8 1993.7L1101.4 1993.4L1101.4 1993.6ZM1011.0 2011.9L1011.0 2011.7L1010.5 2011.8L1011.6 2010.2L1011.7 2012.1L1011.4 2011.8L1011.3 2012.0ZM1028.9 2011.9L1029.0 2011.7L1028.5 2011.8L1029.7 2010.0L1029.8 2012.1L1029.4 2011.8L1029.3 2012.0ZM1047.0 2011.9L1047.0 2011.7L1046.5 2011.8L1047.7 2010.0L1047.8 2012.1L1047.4 2011.8L1047.4 2012.0ZM1065.0 2011.9L1065.0 2011.7L1064.6 2011.8L1065.6 2010.3L1065.8 2012.1L1065.4 2011.8L1065.3 2012.0Z" fill="#111"/>
<path d="M1479.0 1682.0h419.1M1479.0 1700.2h419.1M1479.0 1718.5h419.1M1479.0 1736.7h419.1M1479.0 1755.0h419.1M1479.0 1773.2h419.1M1479.0 1791.5h419.1M1479.0 1809.7h419.1M1479.0 1827.9h419.1M1479.0 1846.2h419.1M1479.0 1864.4h419.1M1479.0 1882.7h419.1M1479.0 1900.9h419.1M1479.0 1919.2h419.1M1479.0 1937.4h419.1M1479.0 1955.7h419.1M1479.0 1973.9h419.1M1479.0 1992.1h419.1M1479.0 2010.4h419.1M1479.0 2028.6h419.1M1479.0 2046.9h419.1M1479.0 2065.1h419.1M1479.0 2083.4h419.1M1479.0 2101.6h419.1" stroke="#303030" stroke-width="1.7" stroke-linecap="round" stroke-dasharray="0 18.200" fill="none"/><path d="M1661.0 1773.0L1661.2 1773.1L1661.2 1772.6L1662.6 1773.7L1660.8 1773.8L1661.1 1773.4L1661.0 1773.4ZM1679.3 1773.0L1679.4 1773.1L1679.4 1772.6L1681.0 1773.7L1679.0 1773.9L1679.3 1773.5L1679.1 1773.4ZM1697.4 1773.0L1697.6 1773.1L1697.6 1772.6L1699.2 1773.7L1697.2 1773.8L1697.5 1773.5L1697.4 1773.4ZM1715.6 1773.1L1715.8 1773.1L1715.7 1772.7L1717.2 1773.6L1715.5 1773.8L1715.7 1773.4L1715.6 1773.4ZM1624.7 1791.3L1624.8 1791.3L1624.8 1790.8L1626.5 1792.0L1624.4 1792.1L1624.7 1791.7L1624.5 1791.7ZM1642.9 1791.2L1643.1 1791.3L1643.0 1790.5L1645.5 1792.2L1642.6 1792.4L1643.0 1791.8L1642.7 1791.7ZM1661.1 1791.1L1661.4 1791.2L1661.3 1790.3L1664.4 1792.4L1660.7 1792.6L1661.3 1791.9L1660.9 1791.8ZM1679.3 1791.1L1679.7 1791.2L1679.5 1790.2L1682.9 1792.5L1678.9 1792.8L1679.5 1791.9L1679.1 1791.8ZM1697.5 1791.1L1697.9 1791.2L1697.7 1790.2L1701.1 1792.5L1697.1 1792.7L1697.7 1791.9L1697.3 1791.8ZM1715.7 1791.1L1716.0 1791.2L1715.9 1790.3L1718.9 1792.3L1715.3 1792.6L1715.8 1791.9L1715.5 1791.8ZM1733.9 1791.2L1734.1 1791.3L1734.0 1790.6L1736.4 1792.1L1733.6 1792.4L1734.0 1791.8L1733.7 1791.7ZM1752.0 1791.3L1752.2 1791.3L1752.2 1790.8L1753.8 1791.9L1751.8 1792.1L1752.1 1791.7L1752.0 1791.6ZM1606.5 1809.5L1606.7 1809.5L1606.6 1809.0L1608.6 1810.3L1606.2 1810.5L1606.6 1810.0L1606.3 1809.9ZM1624.7 1809.4L1625.0 1809.4L1624.9 1808.5L1628.0 1810.6L1624.3 1810.9L1624.9 1810.1L1624.5 1810.1ZM1642.9 1809.2L1643.4 1809.3L1643.3 1808.0L1647.6 1811.0L1642.3 1811.4L1643.2 1810.3L1642.7 1810.2ZM1661.2 1809.1L1661.8 1809.2L1661.6 1807.6L1667.1 1811.3L1660.4 1811.8L1661.5 1810.5L1660.8 1810.3ZM1679.4 1809.0L1680.1 1809.2L1679.8 1807.3L1686.0 1811.5L1678.6 1812.1L1679.7 1810.6L1679.0 1810.4ZM1697.6 1809.0L1698.3 1809.2L1698.0 1807.4L1704.1 1811.5L1696.8 1812.0L1697.9 1810.6L1697.2 1810.4ZM1715.8 1809.1L1716.4 1809.3L1716.2 1807.6L1721.5 1811.3L1715.0 1811.8L1716.0 1810.5L1715.4 1810.3ZM1733.9 1809.2L1734.4 1809.4L1734.2 1808.1L1738.4 1811.0L1733.4 1811.3L1734.1 1810.3L1733.7 1810.2ZM1752.1 1809.4L1752.4 1809.5L1752.3 1808.6L1755.2 1810.6L1751.7 1810.8L1752.2 1810.1L1751.9 1810.0ZM1770.3 1809.5L1770.5 1809.6L1770.4 1809.0L1772.2 1810.2L1770.0 1810.4L1770.3 1810.0L1770.1 1809.9ZM1588.3 1827.7L1588.5 1827.8L1588.4 1827.3L1590.1 1828.5L1588.0 1828.6L1588.3 1828.2L1588.1 1828.1ZM1606.5 1827.6L1606.8 1827.7L1606.7 1826.7L1609.9 1828.9L1606.1 1829.2L1606.7 1828.4L1606.3 1828.3ZM1624.8 1827.4L1625.3 1827.5L1625.1 1826.0L1630.1 1829.4L1624.1 1829.9L1625.0 1828.7L1624.4 1828.5ZM1643.0 1827.2L1644.6 1827.7L1644.4 1825.8L1650.6 1830.0L1643.1 1830.6L1644.3 1829.1L1642.6 1828.6ZM1661.2 1827.2L1664.8 1828.2L1664.6 1826.4L1670.8 1830.6L1663.3 1831.1L1664.4 1829.6L1660.8 1828.6ZM1679.4 1827.2L1684.2 1828.5L1683.9 1826.7L1690.1 1830.9L1682.6 1831.4L1683.8 1829.9L1679.0 1828.6ZM1697.6 1827.2L1702.3 1828.5L1702.0 1826.6L1708.2 1830.9L1700.7 1831.4L1701.9 1829.9L1697.2 1828.6ZM1715.8 1827.2L1719.2 1828.2L1718.9 1826.3L1725.2 1830.5L1717.7 1831.1L1718.8 1829.6L1715.4 1828.6ZM1734.0 1827.2L1735.3 1827.6L1735.1 1825.7L1741.3 1830.0L1733.8 1830.5L1734.9 1829.0L1733.6 1828.6ZM1752.1 1827.4L1752.7 1827.6L1752.5 1826.1L1757.2 1829.3L1751.5 1829.8L1752.4 1828.6L1751.9 1828.5ZM1770.3 1827.6L1770.6 1827.7L1770.5 1826.8L1773.4 1828.8L1769.9 1829.1L1770.4 1828.4L1770.1 1828.3ZM1788.4 1827.8L1788.6 1827.8L1788.6 1827.3L1790.2 1828.4L1788.2 1828.6L1788.5 1828.2L1788.4 1828.1ZM1588.3 1845.9L1588.6 1846.0L1588.5 1845.2L1591.0 1846.9L1587.9 1847.2L1588.4 1846.6L1588.1 1846.5ZM1606.5 1845.7L1607.0 1845.8L1606.9 1844.5L1611.4 1847.5L1605.9 1847.9L1606.8 1846.8L1606.3 1846.7ZM1624.8 1845.5L1626.5 1846.0L1626.3 1844.1L1632.5 1848.3L1625.0 1848.9L1626.2 1847.4L1624.4 1846.9ZM1643.0 1845.5L1648.0 1846.8L1647.7 1845.0L1654.0 1849.2L1646.5 1849.7L1647.6 1848.2L1642.6 1846.9ZM1661.2 1845.5L1669.0 1847.6L1668.8 1845.7L1675.0 1849.9L1667.5 1850.5L1668.7 1849.0L1660.8 1846.9ZM1679.4 1845.5L1688.9 1848.0L1688.6 1846.2L1694.8 1850.4L1687.3 1850.9L1688.5 1849.4L1679.0 1846.9ZM1697.6 1845.5L1706.9 1848.0L1706.7 1846.1L1712.9 1850.3L1705.4 1850.9L1706.6 1849.4L1697.2 1846.9ZM1715.8 1845.5L1723.3 1847.5L1723.1 1845.6L1729.3 1849.9L1721.8 1850.4L1722.9 1848.9L1715.4 1846.9ZM1734.0 1845.5L1738.5 1846.7L1738.3 1844.8L1744.5 1849.1L1737.0 1849.6L1738.2 1848.1L1733.6 1846.9ZM1752.2 1845.5L1753.5 1845.8L1753.2 1844.0L1759.5 1848.2L1752.0 1848.7L1753.1 1847.2L1751.8 1846.9ZM1770.3 1845.7L1770.8 1845.8L1770.6 1844.6L1774.8 1847.4L1769.8 1847.8L1770.5 1846.8L1770.1 1846.7ZM1788.5 1845.9L1788.7 1846.0L1788.6 1845.3L1790.9 1846.9L1788.2 1847.1L1788.6 1846.5L1788.3 1846.5ZM1570.0 1864.3L1570.2 1864.3L1570.2 1863.8L1571.8 1864.9L1569.8 1865.0L1570.1 1864.7L1570.0 1864.6ZM1588.3 1864.1L1588.7 1864.2L1588.5 1863.2L1591.7 1865.4L1587.9 1865.7L1588.5 1864.9L1588.1 1864.8ZM1606.6 1863.8L1607.2 1864.0L1607.0 1862.2L1612.7 1866.1L1605.8 1866.6L1606.9 1865.3L1606.2 1865.1ZM1624.8 1863.7L1628.7 1864.8L1628.4 1862.9L1634.7 1867.1L1627.2 1867.7L1628.3 1866.2L1624.4 1865.1ZM1643.0 1863.7L1651.0 1865.9L1650.8 1864.0L1657.0 1868.2L1649.5 1868.8L1650.7 1867.3L1642.6 1865.1ZM1661.2 1863.7L1672.9 1866.9L1672.6 1865.0L1678.8 1869.2L1671.3 1869.8L1672.5 1868.3L1660.8 1865.1ZM1679.4 1863.7L1693.1 1867.4L1692.9 1865.6L1699.1 1869.8L1691.6 1870.3L1692.8 1868.8L1679.0 1865.1ZM1697.6 1863.7L1711.2 1867.4L1710.9 1865.5L1717.2 1869.7L1709.7 1870.3L1710.8 1868.8L1697.2 1865.1ZM1715.8 1863.7L1727.0 1866.7L1726.8 1864.9L1733.0 1869.1L1725.5 1869.6L1726.7 1868.1L1715.4 1865.1ZM1734.0 1863.7L1741.5 1865.7L1741.2 1863.9L1747.4 1868.1L1739.9 1868.6L1741.1 1867.1L1733.6 1865.1ZM1752.2 1863.7L1755.5 1864.6L1755.3 1862.8L1761.5 1867.0L1754.0 1867.5L1755.2 1866.0L1751.8 1865.1ZM1770.4 1863.8L1771.0 1864.0L1770.7 1862.4L1776.1 1866.0L1769.7 1866.5L1770.6 1865.2L1770.0 1865.0ZM1788.5 1864.1L1788.8 1864.2L1788.7 1863.3L1791.6 1865.3L1788.1 1865.6L1788.6 1864.9L1788.3 1864.8ZM1806.6 1864.3L1806.8 1864.3L1806.7 1863.9L1808.2 1864.9L1806.5 1865.0L1806.7 1864.6L1806.6 1864.6ZM1570.1 1882.5L1570.3 1882.5L1570.2 1882.0L1572.0 1883.2L1569.8 1883.4L1570.1 1882.9L1569.9 1882.9ZM1588.3 1882.3L1588.7 1882.4L1588.6 1881.3L1592.2 1883.8L1587.8 1884.1L1588.5 1883.2L1588.1 1883.1ZM1606.6 1882.0L1607.6 1882.2L1607.3 1880.4L1613.6 1884.6L1606.1 1885.1L1607.2 1883.6L1606.2 1883.4ZM1624.8 1882.0L1630.0 1883.4L1629.8 1881.5L1636.0 1885.7L1628.5 1886.3L1629.6 1884.8L1624.4 1883.4ZM1643.0 1882.0L1652.9 1884.6L1652.7 1882.8L1658.9 1887.0L1651.4 1887.5L1652.5 1886.0L1642.6 1883.4ZM1661.2 1882.0L1675.2 1885.7L1675.0 1883.9L1681.2 1888.1L1673.7 1888.6L1674.8 1887.1L1660.8 1883.4ZM1679.4 1882.0L1695.8 1886.4L1695.5 1884.5L1701.7 1888.7L1694.2 1889.3L1695.4 1887.8L1679.0 1883.4ZM1697.6 1882.0L1713.8 1886.3L1713.5 1884.4L1719.7 1888.7L1712.2 1889.2L1713.4 1887.7L1697.2 1883.4ZM1715.8 1882.0L1729.3 1885.6L1729.1 1883.7L1735.3 1888.0L1727.8 1888.5L1728.9 1887.0L1715.4 1883.4ZM1734.0 1882.0L1743.3 1884.5L1743.0 1882.6L1749.2 1886.8L1741.7 1887.4L1742.9 1885.9L1733.6 1883.4ZM1752.2 1882.0L1756.8 1883.2L1756.5 1881.3L1762.7 1885.6L1755.2 1886.1L1756.4 1884.6L1751.8 1883.4ZM1770.4 1882.0L1771.1 1882.2L1770.8 1880.4L1776.9 1884.5L1769.6 1885.0L1770.7 1883.5L1770.0 1883.4ZM1788.5 1882.3L1788.9 1882.4L1788.7 1881.4L1792.1 1883.7L1788.1 1883.9L1788.7 1883.2L1788.3 1883.1ZM1806.6 1882.5L1806.8 1882.5L1806.8 1882.1L1808.4 1883.2L1806.4 1883.3L1806.7 1882.9L1806.6 1882.9ZM1570.1 1900.7L1570.3 1900.8L1570.2 1900.2L1572.0 1901.5L1569.8 1901.6L1570.1 1901.2L1569.9 1901.1ZM1588.3 1900.5L1588.7 1900.6L1588.6 1899.5L1592.2 1902.0L1587.8 1902.3L1588.5 1901.4L1588.1 1901.3ZM1606.6 1900.2L1607.6 1900.5L1607.4 1898.6L1613.6 1902.9L1606.1 1903.4L1607.3 1901.9L1606.2 1901.6ZM1624.8 1900.2L1630.1 1901.6L1629.8 1899.8L1636.1 1904.0L1628.6 1904.5L1629.7 1903.0L1624.4 1901.6ZM1643.0 1900.2L1653.0 1902.9L1652.8 1901.0L1659.0 1905.3L1651.5 1905.8L1652.6 1904.3L1642.6 1901.6ZM1661.2 1900.2L1675.3 1904.0L1675.1 1902.1L1681.3 1906.4L1673.8 1906.9L1675.0 1905.4L1660.8 1901.6ZM1679.4 1900.2L1695.9 1904.6L1695.6 1902.8L1701.9 1907.0L1694.4 1907.5L1695.5 1906.0L1679.0 1901.6ZM1697.6 1900.2L1713.9 1904.6L1713.6 1902.7L1719.9 1906.9L1712.4 1907.5L1713.5 1906.0L1697.2 1901.6ZM1715.8 1900.2L1729.4 1903.9L1729.2 1902.0L1735.4 1906.2L1727.9 1906.8L1729.1 1905.3L1715.4 1901.6ZM1734.0 1900.2L1743.3 1902.7L1743.1 1900.9L1749.3 1905.1L1741.8 1905.6L1743.0 1904.1L1733.6 1901.6ZM1752.2 1900.2L1756.8 1901.5L1756.6 1899.6L1762.8 1903.8L1755.3 1904.4L1756.5 1902.9L1751.8 1901.6ZM1770.4 1900.2L1771.1 1900.4L1770.8 1898.6L1776.9 1902.7L1769.6 1903.2L1770.7 1901.8L1770.0 1901.6ZM1788.5 1900.5L1788.9 1900.6L1788.7 1899.6L1792.1 1901.9L1788.1 1902.2L1788.7 1901.4L1788.3 1901.3ZM1806.6 1900.7L1806.8 1900.8L1806.8 1900.3L1808.4 1901.4L1806.4 1901.5L1806.7 1901.2L1806.6 1901.1ZM1570.0 1919.0L1570.2 1919.0L1570.2 1918.5L1571.8 1919.6L1569.8 1919.8L1570.1 1919.4L1570.0 1919.3ZM1588.3 1918.8L1588.7 1918.9L1588.5 1917.9L1591.8 1920.1L1587.9 1920.4L1588.5 1919.6L1588.1 1919.5ZM1606.6 1918.5L1607.2 1918.7L1607.0 1916.9L1612.8 1920.9L1605.8 1921.4L1606.9 1920.0L1606.2 1919.8ZM1624.8 1918.5L1628.9 1919.6L1628.6 1917.7L1634.8 1921.9L1627.3 1922.5L1628.5 1921.0L1624.4 1919.9ZM1643.0 1918.5L1651.3 1920.7L1651.0 1918.8L1657.3 1923.0L1649.8 1923.6L1650.9 1922.1L1642.6 1919.9ZM1661.2 1918.5L1673.2 1921.7L1672.9 1919.8L1679.2 1924.0L1671.7 1924.6L1672.8 1923.1L1660.8 1919.9ZM1679.4 1918.5L1693.5 1922.2L1693.2 1920.4L1699.5 1924.6L1692.0 1925.1L1693.1 1923.6L1679.0 1919.9ZM1697.6 1918.5L1711.5 1922.2L1711.3 1920.3L1717.5 1924.5L1710.0 1925.1L1711.1 1923.6L1697.2 1919.9ZM1715.8 1918.5L1727.3 1921.6L1727.1 1919.7L1733.3 1923.9L1725.8 1924.5L1727.0 1923.0L1715.4 1919.9ZM1734.0 1918.5L1741.7 1920.5L1741.5 1918.7L1747.7 1922.9L1740.2 1923.4L1741.3 1921.9L1733.6 1919.9ZM1752.2 1918.5L1755.7 1919.4L1755.4 1917.5L1761.7 1921.8L1754.2 1922.3L1755.3 1920.8L1751.8 1919.9ZM1770.4 1918.6L1771.0 1918.7L1770.8 1917.1L1776.2 1920.8L1769.6 1921.2L1770.6 1919.9L1770.0 1919.8ZM1788.5 1918.8L1788.8 1918.9L1788.7 1918.0L1791.7 1920.0L1788.1 1920.3L1788.6 1919.6L1788.3 1919.5ZM1806.6 1919.0L1806.8 1919.0L1806.7 1918.6L1808.2 1919.6L1806.5 1919.7L1806.7 1919.4L1806.6 1919.3ZM1570.0 1937.3L1570.2 1937.3L1570.1 1936.9L1571.4 1937.8L1569.9 1937.9L1570.1 1937.6L1570.0 1937.6ZM1588.3 1937.1L1588.6 1937.2L1588.5 1936.4L1591.1 1938.2L1587.9 1938.4L1588.4 1937.8L1588.1 1937.7ZM1606.5 1936.9L1607.1 1937.0L1606.9 1935.6L1611.5 1938.8L1605.9 1939.2L1606.8 1938.1L1606.3 1937.9ZM1624.8 1936.7L1626.8 1937.2L1626.5 1935.4L1632.7 1939.6L1625.2 1940.1L1626.4 1938.6L1624.4 1938.1ZM1643.0 1936.7L1648.3 1938.1L1648.1 1936.3L1654.3 1940.5L1646.8 1941.0L1647.9 1939.5L1642.6 1938.1ZM1661.2 1936.7L1669.5 1938.9L1669.2 1937.1L1675.4 1941.3L1667.9 1941.8L1669.1 1940.3L1660.8 1938.1ZM1679.4 1936.7L1689.3 1939.4L1689.1 1937.5L1695.3 1941.7L1687.8 1942.3L1688.9 1940.8L1679.0 1938.1ZM1697.6 1936.7L1707.4 1939.3L1707.1 1937.5L1713.4 1941.7L1705.9 1942.2L1707.0 1940.7L1697.2 1938.1ZM1715.8 1936.7L1723.7 1938.8L1723.4 1937.0L1729.7 1941.2L1722.2 1941.7L1723.3 1940.2L1715.4 1938.1ZM1734.0 1936.7L1738.9 1938.0L1738.6 1936.1L1744.8 1940.4L1737.3 1940.9L1738.5 1939.4L1733.6 1938.1ZM1752.2 1936.7L1753.7 1937.1L1753.5 1935.2L1759.7 1939.5L1752.2 1940.0L1753.3 1938.5L1751.8 1938.1ZM1770.3 1936.9L1770.8 1937.1L1770.6 1935.8L1775.0 1938.7L1769.8 1939.1L1770.6 1938.0L1770.1 1937.9ZM1788.5 1937.1L1788.7 1937.2L1788.6 1936.5L1791.0 1938.1L1788.2 1938.3L1788.6 1937.7L1788.3 1937.7ZM1588.3 1955.4L1588.5 1955.5L1588.4 1955.0L1590.2 1956.2L1588.0 1956.4L1588.4 1955.9L1588.1 1955.9ZM1606.5 1955.3L1606.9 1955.4L1606.7 1954.4L1610.0 1956.6L1606.1 1956.9L1606.7 1956.1L1606.3 1956.0ZM1624.8 1955.1L1625.3 1955.2L1625.1 1953.7L1630.3 1957.2L1624.1 1957.6L1625.0 1956.4L1624.4 1956.2ZM1643.0 1955.0L1644.9 1955.5L1644.7 1953.6L1650.9 1957.8L1643.4 1958.4L1644.6 1956.9L1642.6 1956.4ZM1661.2 1955.0L1665.2 1956.0L1665.0 1954.2L1671.2 1958.4L1663.7 1958.9L1664.8 1957.4L1660.8 1956.4ZM1679.4 1955.0L1684.6 1956.3L1684.3 1954.5L1690.6 1958.7L1683.1 1959.2L1684.2 1957.7L1679.0 1956.4ZM1697.6 1955.0L1702.7 1956.3L1702.5 1954.5L1708.7 1958.7L1701.2 1959.2L1702.3 1957.7L1697.2 1956.4ZM1715.8 1955.0L1719.6 1956.0L1719.3 1954.1L1725.5 1958.3L1718.0 1958.9L1719.2 1957.4L1715.4 1956.4ZM1734.0 1955.0L1735.6 1955.4L1735.4 1953.5L1741.6 1957.7L1734.1 1958.3L1735.2 1956.8L1733.6 1956.4ZM1752.1 1955.1L1752.7 1955.2L1752.5 1953.8L1757.4 1957.1L1751.5 1957.5L1752.4 1956.4L1751.9 1956.2ZM1770.3 1955.3L1770.6 1955.4L1770.5 1954.5L1773.6 1956.6L1769.9 1956.8L1770.5 1956.1L1770.1 1956.0ZM1788.5 1955.5L1788.6 1955.5L1788.6 1955.0L1790.2 1956.1L1788.2 1956.3L1788.5 1955.9L1788.3 1955.8ZM1606.5 1973.7L1606.7 1973.7L1606.6 1973.1L1608.7 1974.5L1606.2 1974.7L1606.6 1974.2L1606.3 1974.1ZM1624.7 1973.5L1625.1 1973.6L1624.9 1972.6L1628.2 1974.9L1624.3 1975.1L1624.9 1974.4L1624.5 1974.3ZM1642.9 1973.4L1643.5 1973.5L1643.3 1972.1L1647.9 1975.3L1642.3 1975.7L1643.2 1974.6L1642.7 1974.4ZM1661.2 1973.2L1661.8 1973.4L1661.6 1971.7L1667.4 1975.6L1660.4 1976.1L1661.5 1974.7L1660.8 1974.5ZM1679.4 1973.2L1680.4 1973.5L1680.1 1971.6L1686.3 1975.8L1678.8 1976.4L1680.0 1974.9L1679.0 1974.6ZM1697.6 1973.2L1698.5 1973.4L1698.3 1971.6L1704.5 1975.8L1697.0 1976.3L1698.1 1974.8L1697.2 1974.6ZM1715.8 1973.3L1716.4 1973.4L1716.2 1971.7L1721.8 1975.6L1715.0 1976.1L1716.1 1974.7L1715.4 1974.5ZM1733.9 1973.4L1734.4 1973.5L1734.3 1972.2L1738.7 1975.2L1733.3 1975.6L1734.2 1974.5L1733.7 1974.4ZM1752.1 1973.5L1752.4 1973.6L1752.3 1972.7L1755.4 1974.8L1751.7 1975.1L1752.3 1974.3L1751.9 1974.2ZM1770.3 1973.7L1770.5 1973.7L1770.4 1973.2L1772.3 1974.5L1770.0 1974.6L1770.4 1974.2L1770.1 1974.1ZM1624.7 1991.9L1624.9 1992.0L1624.8 1991.4L1626.6 1992.7L1624.4 1992.8L1624.8 1992.4L1624.5 1992.3ZM1642.9 1991.8L1643.2 1991.9L1643.1 1991.2L1645.6 1992.9L1642.5 1993.1L1643.0 1992.5L1642.7 1992.4ZM1661.1 1991.8L1661.5 1991.9L1661.3 1990.9L1664.6 1993.1L1660.7 1993.4L1661.3 1992.6L1660.9 1992.5ZM1679.3 1991.7L1679.7 1991.8L1679.6 1990.8L1683.2 1993.2L1678.8 1993.5L1679.5 1992.7L1679.1 1992.5ZM1697.5 1991.7L1697.9 1991.8L1697.8 1990.8L1701.4 1993.2L1697.0 1993.5L1697.7 1992.7L1697.3 1992.5ZM1715.7 1991.8L1716.1 1991.9L1715.9 1990.9L1719.1 1993.1L1715.3 1993.3L1715.9 1992.6L1715.5 1992.5ZM1733.9 1991.9L1734.2 1991.9L1734.1 1991.2L1736.5 1992.9L1733.5 1993.1L1734.0 1992.5L1733.7 1992.4ZM1752.1 1991.9L1752.2 1992.0L1752.2 1991.5L1753.9 1992.6L1751.8 1992.8L1752.1 1992.4L1751.9 1992.3ZM1642.8 2010.2L1643.0 2010.3L1642.9 2009.9L1644.2 2010.8L1642.7 2010.9L1642.9 2010.6L1642.8 2010.5ZM1661.0 2010.2L1661.2 2010.3L1661.2 2009.8L1662.8 2010.9L1660.8 2011.0L1661.1 2010.6L1661.0 2010.6ZM1679.3 2010.2L1679.5 2010.2L1679.4 2009.7L1681.2 2010.9L1679.0 2011.1L1679.3 2010.6L1679.1 2010.6ZM1697.5 2010.2L1697.7 2010.2L1697.6 2009.7L1699.4 2010.9L1697.2 2011.1L1697.5 2010.6L1697.3 2010.6ZM1715.6 2010.2L1715.8 2010.3L1715.8 2009.8L1717.3 2010.8L1715.4 2011.0L1715.7 2010.6L1715.6 2010.6Z" fill="#111"/>
<rect x="158.6" y="153.2" width="454.3" height="451.8" fill="none" stroke="#000" stroke-width="4.35"/><path d="M158.6 605v10.7M158.6 605h-10.5M272.2 605v10.7M158.6 492.1h-10.5M385.8 605v10.7M158.6 379.1h-10.5M499.3 605v10.7M158.6 266.1h-10.5M612.9 605v10.7M158.6 153.2h-10.5" stroke="#000" stroke-width="2.5" fill="none"/>
<text x="159.3" y="647.8" text-anchor="middle">-20.0</text><text x="140.7" y="611.9" text-anchor="end">-20.0</text><text x="271.9" y="647.8" text-anchor="middle">-10.0</text><text x="140.7" y="500.7" text-anchor="end">-10.0</text><text x="386.5" y="647.8" text-anchor="middle">0.0</text><text x="140.7" y="388.5" text-anchor="end">0.0</text><text x="489.1" y="647.8" text-anchor="middle">10.0</text><text x="140.7" y="277.9" text-anchor="end">10.0</text><text x="597.9" y="647.8" text-anchor="middle">20.0</text><text x="140.7" y="167.4" text-anchor="end">20.0</text><text x="138.2" y="117.4" text-anchor="middle">nm</text><text x="626" y="679.3" text-anchor="middle">nm</text><text x="432.2" y="116.2" text-anchor="middle" style="font-size:45px"><tspan font-style="italic">t</tspan> = 0 [ps]</text>
<rect x="807.5" y="155.2" width="455" height="455.1" fill="none" stroke="#000" stroke-width="4.35"/><path d="M807.5 610.3v10.7M807.5 610.3h-10.5M921.2 610.3v10.7M807.5 496.5h-10.5M1035 610.3v10.7M807.5 382.8h-10.5M1148.7 610.3v10.7M807.5 269h-10.5M1262.5 610.3v10.7M807.5 155.2h-10.5" stroke="#000" stroke-width="2.5" fill="none"/>
<text x="808" y="647.8" text-anchor="middle">-20.0</text><text x="789.4" y="611.9" text-anchor="end">-20.0</text><text x="920.6" y="647.8" text-anchor="middle">-10.0</text><text x="789.4" y="500.7" text-anchor="end">-10.0</text><text x="1035.2" y="647.8" text-anchor="middle">0.0</text><text x="789.4" y="388.5" text-anchor="end">0.0</text><text x="1137.8" y="647.8" text-anchor="middle">10.0</text><text x="789.4" y="277.9" text-anchor="end">10.0</text><text x="1246.6" y="647.8" text-anchor="middle">20.0</text><text x="789.4" y="167.4" text-anchor="end">20.0</text><text x="786.9" y="117.4" text-anchor="middle">nm</text><text x="1274.7" y="679.3" text-anchor="middle">nm</text><text x="1104.5" y="116.2" text-anchor="middle" style="font-size:45px"><tspan font-style="italic">t</tspan> = <tspan font-style="italic">τ</tspan><tspan style="font-size:30px" dy="10">0</tspan><tspan dy="-10">/4 [ps]</tspan></text>
<rect x="1457.5" y="153.7" width="454.3" height="455.2" fill="none" stroke="#000" stroke-width="4.35"/><path d="M1457.5 608.9v10.7M1457.5 608.9h-10.5M1571 608.9v10.7M1457.5 495.1h-10.5M1684.6 608.9v10.7M1457.5 381.3h-10.5M1798.2 608.9v10.7M1457.5 267.5h-10.5M1911.8 608.9v10.7M1457.5 153.7h-10.5" stroke="#000" stroke-width="2.5" fill="none"/>
<text x="1456.7" y="647.8" text-anchor="middle">-20.0</text><text x="1438.1" y="611.9" text-anchor="end">-20.0</text><text x="1569.3" y="647.8" text-anchor="middle">-10.0</text><text x="1438.1" y="500.7" text-anchor="end">-10.0</text><text x="1683.9" y="647.8" text-anchor="middle">0.0</text><text x="1438.1" y="388.5" text-anchor="end">0.0</text><text x="1786.5" y="647.8" text-anchor="middle">10.0</text><text x="1438.1" y="277.9" text-anchor="end">10.0</text><text x="1895.3" y="647.8" text-anchor="middle">20.0</text><text x="1438.1" y="167.4" text-anchor="end">20.0</text><text x="1435.6" y="117.4" text-anchor="middle">nm</text><text x="1923.4" y="679.3" text-anchor="middle">nm</text><text x="1754.9" y="116.2" text-anchor="middle" style="font-size:45px"><tspan font-style="italic">t</tspan> = <tspan font-style="italic">τ</tspan><tspan style="font-size:30px" dy="10">0</tspan><tspan dy="-10">/2 [ps]</tspan></text>
<line x1="159.1" y1="910.2" x2="610.9" y2="1359.9" stroke="#1a1a1a" stroke-width="1.1"/><rect x="159.1" y="909.3" width="451.8" height="450.6" fill="none" stroke="#000" stroke-width="4.35"/><path d="M159.1 1359.9v10.7M159.1 1359.9h-10.5M272 1359.9v10.7M159.1 1247.2h-10.5M385 1359.9v10.7M159.1 1134.6h-10.5M497.9 1359.9v10.7M159.1 1022h-10.5M610.9 1359.9v10.7M159.1 909.3h-10.5" stroke="#000" stroke-width="2.5" fill="none"/>
<text x="159.3" y="1404.1" text-anchor="middle">-20.0</text><text x="140.7" y="1368.2" text-anchor="end">-20.0</text><text x="271.9" y="1404.1" text-anchor="middle">-10.0</text><text x="140.7" y="1257" text-anchor="end">-10.0</text><text x="386.5" y="1404.1" text-anchor="middle">0.0</text><text x="140.7" y="1144.8" text-anchor="end">0.0</text><text x="489.1" y="1404.1" text-anchor="middle">10.0</text><text x="140.7" y="1034.2" text-anchor="end">10.0</text><text x="597.9" y="1404.1" text-anchor="middle">20.0</text><text x="140.7" y="923.7" text-anchor="end">20.0</text><text x="138.2" y="873.7" text-anchor="middle">nm</text><text x="626" y="1435.6" text-anchor="middle">nm</text><text x="432.2" y="872.5" text-anchor="middle" style="font-size:45px"><tspan font-style="italic">t</tspan> = 0 [ps]</text>
<line x1="809.9" y1="917.2" x2="1261.6" y2="1367.1" stroke="#1a1a1a" stroke-width="1.1"/><rect x="809.9" y="911.8" width="451.7" height="455.3" fill="none" stroke="#000" stroke-width="4.35"/><path d="M809.9 1367.1v10.7M809.9 1367.1h-10.5M922.8 1367.1v10.7M809.9 1253.3h-10.5M1035.8 1367.1v10.7M809.9 1139.4h-10.5M1148.7 1367.1v10.7M809.9 1025.6h-10.5M1261.6 1367.1v10.7M809.9 911.8h-10.5" stroke="#000" stroke-width="2.5" fill="none"/>
<text x="808" y="1404.1" text-anchor="middle">-20.0</text><text x="789.4" y="1368.2" text-anchor="end">-20.0</text><text x="920.6" y="1404.1" text-anchor="middle">-10.0</text><text x="789.4" y="1257" text-anchor="end">-10.0</text><text x="1035.2" y="1404.1" text-anchor="middle">0.0</text><text x="789.4" y="1144.8" text-anchor="end">0.0</text><text x="1137.8" y="1404.1" text-anchor="middle">10.0</text><text x="789.4" y="1034.2" text-anchor="end">10.0</text><text x="1246.6" y="1404.1" text-anchor="middle">20.0</text><text x="789.4" y="923.7" text-anchor="end">20.0</text><text x="786.9" y="873.7" text-anchor="middle">nm</text><text x="1274.7" y="1435.6" text-anchor="middle">nm</text><text x="1104.5" y="872.5" text-anchor="middle" style="font-size:45px"><tspan font-style="italic">t</tspan> = <tspan font-style="italic">τ</tspan><tspan style="font-size:30px" dy="10">0</tspan><tspan dy="-10">/4 [ps]</tspan></text>
<line x1="1456.9" y1="912.3" x2="1909" y2="1360.1" stroke="#1a1a1a" stroke-width="1.1"/><rect x="1456.9" y="909.8" width="452.1" height="453.2" fill="none" stroke="#000" stroke-width="4.35"/><path d="M1456.9 1363v10.7M1456.9 1363h-10.5M1569.9 1363v10.7M1456.9 1249.7h-10.5M1683 1363v10.7M1456.9 1136.4h-10.5M1796 1363v10.7M1456.9 1023.1h-10.5M1909 1363v10.7M1456.9 909.8h-10.5" stroke="#000" stroke-width="2.5" fill="none"/>
<text x="1456.7" y="1404.1" text-anchor="middle">-20.0</text><text x="1438.1" y="1368.2" text-anchor="end">-20.0</text><text x="1569.3" y="1404.1" text-anchor="middle">-10.0</text><text x="1438.1" y="1257" text-anchor="end">-10.0</text><text x="1683.9" y="1404.1" text-anchor="middle">0.0</text><text x="1438.1" y="1144.8" text-anchor="end">0.0</text><text x="1786.5" y="1404.1" text-anchor="middle">10.0</text><text x="1438.1" y="1034.2" text-anchor="end">10.0</text><text x="1895.3" y="1404.1" text-anchor="middle">20.0</text><text x="1438.1" y="923.7" text-anchor="end">20.0</text><text x="1435.6" y="873.7" text-anchor="middle">nm</text><text x="1923.4" y="1435.6" text-anchor="middle">nm</text><text x="1754.9" y="872.5" text-anchor="middle" style="font-size:45px"><tspan font-style="italic">t</tspan> = <tspan font-style="italic">τ</tspan><tspan style="font-size:30px" dy="10">0</tspan><tspan dy="-10">/2 [ps]</tspan></text>
<rect x="162" y="1666" width="454.8" height="454.4" fill="none" stroke="#000" stroke-width="4.35"/><path d="M162 2120.3v10.7M162 2120.3h-10.5M275.7 2120.3v10.7M162 2006.7h-10.5M389.4 2120.3v10.7M162 1893.1h-10.5M503.1 2120.3v10.7M162 1779.5h-10.5M616.8 2120.3v10.7M162 1666h-10.5" stroke="#000" stroke-width="2.5" fill="none"/>
<text x="159.3" y="2160.4" text-anchor="middle">-20.0</text><text x="140.7" y="2124.5" text-anchor="end">-20.0</text><text x="271.9" y="2160.4" text-anchor="middle">-10.0</text><text x="140.7" y="2013.3" text-anchor="end">-10.0</text><text x="386.5" y="2160.4" text-anchor="middle">0.0</text><text x="140.7" y="1901.1" text-anchor="end">0.0</text><text x="489.1" y="2160.4" text-anchor="middle">10.0</text><text x="140.7" y="1790.5" text-anchor="end">10.0</text><text x="597.9" y="2160.4" text-anchor="middle">20.0</text><text x="140.7" y="1680" text-anchor="end">20.0</text><text x="138.2" y="1630" text-anchor="middle">nm</text><text x="626" y="2191.9" text-anchor="middle">nm</text><text x="432.2" y="1628.8" text-anchor="middle" style="font-size:45px"><tspan font-style="italic">t</tspan> = 0 [ps]</text>
<rect x="812.8" y="1663.8" width="448.1" height="458.5" fill="none" stroke="#000" stroke-width="4.35"/><path d="M812.8 2122.3v10.7M812.8 2122.3h-10.5M924.8 2122.3v10.7M812.8 2007.7h-10.5M1036.8 2122.3v10.7M812.8 1893.1h-10.5M1148.9 2122.3v10.7M812.8 1778.4h-10.5M1260.9 2122.3v10.7M812.8 1663.8h-10.5" stroke="#000" stroke-width="2.5" fill="none"/>
<text x="808" y="2160.4" text-anchor="middle">-20.0</text><text x="789.4" y="2124.5" text-anchor="end">-20.0</text><text x="920.6" y="2160.4" text-anchor="middle">-10.0</text><text x="789.4" y="2013.3" text-anchor="end">-10.0</text><text x="1035.2" y="2160.4" text-anchor="middle">0.0</text><text x="789.4" y="1901.1" text-anchor="end">0.0</text><text x="1137.8" y="2160.4" text-anchor="middle">10.0</text><text x="789.4" y="1790.5" text-anchor="end">10.0</text><text x="1246.6" y="2160.4" text-anchor="middle">20.0</text><text x="789.4" y="1680" text-anchor="end">20.0</text><text x="786.9" y="1630" text-anchor="middle">nm</text><text x="1274.7" y="2191.9" text-anchor="middle">nm</text><text x="1104.5" y="1628.8" text-anchor="middle" style="font-size:45px"><tspan font-style="italic">t</tspan> = <tspan font-style="italic">τ</tspan><tspan style="font-size:30px" dy="10">0</tspan><tspan dy="-10">/4 [ps]</tspan></text>
<rect x="1461" y="1666" width="452.1" height="453.5" fill="none" stroke="#000" stroke-width="4.35"/><path d="M1461 2119.4v10.7M1461 2119.4h-10.5M1574 2119.4v10.7M1461 2006h-10.5M1687 2119.4v10.7M1461 1892.7h-10.5M1800.1 2119.4v10.7M1461 1779.3h-10.5M1913.1 2119.4v10.7M1461 1666h-10.5" stroke="#000" stroke-width="2.5" fill="none"/>
<text x="1456.7" y="2160.4" text-anchor="middle">-20.0</text><text x="1438.1" y="2124.5" text-anchor="end">-20.0</text><text x="1569.3" y="2160.4" text-anchor="middle">-10.0</text><text x="1438.1" y="2013.3" text-anchor="end">-10.0</text><text x="1683.9" y="2160.4" text-anchor="middle">0.0</text><text x="1438.1" y="1901.1" text-anchor="end">0.0</text><text x="1786.5" y="2160.4" text-anchor="middle">10.0</text><text x="1438.1" y="1790.5" text-anchor="end">10.0</text><text x="1895.3" y="2160.4" text-anchor="middle">20.0</text><text x="1438.1" y="1680" text-anchor="end">20.0</text><text x="1435.6" y="1630" text-anchor="middle">nm</text><text x="1923.4" y="2191.9" text-anchor="middle">nm</text><text x="1754.9" y="1628.8" text-anchor="middle" style="font-size:45px"><tspan font-style="italic">t</tspan> = <tspan font-style="italic">τ</tspan><tspan style="font-size:30px" dy="10">0</tspan><tspan dy="-10">/2 [ps]</tspan></text>
<linearGradient id="cb1" x1="0" y1="0" x2="0" y2="1"><stop offset="0.0000" stop-color="#b40426"/><stop offset="0.0312" stop-color="#be242e"/><stop offset="0.0625" stop-color="#ca3b37"/><stop offset="0.0938" stop-color="#d44e41"/><stop offset="0.1250" stop-color="#dd5f4b"/><stop offset="0.1562" stop-color="#e46e56"/><stop offset="0.1875" stop-color="#eb7d62"/><stop offset="0.2188" stop-color="#f08b6e"/><stop offset="0.2500" stop-color="#f4987a"/><stop offset="0.2812" stop-color="#f6a586"/><stop offset="0.3125" stop-color="#f7b093"/><stop offset="0.3438" stop-color="#f7ba9f"/><stop offset="0.3750" stop-color="#f5c4ac"/><stop offset="0.4062" stop-color="#f1ccb8"/><stop offset="0.4375" stop-color="#ecd3c5"/><stop offset="0.4688" stop-color="#e5d8d1"/><stop offset="0.5000" stop-color="#dddcdc"/><stop offset="0.5312" stop-color="#d5dbe5"/><stop offset="0.5625" stop-color="#ccd9ed"/><stop offset="0.5938" stop-color="#c3d5f4"/><stop offset="0.6250" stop-color="#b9d0f9"/><stop offset="0.6562" stop-color="#aec9fc"/><stop offset="0.6875" stop-color="#a3c2fe"/><stop offset="0.7188" stop-color="#98b9ff"/><stop offset="0.7500" stop-color="#8db0fe"/><stop offset="0.7812" stop-color="#82a6fb"/><stop offset="0.8125" stop-color="#779af7"/><stop offset="0.8438" stop-color="#6c8ff1"/><stop offset="0.8750" stop-color="#6282ea"/><stop offset="0.9062" stop-color="#5875e1"/><stop offset="0.9375" stop-color="#4e68d8"/><stop offset="0.9688" stop-color="#445acc"/><stop offset="1.0000" stop-color="#3b4cc0"/></linearGradient><rect x="1948.5" y="153.7" width="23.7" height="455" fill="url(#cb1)" stroke="#000" stroke-width="3.2"/><text x="1994" y="274.2">8.0</text><text x="1990.2" y="388.1">0.0</text><text x="1990.5" y="505.4">-8.0</text><path d="M1972.2 265.6h10.5M1972.2 382.1h10.5M1972.2 498.6h10.5" stroke="#000" stroke-width="3" fill="none"/><text x="2026.5" y="623.5">nN</text>
<linearGradient id="cb2" x1="0" y1="0" x2="0" y2="1"><stop offset="0.0000" stop-color="#b40426"/><stop offset="0.0312" stop-color="#be242e"/><stop offset="0.0625" stop-color="#ca3b37"/><stop offset="0.0938" stop-color="#d44e41"/><stop offset="0.1250" stop-color="#dd5f4b"/><stop offset="0.1562" stop-color="#e46e56"/><stop offset="0.1875" stop-color="#eb7d62"/><stop offset="0.2188" stop-color="#f08b6e"/><stop offset="0.2500" stop-color="#f4987a"/><stop offset="0.2812" stop-color="#f6a586"/><stop offset="0.3125" stop-color="#f7b093"/><stop offset="0.3438" stop-color="#f7ba9f"/><stop offset="0.3750" stop-color="#f5c4ac"/><stop offset="0.4062" stop-color="#f1ccb8"/><stop offset="0.4375" stop-color="#ecd3c5"/><stop offset="0.4688" stop-color="#e5d8d1"/><stop offset="0.5000" stop-color="#dddcdc"/><stop offset="0.5312" stop-color="#d5dbe5"/><stop offset="0.5625" stop-color="#ccd9ed"/><stop offset="0.5938" stop-color="#c3d5f4"/><stop offset="0.6250" stop-color="#b9d0f9"/><stop offset="0.6562" stop-color="#aec9fc"/><stop offset="0.6875" stop-color="#a3c2fe"/><stop offset="0.7188" stop-color="#98b9ff"/><stop offset="0.7500" stop-color="#8db0fe"/><stop offset="0.7812" stop-color="#82a6fb"/><stop offset="0.8125" stop-color="#779af7"/><stop offset="0.8438" stop-color="#6c8ff1"/><stop offset="0.8750" stop-color="#6282ea"/><stop offset="0.9062" stop-color="#5875e1"/><stop offset="0.9375" stop-color="#4e68d8"/><stop offset="0.9688" stop-color="#445acc"/><stop offset="1.0000" stop-color="#3b4cc0"/></linearGradient><rect x="1945.1" y="909.8" width="23.8" height="451" fill="url(#cb2)" stroke="#000" stroke-width="3.2"/><text x="1985.7" y="946">20.0</text><text x="1987" y="1042">10.0</text><text x="1990.2" y="1146">0.0</text><text x="1990.5" y="1247.1">-10.0</text><text x="1987.9" y="1349.3">-20.0</text><path d="M1968.9 930.9h10.5M1968.9 1033.6h10.5M1968.9 1136.6h10.5M1968.9 1238.8h10.5M1968.9 1341h10.5" stroke="#000" stroke-width="3" fill="none"/><text x="2026.5" y="1382.2">nN</text>
<linearGradient id="cb3" x1="0" y1="0" x2="0" y2="1"><stop offset="0.0000" stop-color="#b40426"/><stop offset="0.0312" stop-color="#be242e"/><stop offset="0.0625" stop-color="#ca3b37"/><stop offset="0.0938" stop-color="#d44e41"/><stop offset="0.1250" stop-color="#dd5f4b"/><stop offset="0.1562" stop-color="#e46e56"/><stop offset="0.1875" stop-color="#eb7d62"/><stop offset="0.2188" stop-color="#f08b6e"/><stop offset="0.2500" stop-color="#f4987a"/><stop offset="0.2812" stop-color="#f6a586"/><stop offset="0.3125" stop-color="#f7b093"/><stop offset="0.3438" stop-color="#f7ba9f"/><stop offset="0.3750" stop-color="#f5c4ac"/><stop offset="0.4062" stop-color="#f1ccb8"/><stop offset="0.4375" stop-color="#ecd3c5"/><stop offset="0.4688" stop-color="#e5d8d1"/><stop offset="0.5000" stop-color="#dddcdc"/><stop offset="0.5312" stop-color="#d5dbe5"/><stop offset="0.5625" stop-color="#ccd9ed"/><stop offset="0.5938" stop-color="#c3d5f4"/><stop offset="0.6250" stop-color="#b9d0f9"/><stop offset="0.6562" stop-color="#aec9fc"/><stop offset="0.6875" stop-color="#a3c2fe"/><stop offset="0.7188" stop-color="#98b9ff"/><stop offset="0.7500" stop-color="#8db0fe"/><stop offset="0.7812" stop-color="#82a6fb"/><stop offset="0.8125" stop-color="#779af7"/><stop offset="0.8438" stop-color="#6c8ff1"/><stop offset="0.8750" stop-color="#6282ea"/><stop offset="0.9062" stop-color="#5875e1"/><stop offset="0.9375" stop-color="#4e68d8"/><stop offset="0.9688" stop-color="#445acc"/><stop offset="1.0000" stop-color="#3b4cc0"/></linearGradient><rect x="1949.8" y="1665.5" width="23.5" height="453.2" fill="url(#cb3)" stroke="#000" stroke-width="3.2"/><text x="1994" y="1784.7">8.0</text><text x="1990.2" y="1898.9">0.0</text><text x="1990.5" y="2016.2">-8.0</text><path d="M1973.3 1777.4h10.5M1973.3 1892.9h10.5M1973.3 2008.9h10.5" stroke="#000" stroke-width="3" fill="none"/><text x="2026.5" y="2133.5">nN</text>
<path d="M633.5 335.8L681.8 335.8L681.8 299.4L730.2 379.8L681.8 460.2L681.8 423.8L633.5 423.8Z" fill="#fff" stroke="#0070c0" stroke-width="10" stroke-miterlimit="10"/>
<path d="M1282.2 335.8L1330.5 335.8L1330.5 299.4L1378.9 379.8L1330.5 460.2L1330.5 423.8L1282.2 423.8Z" fill="#fff" stroke="#0070c0" stroke-width="10" stroke-miterlimit="10"/>
<path d="M633.3 1092L681.6 1092L681.6 1055.6L730 1136L681.6 1216.4L681.6 1180L633.3 1180Z" fill="#fff" stroke="#0070c0" stroke-width="10" stroke-miterlimit="10"/>
<path d="M1282.2 1092L1330.5 1092L1330.5 1055.6L1378.9 1136L1330.5 1216.4L1330.5 1180L1282.2 1180Z" fill="#fff" stroke="#0070c0" stroke-width="10" stroke-miterlimit="10"/>
<path d="M634.5 1848.7L682.8 1848.7L682.8 1812.3L731.2 1892.7L682.8 1973.1L682.8 1936.7L634.5 1936.7Z" fill="#fff" stroke="#0070c0" stroke-width="10" stroke-miterlimit="10"/>
<path d="M1283.3 1848.7L1331.6 1848.7L1331.6 1812.3L1380 1892.7L1331.6 1973.1L1331.6 1936.7L1283.3 1936.7Z" fill="#fff" stroke="#0070c0" stroke-width="10" stroke-miterlimit="10"/>
<path d="M44 682.1V548.9h-5.8L50.1 536.8l11.9 12.1h-5.8V682.1Z" fill="#00ff00" stroke="#3b7dd8" stroke-width="0.6"/><path d="M56.3 669.7H179.8v-5.8L191.6 675.6l-11.8 11.6v-5.8H56.3Z" fill="#ff0000" stroke="#3b7dd8" stroke-width="0.6"/><ellipse cx="46.3" cy="682.1" rx="20" ry="17.3" fill="none" stroke="#0000ff" stroke-width="6.6"/><ellipse cx="46.3" cy="682.1" rx="8.5" ry="7.5" fill="#0000ff"/><text x="23.1" y="530.3" style="font-style:italic;font-weight:normal;font-size:38px" stroke="#000" stroke-width="0.5">y</text><text x="1.8" y="711.1" style="font-style:italic;font-weight:normal;font-size:38px" stroke="#000" stroke-width="0.5">z</text><text x="171" y="715.4" style="font-style:italic;font-weight:normal;font-size:38px" stroke="#000" stroke-width="0.5">x</text>
<path d="M44 1438.5V1305.3h-5.8L50.1 1293.2l11.9 12.1h-5.8V1438.5Z" fill="#00ff00" stroke="#3b7dd8" stroke-width="0.6"/><path d="M56.3 1426.1H179.8v-5.8L191.6 1432l-11.8 11.6v-5.8H56.3Z" fill="#ff0000" stroke="#3b7dd8" stroke-width="0.6"/><ellipse cx="46.3" cy="1438.5" rx="20" ry="17.3" fill="none" stroke="#0000ff" stroke-width="6.6"/><ellipse cx="46.3" cy="1438.5" rx="8.5" ry="7.5" fill="#0000ff"/><text x="23.1" y="1286.7" style="font-style:italic;font-weight:normal;font-size:38px" stroke="#000" stroke-width="0.5">y</text><text x="1.8" y="1467.5" style="font-style:italic;font-weight:normal;font-size:38px" stroke="#000" stroke-width="0.5">z</text><text x="171" y="1471.8" style="font-style:italic;font-weight:normal;font-size:38px" stroke="#000" stroke-width="0.5">x</text>
<path d="M44 2195V2061.8h-5.8L50.1 2049.7l11.9 12.1h-5.8V2195Z" fill="#00ff00" stroke="#3b7dd8" stroke-width="0.6"/><path d="M56.3 2182.6H179.8v-5.8L191.6 2188.5l-11.8 11.6v-5.8H56.3Z" fill="#ff0000" stroke="#3b7dd8" stroke-width="0.6"/><ellipse cx="46.3" cy="2195" rx="20" ry="17.3" fill="none" stroke="#0000ff" stroke-width="6.6"/><ellipse cx="46.3" cy="2195" rx="8.5" ry="7.5" fill="#0000ff"/><text x="23.1" y="2043.2" style="font-style:italic;font-weight:normal;font-size:38px" stroke="#000" stroke-width="0.5">y</text><text x="1.8" y="2224" style="font-style:italic;font-weight:normal;font-size:38px" stroke="#000" stroke-width="0.5">z</text><text x="171" y="2228.3" style="font-style:italic;font-weight:normal;font-size:38px" stroke="#000" stroke-width="0.5">x</text>
<rect x="96.7" y="2.5" width="325.8" height="69" fill="#fff" stroke="#333" stroke-width="1.2"/><text x="9" y="52" style="font-size:44.5px">(b1)</text><text x="110" y="53.5" style="font-size:45px">(<tspan font-style="italic">l</tspan><tspan font-style="italic" font-weight="normal" style="font-size:27.5px" dy="11.5">z</tspan><tspan dy="-11.5"> , </tspan><tspan font-style="italic">σ</tspan><tspan font-style="italic" font-weight="normal" style="font-size:27.5px" dy="11.5">z</tspan><tspan dy="-11.5">) = (0, +1)</tspan></text>
<rect x="96.7" y="758.3" width="309.7" height="69" fill="#fff" stroke="#333" stroke-width="1.2"/><text x="9" y="807.8" style="font-size:44.5px">(b2)</text><text x="110" y="809.3" style="font-size:45px">(<tspan font-style="italic">l</tspan><tspan font-style="italic" font-weight="normal" style="font-size:27.5px" dy="11.5">z</tspan><tspan dy="-11.5"> , </tspan><tspan font-style="italic">σ</tspan><tspan font-style="italic" font-weight="normal" style="font-size:27.5px" dy="11.5">z</tspan><tspan dy="-11.5">) = (0, 0)</tspan></text>
<rect x="96.7" y="1514.4" width="326" height="69" fill="#fff" stroke="#333" stroke-width="1.2"/><text x="9" y="1563.9" style="font-size:44.5px">(b3)</text><text x="110" y="1565.4" style="font-size:45px">(<tspan font-style="italic">l</tspan><tspan font-style="italic" font-weight="normal" style="font-size:27.5px" dy="11.5">z</tspan><tspan dy="-11.5"> , </tspan><tspan font-style="italic">σ</tspan><tspan font-style="italic" font-weight="normal" style="font-size:27.5px" dy="11.5">z</tspan><tspan dy="-11.5">) = (0, -1)</tspan></text>
<path d="M440.8 544.8L450.7 542.1L460.4 538.8L470.0 534.9L479.3 530.5L488.3 525.5L497.0 520.0L505.4 514.0L513.4 507.6L521.0 500.7L528.2 493.3L534.9 485.5L541.2 477.4L547.0 468.9L552.3 460.1L557.1 450.9L561.3 441.6L565.0 431.9L568.1 422.1L570.6 412.1L572.5 402.0L573.8 391.8L574.5 381.6L574.7 371.3L574.2 361.0L573.1 350.8L571.4 340.6L569.2 330.6L566.3 320.7L562.9 311.0L558.9 301.5L554.3 292.3L549.3 283.3L543.7 274.7L537.6 266.4L531.0 258.4L524.0 250.9L516.6 243.8L508.7 237.2L500.5 231.0L491.9 225.3L483.0 220.1L473.8 215.5L464.4 211.4L454.7 207.8L444.9 204.8L434.9 202.5L424.7 200.7L414.5 199.5L409.6 183.2L357.7 210.4L420.4 227.3L417.3 210.8L426.7 212.1L436.1 214.0L445.4 216.4L454.5 219.4L463.4 222.8L472.1 226.8L480.5 231.3L488.7 236.3L496.6 241.7L504.1 247.6L511.3 253.9L518.1 260.6L524.5 267.8L530.5 275.2L536.1 283.0L541.1 291.1L545.7 299.5L549.8 308.2L553.4 317.0L556.5 326.1L559.0 335.3L561.0 344.7L562.5 354.2L563.4 363.7L563.7 373.2L563.5 382.8L562.7 392.4L561.4 401.8L559.5 411.2L557.1 420.5L554.1 429.6L550.7 438.5L546.7 447.2L542.2 455.6L537.2 463.8L531.8 471.7L525.9 479.2L519.6 486.4L512.9 493.2L505.7 499.6L498.3 505.6L490.5 511.2L482.4 516.2L474.0 520.8L465.3 524.9L456.5 528.5L447.4 531.6L438.2 534.1Z" fill="#ffff00" stroke="#4472c4" stroke-width="1.8" stroke-linejoin="miter"/>
<path d="M338.6 2057.2L328.7 2054.5L319.0 2051.2L309.4 2047.3L300.1 2042.9L291.1 2037.9L282.4 2032.4L274.0 2026.4L266.0 2020.0L258.4 2013.1L251.2 2005.7L244.5 1997.9L238.2 1989.8L232.4 1981.3L227.1 1972.5L222.3 1963.3L218.1 1954.0L214.4 1944.3L211.3 1934.5L208.8 1924.5L206.9 1914.4L205.6 1904.2L204.9 1894.0L204.7 1883.7L205.2 1873.4L206.3 1863.2L208.0 1853.0L210.2 1843.0L213.1 1833.1L216.5 1823.4L220.5 1813.9L225.1 1804.7L230.1 1795.7L235.7 1787.1L241.8 1778.8L248.4 1770.8L255.4 1763.3L262.8 1756.2L270.7 1749.6L278.9 1743.4L287.5 1737.7L296.4 1732.5L305.6 1727.9L315.0 1723.8L324.7 1720.2L334.5 1717.2L344.5 1714.9L354.7 1713.1L364.9 1711.9L369.8 1695.6L421.7 1722.8L359.0 1739.7L362.1 1723.2L352.7 1724.5L343.3 1726.4L334.0 1728.8L324.9 1731.8L316.0 1735.2L307.3 1739.2L298.9 1743.7L290.7 1748.7L282.8 1754.1L275.3 1760.0L268.1 1766.3L261.3 1773.0L254.9 1780.2L248.9 1787.6L243.3 1795.4L238.3 1803.5L233.7 1811.9L229.6 1820.6L226.0 1829.4L222.9 1838.5L220.4 1847.7L218.4 1857.1L216.9 1866.6L216.0 1876.1L215.7 1885.6L215.9 1895.2L216.7 1904.8L218.0 1914.2L219.9 1923.6L222.3 1932.9L225.3 1942.0L228.7 1950.9L232.7 1959.6L237.2 1968.0L242.2 1976.2L247.6 1984.1L253.5 1991.6L259.8 1998.8L266.5 2005.6L273.7 2012.0L281.1 2018.0L288.9 2023.6L297.0 2028.6L305.4 2033.2L314.1 2037.3L322.9 2040.9L332.0 2044.0L341.2 2046.5Z" fill="#ffff00" stroke="#4472c4" stroke-width="1.8" stroke-linejoin="miter"/>
<line x1="337.8" y1="201.9" x2="438.6" y2="577.1" stroke="#000" stroke-width="4.9" stroke-dasharray="14 4.95"/><path d="M334.2 188.7L350.2 206.8L340.5 202.5L335.7 203.8L329.4 212.4" fill="#000"/>
<line x1="861.8" y1="429.6" x2="1236.7" y2="329.1" stroke="#000" stroke-width="4.9" stroke-dasharray="14 4.95"/><path d="M848.6 433.1L866.7 417.1L862.5 426.9L863.7 431.6L872.3 437.9" fill="#000"/>
<line x1="1735.4" y1="560.5" x2="1635.2" y2="185.4" stroke="#000" stroke-width="4.9" stroke-dasharray="14 4.95"/><path d="M1738.9 573.7L1722.9 555.6L1732.7 559.8L1737.4 558.6L1743.8 550.0" fill="#000"/>
<line x1="435.4" y1="1714.2" x2="334.4" y2="2089.3" stroke="#000" stroke-width="4.9" stroke-dasharray="14 4.95"/><path d="M439.0 1701.0L443.8 1724.7L437.5 1716.1L432.7 1714.8L423.0 1719.0" fill="#000"/>
<line x1="1224.0" y1="1941.9" x2="849.1" y2="1841.4" stroke="#000" stroke-width="4.9" stroke-dasharray="14 4.95"/><path d="M1237.2 1945.4L1213.5 1950.2L1222.1 1943.9L1223.3 1939.2L1219.1 1929.4" fill="#000"/>
<line x1="1640.3" y1="2073.4" x2="1741.1" y2="1697.6" stroke="#000" stroke-width="4.9" stroke-dasharray="14 4.95"/><path d="M1636.7 2086.6L1631.9 2062.9L1638.2 2071.5L1643.0 2072.7L1652.7 2068.5" fill="#000"/>
<g transform="translate(560.7 569) scale(1 1)"><path d="M25 -0.5A25 27.4 0 0 0 -23.3 -8.3L-26.5 -8.3L-18.75 -0.3L-9.5 -8.3L-15.4 -8.3A17.3 19.6 0 0 1 17.3 -0.5Z" fill="#92d050" stroke="#2f5597" stroke-width="1.5" stroke-linejoin="miter"/><path d="M25 -0.5A25 27.4 0 0 0 -23.3 -8.3L-26.5 -8.3L-18.75 -0.3L-9.5 -8.3L-15.4 -8.3A17.3 19.6 0 0 1 17.3 -0.5Z" fill="#92d050" stroke="#2f5597" stroke-width="1.5" stroke-linejoin="miter" transform="rotate(180)"/></g>
<g transform="translate(567.7 2073.5) scale(-1 1)"><path d="M25 -0.5A25 27.4 0 0 0 -23.3 -8.3L-26.5 -8.3L-18.75 -0.3L-9.5 -8.3L-15.4 -8.3A17.3 19.6 0 0 1 17.3 -0.5Z" fill="#92d050" stroke="#2f5597" stroke-width="1.5" stroke-linejoin="miter"/><path d="M25 -0.5A25 27.4 0 0 0 -23.3 -8.3L-26.5 -8.3L-18.75 -0.3L-9.5 -8.3L-15.4 -8.3A17.3 19.6 0 0 1 17.3 -0.5Z" fill="#92d050" stroke="#2f5597" stroke-width="1.5" stroke-linejoin="miter" transform="rotate(180)"/></g>
<path d="M510.1 1331.9L540.8 1332.2L529.2 1320.6L570.3 1279.5L581.9 1291.1L581.6 1260.4L550.9 1260.1L562.5 1271.7L521.4 1312.8L509.8 1301.2Z" fill="#92d050" stroke="#2f5597" stroke-width="1.4" stroke-miterlimit="10"/>

</svg>
</body></html>
